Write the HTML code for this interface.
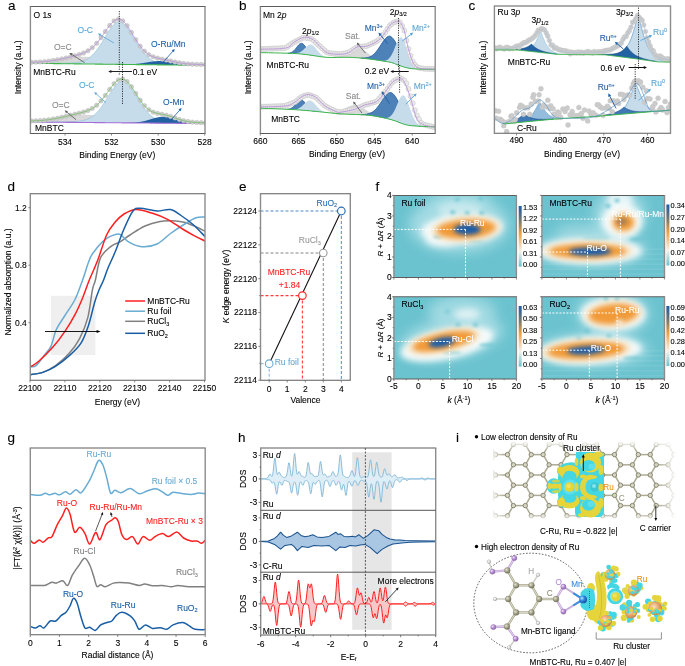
<!DOCTYPE html>
<html><head><meta charset="utf-8"><style>
html,body{margin:0;padding:0;background:#fff;width:685px;height:666px;overflow:hidden}
svg{display:block;will-change:transform}
text{font-family:"Liberation Sans", sans-serif;-webkit-font-smoothing:antialiased}
</style></head><body>
<svg width="685" height="666" viewBox="0 0 685 666" font-family='"Liberation Sans", sans-serif'>
<rect width="685" height="666" fill="#fff"/>
<clipPath id="clipA"><rect x="30.4" y="6.5" width="174.6" height="126.9"/></clipPath><g clip-path="url(#clipA)"><path d="M30.4,63.09 L30.9,63.08 L31.4,63.07 L31.9,63.06 L32.4,63.05 L32.9,63.04 L33.4,63.03 L33.9,63.02 L34.4,63 L34.9,62.99 L35.4,62.97 L35.9,62.95 L36.4,62.93 L36.9,62.91 L37.4,62.89 L37.9,62.87 L38.4,62.85 L38.9,62.82 L39.4,62.8 L39.9,62.77 L40.4,62.74 L40.9,62.71 L41.4,62.68 L41.9,62.65 L42.4,62.61 L42.9,62.58 L43.4,62.54 L43.9,62.5 L44.4,62.46 L44.9,62.42 L45.4,62.37 L45.9,62.33 L46.4,62.28 L46.9,62.23 L47.4,62.18 L47.9,62.13 L48.4,62.07 L48.9,62.01 L49.4,61.96 L49.9,61.9 L50.4,61.83 L50.9,61.77 L51.4,61.7 L51.9,61.64 L52.4,61.57 L52.9,61.5 L53.4,61.42 L53.9,61.35 L54.4,61.27 L54.9,61.19 L55.4,61.11 L55.9,61.03 L56.4,60.95 L56.9,60.87 L57.4,60.78 L57.9,60.69 L58.4,60.61 L58.9,60.52 L59.4,60.42 L59.9,60.33 L60.4,60.24 L60.9,60.15 L61.4,60.05 L61.9,59.96 L62.4,59.86 L62.9,59.76 L63.4,59.67 L63.9,59.57 L64.4,59.47 L64.9,59.37 L65.4,59.27 L65.9,59.18 L66.4,59.08 L66.9,58.98 L67.4,58.88 L67.9,58.79 L68.4,58.69 L68.9,58.6 L69.4,58.5 L69.9,58.41 L70.4,58.32 L70.9,58.23 L71.4,58.14 L71.9,58.06 L72.4,57.97 L72.9,57.89 L73.4,57.81 L73.9,57.73 L74.4,57.65 L74.9,57.58 L75.4,57.51 L75.9,57.44 L76.4,57.37 L76.9,57.31 L77.4,57.25 L77.9,57.19 L78.4,57.14 L78.9,57.09 L79.4,57.04 L79.9,57 L80.4,56.96 L80.9,56.92 L81.4,56.89 L81.9,56.86 L82.4,56.83 L82.9,56.81 L83.4,56.8 L83.9,56.78 L84.4,56.77 L84.9,56.77 L85.4,56.77 L85.9,56.77 L86.4,56.78 L86.9,56.79 L87.4,56.8 L87.9,56.82 L88.4,56.85 L88.9,56.88 L89.4,56.91 L89.9,56.94 L90.4,56.98 L90.9,57.02 L91.4,57.07 L91.9,57.12 L92.4,57.18 L92.9,57.23 L93.4,57.29 L93.9,57.36 L94.4,57.43 L94.9,57.5 L95.4,57.57 L95.9,57.65 L96.4,57.73 L96.9,57.81 L97.4,57.9 L97.9,57.98 L98.4,58.07 L98.9,58.16 L99.4,58.26 L99.9,58.36 L100.4,58.45 L100.9,58.55 L101.4,58.65 L101.9,58.76 L102.4,58.86 L102.9,58.97 L103.4,59.07 L103.9,59.18 L104.4,59.29 L104.9,59.4 L105.4,59.51 L105.9,59.62 L106.4,59.73 L106.9,59.83 L107.4,59.94 L107.9,60.05 L108.4,60.16 L108.9,60.27 L109.4,60.38 L109.9,60.49 L110.4,60.6 L110.9,60.71 L111.4,60.81 L111.9,60.92 L112.4,61.02 L112.9,61.13 L113.4,61.23 L113.9,61.33 L114.4,61.43 L114.9,61.53 L115.4,61.62 L115.9,61.72 L116.4,61.81 L116.9,61.9 L117.4,61.99 L117.9,62.08 L118.4,62.17 L118.9,62.26 L119.4,62.34 L119.9,62.42 L120.4,62.5 L120.9,62.58 L121.4,62.66 L121.9,62.73 L122.4,62.81 L122.9,62.88 L123.4,62.95 L123.9,63.01 L124.4,63.08 L124.9,63.14 L125.4,63.21 L125.9,63.27 L126.4,63.33 L126.9,63.38 L127.4,63.44 L127.9,63.49 L128.4,63.54 L128.9,63.59 L129.4,63.64 L129.9,63.69 L130.4,63.73 L130.9,63.78 L131.4,63.82 L131.9,63.86 L132.4,63.9 L132.9,63.94 L133.4,63.98 L133.9,64.01 L134.4,64.05 L134.9,64.08 L135.4,64.11 L135.9,64.14 L136.4,64.17 L136.9,64.2 L137.4,64.23 L137.9,64.26 L138.4,64.28 L138.9,64.31 L139.4,64.33 L139.9,64.35 L140.4,64.37 L140.9,64.39 L141.4,64.41 L141.9,64.43 L142.4,64.45 L142.9,64.47 L143.4,64.49 L143.9,64.51 L144.4,64.52 L144.4,64.67 L143.9,64.67 L143.4,64.66 L142.9,64.65 L142.4,64.65 L141.9,64.64 L141.4,64.64 L140.9,64.63 L140.4,64.62 L139.9,64.62 L139.4,64.61 L138.9,64.61 L138.4,64.6 L137.9,64.59 L137.4,64.59 L136.9,64.58 L136.4,64.58 L135.9,64.57 L135.4,64.56 L134.9,64.56 L134.4,64.55 L133.9,64.55 L133.4,64.54 L132.9,64.53 L132.4,64.53 L131.9,64.52 L131.4,64.52 L130.9,64.51 L130.4,64.5 L129.9,64.5 L129.4,64.49 L128.9,64.49 L128.4,64.48 L127.9,64.47 L127.4,64.47 L126.9,64.46 L126.4,64.46 L125.9,64.45 L125.4,64.44 L124.9,64.44 L124.4,64.43 L123.9,64.43 L123.4,64.42 L122.9,64.41 L122.4,64.41 L121.9,64.4 L121.4,64.4 L120.9,64.39 L120.4,64.38 L119.9,64.38 L119.4,64.37 L118.9,64.37 L118.4,64.36 L117.9,64.35 L117.4,64.35 L116.9,64.34 L116.4,64.34 L115.9,64.33 L115.4,64.32 L114.9,64.32 L114.4,64.31 L113.9,64.31 L113.4,64.3 L112.9,64.29 L112.4,64.29 L111.9,64.28 L111.4,64.28 L110.9,64.27 L110.4,64.26 L109.9,64.26 L109.4,64.25 L108.9,64.25 L108.4,64.24 L107.9,64.23 L107.4,64.23 L106.9,64.22 L106.4,64.22 L105.9,64.21 L105.4,64.2 L104.9,64.2 L104.4,64.19 L103.9,64.19 L103.4,64.18 L102.9,64.17 L102.4,64.17 L101.9,64.16 L101.4,64.16 L100.9,64.15 L100.4,64.14 L99.9,64.14 L99.4,64.13 L98.9,64.13 L98.4,64.12 L97.9,64.11 L97.4,64.11 L96.9,64.1 L96.4,64.1 L95.9,64.09 L95.4,64.08 L94.9,64.08 L94.4,64.07 L93.9,64.07 L93.4,64.06 L92.9,64.05 L92.4,64.05 L91.9,64.04 L91.4,64.04 L90.9,64.03 L90.4,64.02 L89.9,64.02 L89.4,64.01 L88.9,64.01 L88.4,64 L87.9,63.99 L87.4,63.99 L86.9,63.98 L86.4,63.98 L85.9,63.97 L85.4,63.96 L84.9,63.96 L84.4,63.95 L83.9,63.95 L83.4,63.94 L82.9,63.93 L82.4,63.93 L81.9,63.92 L81.4,63.92 L80.9,63.91 L80.4,63.9 L79.9,63.9 L79.4,63.89 L78.9,63.89 L78.4,63.88 L77.9,63.87 L77.4,63.87 L76.9,63.86 L76.4,63.86 L75.9,63.85 L75.4,63.84 L74.9,63.84 L74.4,63.83 L73.9,63.83 L73.4,63.82 L72.9,63.81 L72.4,63.81 L71.9,63.8 L71.4,63.8 L70.9,63.79 L70.4,63.78 L69.9,63.78 L69.4,63.77 L68.9,63.77 L68.4,63.76 L67.9,63.75 L67.4,63.75 L66.9,63.74 L66.4,63.74 L65.9,63.73 L65.4,63.72 L64.9,63.72 L64.4,63.71 L63.9,63.71 L63.4,63.7 L62.9,63.69 L62.4,63.69 L61.9,63.68 L61.4,63.68 L60.9,63.67 L60.4,63.66 L59.9,63.66 L59.4,63.65 L58.9,63.65 L58.4,63.64 L57.9,63.63 L57.4,63.63 L56.9,63.62 L56.4,63.62 L55.9,63.61 L55.4,63.6 L54.9,63.6 L54.4,63.59 L53.9,63.59 L53.4,63.58 L52.9,63.57 L52.4,63.57 L51.9,63.56 L51.4,63.56 L50.9,63.55 L50.4,63.54 L49.9,63.54 L49.4,63.53 L48.9,63.53 L48.4,63.52 L47.9,63.51 L47.4,63.51 L46.9,63.5 L46.4,63.5 L45.9,63.49 L45.4,63.48 L44.9,63.48 L44.4,63.47 L43.9,63.47 L43.4,63.46 L42.9,63.45 L42.4,63.45 L41.9,63.44 L41.4,63.44 L40.9,63.43 L40.4,63.42 L39.9,63.42 L39.4,63.41 L38.9,63.41 L38.4,63.4 L37.9,63.39 L37.4,63.39 L36.9,63.38 L36.4,63.38 L35.9,63.37 L35.4,63.36 L34.9,63.36 L34.4,63.35 L33.9,63.35 L33.4,63.34 L32.9,63.33 L32.4,63.33 L31.9,63.32 L31.4,63.32 L30.9,63.31 L30.4,63.3 Z" fill="#d9d9d9" stroke="none"/><path d="M30.4,63.11 L30.9,63.12 L31.4,63.12 L31.9,63.12 L32.4,63.13 L32.9,63.13 L33.4,63.13 L33.9,63.14 L34.4,63.14 L34.9,63.14 L35.4,63.15 L35.9,63.15 L36.4,63.16 L36.9,63.16 L37.4,63.16 L37.9,63.17 L38.4,63.17 L38.9,63.17 L39.4,63.18 L39.9,63.18 L40.4,63.18 L40.9,63.18 L41.4,63.19 L41.9,63.19 L42.4,63.19 L42.9,63.2 L43.4,63.2 L43.9,63.2 L44.4,63.2 L44.9,63.21 L45.4,63.21 L45.9,63.21 L46.4,63.21 L46.9,63.22 L47.4,63.22 L47.9,63.22 L48.4,63.22 L48.9,63.22 L49.4,63.23 L49.9,63.23 L50.4,63.23 L50.9,63.23 L51.4,63.23 L51.9,63.23 L52.4,63.23 L52.9,63.24 L53.4,63.24 L53.9,63.24 L54.4,63.24 L54.9,63.24 L55.4,63.24 L55.9,63.24 L56.4,63.24 L56.9,63.24 L57.4,63.24 L57.9,63.24 L58.4,63.24 L58.9,63.23 L59.4,63.23 L59.9,63.23 L60.4,63.23 L60.9,63.22 L61.4,63.22 L61.9,63.22 L62.4,63.21 L62.9,63.21 L63.4,63.2 L63.9,63.2 L64.4,63.19 L64.9,63.18 L65.4,63.17 L65.9,63.16 L66.4,63.15 L66.9,63.14 L67.4,63.13 L67.9,63.11 L68.4,63.09 L68.9,63.08 L69.4,63.06 L69.9,63.04 L70.4,63.01 L70.9,62.99 L71.4,62.96 L71.9,62.93 L72.4,62.89 L72.9,62.86 L73.4,62.82 L73.9,62.77 L74.4,62.73 L74.9,62.67 L75.4,62.62 L75.9,62.56 L76.4,62.49 L76.9,62.42 L77.4,62.34 L77.9,62.26 L78.4,62.17 L78.9,62.07 L79.4,61.97 L79.9,61.86 L80.4,61.74 L80.9,61.61 L81.4,61.47 L81.9,61.32 L82.4,61.16 L82.9,60.99 L83.4,60.81 L83.9,60.62 L84.4,60.42 L84.9,60.2 L85.4,59.97 L85.9,59.72 L86.4,59.46 L86.9,59.19 L87.4,58.89 L87.9,58.59 L88.4,58.26 L88.9,57.92 L89.4,57.56 L89.9,57.19 L90.4,56.79 L90.9,56.38 L91.4,55.95 L91.9,55.49 L92.4,55.02 L92.9,54.53 L93.4,54.02 L93.9,53.49 L94.4,52.94 L94.9,52.36 L95.4,51.77 L95.9,51.16 L96.4,50.53 L96.9,49.88 L97.4,49.22 L97.9,48.53 L98.4,47.83 L98.9,47.11 L99.4,46.37 L99.9,45.62 L100.4,44.86 L100.9,44.08 L101.4,43.29 L101.9,42.49 L102.4,41.68 L102.9,40.86 L103.4,40.04 L103.9,39.21 L104.4,38.38 L104.9,37.54 L105.4,36.71 L105.9,35.88 L106.4,35.05 L106.9,34.23 L107.4,33.42 L107.9,32.62 L108.4,31.83 L108.9,31.05 L109.4,30.29 L109.9,29.55 L110.4,28.83 L110.9,28.14 L111.4,27.47 L111.9,26.83 L112.4,26.22 L112.9,25.64 L113.4,25.1 L113.9,24.59 L114.4,24.12 L114.9,23.69 L115.4,23.3 L115.9,22.96 L116.4,22.66 L116.9,22.41 L117.4,22.21 L117.9,22.05 L118.4,21.94 L118.9,21.88 L119.4,21.87 L119.9,21.91 L120.4,22 L120.9,22.14 L121.4,22.33 L121.9,22.57 L122.4,22.85 L122.9,23.18 L123.4,23.55 L123.9,23.97 L124.4,24.43 L124.9,24.92 L125.4,25.46 L125.9,26.03 L126.4,26.63 L126.9,27.26 L127.4,27.93 L127.9,28.62 L128.4,29.34 L128.9,30.08 L129.4,30.84 L129.9,31.61 L130.4,32.41 L130.9,33.21 L131.4,34.03 L131.9,34.86 L132.4,35.7 L132.9,36.54 L133.4,37.38 L133.9,38.23 L134.4,39.07 L134.9,39.92 L135.4,40.76 L135.9,41.59 L136.4,42.42 L136.9,43.23 L137.4,44.04 L137.9,44.84 L138.4,45.62 L138.9,46.4 L139.4,47.15 L139.9,47.89 L140.4,48.62 L140.9,49.33 L141.4,50.02 L141.9,50.69 L142.4,51.34 L142.9,51.98 L143.4,52.59 L143.9,53.19 L144.4,53.76 L144.9,54.32 L145.4,54.85 L145.9,55.37 L146.4,55.86 L146.9,56.34 L147.4,56.8 L147.9,57.23 L148.4,57.65 L148.9,58.05 L149.4,58.43 L149.9,58.8 L150.4,59.14 L150.9,59.47 L151.4,59.78 L151.9,60.08 L152.4,60.36 L152.9,60.63 L153.4,60.88 L153.9,61.12 L154.4,61.34 L154.9,61.55 L155.4,61.75 L155.9,61.94 L156.4,62.12 L156.9,62.28 L157.4,62.44 L157.9,62.59 L158.4,62.73 L158.9,62.85 L159.4,62.97 L159.9,63.09 L160.4,63.19 L160.9,63.29 L161.4,63.39 L161.9,63.47 L162.4,63.55 L162.9,63.63 L163.4,63.7 L163.9,63.77 L164.4,63.83 L164.9,63.89 L165.4,63.94 L165.9,63.99 L166.4,64.04 L166.9,64.08 L167.4,64.12 L167.9,64.16 L168.4,64.2 L168.9,64.23 L169.4,64.27 L169.9,64.3 L170.4,64.33 L170.9,64.36 L171.4,64.38 L171.9,64.41 L172.4,64.43 L172.9,64.45 L173.4,64.47 L173.9,64.49 L174.4,64.51 L174.9,64.53 L175.4,64.55 L175.9,64.57 L176.4,64.58 L176.9,64.6 L177.4,64.62 L177.9,64.63 L178.4,64.65 L178.9,64.66 L179.4,64.68 L179.9,64.69 L180.4,64.7 L180.9,64.72 L181.4,64.73 L181.9,64.74 L182.4,64.75 L182.9,64.77 L183.4,64.78 L183.9,64.79 L184.4,64.8 L184.9,64.81 L185.4,64.82 L185.9,64.83 L186.4,64.84 L186.9,64.86 L187.4,64.87 L187.9,64.88 L188.4,64.89 L188.9,64.9 L189.4,64.91 L189.9,64.92 L190.4,64.93 L190.9,64.94 L191.4,64.95 L191.9,64.96 L192.4,64.97 L192.9,64.98 L193.4,64.99 L193.9,65 L194.4,65.01 L194.9,65.01 L195.4,65.02 L195.9,65.03 L196.4,65.04 L196.9,65.05 L197.4,65.06 L197.9,65.07 L198.4,65.08 L198.9,65.09 L199.4,65.1 L199.9,65.11 L200.4,65.11 L200.9,65.12 L201.4,65.13 L201.9,65.14 L202.4,65.15 L202.9,65.16 L203.4,65.17 L203.9,65.17 L204.4,65.18 L204.9,65.19 L204.9,65.4 L204.4,65.39 L203.9,65.39 L203.4,65.38 L202.9,65.37 L202.4,65.37 L201.9,65.36 L201.4,65.36 L200.9,65.35 L200.4,65.34 L199.9,65.34 L199.4,65.33 L198.9,65.33 L198.4,65.32 L197.9,65.31 L197.4,65.31 L196.9,65.3 L196.4,65.3 L195.9,65.29 L195.4,65.28 L194.9,65.28 L194.4,65.27 L193.9,65.27 L193.4,65.26 L192.9,65.25 L192.4,65.25 L191.9,65.24 L191.4,65.24 L190.9,65.23 L190.4,65.22 L189.9,65.22 L189.4,65.21 L188.9,65.21 L188.4,65.2 L187.9,65.19 L187.4,65.19 L186.9,65.18 L186.4,65.18 L185.9,65.17 L185.4,65.16 L184.9,65.16 L184.4,65.15 L183.9,65.15 L183.4,65.14 L182.9,65.13 L182.4,65.13 L181.9,65.12 L181.4,65.12 L180.9,65.11 L180.4,65.1 L179.9,65.1 L179.4,65.09 L178.9,65.09 L178.4,65.08 L177.9,65.07 L177.4,65.07 L176.9,65.06 L176.4,65.06 L175.9,65.05 L175.4,65.04 L174.9,65.04 L174.4,65.03 L173.9,65.03 L173.4,65.02 L172.9,65.01 L172.4,65.01 L171.9,65 L171.4,65 L170.9,64.99 L170.4,64.98 L169.9,64.98 L169.4,64.97 L168.9,64.97 L168.4,64.96 L167.9,64.95 L167.4,64.95 L166.9,64.94 L166.4,64.94 L165.9,64.93 L165.4,64.92 L164.9,64.92 L164.4,64.91 L163.9,64.91 L163.4,64.9 L162.9,64.89 L162.4,64.89 L161.9,64.88 L161.4,64.88 L160.9,64.87 L160.4,64.86 L159.9,64.86 L159.4,64.85 L158.9,64.85 L158.4,64.84 L157.9,64.83 L157.4,64.83 L156.9,64.82 L156.4,64.82 L155.9,64.81 L155.4,64.8 L154.9,64.8 L154.4,64.79 L153.9,64.79 L153.4,64.78 L152.9,64.77 L152.4,64.77 L151.9,64.76 L151.4,64.76 L150.9,64.75 L150.4,64.74 L149.9,64.74 L149.4,64.73 L148.9,64.73 L148.4,64.72 L147.9,64.71 L147.4,64.71 L146.9,64.7 L146.4,64.7 L145.9,64.69 L145.4,64.68 L144.9,64.68 L144.4,64.67 L143.9,64.67 L143.4,64.66 L142.9,64.65 L142.4,64.65 L141.9,64.64 L141.4,64.64 L140.9,64.63 L140.4,64.62 L139.9,64.62 L139.4,64.61 L138.9,64.61 L138.4,64.6 L137.9,64.59 L137.4,64.59 L136.9,64.58 L136.4,64.58 L135.9,64.57 L135.4,64.56 L134.9,64.56 L134.4,64.55 L133.9,64.55 L133.4,64.54 L132.9,64.53 L132.4,64.53 L131.9,64.52 L131.4,64.52 L130.9,64.51 L130.4,64.5 L129.9,64.5 L129.4,64.49 L128.9,64.49 L128.4,64.48 L127.9,64.47 L127.4,64.47 L126.9,64.46 L126.4,64.46 L125.9,64.45 L125.4,64.44 L124.9,64.44 L124.4,64.43 L123.9,64.43 L123.4,64.42 L122.9,64.41 L122.4,64.41 L121.9,64.4 L121.4,64.4 L120.9,64.39 L120.4,64.38 L119.9,64.38 L119.4,64.37 L118.9,64.37 L118.4,64.36 L117.9,64.35 L117.4,64.35 L116.9,64.34 L116.4,64.34 L115.9,64.33 L115.4,64.32 L114.9,64.32 L114.4,64.31 L113.9,64.31 L113.4,64.3 L112.9,64.29 L112.4,64.29 L111.9,64.28 L111.4,64.28 L110.9,64.27 L110.4,64.26 L109.9,64.26 L109.4,64.25 L108.9,64.25 L108.4,64.24 L107.9,64.23 L107.4,64.23 L106.9,64.22 L106.4,64.22 L105.9,64.21 L105.4,64.2 L104.9,64.2 L104.4,64.19 L103.9,64.19 L103.4,64.18 L102.9,64.17 L102.4,64.17 L101.9,64.16 L101.4,64.16 L100.9,64.15 L100.4,64.14 L99.9,64.14 L99.4,64.13 L98.9,64.13 L98.4,64.12 L97.9,64.11 L97.4,64.11 L96.9,64.1 L96.4,64.1 L95.9,64.09 L95.4,64.08 L94.9,64.08 L94.4,64.07 L93.9,64.07 L93.4,64.06 L92.9,64.05 L92.4,64.05 L91.9,64.04 L91.4,64.04 L90.9,64.03 L90.4,64.02 L89.9,64.02 L89.4,64.01 L88.9,64.01 L88.4,64 L87.9,63.99 L87.4,63.99 L86.9,63.98 L86.4,63.98 L85.9,63.97 L85.4,63.96 L84.9,63.96 L84.4,63.95 L83.9,63.95 L83.4,63.94 L82.9,63.93 L82.4,63.93 L81.9,63.92 L81.4,63.92 L80.9,63.91 L80.4,63.9 L79.9,63.9 L79.4,63.89 L78.9,63.89 L78.4,63.88 L77.9,63.87 L77.4,63.87 L76.9,63.86 L76.4,63.86 L75.9,63.85 L75.4,63.84 L74.9,63.84 L74.4,63.83 L73.9,63.83 L73.4,63.82 L72.9,63.81 L72.4,63.81 L71.9,63.8 L71.4,63.8 L70.9,63.79 L70.4,63.78 L69.9,63.78 L69.4,63.77 L68.9,63.77 L68.4,63.76 L67.9,63.75 L67.4,63.75 L66.9,63.74 L66.4,63.74 L65.9,63.73 L65.4,63.72 L64.9,63.72 L64.4,63.71 L63.9,63.71 L63.4,63.7 L62.9,63.69 L62.4,63.69 L61.9,63.68 L61.4,63.68 L60.9,63.67 L60.4,63.66 L59.9,63.66 L59.4,63.65 L58.9,63.65 L58.4,63.64 L57.9,63.63 L57.4,63.63 L56.9,63.62 L56.4,63.62 L55.9,63.61 L55.4,63.6 L54.9,63.6 L54.4,63.59 L53.9,63.59 L53.4,63.58 L52.9,63.57 L52.4,63.57 L51.9,63.56 L51.4,63.56 L50.9,63.55 L50.4,63.54 L49.9,63.54 L49.4,63.53 L48.9,63.53 L48.4,63.52 L47.9,63.51 L47.4,63.51 L46.9,63.5 L46.4,63.5 L45.9,63.49 L45.4,63.48 L44.9,63.48 L44.4,63.47 L43.9,63.47 L43.4,63.46 L42.9,63.45 L42.4,63.45 L41.9,63.44 L41.4,63.44 L40.9,63.43 L40.4,63.42 L39.9,63.42 L39.4,63.41 L38.9,63.41 L38.4,63.4 L37.9,63.39 L37.4,63.39 L36.9,63.38 L36.4,63.38 L35.9,63.37 L35.4,63.36 L34.9,63.36 L34.4,63.35 L33.9,63.35 L33.4,63.34 L32.9,63.33 L32.4,63.33 L31.9,63.32 L31.4,63.32 L30.9,63.31 L30.4,63.3 Z" fill="#c6dcea" stroke="none"/><path d="M30.4,63.11 L30.9,63.12 L31.4,63.12 L31.9,63.12 L32.4,63.13 L32.9,63.13 L33.4,63.13 L33.9,63.14 L34.4,63.14 L34.9,63.14 L35.4,63.15 L35.9,63.15 L36.4,63.16 L36.9,63.16 L37.4,63.16 L37.9,63.17 L38.4,63.17 L38.9,63.17 L39.4,63.18 L39.9,63.18 L40.4,63.18 L40.9,63.18 L41.4,63.19 L41.9,63.19 L42.4,63.19 L42.9,63.2 L43.4,63.2 L43.9,63.2 L44.4,63.2 L44.9,63.21 L45.4,63.21 L45.9,63.21 L46.4,63.21 L46.9,63.22 L47.4,63.22 L47.9,63.22 L48.4,63.22 L48.9,63.22 L49.4,63.23 L49.9,63.23 L50.4,63.23 L50.9,63.23 L51.4,63.23 L51.9,63.23 L52.4,63.23 L52.9,63.24 L53.4,63.24 L53.9,63.24 L54.4,63.24 L54.9,63.24 L55.4,63.24 L55.9,63.24 L56.4,63.24 L56.9,63.24 L57.4,63.24 L57.9,63.24 L58.4,63.24 L58.9,63.23 L59.4,63.23 L59.9,63.23 L60.4,63.23 L60.9,63.22 L61.4,63.22 L61.9,63.22 L62.4,63.21 L62.9,63.21 L63.4,63.2 L63.9,63.2 L64.4,63.19 L64.9,63.18 L65.4,63.17 L65.9,63.16 L66.4,63.15 L66.9,63.14 L67.4,63.13 L67.9,63.11 L68.4,63.09 L68.9,63.08 L69.4,63.06 L69.9,63.04 L70.4,63.01 L70.9,62.99 L71.4,62.96 L71.9,62.93 L72.4,62.89 L72.9,62.86 L73.4,62.82 L73.9,62.77 L74.4,62.73 L74.9,62.67 L75.4,62.62 L75.9,62.56 L76.4,62.49 L76.9,62.42 L77.4,62.34 L77.9,62.26 L78.4,62.17 L78.9,62.07 L79.4,61.97 L79.9,61.86 L80.4,61.74 L80.9,61.61 L81.4,61.47 L81.9,61.32 L82.4,61.16 L82.9,60.99 L83.4,60.81 L83.9,60.62 L84.4,60.42 L84.9,60.2 L85.4,59.97 L85.9,59.72 L86.4,59.46 L86.9,59.19 L87.4,58.89 L87.9,58.59 L88.4,58.26 L88.9,57.92 L89.4,57.56 L89.9,57.19 L90.4,56.79 L90.9,56.38 L91.4,55.95 L91.9,55.49 L92.4,55.02 L92.9,54.53 L93.4,54.02 L93.9,53.49 L94.4,52.94 L94.9,52.36 L95.4,51.77 L95.9,51.16 L96.4,50.53 L96.9,49.88 L97.4,49.22 L97.9,48.53 L98.4,47.83 L98.9,47.11 L99.4,46.37 L99.9,45.62 L100.4,44.86 L100.9,44.08 L101.4,43.29 L101.9,42.49 L102.4,41.68 L102.9,40.86 L103.4,40.04 L103.9,39.21 L104.4,38.38 L104.9,37.54 L105.4,36.71 L105.9,35.88 L106.4,35.05 L106.9,34.23 L107.4,33.42 L107.9,32.62 L108.4,31.83 L108.9,31.05 L109.4,30.29 L109.9,29.55 L110.4,28.83 L110.9,28.14 L111.4,27.47 L111.9,26.83 L112.4,26.22 L112.9,25.64 L113.4,25.1 L113.9,24.59 L114.4,24.12 L114.9,23.69 L115.4,23.3 L115.9,22.96 L116.4,22.66 L116.9,22.41 L117.4,22.21 L117.9,22.05 L118.4,21.94 L118.9,21.88 L119.4,21.87 L119.9,21.91 L120.4,22 L120.9,22.14 L121.4,22.33 L121.9,22.57 L122.4,22.85 L122.9,23.18 L123.4,23.55 L123.9,23.97 L124.4,24.43 L124.9,24.92 L125.4,25.46 L125.9,26.03 L126.4,26.63 L126.9,27.26 L127.4,27.93 L127.9,28.62 L128.4,29.34 L128.9,30.08 L129.4,30.84 L129.9,31.61 L130.4,32.41 L130.9,33.21 L131.4,34.03 L131.9,34.86 L132.4,35.7 L132.9,36.54 L133.4,37.38 L133.9,38.23 L134.4,39.07 L134.9,39.92 L135.4,40.76 L135.9,41.59 L136.4,42.42 L136.9,43.23 L137.4,44.04 L137.9,44.84 L138.4,45.62 L138.9,46.4 L139.4,47.15 L139.9,47.89 L140.4,48.62 L140.9,49.33 L141.4,50.02 L141.9,50.69 L142.4,51.34 L142.9,51.98 L143.4,52.59 L143.9,53.19 L144.4,53.76 L144.9,54.32 L145.4,54.85 L145.9,55.37 L146.4,55.86 L146.9,56.34 L147.4,56.8 L147.9,57.23 L148.4,57.65 L148.9,58.05 L149.4,58.43 L149.9,58.8 L150.4,59.14 L150.9,59.47 L151.4,59.78 L151.9,60.08 L152.4,60.36 L152.9,60.63 L153.4,60.88 L153.9,61.12 L154.4,61.34 L154.9,61.55 L155.4,61.75 L155.9,61.94 L156.4,62.12 L156.9,62.28 L157.4,62.44 L157.9,62.59 L158.4,62.73 L158.9,62.85 L159.4,62.97 L159.9,63.09 L160.4,63.19 L160.9,63.29 L161.4,63.39 L161.9,63.47 L162.4,63.55 L162.9,63.63 L163.4,63.7 L163.9,63.77 L164.4,63.83 L164.9,63.89 L165.4,63.94 L165.9,63.99 L166.4,64.04 L166.9,64.08 L167.4,64.12 L167.9,64.16 L168.4,64.2 L168.9,64.23 L169.4,64.27 L169.9,64.3 L170.4,64.33 L170.9,64.36 L171.4,64.38 L171.9,64.41 L172.4,64.43 L172.9,64.45 L173.4,64.47 L173.9,64.49 L174.4,64.51 L174.9,64.53 L175.4,64.55 L175.9,64.57 L176.4,64.58 L176.9,64.6 L177.4,64.62 L177.9,64.63 L178.4,64.65 L178.9,64.66 L179.4,64.68 L179.9,64.69 L180.4,64.7 L180.9,64.72 L181.4,64.73 L181.9,64.74 L182.4,64.75 L182.9,64.77 L183.4,64.78 L183.9,64.79 L184.4,64.8 L184.9,64.81 L185.4,64.82 L185.9,64.83 L186.4,64.84 L186.9,64.86 L187.4,64.87 L187.9,64.88 L188.4,64.89 L188.9,64.9 L189.4,64.91 L189.9,64.92 L190.4,64.93 L190.9,64.94 L191.4,64.95 L191.9,64.96 L192.4,64.97 L192.9,64.98 L193.4,64.99 L193.9,65 L194.4,65.01 L194.9,65.01 L195.4,65.02 L195.9,65.03 L196.4,65.04 L196.9,65.05 L197.4,65.06 L197.9,65.07 L198.4,65.08 L198.9,65.09 L199.4,65.1 L199.9,65.11 L200.4,65.11 L200.9,65.12 L201.4,65.13 L201.9,65.14 L202.4,65.15 L202.9,65.16 L203.4,65.17 L203.9,65.17 L204.4,65.18 L204.9,65.19" fill="none" stroke="#8fbfdc" stroke-width="0.6"/><path d="M127.4,64.31 L127.9,64.29 L128.4,64.28 L128.9,64.27 L129.4,64.25 L129.9,64.24 L130.4,64.22 L130.9,64.2 L131.4,64.18 L131.9,64.16 L132.4,64.13 L132.9,64.1 L133.4,64.07 L133.9,64.04 L134.4,64.01 L134.9,63.97 L135.4,63.93 L135.9,63.89 L136.4,63.85 L136.9,63.8 L137.4,63.75 L137.9,63.7 L138.4,63.65 L138.9,63.59 L139.4,63.53 L139.9,63.47 L140.4,63.41 L140.9,63.34 L141.4,63.27 L141.9,63.2 L142.4,63.13 L142.9,63.05 L143.4,62.98 L143.9,62.9 L144.4,62.82 L144.9,62.74 L145.4,62.66 L145.9,62.58 L146.4,62.5 L146.9,62.42 L147.4,62.33 L147.9,62.25 L148.4,62.17 L148.9,62.09 L149.4,62.01 L149.9,61.93 L150.4,61.85 L150.9,61.78 L151.4,61.7 L151.9,61.63 L152.4,61.57 L152.9,61.5 L153.4,61.44 L153.9,61.38 L154.4,61.33 L154.9,61.28 L155.4,61.24 L155.9,61.2 L156.4,61.16 L156.9,61.13 L157.4,61.1 L157.9,61.08 L158.4,61.07 L158.9,61.06 L159.4,61.06 L159.9,61.06 L160.4,61.07 L160.9,61.08 L161.4,61.1 L161.9,61.12 L162.4,61.15 L162.9,61.19 L163.4,61.23 L163.9,61.27 L164.4,61.32 L164.9,61.38 L165.4,61.44 L165.9,61.5 L166.4,61.57 L166.9,61.64 L167.4,61.72 L167.9,61.8 L168.4,61.88 L168.9,61.96 L169.4,62.05 L169.9,62.14 L170.4,62.23 L170.9,62.32 L171.4,62.41 L171.9,62.5 L172.4,62.6 L172.9,62.69 L173.4,62.79 L173.9,62.88 L174.4,62.98 L174.9,63.07 L175.4,63.16 L175.9,63.25 L176.4,63.34 L176.9,63.43 L177.4,63.52 L177.9,63.6 L178.4,63.69 L178.9,63.77 L179.4,63.84 L179.9,63.92 L180.4,64 L180.9,64.07 L181.4,64.14 L181.9,64.2 L182.4,64.27 L182.9,64.33 L183.4,64.39 L183.9,64.45 L184.4,64.5 L184.9,64.55 L185.4,64.6 L185.9,64.65 L186.4,64.69 L186.9,64.74 L187.4,64.78 L187.9,64.81 L188.4,64.85 L188.9,64.89 L189.4,64.92 L189.9,64.95 L190.4,64.98 L190.9,65.01 L191.4,65.03 L191.9,65.06 L192.4,65.08 L192.9,65.1 L192.9,65.25 L192.4,65.25 L191.9,65.24 L191.4,65.24 L190.9,65.23 L190.4,65.22 L189.9,65.22 L189.4,65.21 L188.9,65.21 L188.4,65.2 L187.9,65.19 L187.4,65.19 L186.9,65.18 L186.4,65.18 L185.9,65.17 L185.4,65.16 L184.9,65.16 L184.4,65.15 L183.9,65.15 L183.4,65.14 L182.9,65.13 L182.4,65.13 L181.9,65.12 L181.4,65.12 L180.9,65.11 L180.4,65.1 L179.9,65.1 L179.4,65.09 L178.9,65.09 L178.4,65.08 L177.9,65.07 L177.4,65.07 L176.9,65.06 L176.4,65.06 L175.9,65.05 L175.4,65.04 L174.9,65.04 L174.4,65.03 L173.9,65.03 L173.4,65.02 L172.9,65.01 L172.4,65.01 L171.9,65 L171.4,65 L170.9,64.99 L170.4,64.98 L169.9,64.98 L169.4,64.97 L168.9,64.97 L168.4,64.96 L167.9,64.95 L167.4,64.95 L166.9,64.94 L166.4,64.94 L165.9,64.93 L165.4,64.92 L164.9,64.92 L164.4,64.91 L163.9,64.91 L163.4,64.9 L162.9,64.89 L162.4,64.89 L161.9,64.88 L161.4,64.88 L160.9,64.87 L160.4,64.86 L159.9,64.86 L159.4,64.85 L158.9,64.85 L158.4,64.84 L157.9,64.83 L157.4,64.83 L156.9,64.82 L156.4,64.82 L155.9,64.81 L155.4,64.8 L154.9,64.8 L154.4,64.79 L153.9,64.79 L153.4,64.78 L152.9,64.77 L152.4,64.77 L151.9,64.76 L151.4,64.76 L150.9,64.75 L150.4,64.74 L149.9,64.74 L149.4,64.73 L148.9,64.73 L148.4,64.72 L147.9,64.71 L147.4,64.71 L146.9,64.7 L146.4,64.7 L145.9,64.69 L145.4,64.68 L144.9,64.68 L144.4,64.67 L143.9,64.67 L143.4,64.66 L142.9,64.65 L142.4,64.65 L141.9,64.64 L141.4,64.64 L140.9,64.63 L140.4,64.62 L139.9,64.62 L139.4,64.61 L138.9,64.61 L138.4,64.6 L137.9,64.59 L137.4,64.59 L136.9,64.58 L136.4,64.58 L135.9,64.57 L135.4,64.56 L134.9,64.56 L134.4,64.55 L133.9,64.55 L133.4,64.54 L132.9,64.53 L132.4,64.53 L131.9,64.52 L131.4,64.52 L130.9,64.51 L130.4,64.5 L129.9,64.5 L129.4,64.49 L128.9,64.49 L128.4,64.48 L127.9,64.47 L127.4,64.47 Z" fill="#2262a3" stroke="none"/><path d="M30.4,63.3 L31.4,63.32 L32.4,63.33 L33.4,63.34 L34.4,63.35 L35.4,63.36 L36.4,63.38 L37.4,63.39 L38.4,63.4 L39.4,63.41 L40.4,63.42 L41.4,63.44 L42.4,63.45 L43.4,63.46 L44.4,63.47 L45.4,63.48 L46.4,63.5 L47.4,63.51 L48.4,63.52 L49.4,63.53 L50.4,63.54 L51.4,63.56 L52.4,63.57 L53.4,63.58 L54.4,63.59 L55.4,63.6 L56.4,63.62 L57.4,63.63 L58.4,63.64 L59.4,63.65 L60.4,63.66 L61.4,63.68 L62.4,63.69 L63.4,63.7 L64.4,63.71 L65.4,63.72 L66.4,63.74 L67.4,63.75 L68.4,63.76 L69.4,63.77 L70.4,63.78 L71.4,63.8 L72.4,63.81 L73.4,63.82 L74.4,63.83 L75.4,63.84 L76.4,63.86 L77.4,63.87 L78.4,63.88 L79.4,63.89 L80.4,63.9 L81.4,63.92 L82.4,63.93 L83.4,63.94 L84.4,63.95 L85.4,63.96 L86.4,63.98 L87.4,63.99 L88.4,64 L89.4,64.01 L90.4,64.02 L91.4,64.04 L92.4,64.05 L93.4,64.06 L94.4,64.07 L95.4,64.08 L96.4,64.1 L97.4,64.11 L98.4,64.12 L99.4,64.13 L100.4,64.14 L101.4,64.16 L102.4,64.17 L103.4,64.18 L104.4,64.19 L105.4,64.2 L106.4,64.22 L107.4,64.23 L108.4,64.24 L109.4,64.25 L110.4,64.26 L111.4,64.28 L112.4,64.29 L113.4,64.3 L114.4,64.31 L115.4,64.32 L116.4,64.34 L117.4,64.35 L118.4,64.36 L119.4,64.37 L120.4,64.38 L121.4,64.4 L122.4,64.41 L123.4,64.42 L124.4,64.43 L125.4,64.44 L126.4,64.46 L127.4,64.47 L128.4,64.48 L129.4,64.49 L130.4,64.5 L131.4,64.52 L132.4,64.53 L133.4,64.54 L134.4,64.55 L135.4,64.56 L136.4,64.58 L137.4,64.59 L138.4,64.6 L139.4,64.61 L140.4,64.62 L141.4,64.64 L142.4,64.65 L143.4,64.66 L144.4,64.67 L145.4,64.68 L146.4,64.7 L147.4,64.71 L148.4,64.72 L149.4,64.73 L150.4,64.74 L151.4,64.76 L152.4,64.77 L153.4,64.78 L154.4,64.79 L155.4,64.8 L156.4,64.82 L157.4,64.83 L158.4,64.84 L159.4,64.85 L160.4,64.86 L161.4,64.88 L162.4,64.89 L163.4,64.9 L164.4,64.91 L165.4,64.92 L166.4,64.94 L167.4,64.95 L168.4,64.96 L169.4,64.97 L170.4,64.98 L171.4,65 L172.4,65.01 L173.4,65.02 L174.4,65.03 L175.4,65.04 L176.4,65.06 L177.4,65.07 L178.4,65.08 L179.4,65.09 L180.4,65.1 L181.4,65.12 L182.4,65.13 L183.4,65.14 L184.4,65.15 L185.4,65.16 L186.4,65.18 L187.4,65.19 L188.4,65.2 L189.4,65.21 L190.4,65.22 L191.4,65.24 L192.4,65.25 L193.4,65.26 L194.4,65.27 L195.4,65.28 L196.4,65.3 L197.4,65.31 L198.4,65.32 L199.4,65.33 L200.4,65.34 L201.4,65.36 L202.4,65.37 L203.4,65.38 L204.4,65.39" fill="none" stroke="#3cb54a" stroke-width="1.1" stroke-linejoin="round"/><circle cx="31.4" cy="62.27" r="2.2" fill="#cfcfcf" stroke="#b9b9b9" stroke-width="0.5"/><circle cx="35.75" cy="62.14" r="2.2" fill="#cfcfcf" stroke="#b9b9b9" stroke-width="0.5"/><circle cx="40.1" cy="61.92" r="2.2" fill="#cfcfcf" stroke="#b9b9b9" stroke-width="0.5"/><circle cx="44.45" cy="61.59" r="2.2" fill="#cfcfcf" stroke="#b9b9b9" stroke-width="0.5"/><circle cx="48.8" cy="61.12" r="2.2" fill="#cfcfcf" stroke="#b9b9b9" stroke-width="0.5"/><circle cx="53.15" cy="60.52" r="2.2" fill="#cfcfcf" stroke="#b9b9b9" stroke-width="0.5"/><circle cx="57.5" cy="59.77" r="2.2" fill="#cfcfcf" stroke="#b9b9b9" stroke-width="0.5"/><circle cx="61.85" cy="58.9" r="2.2" fill="#cfcfcf" stroke="#b9b9b9" stroke-width="0.5"/><circle cx="66.2" cy="57.94" r="2.2" fill="#cfcfcf" stroke="#b9b9b9" stroke-width="0.5"/><circle cx="70.55" cy="56.91" r="2.2" fill="#cfcfcf" stroke="#b9b9b9" stroke-width="0.5"/><circle cx="74.9" cy="55.81" r="2.2" fill="#cfcfcf" stroke="#b9b9b9" stroke-width="0.5"/><circle cx="79.25" cy="54.56" r="2.2" fill="#cfcfcf" stroke="#b9b9b9" stroke-width="0.5"/><circle cx="83.6" cy="52.99" r="2.2" fill="#cfcfcf" stroke="#b9b9b9" stroke-width="0.5"/><circle cx="87.95" cy="50.79" r="2.2" fill="#cfcfcf" stroke="#b9b9b9" stroke-width="0.5"/><circle cx="92.3" cy="47.63" r="2.2" fill="#cfcfcf" stroke="#b9b9b9" stroke-width="0.5"/><circle cx="96.65" cy="43.28" r="2.2" fill="#cfcfcf" stroke="#b9b9b9" stroke-width="0.5"/><circle cx="101" cy="37.74" r="2.2" fill="#cfcfcf" stroke="#b9b9b9" stroke-width="0.5"/><circle cx="105.35" cy="31.48" r="2.2" fill="#cfcfcf" stroke="#b9b9b9" stroke-width="0.5"/><circle cx="109.7" cy="25.44" r="2.2" fill="#cfcfcf" stroke="#b9b9b9" stroke-width="0.5"/><circle cx="114.05" cy="20.89" r="2.2" fill="#cfcfcf" stroke="#b9b9b9" stroke-width="0.5"/><circle cx="118.4" cy="19.13" r="2.2" fill="#cfcfcf" stroke="#b9b9b9" stroke-width="0.5"/><circle cx="122.75" cy="20.86" r="2.2" fill="#cfcfcf" stroke="#b9b9b9" stroke-width="0.5"/><circle cx="127.1" cy="25.71" r="2.2" fill="#cfcfcf" stroke="#b9b9b9" stroke-width="0.5"/><circle cx="131.45" cy="32.48" r="2.2" fill="#cfcfcf" stroke="#b9b9b9" stroke-width="0.5"/><circle cx="135.8" cy="39.72" r="2.2" fill="#cfcfcf" stroke="#b9b9b9" stroke-width="0.5"/><circle cx="140.15" cy="46.21" r="2.2" fill="#cfcfcf" stroke="#b9b9b9" stroke-width="0.5"/><circle cx="144.5" cy="51.26" r="2.2" fill="#cfcfcf" stroke="#b9b9b9" stroke-width="0.5"/><circle cx="148.85" cy="54.7" r="2.2" fill="#cfcfcf" stroke="#b9b9b9" stroke-width="0.5"/><circle cx="153.2" cy="56.82" r="2.2" fill="#cfcfcf" stroke="#b9b9b9" stroke-width="0.5"/><circle cx="157.55" cy="58.13" r="2.2" fill="#cfcfcf" stroke="#b9b9b9" stroke-width="0.5"/><circle cx="161.9" cy="59.1" r="2.2" fill="#cfcfcf" stroke="#b9b9b9" stroke-width="0.5"/><circle cx="166.25" cy="60.03" r="2.2" fill="#cfcfcf" stroke="#b9b9b9" stroke-width="0.5"/><circle cx="170.6" cy="61.01" r="2.2" fill="#cfcfcf" stroke="#b9b9b9" stroke-width="0.5"/><circle cx="174.95" cy="61.97" r="2.2" fill="#cfcfcf" stroke="#b9b9b9" stroke-width="0.5"/><circle cx="179.3" cy="62.81" r="2.2" fill="#cfcfcf" stroke="#b9b9b9" stroke-width="0.5"/><circle cx="183.65" cy="63.46" r="2.2" fill="#cfcfcf" stroke="#b9b9b9" stroke-width="0.5"/><circle cx="188" cy="63.91" r="2.2" fill="#cfcfcf" stroke="#b9b9b9" stroke-width="0.5"/><circle cx="192.35" cy="64.19" r="2.2" fill="#cfcfcf" stroke="#b9b9b9" stroke-width="0.5"/><circle cx="196.7" cy="64.38" r="2.2" fill="#cfcfcf" stroke="#b9b9b9" stroke-width="0.5"/><circle cx="201.05" cy="64.5" r="2.2" fill="#cfcfcf" stroke="#b9b9b9" stroke-width="0.5"/><circle cx="205.4" cy="64.59" r="2.2" fill="#cfcfcf" stroke="#b9b9b9" stroke-width="0.5"/><path d="M30.4,62.29 L31.4,62.27 L32.4,62.25 L33.4,62.22 L34.4,62.19 L35.4,62.15 L36.4,62.11 L37.4,62.07 L38.4,62.02 L39.4,61.96 L40.4,61.9 L41.4,61.83 L42.4,61.76 L43.4,61.68 L44.4,61.59 L45.4,61.5 L46.4,61.4 L47.4,61.29 L48.4,61.17 L49.4,61.05 L50.4,60.92 L51.4,60.78 L52.4,60.63 L53.4,60.48 L54.4,60.32 L55.4,60.15 L56.4,59.97 L57.4,59.79 L58.4,59.6 L59.4,59.4 L60.4,59.2 L61.4,59 L62.4,58.78 L63.4,58.57 L64.4,58.35 L65.4,58.12 L66.4,57.89 L67.4,57.66 L68.4,57.43 L69.4,57.19 L70.4,56.95 L71.4,56.7 L72.4,56.46 L73.4,56.2 L74.4,55.94 L75.4,55.68 L76.4,55.41 L77.4,55.12 L78.4,54.83 L79.4,54.52 L80.4,54.19 L81.4,53.84 L82.4,53.47 L83.4,53.07 L84.4,52.64 L85.4,52.17 L86.4,51.66 L87.4,51.11 L88.4,50.51 L89.4,49.86 L90.4,49.15 L91.4,48.38 L92.4,47.55 L93.4,46.65 L94.4,45.69 L95.4,44.66 L96.4,43.56 L97.4,42.4 L98.4,41.18 L99.4,39.9 L100.4,38.57 L101.4,37.19 L102.4,35.77 L103.4,34.33 L104.4,32.87 L105.4,31.41 L106.4,29.96 L107.4,28.53 L108.4,27.15 L109.4,25.82 L110.4,24.57 L111.4,23.4 L112.4,22.35 L113.4,21.42 L114.4,20.63 L115.4,19.99 L116.4,19.52 L117.4,19.23 L118.4,19.13 L119.4,19.21 L120.4,19.49 L121.4,19.95 L122.4,20.59 L123.4,21.41 L124.4,22.38 L125.4,23.51 L126.4,24.76 L127.4,26.13 L128.4,27.6 L129.4,29.15 L130.4,30.75 L131.4,32.4 L132.4,34.07 L133.4,35.75 L134.4,37.42 L135.4,39.07 L136.4,40.68 L137.4,42.24 L138.4,43.75 L139.4,45.18 L140.4,46.55 L141.4,47.83 L142.4,49.03 L143.4,50.14 L144.4,51.16 L145.4,52.1 L146.4,52.95 L147.4,53.72 L148.4,54.41 L149.4,55.03 L150.4,55.58 L151.4,56.07 L152.4,56.51 L153.4,56.9 L154.4,57.24 L155.4,57.55 L156.4,57.84 L157.4,58.09 L158.4,58.33 L159.4,58.56 L160.4,58.78 L161.4,59 L162.4,59.21 L163.4,59.42 L164.4,59.63 L165.4,59.85 L166.4,60.07 L167.4,60.29 L168.4,60.51 L169.4,60.74 L170.4,60.97 L171.4,61.19 L172.4,61.42 L173.4,61.64 L174.4,61.86 L175.4,62.07 L176.4,62.27 L177.4,62.46 L178.4,62.65 L179.4,62.83 L180.4,62.99 L181.4,63.15 L182.4,63.29 L183.4,63.42 L184.4,63.55 L185.4,63.66 L186.4,63.76 L187.4,63.85 L188.4,63.94 L189.4,64.01 L190.4,64.08 L191.4,64.14 L192.4,64.2 L193.4,64.25 L194.4,64.29 L195.4,64.33 L196.4,64.37 L197.4,64.4 L198.4,64.43 L199.4,64.46 L200.4,64.48 L201.4,64.51 L202.4,64.53 L203.4,64.55 L204.4,64.57" fill="none" stroke="#b58ad8" stroke-width="0.8" stroke-linejoin="round"/><path d="M30.4,121.77 L30.9,121.76 L31.4,121.75 L31.9,121.73 L32.4,121.72 L32.9,121.71 L33.4,121.69 L33.9,121.68 L34.4,121.66 L34.9,121.64 L35.4,121.62 L35.9,121.6 L36.4,121.58 L36.9,121.56 L37.4,121.53 L37.9,121.51 L38.4,121.48 L38.9,121.45 L39.4,121.42 L39.9,121.39 L40.4,121.36 L40.9,121.32 L41.4,121.28 L41.9,121.25 L42.4,121.21 L42.9,121.17 L43.4,121.12 L43.9,121.08 L44.4,121.03 L44.9,120.99 L45.4,120.94 L45.9,120.88 L46.4,120.83 L46.9,120.77 L47.4,120.72 L47.9,120.66 L48.4,120.6 L48.9,120.53 L49.4,120.47 L49.9,120.4 L50.4,120.33 L50.9,120.26 L51.4,120.19 L51.9,120.11 L52.4,120.03 L52.9,119.95 L53.4,119.87 L53.9,119.79 L54.4,119.71 L54.9,119.62 L55.4,119.53 L55.9,119.44 L56.4,119.35 L56.9,119.26 L57.4,119.16 L57.9,119.06 L58.4,118.97 L58.9,118.87 L59.4,118.77 L59.9,118.67 L60.4,118.56 L60.9,118.46 L61.4,118.36 L61.9,118.25 L62.4,118.14 L62.9,118.04 L63.4,117.93 L63.9,117.82 L64.4,117.71 L64.9,117.61 L65.4,117.5 L65.9,117.39 L66.4,117.28 L66.9,117.17 L67.4,117.07 L67.9,116.96 L68.4,116.86 L68.9,116.75 L69.4,116.65 L69.9,116.55 L70.4,116.44 L70.9,116.34 L71.4,116.25 L71.9,116.15 L72.4,116.06 L72.9,115.97 L73.4,115.88 L73.9,115.79 L74.4,115.7 L74.9,115.62 L75.4,115.54 L75.9,115.47 L76.4,115.39 L76.9,115.32 L77.4,115.25 L77.9,115.19 L78.4,115.13 L78.9,115.07 L79.4,115.02 L79.9,114.97 L80.4,114.93 L80.9,114.88 L81.4,114.85 L81.9,114.81 L82.4,114.79 L82.9,114.76 L83.4,114.74 L83.9,114.72 L84.4,114.71 L84.9,114.7 L85.4,114.7 L85.9,114.7 L86.4,114.71 L86.9,114.72 L87.4,114.73 L87.9,114.75 L88.4,114.78 L88.9,114.8 L89.4,114.84 L89.9,114.87 L90.4,114.91 L90.9,114.96 L91.4,115.01 L91.9,115.06 L92.4,115.12 L92.9,115.18 L93.4,115.24 L93.9,115.31 L94.4,115.38 L94.9,115.45 L95.4,115.53 L95.9,115.61 L96.4,115.7 L96.9,115.79 L97.4,115.88 L97.9,115.97 L98.4,116.06 L98.9,116.16 L99.4,116.26 L99.9,116.36 L100.4,116.47 L100.9,116.57 L101.4,116.68 L101.9,116.79 L102.4,116.9 L102.9,117.01 L103.4,117.13 L103.9,117.24 L104.4,117.36 L104.9,117.47 L105.4,117.59 L105.9,117.7 L106.4,117.82 L106.9,117.94 L107.4,118.06 L107.9,118.17 L108.4,118.29 L108.9,118.41 L109.4,118.52 L109.9,118.64 L110.4,118.75 L110.9,118.87 L111.4,118.98 L111.9,119.09 L112.4,119.2 L112.9,119.31 L113.4,119.42 L113.9,119.53 L114.4,119.63 L114.9,119.74 L115.4,119.84 L115.9,119.94 L116.4,120.04 L116.9,120.14 L117.4,120.24 L117.9,120.33 L118.4,120.42 L118.9,120.51 L119.4,120.6 L119.9,120.69 L120.4,120.77 L120.9,120.86 L121.4,120.94 L121.9,121.02 L122.4,121.1 L122.9,121.17 L123.4,121.24 L123.9,121.31 L124.4,121.38 L124.9,121.45 L125.4,121.52 L125.9,121.58 L126.4,121.64 L126.9,121.7 L127.4,121.76 L127.9,121.82 L128.4,121.87 L128.9,121.92 L129.4,121.97 L129.9,122.02 L130.4,122.07 L130.9,122.11 L131.4,122.16 L131.9,122.2 L132.4,122.24 L132.9,122.28 L133.4,122.32 L133.9,122.36 L134.4,122.39 L134.9,122.43 L135.4,122.46 L135.9,122.49 L136.4,122.52 L136.9,122.55 L137.4,122.58 L137.9,122.6 L138.4,122.63 L138.9,122.65 L139.4,122.68 L139.9,122.7 L140.4,122.72 L140.9,122.74 L141.4,122.76 L141.9,122.78 L142.4,122.8 L142.9,122.82 L143.4,122.83 L143.9,122.85 L144.4,122.87 L144.9,122.88 L144.9,123.03 L144.4,123.03 L143.9,123.03 L143.4,123.02 L142.9,123.02 L142.4,123.01 L141.9,123.01 L141.4,123 L140.9,123 L140.4,122.99 L139.9,122.99 L139.4,122.98 L138.9,122.98 L138.4,122.98 L137.9,122.97 L137.4,122.97 L136.9,122.96 L136.4,122.96 L135.9,122.95 L135.4,122.95 L134.9,122.94 L134.4,122.94 L133.9,122.94 L133.4,122.93 L132.9,122.93 L132.4,122.92 L131.9,122.92 L131.4,122.91 L130.9,122.91 L130.4,122.9 L129.9,122.9 L129.4,122.89 L128.9,122.89 L128.4,122.89 L127.9,122.88 L127.4,122.88 L126.9,122.87 L126.4,122.87 L125.9,122.86 L125.4,122.86 L124.9,122.85 L124.4,122.85 L123.9,122.85 L123.4,122.84 L122.9,122.84 L122.4,122.83 L121.9,122.83 L121.4,122.82 L120.9,122.82 L120.4,122.81 L119.9,122.81 L119.4,122.8 L118.9,122.8 L118.4,122.8 L117.9,122.79 L117.4,122.79 L116.9,122.78 L116.4,122.78 L115.9,122.77 L115.4,122.77 L114.9,122.76 L114.4,122.76 L113.9,122.76 L113.4,122.75 L112.9,122.75 L112.4,122.74 L111.9,122.74 L111.4,122.73 L110.9,122.73 L110.4,122.72 L109.9,122.72 L109.4,122.71 L108.9,122.71 L108.4,122.71 L107.9,122.7 L107.4,122.7 L106.9,122.69 L106.4,122.69 L105.9,122.68 L105.4,122.68 L104.9,122.67 L104.4,122.67 L103.9,122.67 L103.4,122.66 L102.9,122.66 L102.4,122.65 L101.9,122.65 L101.4,122.64 L100.9,122.64 L100.4,122.63 L99.9,122.63 L99.4,122.62 L98.9,122.62 L98.4,122.62 L97.9,122.61 L97.4,122.61 L96.9,122.6 L96.4,122.6 L95.9,122.59 L95.4,122.59 L94.9,122.58 L94.4,122.58 L93.9,122.58 L93.4,122.57 L92.9,122.57 L92.4,122.56 L91.9,122.56 L91.4,122.55 L90.9,122.55 L90.4,122.54 L89.9,122.54 L89.4,122.53 L88.9,122.53 L88.4,122.53 L87.9,122.52 L87.4,122.52 L86.9,122.51 L86.4,122.51 L85.9,122.5 L85.4,122.5 L84.9,122.49 L84.4,122.49 L83.9,122.49 L83.4,122.48 L82.9,122.48 L82.4,122.47 L81.9,122.47 L81.4,122.46 L80.9,122.46 L80.4,122.45 L79.9,122.45 L79.4,122.44 L78.9,122.44 L78.4,122.44 L77.9,122.43 L77.4,122.43 L76.9,122.42 L76.4,122.42 L75.9,122.41 L75.4,122.41 L74.9,122.4 L74.4,122.4 L73.9,122.4 L73.4,122.39 L72.9,122.39 L72.4,122.38 L71.9,122.38 L71.4,122.37 L70.9,122.37 L70.4,122.36 L69.9,122.36 L69.4,122.35 L68.9,122.35 L68.4,122.35 L67.9,122.34 L67.4,122.34 L66.9,122.33 L66.4,122.33 L65.9,122.32 L65.4,122.32 L64.9,122.31 L64.4,122.31 L63.9,122.31 L63.4,122.3 L62.9,122.3 L62.4,122.29 L61.9,122.29 L61.4,122.28 L60.9,122.28 L60.4,122.27 L59.9,122.27 L59.4,122.26 L58.9,122.26 L58.4,122.26 L57.9,122.25 L57.4,122.25 L56.9,122.24 L56.4,122.24 L55.9,122.23 L55.4,122.23 L54.9,122.22 L54.4,122.22 L53.9,122.22 L53.4,122.21 L52.9,122.21 L52.4,122.2 L51.9,122.2 L51.4,122.19 L50.9,122.19 L50.4,122.18 L49.9,122.18 L49.4,122.17 L48.9,122.17 L48.4,122.17 L47.9,122.16 L47.4,122.16 L46.9,122.15 L46.4,122.15 L45.9,122.14 L45.4,122.14 L44.9,122.13 L44.4,122.13 L43.9,122.13 L43.4,122.12 L42.9,122.12 L42.4,122.11 L41.9,122.11 L41.4,122.1 L40.9,122.1 L40.4,122.09 L39.9,122.09 L39.4,122.08 L38.9,122.08 L38.4,122.08 L37.9,122.07 L37.4,122.07 L36.9,122.06 L36.4,122.06 L35.9,122.05 L35.4,122.05 L34.9,122.04 L34.4,122.04 L33.9,122.04 L33.4,122.03 L32.9,122.03 L32.4,122.02 L31.9,122.02 L31.4,122.01 L30.9,122.01 L30.4,122 Z" fill="#d9d9d9" stroke="none"/><path d="M30.4,121.83 L30.9,121.83 L31.4,121.83 L31.9,121.83 L32.4,121.84 L32.9,121.84 L33.4,121.84 L33.9,121.84 L34.4,121.85 L34.9,121.85 L35.4,121.85 L35.9,121.85 L36.4,121.86 L36.9,121.86 L37.4,121.86 L37.9,121.86 L38.4,121.87 L38.9,121.87 L39.4,121.87 L39.9,121.87 L40.4,121.87 L40.9,121.88 L41.4,121.88 L41.9,121.88 L42.4,121.88 L42.9,121.88 L43.4,121.88 L43.9,121.89 L44.4,121.89 L44.9,121.89 L45.4,121.89 L45.9,121.89 L46.4,121.89 L46.9,121.89 L47.4,121.9 L47.9,121.9 L48.4,121.9 L48.9,121.9 L49.4,121.9 L49.9,121.9 L50.4,121.9 L50.9,121.9 L51.4,121.9 L51.9,121.9 L52.4,121.9 L52.9,121.9 L53.4,121.9 L53.9,121.9 L54.4,121.9 L54.9,121.9 L55.4,121.9 L55.9,121.9 L56.4,121.9 L56.9,121.9 L57.4,121.9 L57.9,121.9 L58.4,121.9 L58.9,121.9 L59.4,121.9 L59.9,121.9 L60.4,121.89 L60.9,121.89 L61.4,121.89 L61.9,121.89 L62.4,121.88 L62.9,121.88 L63.4,121.88 L63.9,121.87 L64.4,121.87 L64.9,121.86 L65.4,121.86 L65.9,121.85 L66.4,121.85 L66.9,121.84 L67.4,121.83 L67.9,121.82 L68.4,121.81 L68.9,121.8 L69.4,121.79 L69.9,121.78 L70.4,121.76 L70.9,121.75 L71.4,121.73 L71.9,121.71 L72.4,121.69 L72.9,121.67 L73.4,121.65 L73.9,121.62 L74.4,121.59 L74.9,121.56 L75.4,121.53 L75.9,121.49 L76.4,121.46 L76.9,121.41 L77.4,121.37 L77.9,121.32 L78.4,121.26 L78.9,121.2 L79.4,121.14 L79.9,121.07 L80.4,121 L80.9,120.92 L81.4,120.83 L81.9,120.74 L82.4,120.64 L82.9,120.53 L83.4,120.41 L83.9,120.29 L84.4,120.16 L84.9,120.02 L85.4,119.86 L85.9,119.7 L86.4,119.53 L86.9,119.34 L87.4,119.15 L87.9,118.94 L88.4,118.72 L88.9,118.48 L89.4,118.23 L89.9,117.97 L90.4,117.69 L90.9,117.39 L91.4,117.08 L91.9,116.75 L92.4,116.41 L92.9,116.05 L93.4,115.67 L93.9,115.27 L94.4,114.85 L94.9,114.42 L95.4,113.96 L95.9,113.49 L96.4,113 L96.9,112.48 L97.4,111.95 L97.9,111.4 L98.4,110.83 L98.9,110.24 L99.4,109.63 L99.9,109 L100.4,108.36 L100.9,107.69 L101.4,107.01 L101.9,106.31 L102.4,105.6 L102.9,104.87 L103.4,104.13 L103.9,103.37 L104.4,102.61 L104.9,101.83 L105.4,101.04 L105.9,100.24 L106.4,99.44 L106.9,98.63 L107.4,97.82 L107.9,97 L108.4,96.19 L108.9,95.37 L109.4,94.56 L109.9,93.76 L110.4,92.96 L110.9,92.17 L111.4,91.39 L111.9,90.63 L112.4,89.88 L112.9,89.15 L113.4,88.43 L113.9,87.74 L114.4,87.08 L114.9,86.44 L115.4,85.83 L115.9,85.25 L116.4,84.71 L116.9,84.2 L117.4,83.72 L117.9,83.28 L118.4,82.89 L118.9,82.54 L119.4,82.23 L119.9,81.96 L120.4,81.74 L120.9,81.57 L121.4,81.44 L121.9,81.36 L122.4,81.33 L122.9,81.35 L123.4,81.42 L123.9,81.53 L124.4,81.7 L124.9,81.91 L125.4,82.17 L125.9,82.47 L126.4,82.81 L126.9,83.2 L127.4,83.63 L127.9,84.1 L128.4,84.6 L128.9,85.15 L129.4,85.72 L129.9,86.33 L130.4,86.96 L130.9,87.63 L131.4,88.32 L131.9,89.03 L132.4,89.76 L132.9,90.51 L133.4,91.28 L133.9,92.06 L134.4,92.85 L134.9,93.66 L135.4,94.47 L135.9,95.29 L136.4,96.11 L136.9,96.93 L137.4,97.76 L137.9,98.58 L138.4,99.4 L138.9,100.22 L139.4,101.03 L139.9,101.83 L140.4,102.62 L140.9,103.4 L141.4,104.17 L141.9,104.93 L142.4,105.67 L142.9,106.4 L143.4,107.11 L143.9,107.81 L144.4,108.49 L144.9,109.15 L145.4,109.79 L145.9,110.42 L146.4,111.03 L146.9,111.61 L147.4,112.18 L147.9,112.73 L148.4,113.26 L148.9,113.77 L149.4,114.26 L149.9,114.73 L150.4,115.18 L150.9,115.62 L151.4,116.03 L151.9,116.43 L152.4,116.8 L152.9,117.17 L153.4,117.51 L153.9,117.84 L154.4,118.15 L154.9,118.44 L155.4,118.72 L155.9,118.98 L156.4,119.23 L156.9,119.47 L157.4,119.69 L157.9,119.9 L158.4,120.1 L158.9,120.29 L159.4,120.46 L159.9,120.63 L160.4,120.78 L160.9,120.93 L161.4,121.07 L161.9,121.19 L162.4,121.31 L162.9,121.43 L163.4,121.53 L163.9,121.63 L164.4,121.72 L164.9,121.81 L165.4,121.89 L165.9,121.96 L166.4,122.03 L166.9,122.09 L167.4,122.16 L167.9,122.21 L168.4,122.27 L168.9,122.31 L169.4,122.36 L169.9,122.4 L170.4,122.44 L170.9,122.48 L171.4,122.52 L171.9,122.55 L172.4,122.58 L172.9,122.61 L173.4,122.64 L173.9,122.67 L174.4,122.69 L174.9,122.71 L175.4,122.74 L175.9,122.76 L176.4,122.78 L176.9,122.8 L177.4,122.81 L177.9,122.83 L178.4,122.85 L178.9,122.86 L179.4,122.88 L179.9,122.89 L180.4,122.91 L180.9,122.92 L181.4,122.94 L181.9,122.95 L182.4,122.96 L182.9,122.97 L183.4,122.98 L183.9,123 L184.4,123.01 L184.9,123.02 L185.4,123.03 L185.9,123.04 L186.4,123.05 L186.9,123.06 L187.4,123.07 L187.9,123.08 L188.4,123.09 L188.9,123.1 L189.4,123.11 L189.9,123.12 L190.4,123.13 L190.9,123.14 L191.4,123.14 L191.9,123.15 L192.4,123.16 L192.9,123.17 L193.4,123.18 L193.9,123.19 L194.4,123.2 L194.9,123.2 L195.4,123.21 L195.9,123.22 L196.4,123.23 L196.9,123.24 L197.4,123.24 L197.9,123.25 L198.4,123.26 L198.9,123.27 L199.4,123.28 L199.9,123.28 L200.4,123.29 L200.9,123.3 L201.4,123.3 L201.9,123.31 L202.4,123.32 L202.9,123.33 L203.4,123.33 L203.9,123.34 L204.4,123.35 L204.9,123.36 L204.9,123.57 L204.4,123.57 L203.9,123.57 L203.4,123.56 L202.9,123.56 L202.4,123.55 L201.9,123.55 L201.4,123.54 L200.9,123.54 L200.4,123.53 L199.9,123.53 L199.4,123.52 L198.9,123.52 L198.4,123.52 L197.9,123.51 L197.4,123.51 L196.9,123.5 L196.4,123.5 L195.9,123.49 L195.4,123.49 L194.9,123.48 L194.4,123.48 L193.9,123.48 L193.4,123.47 L192.9,123.47 L192.4,123.46 L191.9,123.46 L191.4,123.45 L190.9,123.45 L190.4,123.44 L189.9,123.44 L189.4,123.43 L188.9,123.43 L188.4,123.43 L187.9,123.42 L187.4,123.42 L186.9,123.41 L186.4,123.41 L185.9,123.4 L185.4,123.4 L184.9,123.39 L184.4,123.39 L183.9,123.39 L183.4,123.38 L182.9,123.38 L182.4,123.37 L181.9,123.37 L181.4,123.36 L180.9,123.36 L180.4,123.35 L179.9,123.35 L179.4,123.34 L178.9,123.34 L178.4,123.34 L177.9,123.33 L177.4,123.33 L176.9,123.32 L176.4,123.32 L175.9,123.31 L175.4,123.31 L174.9,123.3 L174.4,123.3 L173.9,123.3 L173.4,123.29 L172.9,123.29 L172.4,123.28 L171.9,123.28 L171.4,123.27 L170.9,123.27 L170.4,123.26 L169.9,123.26 L169.4,123.25 L168.9,123.25 L168.4,123.25 L167.9,123.24 L167.4,123.24 L166.9,123.23 L166.4,123.23 L165.9,123.22 L165.4,123.22 L164.9,123.21 L164.4,123.21 L163.9,123.21 L163.4,123.2 L162.9,123.2 L162.4,123.19 L161.9,123.19 L161.4,123.18 L160.9,123.18 L160.4,123.17 L159.9,123.17 L159.4,123.16 L158.9,123.16 L158.4,123.16 L157.9,123.15 L157.4,123.15 L156.9,123.14 L156.4,123.14 L155.9,123.13 L155.4,123.13 L154.9,123.12 L154.4,123.12 L153.9,123.12 L153.4,123.11 L152.9,123.11 L152.4,123.1 L151.9,123.1 L151.4,123.09 L150.9,123.09 L150.4,123.08 L149.9,123.08 L149.4,123.07 L148.9,123.07 L148.4,123.07 L147.9,123.06 L147.4,123.06 L146.9,123.05 L146.4,123.05 L145.9,123.04 L145.4,123.04 L144.9,123.03 L144.4,123.03 L143.9,123.03 L143.4,123.02 L142.9,123.02 L142.4,123.01 L141.9,123.01 L141.4,123 L140.9,123 L140.4,122.99 L139.9,122.99 L139.4,122.98 L138.9,122.98 L138.4,122.98 L137.9,122.97 L137.4,122.97 L136.9,122.96 L136.4,122.96 L135.9,122.95 L135.4,122.95 L134.9,122.94 L134.4,122.94 L133.9,122.94 L133.4,122.93 L132.9,122.93 L132.4,122.92 L131.9,122.92 L131.4,122.91 L130.9,122.91 L130.4,122.9 L129.9,122.9 L129.4,122.89 L128.9,122.89 L128.4,122.89 L127.9,122.88 L127.4,122.88 L126.9,122.87 L126.4,122.87 L125.9,122.86 L125.4,122.86 L124.9,122.85 L124.4,122.85 L123.9,122.85 L123.4,122.84 L122.9,122.84 L122.4,122.83 L121.9,122.83 L121.4,122.82 L120.9,122.82 L120.4,122.81 L119.9,122.81 L119.4,122.8 L118.9,122.8 L118.4,122.8 L117.9,122.79 L117.4,122.79 L116.9,122.78 L116.4,122.78 L115.9,122.77 L115.4,122.77 L114.9,122.76 L114.4,122.76 L113.9,122.76 L113.4,122.75 L112.9,122.75 L112.4,122.74 L111.9,122.74 L111.4,122.73 L110.9,122.73 L110.4,122.72 L109.9,122.72 L109.4,122.71 L108.9,122.71 L108.4,122.71 L107.9,122.7 L107.4,122.7 L106.9,122.69 L106.4,122.69 L105.9,122.68 L105.4,122.68 L104.9,122.67 L104.4,122.67 L103.9,122.67 L103.4,122.66 L102.9,122.66 L102.4,122.65 L101.9,122.65 L101.4,122.64 L100.9,122.64 L100.4,122.63 L99.9,122.63 L99.4,122.62 L98.9,122.62 L98.4,122.62 L97.9,122.61 L97.4,122.61 L96.9,122.6 L96.4,122.6 L95.9,122.59 L95.4,122.59 L94.9,122.58 L94.4,122.58 L93.9,122.58 L93.4,122.57 L92.9,122.57 L92.4,122.56 L91.9,122.56 L91.4,122.55 L90.9,122.55 L90.4,122.54 L89.9,122.54 L89.4,122.53 L88.9,122.53 L88.4,122.53 L87.9,122.52 L87.4,122.52 L86.9,122.51 L86.4,122.51 L85.9,122.5 L85.4,122.5 L84.9,122.49 L84.4,122.49 L83.9,122.49 L83.4,122.48 L82.9,122.48 L82.4,122.47 L81.9,122.47 L81.4,122.46 L80.9,122.46 L80.4,122.45 L79.9,122.45 L79.4,122.44 L78.9,122.44 L78.4,122.44 L77.9,122.43 L77.4,122.43 L76.9,122.42 L76.4,122.42 L75.9,122.41 L75.4,122.41 L74.9,122.4 L74.4,122.4 L73.9,122.4 L73.4,122.39 L72.9,122.39 L72.4,122.38 L71.9,122.38 L71.4,122.37 L70.9,122.37 L70.4,122.36 L69.9,122.36 L69.4,122.35 L68.9,122.35 L68.4,122.35 L67.9,122.34 L67.4,122.34 L66.9,122.33 L66.4,122.33 L65.9,122.32 L65.4,122.32 L64.9,122.31 L64.4,122.31 L63.9,122.31 L63.4,122.3 L62.9,122.3 L62.4,122.29 L61.9,122.29 L61.4,122.28 L60.9,122.28 L60.4,122.27 L59.9,122.27 L59.4,122.26 L58.9,122.26 L58.4,122.26 L57.9,122.25 L57.4,122.25 L56.9,122.24 L56.4,122.24 L55.9,122.23 L55.4,122.23 L54.9,122.22 L54.4,122.22 L53.9,122.22 L53.4,122.21 L52.9,122.21 L52.4,122.2 L51.9,122.2 L51.4,122.19 L50.9,122.19 L50.4,122.18 L49.9,122.18 L49.4,122.17 L48.9,122.17 L48.4,122.17 L47.9,122.16 L47.4,122.16 L46.9,122.15 L46.4,122.15 L45.9,122.14 L45.4,122.14 L44.9,122.13 L44.4,122.13 L43.9,122.13 L43.4,122.12 L42.9,122.12 L42.4,122.11 L41.9,122.11 L41.4,122.1 L40.9,122.1 L40.4,122.09 L39.9,122.09 L39.4,122.08 L38.9,122.08 L38.4,122.08 L37.9,122.07 L37.4,122.07 L36.9,122.06 L36.4,122.06 L35.9,122.05 L35.4,122.05 L34.9,122.04 L34.4,122.04 L33.9,122.04 L33.4,122.03 L32.9,122.03 L32.4,122.02 L31.9,122.02 L31.4,122.01 L30.9,122.01 L30.4,122 Z" fill="#c6dcea" stroke="none"/><path d="M30.4,121.83 L30.9,121.83 L31.4,121.83 L31.9,121.83 L32.4,121.84 L32.9,121.84 L33.4,121.84 L33.9,121.84 L34.4,121.85 L34.9,121.85 L35.4,121.85 L35.9,121.85 L36.4,121.86 L36.9,121.86 L37.4,121.86 L37.9,121.86 L38.4,121.87 L38.9,121.87 L39.4,121.87 L39.9,121.87 L40.4,121.87 L40.9,121.88 L41.4,121.88 L41.9,121.88 L42.4,121.88 L42.9,121.88 L43.4,121.88 L43.9,121.89 L44.4,121.89 L44.9,121.89 L45.4,121.89 L45.9,121.89 L46.4,121.89 L46.9,121.89 L47.4,121.9 L47.9,121.9 L48.4,121.9 L48.9,121.9 L49.4,121.9 L49.9,121.9 L50.4,121.9 L50.9,121.9 L51.4,121.9 L51.9,121.9 L52.4,121.9 L52.9,121.9 L53.4,121.9 L53.9,121.9 L54.4,121.9 L54.9,121.9 L55.4,121.9 L55.9,121.9 L56.4,121.9 L56.9,121.9 L57.4,121.9 L57.9,121.9 L58.4,121.9 L58.9,121.9 L59.4,121.9 L59.9,121.9 L60.4,121.89 L60.9,121.89 L61.4,121.89 L61.9,121.89 L62.4,121.88 L62.9,121.88 L63.4,121.88 L63.9,121.87 L64.4,121.87 L64.9,121.86 L65.4,121.86 L65.9,121.85 L66.4,121.85 L66.9,121.84 L67.4,121.83 L67.9,121.82 L68.4,121.81 L68.9,121.8 L69.4,121.79 L69.9,121.78 L70.4,121.76 L70.9,121.75 L71.4,121.73 L71.9,121.71 L72.4,121.69 L72.9,121.67 L73.4,121.65 L73.9,121.62 L74.4,121.59 L74.9,121.56 L75.4,121.53 L75.9,121.49 L76.4,121.46 L76.9,121.41 L77.4,121.37 L77.9,121.32 L78.4,121.26 L78.9,121.2 L79.4,121.14 L79.9,121.07 L80.4,121 L80.9,120.92 L81.4,120.83 L81.9,120.74 L82.4,120.64 L82.9,120.53 L83.4,120.41 L83.9,120.29 L84.4,120.16 L84.9,120.02 L85.4,119.86 L85.9,119.7 L86.4,119.53 L86.9,119.34 L87.4,119.15 L87.9,118.94 L88.4,118.72 L88.9,118.48 L89.4,118.23 L89.9,117.97 L90.4,117.69 L90.9,117.39 L91.4,117.08 L91.9,116.75 L92.4,116.41 L92.9,116.05 L93.4,115.67 L93.9,115.27 L94.4,114.85 L94.9,114.42 L95.4,113.96 L95.9,113.49 L96.4,113 L96.9,112.48 L97.4,111.95 L97.9,111.4 L98.4,110.83 L98.9,110.24 L99.4,109.63 L99.9,109 L100.4,108.36 L100.9,107.69 L101.4,107.01 L101.9,106.31 L102.4,105.6 L102.9,104.87 L103.4,104.13 L103.9,103.37 L104.4,102.61 L104.9,101.83 L105.4,101.04 L105.9,100.24 L106.4,99.44 L106.9,98.63 L107.4,97.82 L107.9,97 L108.4,96.19 L108.9,95.37 L109.4,94.56 L109.9,93.76 L110.4,92.96 L110.9,92.17 L111.4,91.39 L111.9,90.63 L112.4,89.88 L112.9,89.15 L113.4,88.43 L113.9,87.74 L114.4,87.08 L114.9,86.44 L115.4,85.83 L115.9,85.25 L116.4,84.71 L116.9,84.2 L117.4,83.72 L117.9,83.28 L118.4,82.89 L118.9,82.54 L119.4,82.23 L119.9,81.96 L120.4,81.74 L120.9,81.57 L121.4,81.44 L121.9,81.36 L122.4,81.33 L122.9,81.35 L123.4,81.42 L123.9,81.53 L124.4,81.7 L124.9,81.91 L125.4,82.17 L125.9,82.47 L126.4,82.81 L126.9,83.2 L127.4,83.63 L127.9,84.1 L128.4,84.6 L128.9,85.15 L129.4,85.72 L129.9,86.33 L130.4,86.96 L130.9,87.63 L131.4,88.32 L131.9,89.03 L132.4,89.76 L132.9,90.51 L133.4,91.28 L133.9,92.06 L134.4,92.85 L134.9,93.66 L135.4,94.47 L135.9,95.29 L136.4,96.11 L136.9,96.93 L137.4,97.76 L137.9,98.58 L138.4,99.4 L138.9,100.22 L139.4,101.03 L139.9,101.83 L140.4,102.62 L140.9,103.4 L141.4,104.17 L141.9,104.93 L142.4,105.67 L142.9,106.4 L143.4,107.11 L143.9,107.81 L144.4,108.49 L144.9,109.15 L145.4,109.79 L145.9,110.42 L146.4,111.03 L146.9,111.61 L147.4,112.18 L147.9,112.73 L148.4,113.26 L148.9,113.77 L149.4,114.26 L149.9,114.73 L150.4,115.18 L150.9,115.62 L151.4,116.03 L151.9,116.43 L152.4,116.8 L152.9,117.17 L153.4,117.51 L153.9,117.84 L154.4,118.15 L154.9,118.44 L155.4,118.72 L155.9,118.98 L156.4,119.23 L156.9,119.47 L157.4,119.69 L157.9,119.9 L158.4,120.1 L158.9,120.29 L159.4,120.46 L159.9,120.63 L160.4,120.78 L160.9,120.93 L161.4,121.07 L161.9,121.19 L162.4,121.31 L162.9,121.43 L163.4,121.53 L163.9,121.63 L164.4,121.72 L164.9,121.81 L165.4,121.89 L165.9,121.96 L166.4,122.03 L166.9,122.09 L167.4,122.16 L167.9,122.21 L168.4,122.27 L168.9,122.31 L169.4,122.36 L169.9,122.4 L170.4,122.44 L170.9,122.48 L171.4,122.52 L171.9,122.55 L172.4,122.58 L172.9,122.61 L173.4,122.64 L173.9,122.67 L174.4,122.69 L174.9,122.71 L175.4,122.74 L175.9,122.76 L176.4,122.78 L176.9,122.8 L177.4,122.81 L177.9,122.83 L178.4,122.85 L178.9,122.86 L179.4,122.88 L179.9,122.89 L180.4,122.91 L180.9,122.92 L181.4,122.94 L181.9,122.95 L182.4,122.96 L182.9,122.97 L183.4,122.98 L183.9,123 L184.4,123.01 L184.9,123.02 L185.4,123.03 L185.9,123.04 L186.4,123.05 L186.9,123.06 L187.4,123.07 L187.9,123.08 L188.4,123.09 L188.9,123.1 L189.4,123.11 L189.9,123.12 L190.4,123.13 L190.9,123.14 L191.4,123.14 L191.9,123.15 L192.4,123.16 L192.9,123.17 L193.4,123.18 L193.9,123.19 L194.4,123.2 L194.9,123.2 L195.4,123.21 L195.9,123.22 L196.4,123.23 L196.9,123.24 L197.4,123.24 L197.9,123.25 L198.4,123.26 L198.9,123.27 L199.4,123.28 L199.9,123.28 L200.4,123.29 L200.9,123.3 L201.4,123.3 L201.9,123.31 L202.4,123.32 L202.9,123.33 L203.4,123.33 L203.9,123.34 L204.4,123.35 L204.9,123.36" fill="none" stroke="#8fbfdc" stroke-width="0.6"/><path d="M129.4,122.74 L129.9,122.72 L130.4,122.71 L130.9,122.69 L131.4,122.67 L131.9,122.65 L132.4,122.63 L132.9,122.6 L133.4,122.57 L133.9,122.54 L134.4,122.51 L134.9,122.47 L135.4,122.43 L135.9,122.38 L136.4,122.34 L136.9,122.29 L137.4,122.23 L137.9,122.17 L138.4,122.11 L138.9,122.04 L139.4,121.97 L139.9,121.9 L140.4,121.82 L140.9,121.73 L141.4,121.64 L141.9,121.55 L142.4,121.45 L142.9,121.35 L143.4,121.24 L143.9,121.13 L144.4,121.01 L144.9,120.89 L145.4,120.77 L145.9,120.64 L146.4,120.51 L146.9,120.37 L147.4,120.24 L147.9,120.09 L148.4,119.95 L148.9,119.8 L149.4,119.66 L149.9,119.51 L150.4,119.36 L150.9,119.21 L151.4,119.06 L151.9,118.91 L152.4,118.76 L152.9,118.61 L153.4,118.46 L153.9,118.32 L154.4,118.18 L154.9,118.05 L155.4,117.91 L155.9,117.79 L156.4,117.67 L156.9,117.55 L157.4,117.44 L157.9,117.34 L158.4,117.25 L158.9,117.16 L159.4,117.08 L159.9,117.02 L160.4,116.96 L160.9,116.9 L161.4,116.86 L161.9,116.83 L162.4,116.81 L162.9,116.8 L163.4,116.8 L163.9,116.81 L164.4,116.83 L164.9,116.86 L165.4,116.9 L165.9,116.95 L166.4,117.01 L166.9,117.08 L167.4,117.16 L167.9,117.24 L168.4,117.34 L168.9,117.44 L169.4,117.55 L169.9,117.67 L170.4,117.79 L170.9,117.92 L171.4,118.06 L171.9,118.2 L172.4,118.34 L172.9,118.49 L173.4,118.64 L173.9,118.8 L174.4,118.95 L174.9,119.11 L175.4,119.27 L175.9,119.43 L176.4,119.59 L176.9,119.75 L177.4,119.91 L177.9,120.07 L178.4,120.22 L178.9,120.37 L179.4,120.52 L179.9,120.67 L180.4,120.82 L180.9,120.96 L181.4,121.09 L181.9,121.23 L182.4,121.36 L182.9,121.48 L183.4,121.6 L183.9,121.72 L184.4,121.83 L184.9,121.94 L185.4,122.04 L185.9,122.14 L186.4,122.23 L186.9,122.32 L187.4,122.4 L187.9,122.48 L188.4,122.56 L188.9,122.63 L189.4,122.7 L189.9,122.76 L190.4,122.82 L190.9,122.88 L191.4,122.93 L191.9,122.98 L192.4,123.03 L192.9,123.07 L193.4,123.11 L193.9,123.15 L194.4,123.18 L194.9,123.22 L195.4,123.25 L195.9,123.28 L196.4,123.3 L196.9,123.33 L197.4,123.35 L197.4,123.51 L196.9,123.5 L196.4,123.5 L195.9,123.49 L195.4,123.49 L194.9,123.48 L194.4,123.48 L193.9,123.48 L193.4,123.47 L192.9,123.47 L192.4,123.46 L191.9,123.46 L191.4,123.45 L190.9,123.45 L190.4,123.44 L189.9,123.44 L189.4,123.43 L188.9,123.43 L188.4,123.43 L187.9,123.42 L187.4,123.42 L186.9,123.41 L186.4,123.41 L185.9,123.4 L185.4,123.4 L184.9,123.39 L184.4,123.39 L183.9,123.39 L183.4,123.38 L182.9,123.38 L182.4,123.37 L181.9,123.37 L181.4,123.36 L180.9,123.36 L180.4,123.35 L179.9,123.35 L179.4,123.34 L178.9,123.34 L178.4,123.34 L177.9,123.33 L177.4,123.33 L176.9,123.32 L176.4,123.32 L175.9,123.31 L175.4,123.31 L174.9,123.3 L174.4,123.3 L173.9,123.3 L173.4,123.29 L172.9,123.29 L172.4,123.28 L171.9,123.28 L171.4,123.27 L170.9,123.27 L170.4,123.26 L169.9,123.26 L169.4,123.25 L168.9,123.25 L168.4,123.25 L167.9,123.24 L167.4,123.24 L166.9,123.23 L166.4,123.23 L165.9,123.22 L165.4,123.22 L164.9,123.21 L164.4,123.21 L163.9,123.21 L163.4,123.2 L162.9,123.2 L162.4,123.19 L161.9,123.19 L161.4,123.18 L160.9,123.18 L160.4,123.17 L159.9,123.17 L159.4,123.16 L158.9,123.16 L158.4,123.16 L157.9,123.15 L157.4,123.15 L156.9,123.14 L156.4,123.14 L155.9,123.13 L155.4,123.13 L154.9,123.12 L154.4,123.12 L153.9,123.12 L153.4,123.11 L152.9,123.11 L152.4,123.1 L151.9,123.1 L151.4,123.09 L150.9,123.09 L150.4,123.08 L149.9,123.08 L149.4,123.07 L148.9,123.07 L148.4,123.07 L147.9,123.06 L147.4,123.06 L146.9,123.05 L146.4,123.05 L145.9,123.04 L145.4,123.04 L144.9,123.03 L144.4,123.03 L143.9,123.03 L143.4,123.02 L142.9,123.02 L142.4,123.01 L141.9,123.01 L141.4,123 L140.9,123 L140.4,122.99 L139.9,122.99 L139.4,122.98 L138.9,122.98 L138.4,122.98 L137.9,122.97 L137.4,122.97 L136.9,122.96 L136.4,122.96 L135.9,122.95 L135.4,122.95 L134.9,122.94 L134.4,122.94 L133.9,122.94 L133.4,122.93 L132.9,122.93 L132.4,122.92 L131.9,122.92 L131.4,122.91 L130.9,122.91 L130.4,122.9 L129.9,122.9 L129.4,122.89 Z" fill="#2262a3" stroke="none"/><path d="M30.4,122 L31.4,122.01 L32.4,122.02 L33.4,122.03 L34.4,122.04 L35.4,122.05 L36.4,122.06 L37.4,122.07 L38.4,122.08 L39.4,122.08 L40.4,122.09 L41.4,122.1 L42.4,122.11 L43.4,122.12 L44.4,122.13 L45.4,122.14 L46.4,122.15 L47.4,122.16 L48.4,122.17 L49.4,122.17 L50.4,122.18 L51.4,122.19 L52.4,122.2 L53.4,122.21 L54.4,122.22 L55.4,122.23 L56.4,122.24 L57.4,122.25 L58.4,122.26 L59.4,122.26 L60.4,122.27 L61.4,122.28 L62.4,122.29 L63.4,122.3 L64.4,122.31 L65.4,122.32 L66.4,122.33 L67.4,122.34 L68.4,122.35 L69.4,122.35 L70.4,122.36 L71.4,122.37 L72.4,122.38 L73.4,122.39 L74.4,122.4 L75.4,122.41 L76.4,122.42 L77.4,122.43 L78.4,122.44 L79.4,122.44 L80.4,122.45 L81.4,122.46 L82.4,122.47 L83.4,122.48 L84.4,122.49 L85.4,122.5 L86.4,122.51 L87.4,122.52 L88.4,122.53 L89.4,122.53 L90.4,122.54 L91.4,122.55 L92.4,122.56 L93.4,122.57 L94.4,122.58 L95.4,122.59 L96.4,122.6 L97.4,122.61 L98.4,122.62 L99.4,122.62 L100.4,122.63 L101.4,122.64 L102.4,122.65 L103.4,122.66 L104.4,122.67 L105.4,122.68 L106.4,122.69 L107.4,122.7 L108.4,122.71 L109.4,122.71 L110.4,122.72 L111.4,122.73 L112.4,122.74 L113.4,122.75 L114.4,122.76 L115.4,122.77 L116.4,122.78 L117.4,122.79 L118.4,122.8 L119.4,122.8 L120.4,122.81 L121.4,122.82 L122.4,122.83 L123.4,122.84 L124.4,122.85 L125.4,122.86 L126.4,122.87 L127.4,122.88 L128.4,122.89 L129.4,122.89 L130.4,122.9 L131.4,122.91 L132.4,122.92 L133.4,122.93 L134.4,122.94 L135.4,122.95 L136.4,122.96 L137.4,122.97 L138.4,122.98 L139.4,122.98 L140.4,122.99 L141.4,123 L142.4,123.01 L143.4,123.02 L144.4,123.03 L145.4,123.04 L146.4,123.05 L147.4,123.06 L148.4,123.07 L149.4,123.07 L150.4,123.08 L151.4,123.09 L152.4,123.1 L153.4,123.11 L154.4,123.12 L155.4,123.13 L156.4,123.14 L157.4,123.15 L158.4,123.16 L159.4,123.16 L160.4,123.17 L161.4,123.18 L162.4,123.19 L163.4,123.2 L164.4,123.21 L165.4,123.22 L166.4,123.23 L167.4,123.24 L168.4,123.25 L169.4,123.25 L170.4,123.26 L171.4,123.27 L172.4,123.28 L173.4,123.29 L174.4,123.3 L175.4,123.31 L176.4,123.32 L177.4,123.33 L178.4,123.34 L179.4,123.34 L180.4,123.35 L181.4,123.36 L182.4,123.37 L183.4,123.38 L184.4,123.39 L185.4,123.4 L186.4,123.41 L187.4,123.42 L188.4,123.43 L189.4,123.43 L190.4,123.44 L191.4,123.45 L192.4,123.46 L193.4,123.47 L194.4,123.48 L195.4,123.49 L196.4,123.5 L197.4,123.51 L198.4,123.52 L199.4,123.52 L200.4,123.53 L201.4,123.54 L202.4,123.55 L203.4,123.56 L204.4,123.57" fill="none" stroke="#a46fd6" stroke-width="1.1" stroke-linejoin="round"/><circle cx="31.4" cy="120.97" r="2.2" fill="#cfcfcf" stroke="#b9b9b9" stroke-width="0.5"/><circle cx="35.75" cy="120.81" r="2.2" fill="#cfcfcf" stroke="#b9b9b9" stroke-width="0.5"/><circle cx="40.1" cy="120.56" r="2.2" fill="#cfcfcf" stroke="#b9b9b9" stroke-width="0.5"/><circle cx="44.45" cy="120.19" r="2.2" fill="#cfcfcf" stroke="#b9b9b9" stroke-width="0.5"/><circle cx="48.8" cy="119.67" r="2.2" fill="#cfcfcf" stroke="#b9b9b9" stroke-width="0.5"/><circle cx="53.15" cy="119.01" r="2.2" fill="#cfcfcf" stroke="#b9b9b9" stroke-width="0.5"/><circle cx="57.5" cy="118.2" r="2.2" fill="#cfcfcf" stroke="#b9b9b9" stroke-width="0.5"/><circle cx="61.85" cy="117.26" r="2.2" fill="#cfcfcf" stroke="#b9b9b9" stroke-width="0.5"/><circle cx="66.2" cy="116.25" r="2.2" fill="#cfcfcf" stroke="#b9b9b9" stroke-width="0.5"/><circle cx="70.55" cy="115.21" r="2.2" fill="#cfcfcf" stroke="#b9b9b9" stroke-width="0.5"/><circle cx="74.9" cy="114.18" r="2.2" fill="#cfcfcf" stroke="#b9b9b9" stroke-width="0.5"/><circle cx="79.25" cy="113.15" r="2.2" fill="#cfcfcf" stroke="#b9b9b9" stroke-width="0.5"/><circle cx="83.6" cy="112.02" r="2.2" fill="#cfcfcf" stroke="#b9b9b9" stroke-width="0.5"/><circle cx="87.95" cy="110.55" r="2.2" fill="#cfcfcf" stroke="#b9b9b9" stroke-width="0.5"/><circle cx="92.3" cy="108.42" r="2.2" fill="#cfcfcf" stroke="#b9b9b9" stroke-width="0.5"/><circle cx="96.65" cy="105.28" r="2.2" fill="#cfcfcf" stroke="#b9b9b9" stroke-width="0.5"/><circle cx="101" cy="100.91" r="2.2" fill="#cfcfcf" stroke="#b9b9b9" stroke-width="0.5"/><circle cx="105.35" cy="95.42" r="2.2" fill="#cfcfcf" stroke="#b9b9b9" stroke-width="0.5"/><circle cx="109.7" cy="89.35" r="2.2" fill="#cfcfcf" stroke="#b9b9b9" stroke-width="0.5"/><circle cx="114.05" cy="83.74" r="2.2" fill="#cfcfcf" stroke="#b9b9b9" stroke-width="0.5"/><circle cx="118.4" cy="79.91" r="2.2" fill="#cfcfcf" stroke="#b9b9b9" stroke-width="0.5"/><circle cx="122.75" cy="79.02" r="2.2" fill="#cfcfcf" stroke="#b9b9b9" stroke-width="0.5"/><circle cx="127.1" cy="81.52" r="2.2" fill="#cfcfcf" stroke="#b9b9b9" stroke-width="0.5"/><circle cx="131.45" cy="86.79" r="2.2" fill="#cfcfcf" stroke="#b9b9b9" stroke-width="0.5"/><circle cx="135.8" cy="93.5" r="2.2" fill="#cfcfcf" stroke="#b9b9b9" stroke-width="0.5"/><circle cx="140.15" cy="100.21" r="2.2" fill="#cfcfcf" stroke="#b9b9b9" stroke-width="0.5"/><circle cx="144.5" cy="105.82" r="2.2" fill="#cfcfcf" stroke="#b9b9b9" stroke-width="0.5"/><circle cx="148.85" cy="109.78" r="2.2" fill="#cfcfcf" stroke="#b9b9b9" stroke-width="0.5"/><circle cx="153.2" cy="112.14" r="2.2" fill="#cfcfcf" stroke="#b9b9b9" stroke-width="0.5"/><circle cx="157.55" cy="113.4" r="2.2" fill="#cfcfcf" stroke="#b9b9b9" stroke-width="0.5"/><circle cx="161.9" cy="114.23" r="2.2" fill="#cfcfcf" stroke="#b9b9b9" stroke-width="0.5"/><circle cx="166.25" cy="115.17" r="2.2" fill="#cfcfcf" stroke="#b9b9b9" stroke-width="0.5"/><circle cx="170.6" cy="116.44" r="2.2" fill="#cfcfcf" stroke="#b9b9b9" stroke-width="0.5"/><circle cx="174.95" cy="117.94" r="2.2" fill="#cfcfcf" stroke="#b9b9b9" stroke-width="0.5"/><circle cx="179.3" cy="119.43" r="2.2" fill="#cfcfcf" stroke="#b9b9b9" stroke-width="0.5"/><circle cx="183.65" cy="120.67" r="2.2" fill="#cfcfcf" stroke="#b9b9b9" stroke-width="0.5"/><circle cx="188" cy="121.56" r="2.2" fill="#cfcfcf" stroke="#b9b9b9" stroke-width="0.5"/><circle cx="192.35" cy="122.12" r="2.2" fill="#cfcfcf" stroke="#b9b9b9" stroke-width="0.5"/><circle cx="196.7" cy="122.45" r="2.2" fill="#cfcfcf" stroke="#b9b9b9" stroke-width="0.5"/><circle cx="201.05" cy="122.63" r="2.2" fill="#cfcfcf" stroke="#b9b9b9" stroke-width="0.5"/><circle cx="205.4" cy="122.74" r="2.2" fill="#cfcfcf" stroke="#b9b9b9" stroke-width="0.5"/><path d="M30.4,120.99 L31.4,120.97 L32.4,120.94 L33.4,120.9 L34.4,120.87 L35.4,120.82 L36.4,120.78 L37.4,120.73 L38.4,120.67 L39.4,120.6 L40.4,120.54 L41.4,120.46 L42.4,120.38 L43.4,120.29 L44.4,120.19 L45.4,120.09 L46.4,119.97 L47.4,119.86 L48.4,119.73 L49.4,119.59 L50.4,119.45 L51.4,119.3 L52.4,119.14 L53.4,118.97 L54.4,118.79 L55.4,118.61 L56.4,118.42 L57.4,118.22 L58.4,118.01 L59.4,117.8 L60.4,117.58 L61.4,117.36 L62.4,117.14 L63.4,116.91 L64.4,116.67 L65.4,116.44 L66.4,116.2 L67.4,115.96 L68.4,115.72 L69.4,115.48 L70.4,115.24 L71.4,115.01 L72.4,114.77 L73.4,114.53 L74.4,114.3 L75.4,114.06 L76.4,113.83 L77.4,113.59 L78.4,113.36 L79.4,113.12 L80.4,112.87 L81.4,112.62 L82.4,112.35 L83.4,112.07 L84.4,111.78 L85.4,111.47 L86.4,111.13 L87.4,110.76 L88.4,110.37 L89.4,109.93 L90.4,109.46 L91.4,108.94 L92.4,108.36 L93.4,107.74 L94.4,107.05 L95.4,106.31 L96.4,105.5 L97.4,104.62 L98.4,103.68 L99.4,102.67 L100.4,101.59 L101.4,100.45 L102.4,99.25 L103.4,98 L104.4,96.69 L105.4,95.35 L106.4,93.97 L107.4,92.58 L108.4,91.17 L109.4,89.77 L110.4,88.38 L111.4,87.04 L112.4,85.74 L113.4,84.5 L114.4,83.35 L115.4,82.3 L116.4,81.37 L117.4,80.56 L118.4,79.91 L119.4,79.41 L120.4,79.08 L121.4,78.93 L122.4,78.97 L123.4,79.18 L124.4,79.58 L125.4,80.16 L126.4,80.91 L127.4,81.81 L128.4,82.86 L129.4,84.04 L130.4,85.33 L131.4,86.72 L132.4,88.19 L133.4,89.71 L134.4,91.27 L135.4,92.86 L136.4,94.45 L137.4,96.03 L138.4,97.59 L139.4,99.1 L140.4,100.57 L141.4,101.97 L142.4,103.3 L143.4,104.55 L144.4,105.71 L145.4,106.78 L146.4,107.76 L147.4,108.65 L148.4,109.45 L149.4,110.16 L150.4,110.79 L151.4,111.33 L152.4,111.81 L153.4,112.22 L154.4,112.57 L155.4,112.87 L156.4,113.13 L157.4,113.37 L158.4,113.57 L159.4,113.77 L160.4,113.95 L161.4,114.14 L162.4,114.32 L163.4,114.52 L164.4,114.73 L165.4,114.96 L166.4,115.21 L167.4,115.47 L168.4,115.75 L169.4,116.05 L170.4,116.37 L171.4,116.7 L172.4,117.04 L173.4,117.39 L174.4,117.74 L175.4,118.1 L176.4,118.45 L177.4,118.8 L178.4,119.13 L179.4,119.46 L180.4,119.77 L181.4,120.07 L182.4,120.34 L183.4,120.61 L184.4,120.85 L185.4,121.07 L186.4,121.27 L187.4,121.46 L188.4,121.62 L189.4,121.77 L190.4,121.91 L191.4,122.02 L192.4,122.13 L193.4,122.22 L194.4,122.3 L195.4,122.37 L196.4,122.43 L197.4,122.49 L198.4,122.53 L199.4,122.57 L200.4,122.61 L201.4,122.64 L202.4,122.67 L203.4,122.7 L204.4,122.72" fill="none" stroke="#6dbb5c" stroke-width="0.8" stroke-linejoin="round"/></g><line x1="119.3" y1="11" x2="119.3" y2="75" stroke="#222" stroke-width="0.9" stroke-dasharray="1.2,1.2"/><line x1="122.5" y1="62" x2="122.5" y2="104.5" stroke="#222" stroke-width="0.9" stroke-dasharray="1.2,1.2"/><line x1="132" y1="71.5" x2="110.9" y2="71.5" stroke="#222" stroke-width="1.0"/><path d="M108.2,71.5 L111.4,70 L111.4,73 Z" fill="#222"/><line x1="29.8" y1="6.5" x2="205.6" y2="6.5" stroke="#5c5c5c" stroke-width="1.05"/><line x1="29.8" y1="133.4" x2="205.6" y2="133.4" stroke="#5c5c5c" stroke-width="1.05"/><line x1="30.4" y1="6.5" x2="30.4" y2="133.4" stroke="#8c8c8c" stroke-width="1.4"/><line x1="205" y1="6.5" x2="205" y2="133.4" stroke="#8c8c8c" stroke-width="1.4"/><line x1="65" y1="133.4" x2="65" y2="135.6" stroke="#6e6e6e" stroke-width="0.8"/><text x="65" y="144.5" font-size="8.5" fill="#000" stroke="#000" stroke-width="0.1" text-anchor="middle">534</text><line x1="111.5" y1="133.4" x2="111.5" y2="135.6" stroke="#6e6e6e" stroke-width="0.8"/><text x="111.5" y="144.5" font-size="8.5" fill="#000" stroke="#000" stroke-width="0.1" text-anchor="middle">532</text><line x1="158.2" y1="133.4" x2="158.2" y2="135.6" stroke="#6e6e6e" stroke-width="0.8"/><text x="158.2" y="144.5" font-size="8.5" fill="#000" stroke="#000" stroke-width="0.1" text-anchor="middle">530</text><line x1="204.7" y1="133.4" x2="204.7" y2="135.6" stroke="#6e6e6e" stroke-width="0.8"/><text x="204.7" y="144.5" font-size="8.5" fill="#000" stroke="#000" stroke-width="0.1" text-anchor="middle">528</text><text x="117.3" y="157.5" font-size="8.5" fill="#000" stroke="#000" stroke-width="0.1" text-anchor="middle">Binding Energy (eV)</text><text x="21.3" y="67.3" font-size="8.5" fill="#000" stroke="#000" stroke-width="0.1" text-anchor="middle" transform="rotate(-90 21.3 67.3)">Intensity (a.u.)</text><text x="33.6" y="18.1" font-size="8.5" fill="#000" stroke="#000" stroke-width="0.1" text-anchor="start">O 1<tspan font-style="italic">s</tspan></text><text x="77.4" y="32.7" font-size="8.5" fill="#5aa6d6" stroke="#5aa6d6" stroke-width="0.1" text-anchor="start">O-C</text><line x1="114" y1="43" x2="100.05" y2="34.77" stroke="#5aa6d6" stroke-width="0.8"/><path d="M97.9,33.5 L101.2,33.82 L99.77,36.23 Z" fill="#5aa6d6"/><text x="54" y="49.5" font-size="8.5" fill="#8a8a8a" stroke="#8a8a8a" stroke-width="0.1" text-anchor="start">O=C</text><line x1="84.7" y1="62.7" x2="71.51" y2="54.25" stroke="#555" stroke-width="0.8"/><path d="M69.4,52.9 L72.68,53.34 L71.17,55.7 Z" fill="#555"/><text x="151" y="47.3" font-size="8.5" fill="#1f5fa6" stroke="#1f5fa6" stroke-width="0.1" text-anchor="start">O-Ru/Mn</text><line x1="163.4" y1="62" x2="173.15" y2="50.88" stroke="#1f5fa6" stroke-width="0.8"/><path d="M174.8,49 L173.87,52.18 L171.77,50.33 Z" fill="#1f5fa6"/><text x="33.2" y="75.2" font-size="8.5" fill="#000" stroke="#000" stroke-width="0.1" text-anchor="start">MnBTC-Ru</text><text x="132.7" y="75.2" font-size="8.5" fill="#000" stroke="#000" stroke-width="0.1" text-anchor="start">0.1 eV</text><text x="78.9" y="88.4" font-size="8.5" fill="#5aa6d6" stroke="#5aa6d6" stroke-width="0.1" text-anchor="start">O-C</text><line x1="105.9" y1="102.7" x2="96.04" y2="93.69" stroke="#5aa6d6" stroke-width="0.8"/><path d="M94.2,92 L97.36,92.99 L95.47,95.06 Z" fill="#5aa6d6"/><text x="51.9" y="108" font-size="8.5" fill="#8a8a8a" stroke="#8a8a8a" stroke-width="0.1" text-anchor="start">O=C</text><line x1="76" y1="119.7" x2="66.62" y2="111.9" stroke="#555" stroke-width="0.8"/><path d="M64.7,110.3 L67.9,111.14 L66.11,113.29 Z" fill="#555"/><text x="163.1" y="105.1" font-size="8.5" fill="#1f5fa6" stroke="#1f5fa6" stroke-width="0.1" text-anchor="start">O-Mn</text><line x1="169.2" y1="122" x2="179.94" y2="109.87" stroke="#1f5fa6" stroke-width="0.8"/><path d="M181.6,108 L180.66,111.17 L178.56,109.32 Z" fill="#1f5fa6"/><text x="35" y="130.7" font-size="8.5" fill="#000" stroke="#000" stroke-width="0.1" text-anchor="start">MnBTC</text><clipPath id="clipB"><rect x="260.4" y="6.5" width="174.8" height="126.9"/></clipPath><g clip-path="url(#clipB)"><path d="M287.9,53.25 L288.4,53.21 L288.9,53.15 L289.4,53.06 L289.9,52.96 L290.4,52.82 L290.9,52.65 L291.4,52.45 L291.9,52.2 L292.4,51.9 L292.9,51.56 L293.4,51.16 L293.9,50.71 L294.4,50.21 L294.9,49.66 L295.4,49.07 L295.9,48.45 L296.4,47.8 L296.9,47.13 L297.4,46.46 L297.9,45.84 L298.4,45.27 L298.9,44.75 L299.4,44.3 L299.9,43.92 L300.4,43.64 L300.9,43.46 L301.4,43.4 L301.9,43.45 L302.4,43.62 L302.9,43.9 L303.4,44.29 L303.9,44.77 L304.4,45.34 L304.9,45.97 L305.4,46.66 L305.9,47.38 L306.4,48.12 L306.9,48.86 L307.4,49.6 L307.9,50.31 L308.4,50.98 L308.9,51.62 L309.4,52.2 L309.9,52.74 L310.4,53.22 L310.9,53.65 L311.4,54.04 L311.9,54.37 L312.4,54.66 L312.9,54.92 L313.4,55.14 L313.9,55.32 L314.4,55.49 L314.9,55.63 L315.4,55.76 L315.4,55.94 L314.9,55.88 L314.4,55.81 L313.9,55.75 L313.4,55.69 L312.9,55.63 L312.4,55.56 L311.9,55.5 L311.4,55.44 L310.9,55.37 L310.4,55.31 L309.9,55.25 L309.4,55.19 L308.9,55.12 L308.4,55.06 L307.9,55 L307.4,54.93 L306.9,54.87 L306.4,54.81 L305.9,54.74 L305.4,54.68 L304.9,54.62 L304.4,54.56 L303.9,54.49 L303.4,54.43 L302.9,54.37 L302.4,54.3 L301.9,54.24 L301.4,54.18 L300.9,54.12 L300.4,54.05 L299.9,53.99 L299.4,53.93 L298.9,53.86 L298.4,53.8 L297.9,53.74 L297.4,53.69 L296.9,53.68 L296.4,53.67 L295.9,53.65 L295.4,53.64 L294.9,53.62 L294.4,53.61 L293.9,53.6 L293.4,53.58 L292.9,53.57 L292.4,53.55 L291.9,53.54 L291.4,53.53 L290.9,53.51 L290.4,53.5 L289.9,53.48 L289.4,53.47 L288.9,53.45 L288.4,53.44 L287.9,53.43 Z" fill="#4d82b9" stroke="none"/><path d="M287.9,53.25 L288.4,53.21 L288.9,53.15 L289.4,53.06 L289.9,52.96 L290.4,52.82 L290.9,52.65 L291.4,52.45 L291.9,52.2 L292.4,51.9 L292.9,51.56 L293.4,51.16 L293.9,50.71 L294.4,50.21 L294.9,49.66 L295.4,49.07 L295.9,48.45 L296.4,47.8 L296.9,47.13 L297.4,46.46 L297.9,45.84 L298.4,45.27 L298.9,44.75 L299.4,44.3 L299.9,43.92 L300.4,43.64 L300.9,43.46 L301.4,43.4 L301.9,43.45 L302.4,43.62 L302.9,43.9 L303.4,44.29 L303.9,44.77 L304.4,45.34 L304.9,45.97 L305.4,46.66 L305.9,47.38 L306.4,48.12 L306.9,48.86 L307.4,49.6 L307.9,50.31 L308.4,50.98 L308.9,51.62 L309.4,52.2 L309.9,52.74 L310.4,53.22 L310.9,53.65 L311.4,54.04 L311.9,54.37 L312.4,54.66 L312.9,54.92 L313.4,55.14 L313.9,55.32 L314.4,55.49 L314.9,55.63 L315.4,55.76" fill="none" stroke="#1f5a9c" stroke-width="0.9"/><path d="M294.4,53.42 L294.9,53.38 L295.4,53.33 L295.9,53.27 L296.4,53.19 L296.9,53.09 L297.4,52.97 L297.9,52.86 L298.4,52.74 L298.9,52.59 L299.4,52.41 L299.9,52.2 L300.4,51.95 L300.9,51.67 L301.4,51.35 L301.9,51 L302.4,50.61 L302.9,50.2 L303.4,49.75 L303.9,49.28 L304.4,48.79 L304.9,48.29 L305.4,47.79 L305.9,47.3 L306.4,46.81 L306.9,46.36 L307.4,45.93 L307.9,45.55 L308.4,45.22 L308.9,44.95 L309.4,44.74 L309.9,44.61 L310.4,44.55 L310.9,44.57 L311.4,44.68 L311.9,44.86 L312.4,45.12 L312.9,45.45 L313.4,45.85 L313.9,46.3 L314.4,46.81 L314.9,47.36 L315.4,47.95 L315.9,48.56 L316.4,49.18 L316.9,49.8 L317.4,50.43 L317.9,51.04 L318.4,51.64 L318.9,52.21 L319.4,52.75 L319.9,53.27 L320.4,53.75 L320.9,54.19 L321.4,54.6 L321.9,54.97 L322.4,55.31 L322.9,55.61 L323.4,55.89 L323.9,56.13 L324.4,56.35 L324.9,56.55 L325.4,56.72 L325.9,56.88 L326.4,57 L326.9,57.06 L327.4,57.11 L327.4,57.3 L326.9,57.3 L326.4,57.3 L325.9,57.26 L325.4,57.2 L324.9,57.14 L324.4,57.07 L323.9,57.01 L323.4,56.95 L322.9,56.88 L322.4,56.82 L321.9,56.76 L321.4,56.7 L320.9,56.63 L320.4,56.57 L319.9,56.51 L319.4,56.44 L318.9,56.38 L318.4,56.32 L317.9,56.26 L317.4,56.19 L316.9,56.13 L316.4,56.07 L315.9,56 L315.4,55.94 L314.9,55.88 L314.4,55.81 L313.9,55.75 L313.4,55.69 L312.9,55.63 L312.4,55.56 L311.9,55.5 L311.4,55.44 L310.9,55.37 L310.4,55.31 L309.9,55.25 L309.4,55.19 L308.9,55.12 L308.4,55.06 L307.9,55 L307.4,54.93 L306.9,54.87 L306.4,54.81 L305.9,54.74 L305.4,54.68 L304.9,54.62 L304.4,54.56 L303.9,54.49 L303.4,54.43 L302.9,54.37 L302.4,54.3 L301.9,54.24 L301.4,54.18 L300.9,54.12 L300.4,54.05 L299.9,53.99 L299.4,53.93 L298.9,53.86 L298.4,53.8 L297.9,53.74 L297.4,53.69 L296.9,53.68 L296.4,53.67 L295.9,53.65 L295.4,53.64 L294.9,53.62 L294.4,53.61 Z" fill="#c6dcea" stroke="none"/><path d="M327.9,57.15 L328.4,57.13 L328.9,57.1 L329.4,57.07 L329.9,57.04 L330.4,57 L330.9,56.96 L331.4,56.91 L331.9,56.85 L332.4,56.8 L332.9,56.73 L333.4,56.66 L333.9,56.58 L334.4,56.49 L334.9,56.4 L335.4,56.29 L335.9,56.18 L336.4,56.05 L336.9,55.92 L337.4,55.78 L337.9,55.62 L338.4,55.46 L338.9,55.28 L339.4,55.09 L339.9,54.89 L340.4,54.68 L340.9,54.45 L341.4,54.22 L341.9,53.97 L342.4,53.72 L342.9,53.45 L343.4,53.18 L343.9,52.89 L344.4,52.6 L344.9,52.3 L345.4,51.99 L345.9,51.68 L346.4,51.37 L346.9,51.06 L347.4,50.74 L347.9,50.43 L348.4,50.14 L348.9,49.87 L349.4,49.61 L349.9,49.35 L350.4,49.11 L350.9,48.88 L351.4,48.65 L351.9,48.45 L352.4,48.26 L352.9,48.09 L353.4,47.94 L353.9,47.81 L354.4,47.71 L354.9,47.63 L355.4,47.57 L355.9,47.53 L356.4,47.53 L356.9,47.54 L357.4,47.59 L357.9,47.66 L358.4,47.75 L358.9,47.87 L359.4,48.02 L359.9,48.19 L360.4,48.38 L360.9,48.59 L361.4,48.83 L361.9,49.08 L362.4,49.35 L362.9,49.64 L363.4,49.94 L363.9,50.25 L364.4,50.58 L364.9,50.91 L365.4,51.25 L365.9,51.59 L366.4,51.97 L366.9,52.36 L367.4,52.75 L367.9,53.14 L368.4,53.53 L368.9,53.91 L369.4,54.29 L369.9,54.66 L370.4,55.02 L370.9,55.38 L371.4,55.72 L371.9,56.06 L372.4,56.38 L372.9,56.7 L373.4,57 L373.9,57.29 L374.4,57.57 L374.9,57.84 L375.4,58.1 L375.9,58.34 L376.4,58.58 L376.9,58.8 L377.4,59.01 L377.9,59.21 L378.4,59.41 L378.9,59.59 L379.4,59.76 L379.9,59.93 L380.4,60.09 L380.9,60.24 L381.4,60.38 L381.9,60.52 L382.4,60.65 L382.9,60.77 L383.4,60.89 L383.9,61.01 L384.4,61.12 L384.9,61.22 L385.4,61.33 L385.9,61.43 L385.9,61.59 L385.4,61.51 L384.9,61.44 L384.4,61.36 L383.9,61.28 L383.4,61.21 L382.9,61.13 L382.4,61.06 L381.9,60.98 L381.4,60.91 L380.9,60.83 L380.4,60.76 L379.9,60.69 L379.4,60.61 L378.9,60.53 L378.4,60.46 L377.9,60.38 L377.4,60.31 L376.9,60.23 L376.4,60.16 L375.9,60.09 L375.4,60.01 L374.9,59.94 L374.4,59.86 L373.9,59.78 L373.4,59.71 L372.9,59.64 L372.4,59.56 L371.9,59.48 L371.4,59.41 L370.9,59.33 L370.4,59.26 L369.9,59.19 L369.4,59.11 L368.9,59.04 L368.4,58.96 L367.9,58.88 L367.4,58.81 L366.9,58.73 L366.4,58.66 L365.9,58.59 L365.4,58.56 L364.9,58.52 L364.4,58.48 L363.9,58.45 L363.4,58.41 L362.9,58.38 L362.4,58.34 L361.9,58.3 L361.4,58.27 L360.9,58.23 L360.4,58.2 L359.9,58.16 L359.4,58.12 L358.9,58.09 L358.4,58.05 L357.9,58.02 L357.4,57.98 L356.9,57.94 L356.4,57.91 L355.9,57.87 L355.4,57.83 L354.9,57.8 L354.4,57.76 L353.9,57.73 L353.4,57.69 L352.9,57.65 L352.4,57.62 L351.9,57.58 L351.4,57.55 L350.9,57.51 L350.4,57.47 L349.9,57.44 L349.4,57.4 L348.9,57.37 L348.4,57.33 L347.9,57.3 L347.4,57.3 L346.9,57.3 L346.4,57.3 L345.9,57.3 L345.4,57.3 L344.9,57.3 L344.4,57.3 L343.9,57.3 L343.4,57.3 L342.9,57.3 L342.4,57.3 L341.9,57.3 L341.4,57.3 L340.9,57.3 L340.4,57.3 L339.9,57.3 L339.4,57.3 L338.9,57.3 L338.4,57.3 L337.9,57.3 L337.4,57.3 L336.9,57.3 L336.4,57.3 L335.9,57.3 L335.4,57.3 L334.9,57.3 L334.4,57.3 L333.9,57.3 L333.4,57.3 L332.9,57.3 L332.4,57.3 L331.9,57.3 L331.4,57.3 L330.9,57.3 L330.4,57.3 L329.9,57.3 L329.4,57.3 L328.9,57.3 L328.4,57.3 L327.9,57.3 Z" fill="#d9d9d9" stroke="none"/><path d="M360.9,58.06 L361.4,58.06 L361.9,58.06 L362.4,58.05 L362.9,58.04 L363.4,58.01 L363.9,57.98 L364.4,57.94 L364.9,57.89 L365.4,57.83 L365.9,57.75 L366.4,57.69 L366.9,57.62 L367.4,57.54 L367.9,57.43 L368.4,57.31 L368.9,57.16 L369.4,56.99 L369.9,56.79 L370.4,56.57 L370.9,56.32 L371.4,56.04 L371.9,55.73 L372.4,55.39 L372.9,55.01 L373.4,54.6 L373.9,54.16 L374.4,53.69 L374.9,53.17 L375.4,52.63 L375.9,52.05 L376.4,51.44 L376.9,50.8 L377.4,50.13 L377.9,49.44 L378.4,48.72 L378.9,47.98 L379.4,47.22 L379.9,46.45 L380.4,45.68 L380.9,44.89 L381.4,44.11 L381.9,43.34 L382.4,42.58 L382.9,41.83 L383.4,41.11 L383.9,40.42 L384.4,39.76 L384.9,39.14 L385.4,38.57 L385.9,38.04 L386.4,37.58 L386.9,37.17 L387.4,36.83 L387.9,36.55 L388.4,36.35 L388.9,36.22 L389.4,36.17 L389.9,36.19 L390.4,36.36 L390.9,36.64 L391.4,36.99 L391.9,37.41 L392.4,37.91 L392.9,38.48 L393.4,39.11 L393.9,39.8 L394.4,40.55 L394.9,41.35 L395.4,42.2 L395.9,43.1 L396.4,44.03 L396.9,44.99 L397.4,45.98 L397.9,46.98 L398.4,47.97 L398.9,48.96 L399.4,49.95 L399.9,50.93 L400.4,51.92 L400.9,52.89 L401.4,53.84 L401.9,54.78 L402.4,55.69 L402.9,56.58 L403.4,57.44 L403.9,58.27 L404.4,59.07 L404.9,59.84 L405.4,60.57 L405.9,61.27 L406.4,61.93 L406.9,62.56 L407.4,63.16 L407.9,63.72 L408.4,64.25 L408.9,64.76 L409.4,65.23 L409.9,65.67 L410.4,66.08 L410.9,66.47 L411.4,66.84 L411.9,67.08 L412.4,67.29 L412.9,67.47 L413.4,67.64 L413.9,67.79 L414.4,67.92 L414.9,68.04 L415.4,68.15 L415.9,68.24 L416.4,68.33 L416.9,68.41 L417.4,68.48 L417.9,68.54 L418.4,68.6 L418.9,68.65 L419.4,68.69 L419.4,68.85 L418.9,68.83 L418.4,68.82 L417.9,68.8 L417.4,68.79 L416.9,68.77 L416.4,68.75 L415.9,68.74 L415.4,68.72 L414.9,68.71 L414.4,68.69 L413.9,68.68 L413.4,68.66 L412.9,68.64 L412.4,68.63 L411.9,68.61 L411.4,68.57 L410.9,68.44 L410.4,68.31 L409.9,68.17 L409.4,68.04 L408.9,67.91 L408.4,67.77 L407.9,67.64 L407.4,67.51 L406.9,67.37 L406.4,67.24 L405.9,67.11 L405.4,66.97 L404.9,66.84 L404.4,66.71 L403.9,66.57 L403.4,66.44 L402.9,66.31 L402.4,66.17 L401.9,66.04 L401.4,65.91 L400.9,65.77 L400.4,65.64 L399.9,65.51 L399.4,65.37 L398.9,65.24 L398.4,65.11 L397.9,64.96 L397.4,64.79 L396.9,64.61 L396.4,64.44 L395.9,64.26 L395.4,64.09 L394.9,63.91 L394.4,63.74 L393.9,63.56 L393.4,63.39 L392.9,63.21 L392.4,63.04 L391.9,62.86 L391.4,62.69 L390.9,62.51 L390.4,62.34 L389.9,62.18 L389.4,62.11 L388.9,62.04 L388.4,61.96 L387.9,61.88 L387.4,61.81 L386.9,61.73 L386.4,61.66 L385.9,61.59 L385.4,61.51 L384.9,61.44 L384.4,61.36 L383.9,61.28 L383.4,61.21 L382.9,61.13 L382.4,61.06 L381.9,60.98 L381.4,60.91 L380.9,60.83 L380.4,60.76 L379.9,60.69 L379.4,60.61 L378.9,60.53 L378.4,60.46 L377.9,60.38 L377.4,60.31 L376.9,60.23 L376.4,60.16 L375.9,60.09 L375.4,60.01 L374.9,59.94 L374.4,59.86 L373.9,59.78 L373.4,59.71 L372.9,59.64 L372.4,59.56 L371.9,59.48 L371.4,59.41 L370.9,59.33 L370.4,59.26 L369.9,59.19 L369.4,59.11 L368.9,59.04 L368.4,58.96 L367.9,58.88 L367.4,58.81 L366.9,58.73 L366.4,58.66 L365.9,58.59 L365.4,58.56 L364.9,58.52 L364.4,58.48 L363.9,58.45 L363.4,58.41 L362.9,58.38 L362.4,58.34 L361.9,58.3 L361.4,58.27 L360.9,58.23 Z" fill="#4d82b9" stroke="none"/><path d="M360.9,58.06 L361.4,58.06 L361.9,58.06 L362.4,58.05 L362.9,58.04 L363.4,58.01 L363.9,57.98 L364.4,57.94 L364.9,57.89 L365.4,57.83 L365.9,57.75 L366.4,57.69 L366.9,57.62 L367.4,57.54 L367.9,57.43 L368.4,57.31 L368.9,57.16 L369.4,56.99 L369.9,56.79 L370.4,56.57 L370.9,56.32 L371.4,56.04 L371.9,55.73 L372.4,55.39 L372.9,55.01 L373.4,54.6 L373.9,54.16 L374.4,53.69 L374.9,53.17 L375.4,52.63 L375.9,52.05 L376.4,51.44 L376.9,50.8 L377.4,50.13 L377.9,49.44 L378.4,48.72 L378.9,47.98 L379.4,47.22 L379.9,46.45 L380.4,45.68 L380.9,44.89 L381.4,44.11 L381.9,43.34 L382.4,42.58 L382.9,41.83 L383.4,41.11 L383.9,40.42 L384.4,39.76 L384.9,39.14 L385.4,38.57 L385.9,38.04 L386.4,37.58 L386.9,37.17 L387.4,36.83 L387.9,36.55 L388.4,36.35 L388.9,36.22 L389.4,36.17 L389.9,36.19 L390.4,36.36 L390.9,36.64 L391.4,36.99 L391.9,37.41 L392.4,37.91 L392.9,38.48 L393.4,39.11 L393.9,39.8 L394.4,40.55 L394.9,41.35 L395.4,42.2 L395.9,43.1 L396.4,44.03 L396.9,44.99 L397.4,45.98 L397.9,46.98 L398.4,47.97 L398.9,48.96 L399.4,49.95 L399.9,50.93 L400.4,51.92 L400.9,52.89 L401.4,53.84 L401.9,54.78 L402.4,55.69 L402.9,56.58 L403.4,57.44 L403.9,58.27 L404.4,59.07 L404.9,59.84 L405.4,60.57 L405.9,61.27 L406.4,61.93 L406.9,62.56 L407.4,63.16 L407.9,63.72 L408.4,64.25 L408.9,64.76 L409.4,65.23 L409.9,65.67 L410.4,66.08 L410.9,66.47 L411.4,66.84 L411.9,67.08 L412.4,67.29 L412.9,67.47 L413.4,67.64 L413.9,67.79 L414.4,67.92 L414.9,68.04 L415.4,68.15 L415.9,68.24 L416.4,68.33 L416.9,68.41 L417.4,68.48 L417.9,68.54 L418.4,68.6 L418.9,68.65 L419.4,68.69" fill="none" stroke="#1f5a9c" stroke-width="0.9"/><path d="M381.9,60.82 L382.4,60.85 L382.9,60.86 L383.4,60.86 L383.9,60.84 L384.4,60.79 L384.9,60.72 L385.4,60.62 L385.9,60.48 L386.4,60.3 L386.9,60.07 L387.4,59.79 L387.9,59.44 L388.4,59.03 L388.9,58.55 L389.4,57.99 L389.9,57.35 L390.4,56.7 L390.9,55.98 L391.4,55.18 L391.9,54.29 L392.4,53.32 L392.9,52.27 L393.4,51.15 L393.9,49.97 L394.4,48.75 L394.9,47.49 L395.4,46.23 L395.9,44.97 L396.4,43.74 L396.9,42.57 L397.4,41.47 L397.9,40.47 L398.4,39.55 L398.9,38.76 L399.4,38.13 L399.9,37.67 L400.4,37.39 L400.9,37.31 L401.4,37.42 L401.9,37.73 L402.4,38.24 L402.9,38.93 L403.4,39.79 L403.9,40.82 L404.4,41.98 L404.9,43.27 L405.4,44.67 L405.9,46.14 L406.4,47.66 L406.9,49.22 L407.4,50.8 L407.9,52.36 L408.4,53.9 L408.9,55.4 L409.4,56.84 L409.9,58.21 L410.4,59.51 L410.9,60.73 L411.4,61.85 L411.9,62.8 L412.4,63.64 L412.9,64.39 L413.4,65.05 L413.9,65.64 L414.4,66.16 L414.9,66.6 L415.4,66.99 L415.9,67.32 L416.4,67.6 L416.9,67.84 L417.4,68.04 L417.9,68.21 L418.4,68.35 L418.9,68.47 L419.4,68.56 L419.9,68.64 L420.4,68.71 L420.4,68.88 L419.9,68.87 L419.4,68.85 L418.9,68.83 L418.4,68.82 L417.9,68.8 L417.4,68.79 L416.9,68.77 L416.4,68.75 L415.9,68.74 L415.4,68.72 L414.9,68.71 L414.4,68.69 L413.9,68.68 L413.4,68.66 L412.9,68.64 L412.4,68.63 L411.9,68.61 L411.4,68.57 L410.9,68.44 L410.4,68.31 L409.9,68.17 L409.4,68.04 L408.9,67.91 L408.4,67.77 L407.9,67.64 L407.4,67.51 L406.9,67.37 L406.4,67.24 L405.9,67.11 L405.4,66.97 L404.9,66.84 L404.4,66.71 L403.9,66.57 L403.4,66.44 L402.9,66.31 L402.4,66.17 L401.9,66.04 L401.4,65.91 L400.9,65.77 L400.4,65.64 L399.9,65.51 L399.4,65.37 L398.9,65.24 L398.4,65.11 L397.9,64.96 L397.4,64.79 L396.9,64.61 L396.4,64.44 L395.9,64.26 L395.4,64.09 L394.9,63.91 L394.4,63.74 L393.9,63.56 L393.4,63.39 L392.9,63.21 L392.4,63.04 L391.9,62.86 L391.4,62.69 L390.9,62.51 L390.4,62.34 L389.9,62.18 L389.4,62.11 L388.9,62.04 L388.4,61.96 L387.9,61.88 L387.4,61.81 L386.9,61.73 L386.4,61.66 L385.9,61.59 L385.4,61.51 L384.9,61.44 L384.4,61.36 L383.9,61.28 L383.4,61.21 L382.9,61.13 L382.4,61.06 L381.9,60.98 Z" fill="#c6dcea" stroke="none"/><circle cx="259.4" cy="49.13" r="2.5" fill="#ebebeb" stroke="#c6c6c6" stroke-width="0.6"/><circle cx="261.5" cy="49.04" r="2.5" fill="#ebebeb" stroke="#c6c6c6" stroke-width="0.6"/><circle cx="263.6" cy="48.96" r="2.5" fill="#ebebeb" stroke="#c6c6c6" stroke-width="0.6"/><circle cx="265.7" cy="48.88" r="2.5" fill="#ebebeb" stroke="#c6c6c6" stroke-width="0.6"/><circle cx="267.8" cy="48.79" r="2.5" fill="#ebebeb" stroke="#c6c6c6" stroke-width="0.6"/><circle cx="269.9" cy="48.71" r="2.5" fill="#ebebeb" stroke="#c6c6c6" stroke-width="0.6"/><circle cx="272" cy="48.63" r="2.5" fill="#ebebeb" stroke="#c6c6c6" stroke-width="0.6"/><circle cx="274.1" cy="48.54" r="2.5" fill="#ebebeb" stroke="#c6c6c6" stroke-width="0.6"/><circle cx="276.2" cy="48.46" r="2.5" fill="#ebebeb" stroke="#c6c6c6" stroke-width="0.6"/><circle cx="278.3" cy="48.38" r="2.5" fill="#ebebeb" stroke="#c6c6c6" stroke-width="0.6"/><circle cx="280.4" cy="48.29" r="2.5" fill="#ebebeb" stroke="#c6c6c6" stroke-width="0.6"/><circle cx="282.5" cy="48.21" r="2.5" fill="#ebebeb" stroke="#c6c6c6" stroke-width="0.6"/><circle cx="284.6" cy="48.13" r="2.5" fill="#ebebeb" stroke="#c6c6c6" stroke-width="0.6"/><circle cx="286.7" cy="47.14" r="2.5" fill="#ebebeb" stroke="#c6c6c6" stroke-width="0.6"/><circle cx="288.8" cy="45.71" r="2.5" fill="#ebebeb" stroke="#c6c6c6" stroke-width="0.6"/><circle cx="290.9" cy="44.28" r="2.5" fill="#ebebeb" stroke="#c6c6c6" stroke-width="0.6"/><circle cx="293" cy="42.84" r="2.5" fill="#ebebeb" stroke="#c6c6c6" stroke-width="0.6"/><circle cx="295.1" cy="41.7" r="2.5" fill="#ebebeb" stroke="#c6c6c6" stroke-width="0.6"/><circle cx="297.2" cy="40.65" r="2.5" fill="#ebebeb" stroke="#c6c6c6" stroke-width="0.6"/><circle cx="299.3" cy="39.6" r="2.5" fill="#ebebeb" stroke="#c6c6c6" stroke-width="0.6"/><circle cx="301.4" cy="38.55" r="2.5" fill="#ebebeb" stroke="#c6c6c6" stroke-width="0.6"/><circle cx="303.5" cy="37.5" r="2.5" fill="#ebebeb" stroke="#c6c6c6" stroke-width="0.6"/><circle cx="305.6" cy="37.75" r="2.5" fill="#ebebeb" stroke="#c6c6c6" stroke-width="0.6"/><circle cx="307.7" cy="38.13" r="2.5" fill="#ebebeb" stroke="#c6c6c6" stroke-width="0.6"/><circle cx="309.8" cy="38.52" r="2.5" fill="#ebebeb" stroke="#c6c6c6" stroke-width="0.6"/><circle cx="311.9" cy="38.9" r="2.5" fill="#ebebeb" stroke="#c6c6c6" stroke-width="0.6"/><circle cx="314" cy="40.85" r="2.5" fill="#ebebeb" stroke="#c6c6c6" stroke-width="0.6"/><circle cx="316.1" cy="42.8" r="2.5" fill="#ebebeb" stroke="#c6c6c6" stroke-width="0.6"/><circle cx="318.2" cy="44.76" r="2.5" fill="#ebebeb" stroke="#c6c6c6" stroke-width="0.6"/><circle cx="320.3" cy="46.64" r="2.5" fill="#ebebeb" stroke="#c6c6c6" stroke-width="0.6"/><circle cx="322.4" cy="48.49" r="2.5" fill="#ebebeb" stroke="#c6c6c6" stroke-width="0.6"/><circle cx="324.5" cy="50.33" r="2.5" fill="#ebebeb" stroke="#c6c6c6" stroke-width="0.6"/><circle cx="326.6" cy="52.17" r="2.5" fill="#ebebeb" stroke="#c6c6c6" stroke-width="0.6"/><circle cx="328.7" cy="52.89" r="2.5" fill="#ebebeb" stroke="#c6c6c6" stroke-width="0.6"/><circle cx="330.8" cy="53.15" r="2.5" fill="#ebebeb" stroke="#c6c6c6" stroke-width="0.6"/><circle cx="332.9" cy="53.41" r="2.5" fill="#ebebeb" stroke="#c6c6c6" stroke-width="0.6"/><circle cx="335" cy="53.68" r="2.5" fill="#ebebeb" stroke="#c6c6c6" stroke-width="0.6"/><circle cx="337.1" cy="53.94" r="2.5" fill="#ebebeb" stroke="#c6c6c6" stroke-width="0.6"/><circle cx="339.2" cy="54.2" r="2.5" fill="#ebebeb" stroke="#c6c6c6" stroke-width="0.6"/><circle cx="341.3" cy="54.04" r="2.5" fill="#ebebeb" stroke="#c6c6c6" stroke-width="0.6"/><circle cx="343.4" cy="53.62" r="2.5" fill="#ebebeb" stroke="#c6c6c6" stroke-width="0.6"/><circle cx="345.5" cy="53.2" r="2.5" fill="#ebebeb" stroke="#c6c6c6" stroke-width="0.6"/><circle cx="347.6" cy="52.78" r="2.5" fill="#ebebeb" stroke="#c6c6c6" stroke-width="0.6"/><circle cx="349.7" cy="52.02" r="2.5" fill="#ebebeb" stroke="#c6c6c6" stroke-width="0.6"/><circle cx="351.8" cy="50.57" r="2.5" fill="#ebebeb" stroke="#c6c6c6" stroke-width="0.6"/><circle cx="353.9" cy="49.13" r="2.5" fill="#ebebeb" stroke="#c6c6c6" stroke-width="0.6"/><circle cx="356" cy="47.69" r="2.5" fill="#ebebeb" stroke="#c6c6c6" stroke-width="0.6"/><circle cx="358.1" cy="46.91" r="2.5" fill="#ebebeb" stroke="#c6c6c6" stroke-width="0.6"/><circle cx="360.2" cy="46.74" r="2.5" fill="#ebebeb" stroke="#c6c6c6" stroke-width="0.6"/><circle cx="362.3" cy="46.56" r="2.5" fill="#ebebeb" stroke="#c6c6c6" stroke-width="0.6"/><circle cx="364.4" cy="46.39" r="2.5" fill="#ebebeb" stroke="#c6c6c6" stroke-width="0.6"/><circle cx="366.5" cy="46.22" r="2.5" fill="#ebebeb" stroke="#c6c6c6" stroke-width="0.6"/><circle cx="368.6" cy="45.26" r="2.5" fill="#ebebeb" stroke="#c6c6c6" stroke-width="0.6"/><circle cx="370.7" cy="44.22" r="2.5" fill="#ebebeb" stroke="#c6c6c6" stroke-width="0.6"/><circle cx="372.8" cy="43.18" r="2.5" fill="#ebebeb" stroke="#c6c6c6" stroke-width="0.6"/><circle cx="374.9" cy="42.14" r="2.5" fill="#ebebeb" stroke="#c6c6c6" stroke-width="0.6"/><circle cx="377" cy="41.09" r="2.5" fill="#ebebeb" stroke="#c6c6c6" stroke-width="0.6"/><circle cx="379.1" cy="39.58" r="2.5" fill="#ebebeb" stroke="#c6c6c6" stroke-width="0.6"/><circle cx="381.2" cy="37.12" r="2.5" fill="#ebebeb" stroke="#c6c6c6" stroke-width="0.6"/><circle cx="383.3" cy="34.66" r="2.5" fill="#ebebeb" stroke="#c6c6c6" stroke-width="0.6"/><circle cx="385.4" cy="32.2" r="2.5" fill="#ebebeb" stroke="#c6c6c6" stroke-width="0.6"/><circle cx="387.5" cy="29" r="2.5" fill="#ebebeb" stroke="#c6c6c6" stroke-width="0.6"/><circle cx="389.6" cy="25.81" r="2.5" fill="#ebebeb" stroke="#c6c6c6" stroke-width="0.6"/><circle cx="391.7" cy="23.99" r="2.5" fill="#ebebeb" stroke="#c6c6c6" stroke-width="0.6"/><circle cx="393.8" cy="22.5" r="2.5" fill="#ebebeb" stroke="#c6c6c6" stroke-width="0.6"/><circle cx="395.9" cy="21.72" r="2.5" fill="#ebebeb" stroke="#c6c6c6" stroke-width="0.6"/><circle cx="398" cy="21.3" r="2.5" fill="#ebebeb" stroke="#c6c6c6" stroke-width="0.6"/><circle cx="400.1" cy="22.67" r="2.5" fill="#ebebeb" stroke="#c6c6c6" stroke-width="0.6"/><circle cx="402.2" cy="26.12" r="2.5" fill="#ebebeb" stroke="#c6c6c6" stroke-width="0.6"/><circle cx="404.3" cy="30.7" r="2.5" fill="#ebebeb" stroke="#c6c6c6" stroke-width="0.6"/><circle cx="406.4" cy="40.5" r="2.5" fill="#ebebeb" stroke="#c6c6c6" stroke-width="0.6"/><circle cx="408.5" cy="48.8" r="2.5" fill="#ebebeb" stroke="#c6c6c6" stroke-width="0.6"/><circle cx="410.6" cy="55.7" r="2.5" fill="#ebebeb" stroke="#c6c6c6" stroke-width="0.6"/><circle cx="412.7" cy="61.53" r="2.5" fill="#ebebeb" stroke="#c6c6c6" stroke-width="0.6"/><circle cx="414.8" cy="64.7" r="2.5" fill="#ebebeb" stroke="#c6c6c6" stroke-width="0.6"/><circle cx="416.9" cy="66.8" r="2.5" fill="#ebebeb" stroke="#c6c6c6" stroke-width="0.6"/><circle cx="419" cy="67.88" r="2.5" fill="#ebebeb" stroke="#c6c6c6" stroke-width="0.6"/><circle cx="421.1" cy="68.2" r="2.5" fill="#ebebeb" stroke="#c6c6c6" stroke-width="0.6"/><circle cx="423.2" cy="68.53" r="2.5" fill="#ebebeb" stroke="#c6c6c6" stroke-width="0.6"/><circle cx="425.3" cy="68.81" r="2.5" fill="#ebebeb" stroke="#c6c6c6" stroke-width="0.6"/><circle cx="427.4" cy="68.86" r="2.5" fill="#ebebeb" stroke="#c6c6c6" stroke-width="0.6"/><circle cx="429.5" cy="68.92" r="2.5" fill="#ebebeb" stroke="#c6c6c6" stroke-width="0.6"/><circle cx="431.6" cy="68.98" r="2.5" fill="#ebebeb" stroke="#c6c6c6" stroke-width="0.6"/><circle cx="433.7" cy="69.03" r="2.5" fill="#ebebeb" stroke="#c6c6c6" stroke-width="0.6"/><circle cx="435.8" cy="69.09" r="2.5" fill="#ebebeb" stroke="#c6c6c6" stroke-width="0.6"/><circle cx="437.9" cy="69.14" r="2.5" fill="#ebebeb" stroke="#c6c6c6" stroke-width="0.6"/><path d="M255,52.5 C262.1,52.7 285.73,52.9 297.6,53.7 C309.47,54.5 317.8,56.7 326.2,57.3 C334.6,57.9 341.37,57.08 348,57.3 C354.63,57.52 359,57.78 366,58.6 C373,59.42 384.67,61.13 390,62.2 C395.33,63.27 394.42,63.93 398,65 C401.58,66.07 404.5,67.85 411.5,68.6 C418.5,69.35 435.25,69.35 440,69.5" fill="none" stroke="#3cb54a" stroke-width="1"/><path d="M255,49.3 C260.05,49.1 278.88,49.23 285.3,48.1 C291.72,46.97 290.43,44.28 293.5,42.5 C296.57,40.72 300.63,38 303.7,37.4 C306.77,36.8 309.35,37.55 311.9,38.9 C314.45,40.25 316.45,43.2 319,45.5 C321.55,47.8 323.7,51.23 327.2,52.7 C330.7,54.17 336.37,54.33 340,54.3 C343.63,54.27 346.17,53.72 349,52.5 C351.83,51.28 354.05,48.05 357,47 C359.95,45.95 363.13,47.3 366.7,46.2 C370.27,45.1 375.28,42.73 378.4,40.4 C381.52,38.07 383.47,34.73 385.4,32.2 C387.33,29.67 388.48,26.9 390,25.2 C391.52,23.5 393.08,22.67 394.5,22 C395.92,21.33 397.42,20.95 398.5,21.2 C399.58,21.45 400.03,21.92 401,23.5 C401.97,25.08 403.3,27.4 404.3,30.7 C405.3,34 406.1,39.55 407,43.3 C407.9,47.05 408.65,49.88 409.7,53.2 C410.75,56.52 411.95,60.78 413.3,63.2 C414.65,65.62 415.85,66.77 417.8,67.7 C419.75,68.63 421.3,68.55 425,68.8 C428.7,69.05 437.5,69.13 440,69.2" fill="none" stroke="#b58ad8" stroke-width="0.8"/><path d="M287.4,109.25 L287.9,109.21 L288.4,109.15 L288.9,109.07 L289.4,108.96 L289.9,108.83 L290.4,108.66 L290.9,108.45 L291.4,108.2 L291.9,107.9 L292.4,107.55 L292.9,107.16 L293.4,106.71 L293.9,106.21 L294.4,105.67 L294.9,105.09 L295.4,104.48 L295.9,103.85 L296.4,103.21 L296.9,102.57 L297.4,101.96 L297.9,101.38 L298.4,100.86 L298.9,100.41 L299.4,100.04 L299.9,99.77 L300.4,99.62 L300.9,99.59 L301.4,99.67 L301.9,99.86 L302.4,100.17 L302.9,100.57 L303.4,101.06 L303.9,101.62 L304.4,102.25 L304.9,102.92 L305.4,103.61 L305.9,104.32 L306.4,105.03 L306.9,105.72 L307.4,106.39 L307.9,107.01 L308.4,107.6 L308.9,108.14 L309.4,108.62 L309.9,109.06 L310.4,109.44 L310.9,109.78 L311.4,110.08 L311.9,110.33 L312.4,110.55 L312.9,110.74 L313.4,110.9 L313.9,111.04 L314.4,111.15 L314.9,111.26 L314.9,111.42 L314.4,111.37 L313.9,111.32 L313.4,111.27 L312.9,111.23 L312.4,111.18 L311.9,111.13 L311.4,111.08 L310.9,111.04 L310.4,110.99 L309.9,110.94 L309.4,110.89 L308.9,110.85 L308.4,110.8 L307.9,110.75 L307.4,110.7 L306.9,110.66 L306.4,110.61 L305.9,110.56 L305.4,110.51 L304.9,110.47 L304.4,110.42 L303.9,110.37 L303.4,110.32 L302.9,110.28 L302.4,110.23 L301.9,110.18 L301.4,110.13 L300.9,110.09 L300.4,110.04 L299.9,110 L299.4,109.97 L298.9,109.95 L298.4,109.93 L297.9,109.91 L297.4,109.88 L296.9,109.86 L296.4,109.84 L295.9,109.82 L295.4,109.8 L294.9,109.77 L294.4,109.75 L293.9,109.73 L293.4,109.71 L292.9,109.68 L292.4,109.66 L291.9,109.64 L291.4,109.62 L290.9,109.6 L290.4,109.57 L289.9,109.55 L289.4,109.53 L288.9,109.51 L288.4,109.48 L287.9,109.46 L287.4,109.44 Z" fill="#4d82b9" stroke="none"/><path d="M287.4,109.25 L287.9,109.21 L288.4,109.15 L288.9,109.07 L289.4,108.96 L289.9,108.83 L290.4,108.66 L290.9,108.45 L291.4,108.2 L291.9,107.9 L292.4,107.55 L292.9,107.16 L293.4,106.71 L293.9,106.21 L294.4,105.67 L294.9,105.09 L295.4,104.48 L295.9,103.85 L296.4,103.21 L296.9,102.57 L297.4,101.96 L297.9,101.38 L298.4,100.86 L298.9,100.41 L299.4,100.04 L299.9,99.77 L300.4,99.62 L300.9,99.59 L301.4,99.67 L301.9,99.86 L302.4,100.17 L302.9,100.57 L303.4,101.06 L303.9,101.62 L304.4,102.25 L304.9,102.92 L305.4,103.61 L305.9,104.32 L306.4,105.03 L306.9,105.72 L307.4,106.39 L307.9,107.01 L308.4,107.6 L308.9,108.14 L309.4,108.62 L309.9,109.06 L310.4,109.44 L310.9,109.78 L311.4,110.08 L311.9,110.33 L312.4,110.55 L312.9,110.74 L313.4,110.9 L313.9,111.04 L314.4,111.15 L314.9,111.26" fill="none" stroke="#1f5a9c" stroke-width="0.9"/><path d="M293.4,109.53 L293.9,109.51 L294.4,109.47 L294.9,109.42 L295.4,109.35 L295.9,109.27 L296.4,109.17 L296.9,109.04 L297.4,108.89 L297.9,108.72 L298.4,108.51 L298.9,108.27 L299.4,108 L299.9,107.69 L300.4,107.37 L300.9,107.02 L301.4,106.64 L301.9,106.22 L302.4,105.78 L302.9,105.31 L303.4,104.83 L303.9,104.33 L304.4,103.83 L304.9,103.33 L305.4,102.85 L305.9,102.38 L306.4,101.95 L306.9,101.55 L307.4,101.21 L307.9,100.92 L308.4,100.69 L308.9,100.53 L309.4,100.45 L309.9,100.44 L310.4,100.51 L310.9,100.66 L311.4,100.88 L311.9,101.18 L312.4,101.54 L312.9,101.96 L313.4,102.43 L313.9,102.95 L314.4,103.49 L314.9,104.07 L315.4,104.66 L315.9,105.25 L316.4,105.85 L316.9,106.43 L317.4,107 L317.9,107.55 L318.4,108.07 L318.9,108.56 L319.4,109.02 L319.9,109.44 L320.4,109.83 L320.9,110.19 L321.4,110.51 L321.9,110.8 L322.4,111.06 L322.9,111.29 L323.4,111.5 L323.9,111.68 L324.4,111.84 L324.9,111.98 L325.4,112.1 L325.9,112.22 L326.4,112.32 L326.9,112.4 L326.9,112.56 L326.4,112.51 L325.9,112.46 L325.4,112.41 L324.9,112.37 L324.4,112.32 L323.9,112.27 L323.4,112.22 L322.9,112.18 L322.4,112.13 L321.9,112.08 L321.4,112.03 L320.9,111.99 L320.4,111.94 L319.9,111.89 L319.4,111.84 L318.9,111.8 L318.4,111.75 L317.9,111.7 L317.4,111.65 L316.9,111.61 L316.4,111.56 L315.9,111.51 L315.4,111.46 L314.9,111.42 L314.4,111.37 L313.9,111.32 L313.4,111.27 L312.9,111.23 L312.4,111.18 L311.9,111.13 L311.4,111.08 L310.9,111.04 L310.4,110.99 L309.9,110.94 L309.4,110.89 L308.9,110.85 L308.4,110.8 L307.9,110.75 L307.4,110.7 L306.9,110.66 L306.4,110.61 L305.9,110.56 L305.4,110.51 L304.9,110.47 L304.4,110.42 L303.9,110.37 L303.4,110.32 L302.9,110.28 L302.4,110.23 L301.9,110.18 L301.4,110.13 L300.9,110.09 L300.4,110.04 L299.9,110 L299.4,109.97 L298.9,109.95 L298.4,109.93 L297.9,109.91 L297.4,109.88 L296.9,109.86 L296.4,109.84 L295.9,109.82 L295.4,109.8 L294.9,109.77 L294.4,109.75 L293.9,109.73 L293.4,109.71 Z" fill="#c6dcea" stroke="none"/><path d="M326.4,112.35 L326.9,112.37 L327.4,112.39 L327.9,112.41 L328.4,112.42 L328.9,112.43 L329.4,112.43 L329.9,112.43 L330.4,112.43 L330.9,112.41 L331.4,112.4 L331.9,112.37 L332.4,112.34 L332.9,112.3 L333.4,112.25 L333.9,112.19 L334.4,112.13 L334.9,112.06 L335.4,111.97 L335.9,111.88 L336.4,111.77 L336.9,111.66 L337.4,111.53 L337.9,111.4 L338.4,111.25 L338.9,111.1 L339.4,110.93 L339.9,110.75 L340.4,110.55 L340.9,110.33 L341.4,110.1 L341.9,109.87 L342.4,109.63 L342.9,109.38 L343.4,109.13 L343.9,108.87 L344.4,108.61 L344.9,108.35 L345.4,108.08 L345.9,107.82 L346.4,107.57 L346.9,107.31 L347.4,107.06 L347.9,106.82 L348.4,106.59 L348.9,106.37 L349.4,106.16 L349.9,105.97 L350.4,105.79 L350.9,105.63 L351.4,105.48 L351.9,105.36 L352.4,105.25 L352.9,105.17 L353.4,105.11 L353.9,105.07 L354.4,105.06 L354.9,105.07 L355.4,105.1 L355.9,105.16 L356.4,105.24 L356.9,105.34 L357.4,105.46 L357.9,105.61 L358.4,105.78 L358.9,105.97 L359.4,106.17 L359.9,106.4 L360.4,106.64 L360.9,106.89 L361.4,107.16 L361.9,107.44 L362.4,107.73 L362.9,108.02 L363.4,108.33 L363.9,108.63 L364.4,108.95 L364.9,109.26 L365.4,109.57 L365.9,109.89 L366.4,110.2 L366.9,110.5 L367.4,110.8 L367.9,111.1 L368.4,111.39 L368.9,111.67 L369.4,111.97 L369.9,112.31 L370.4,112.63 L370.9,112.95 L371.4,113.26 L371.9,113.55 L372.4,113.84 L372.9,114.11 L373.4,114.38 L373.9,114.63 L374.4,114.87 L374.9,115.11 L375.4,115.33 L375.9,115.55 L376.4,115.75 L376.9,115.95 L377.4,116.14 L377.9,116.32 L378.4,116.49 L378.9,116.66 L379.4,116.82 L379.9,116.97 L380.4,117.12 L380.9,117.27 L381.4,117.4 L381.9,117.54 L382.4,117.67 L382.9,117.8 L383.4,117.92 L383.4,118.09 L382.9,117.99 L382.4,117.89 L381.9,117.79 L381.4,117.7 L380.9,117.6 L380.4,117.5 L379.9,117.4 L379.4,117.3 L378.9,117.2 L378.4,117.11 L377.9,117.01 L377.4,116.91 L376.9,116.81 L376.4,116.71 L375.9,116.62 L375.4,116.52 L374.9,116.42 L374.4,116.32 L373.9,116.22 L373.4,116.12 L372.9,116.03 L372.4,115.93 L371.9,115.83 L371.4,115.73 L370.9,115.63 L370.4,115.54 L369.9,115.44 L369.4,115.34 L368.9,115.28 L368.4,115.26 L367.9,115.23 L367.4,115.21 L366.9,115.18 L366.4,115.16 L365.9,115.13 L365.4,115.1 L364.9,115.08 L364.4,115.05 L363.9,115.03 L363.4,115 L362.9,114.98 L362.4,114.95 L361.9,114.92 L361.4,114.9 L360.9,114.87 L360.4,114.85 L359.9,114.82 L359.4,114.8 L358.9,114.77 L358.4,114.75 L357.9,114.72 L357.4,114.69 L356.9,114.67 L356.4,114.64 L355.9,114.62 L355.4,114.59 L354.9,114.57 L354.4,114.54 L353.9,114.51 L353.4,114.49 L352.9,114.46 L352.4,114.44 L351.9,114.41 L351.4,114.39 L350.9,114.36 L350.4,114.33 L349.9,114.31 L349.4,114.28 L348.9,114.26 L348.4,114.23 L347.9,114.21 L347.4,114.18 L346.9,114.15 L346.4,114.13 L345.9,114.1 L345.4,114.08 L344.9,114.05 L344.4,114.03 L343.9,114 L343.4,113.97 L342.9,113.95 L342.4,113.92 L341.9,113.9 L341.4,113.87 L340.9,113.85 L340.4,113.82 L339.9,113.79 L339.4,113.74 L338.9,113.7 L338.4,113.65 L337.9,113.6 L337.4,113.55 L336.9,113.51 L336.4,113.46 L335.9,113.41 L335.4,113.36 L334.9,113.32 L334.4,113.27 L333.9,113.22 L333.4,113.17 L332.9,113.13 L332.4,113.08 L331.9,113.03 L331.4,112.98 L330.9,112.94 L330.4,112.89 L329.9,112.84 L329.4,112.79 L328.9,112.75 L328.4,112.7 L327.9,112.65 L327.4,112.6 L326.9,112.56 L326.4,112.51 Z" fill="#d9d9d9" stroke="none"/><path d="M360.9,114.7 L361.4,114.7 L361.9,114.69 L362.4,114.67 L362.9,114.65 L363.4,114.62 L363.9,114.58 L364.4,114.53 L364.9,114.48 L365.4,114.41 L365.9,114.33 L366.4,114.24 L366.9,114.13 L367.4,114.01 L367.9,113.86 L368.4,113.7 L368.9,113.52 L369.4,113.35 L369.9,113.2 L370.4,113.02 L370.9,112.82 L371.4,112.59 L371.9,112.33 L372.4,112.04 L372.9,111.72 L373.4,111.37 L373.9,110.98 L374.4,110.56 L374.9,110.11 L375.4,109.63 L375.9,109.11 L376.4,108.56 L376.9,107.98 L377.4,107.37 L377.9,106.72 L378.4,106.06 L378.9,105.37 L379.4,104.66 L379.9,103.93 L380.4,103.18 L380.9,102.43 L381.4,101.66 L381.9,100.9 L382.4,100.14 L382.9,99.39 L383.4,98.65 L383.9,97.93 L384.4,97.23 L384.9,96.56 L385.4,95.93 L385.9,95.34 L386.4,94.79 L386.9,94.29 L387.4,93.85 L387.9,93.46 L388.4,93.14 L388.9,92.88 L389.4,92.7 L389.9,92.58 L390.4,92.54 L390.9,92.57 L391.4,92.72 L391.9,92.98 L392.4,93.31 L392.9,93.71 L393.4,94.18 L393.9,94.73 L394.4,95.33 L394.9,96 L395.4,96.73 L395.9,97.51 L396.4,98.34 L396.9,99.22 L397.4,100.13 L397.9,101.08 L398.4,102.05 L398.9,103.05 L399.4,104.07 L399.9,105.09 L400.4,106.13 L400.9,107.16 L401.4,108.2 L401.9,109.22 L402.4,110.24 L402.9,111.24 L403.4,112.22 L403.9,113.18 L404.4,114.11 L404.9,115.02 L405.4,115.9 L405.9,116.7 L406.4,117.4 L406.9,118.07 L407.4,118.7 L407.9,119.3 L408.4,119.87 L408.9,120.4 L409.4,120.9 L409.9,121.37 L410.4,121.81 L410.9,122.22 L411.4,122.6 L411.9,122.95 L412.4,123.28 L412.9,123.58 L413.4,123.86 L413.9,124.12 L414.4,124.36 L414.9,124.58 L415.4,124.79 L415.9,124.97 L416.4,125.15 L416.9,125.31 L417.4,125.45 L417.9,125.59 L418.4,125.72 L418.9,125.83 L419.4,125.9 L419.9,125.97 L420.4,126.03 L420.9,126.08 L421.4,126.13 L421.4,126.3 L420.9,126.28 L420.4,126.26 L419.9,126.24 L419.4,126.22 L418.9,126.2 L418.4,126.15 L417.9,126.1 L417.4,126.04 L416.9,125.98 L416.4,125.93 L415.9,125.87 L415.4,125.81 L414.9,125.75 L414.4,125.7 L413.9,125.64 L413.4,125.58 L412.9,125.52 L412.4,125.47 L411.9,125.41 L411.4,125.35 L410.9,125.3 L410.4,125.24 L409.9,125.18 L409.4,125.12 L408.9,125.07 L408.4,125.01 L407.9,124.95 L407.4,124.89 L406.9,124.84 L406.4,124.78 L405.9,124.72 L405.4,124.6 L404.9,124.42 L404.4,124.25 L403.9,124.07 L403.4,123.9 L402.9,123.72 L402.4,123.55 L401.9,123.37 L401.4,123.2 L400.9,123.02 L400.4,122.85 L399.9,122.67 L399.4,122.5 L398.9,122.32 L398.4,122.15 L397.9,121.98 L397.4,121.8 L396.9,121.63 L396.4,121.45 L395.9,121.28 L395.4,121.1 L394.9,120.93 L394.4,120.75 L393.9,120.58 L393.4,120.4 L392.9,120.23 L392.4,120.05 L391.9,119.88 L391.4,119.7 L390.9,119.56 L390.4,119.46 L389.9,119.36 L389.4,119.27 L388.9,119.17 L388.4,119.07 L387.9,118.97 L387.4,118.87 L386.9,118.78 L386.4,118.68 L385.9,118.58 L385.4,118.48 L384.9,118.38 L384.4,118.28 L383.9,118.19 L383.4,118.09 L382.9,117.99 L382.4,117.89 L381.9,117.79 L381.4,117.7 L380.9,117.6 L380.4,117.5 L379.9,117.4 L379.4,117.3 L378.9,117.2 L378.4,117.11 L377.9,117.01 L377.4,116.91 L376.9,116.81 L376.4,116.71 L375.9,116.62 L375.4,116.52 L374.9,116.42 L374.4,116.32 L373.9,116.22 L373.4,116.12 L372.9,116.03 L372.4,115.93 L371.9,115.83 L371.4,115.73 L370.9,115.63 L370.4,115.54 L369.9,115.44 L369.4,115.34 L368.9,115.28 L368.4,115.26 L367.9,115.23 L367.4,115.21 L366.9,115.18 L366.4,115.16 L365.9,115.13 L365.4,115.1 L364.9,115.08 L364.4,115.05 L363.9,115.03 L363.4,115 L362.9,114.98 L362.4,114.95 L361.9,114.92 L361.4,114.9 L360.9,114.87 Z" fill="#4d82b9" stroke="none"/><path d="M360.9,114.7 L361.4,114.7 L361.9,114.69 L362.4,114.67 L362.9,114.65 L363.4,114.62 L363.9,114.58 L364.4,114.53 L364.9,114.48 L365.4,114.41 L365.9,114.33 L366.4,114.24 L366.9,114.13 L367.4,114.01 L367.9,113.86 L368.4,113.7 L368.9,113.52 L369.4,113.35 L369.9,113.2 L370.4,113.02 L370.9,112.82 L371.4,112.59 L371.9,112.33 L372.4,112.04 L372.9,111.72 L373.4,111.37 L373.9,110.98 L374.4,110.56 L374.9,110.11 L375.4,109.63 L375.9,109.11 L376.4,108.56 L376.9,107.98 L377.4,107.37 L377.9,106.72 L378.4,106.06 L378.9,105.37 L379.4,104.66 L379.9,103.93 L380.4,103.18 L380.9,102.43 L381.4,101.66 L381.9,100.9 L382.4,100.14 L382.9,99.39 L383.4,98.65 L383.9,97.93 L384.4,97.23 L384.9,96.56 L385.4,95.93 L385.9,95.34 L386.4,94.79 L386.9,94.29 L387.4,93.85 L387.9,93.46 L388.4,93.14 L388.9,92.88 L389.4,92.7 L389.9,92.58 L390.4,92.54 L390.9,92.57 L391.4,92.72 L391.9,92.98 L392.4,93.31 L392.9,93.71 L393.4,94.18 L393.9,94.73 L394.4,95.33 L394.9,96 L395.4,96.73 L395.9,97.51 L396.4,98.34 L396.9,99.22 L397.4,100.13 L397.9,101.08 L398.4,102.05 L398.9,103.05 L399.4,104.07 L399.9,105.09 L400.4,106.13 L400.9,107.16 L401.4,108.2 L401.9,109.22 L402.4,110.24 L402.9,111.24 L403.4,112.22 L403.9,113.18 L404.4,114.11 L404.9,115.02 L405.4,115.9 L405.9,116.7 L406.4,117.4 L406.9,118.07 L407.4,118.7 L407.9,119.3 L408.4,119.87 L408.9,120.4 L409.4,120.9 L409.9,121.37 L410.4,121.81 L410.9,122.22 L411.4,122.6 L411.9,122.95 L412.4,123.28 L412.9,123.58 L413.4,123.86 L413.9,124.12 L414.4,124.36 L414.9,124.58 L415.4,124.79 L415.9,124.97 L416.4,125.15 L416.9,125.31 L417.4,125.45 L417.9,125.59 L418.4,125.72 L418.9,125.83 L419.4,125.9 L419.9,125.97 L420.4,126.03 L420.9,126.08 L421.4,126.13" fill="none" stroke="#1f5a9c" stroke-width="0.9"/><path d="M383.4,117.91 L383.9,117.96 L384.4,118 L384.9,118.02 L385.4,118.02 L385.9,118 L386.4,117.96 L386.9,117.89 L387.4,117.79 L387.9,117.64 L388.4,117.46 L388.9,117.22 L389.4,116.94 L389.9,116.59 L390.4,116.18 L390.9,115.7 L391.4,115.2 L391.9,114.65 L392.4,114.02 L392.9,113.31 L393.4,112.52 L393.9,111.65 L394.4,110.71 L394.9,109.7 L395.4,108.63 L395.9,107.51 L396.4,106.35 L396.9,105.16 L397.4,103.97 L397.9,102.78 L398.4,101.61 L398.9,100.49 L399.4,99.44 L399.9,98.47 L400.4,97.6 L400.9,96.85 L401.4,96.24 L401.9,95.78 L402.4,95.48 L402.9,95.35 L403.4,95.4 L403.9,95.63 L404.4,96.04 L404.9,96.62 L405.4,97.36 L405.9,98.22 L406.4,99.15 L406.9,100.2 L407.4,101.36 L407.9,102.62 L408.4,103.95 L408.9,105.33 L409.4,106.74 L409.9,108.17 L410.4,109.59 L410.9,111 L411.4,112.37 L411.9,113.69 L412.4,114.96 L412.9,116.16 L413.4,117.29 L413.9,118.34 L414.4,119.32 L414.9,120.21 L415.4,121.02 L415.9,121.76 L416.4,122.42 L416.9,123.01 L417.4,123.54 L417.9,124.01 L418.4,124.42 L418.9,124.77 L419.4,125.04 L419.9,125.28 L420.4,125.48 L420.9,125.65 L421.4,125.79 L421.9,125.92 L422.4,126.02 L422.9,126.11 L423.4,126.18 L423.9,126.24 L423.9,126.39 L423.4,126.37 L422.9,126.35 L422.4,126.34 L421.9,126.32 L421.4,126.3 L420.9,126.28 L420.4,126.26 L419.9,126.24 L419.4,126.22 L418.9,126.2 L418.4,126.15 L417.9,126.1 L417.4,126.04 L416.9,125.98 L416.4,125.93 L415.9,125.87 L415.4,125.81 L414.9,125.75 L414.4,125.7 L413.9,125.64 L413.4,125.58 L412.9,125.52 L412.4,125.47 L411.9,125.41 L411.4,125.35 L410.9,125.3 L410.4,125.24 L409.9,125.18 L409.4,125.12 L408.9,125.07 L408.4,125.01 L407.9,124.95 L407.4,124.89 L406.9,124.84 L406.4,124.78 L405.9,124.72 L405.4,124.6 L404.9,124.42 L404.4,124.25 L403.9,124.07 L403.4,123.9 L402.9,123.72 L402.4,123.55 L401.9,123.37 L401.4,123.2 L400.9,123.02 L400.4,122.85 L399.9,122.67 L399.4,122.5 L398.9,122.32 L398.4,122.15 L397.9,121.98 L397.4,121.8 L396.9,121.63 L396.4,121.45 L395.9,121.28 L395.4,121.1 L394.9,120.93 L394.4,120.75 L393.9,120.58 L393.4,120.4 L392.9,120.23 L392.4,120.05 L391.9,119.88 L391.4,119.7 L390.9,119.56 L390.4,119.46 L389.9,119.36 L389.4,119.27 L388.9,119.17 L388.4,119.07 L387.9,118.97 L387.4,118.87 L386.9,118.78 L386.4,118.68 L385.9,118.58 L385.4,118.48 L384.9,118.38 L384.4,118.28 L383.9,118.19 L383.4,118.09 Z" fill="#c6dcea" stroke="none"/><circle cx="259.4" cy="106.85" r="2.5" fill="#ebebeb" stroke="#c6c6c6" stroke-width="0.6"/><circle cx="261.5" cy="106.78" r="2.5" fill="#ebebeb" stroke="#c6c6c6" stroke-width="0.6"/><circle cx="263.6" cy="106.71" r="2.5" fill="#ebebeb" stroke="#c6c6c6" stroke-width="0.6"/><circle cx="265.7" cy="106.64" r="2.5" fill="#ebebeb" stroke="#c6c6c6" stroke-width="0.6"/><circle cx="267.8" cy="106.57" r="2.5" fill="#ebebeb" stroke="#c6c6c6" stroke-width="0.6"/><circle cx="269.9" cy="106.5" r="2.5" fill="#ebebeb" stroke="#c6c6c6" stroke-width="0.6"/><circle cx="272" cy="106.43" r="2.5" fill="#ebebeb" stroke="#c6c6c6" stroke-width="0.6"/><circle cx="274.1" cy="106.36" r="2.5" fill="#ebebeb" stroke="#c6c6c6" stroke-width="0.6"/><circle cx="276.2" cy="106.29" r="2.5" fill="#ebebeb" stroke="#c6c6c6" stroke-width="0.6"/><circle cx="278.3" cy="106.22" r="2.5" fill="#ebebeb" stroke="#c6c6c6" stroke-width="0.6"/><circle cx="280.4" cy="106.15" r="2.5" fill="#ebebeb" stroke="#c6c6c6" stroke-width="0.6"/><circle cx="282.5" cy="106.08" r="2.5" fill="#ebebeb" stroke="#c6c6c6" stroke-width="0.6"/><circle cx="284.6" cy="106.01" r="2.5" fill="#ebebeb" stroke="#c6c6c6" stroke-width="0.6"/><circle cx="286.7" cy="105.32" r="2.5" fill="#ebebeb" stroke="#c6c6c6" stroke-width="0.6"/><circle cx="288.8" cy="104.48" r="2.5" fill="#ebebeb" stroke="#c6c6c6" stroke-width="0.6"/><circle cx="290.9" cy="103.64" r="2.5" fill="#ebebeb" stroke="#c6c6c6" stroke-width="0.6"/><circle cx="293" cy="102.8" r="2.5" fill="#ebebeb" stroke="#c6c6c6" stroke-width="0.6"/><circle cx="295.1" cy="101.92" r="2.5" fill="#ebebeb" stroke="#c6c6c6" stroke-width="0.6"/><circle cx="297.2" cy="100.27" r="2.5" fill="#ebebeb" stroke="#c6c6c6" stroke-width="0.6"/><circle cx="299.3" cy="98.62" r="2.5" fill="#ebebeb" stroke="#c6c6c6" stroke-width="0.6"/><circle cx="301.4" cy="96.97" r="2.5" fill="#ebebeb" stroke="#c6c6c6" stroke-width="0.6"/><circle cx="303.5" cy="96.07" r="2.5" fill="#ebebeb" stroke="#c6c6c6" stroke-width="0.6"/><circle cx="305.6" cy="95.46" r="2.5" fill="#ebebeb" stroke="#c6c6c6" stroke-width="0.6"/><circle cx="307.7" cy="94.86" r="2.5" fill="#ebebeb" stroke="#c6c6c6" stroke-width="0.6"/><circle cx="309.8" cy="95.07" r="2.5" fill="#ebebeb" stroke="#c6c6c6" stroke-width="0.6"/><circle cx="311.9" cy="95.89" r="2.5" fill="#ebebeb" stroke="#c6c6c6" stroke-width="0.6"/><circle cx="314" cy="96.72" r="2.5" fill="#ebebeb" stroke="#c6c6c6" stroke-width="0.6"/><circle cx="316.1" cy="97.59" r="2.5" fill="#ebebeb" stroke="#c6c6c6" stroke-width="0.6"/><circle cx="318.2" cy="99.58" r="2.5" fill="#ebebeb" stroke="#c6c6c6" stroke-width="0.6"/><circle cx="320.3" cy="101.56" r="2.5" fill="#ebebeb" stroke="#c6c6c6" stroke-width="0.6"/><circle cx="322.4" cy="103.54" r="2.5" fill="#ebebeb" stroke="#c6c6c6" stroke-width="0.6"/><circle cx="324.5" cy="105.53" r="2.5" fill="#ebebeb" stroke="#c6c6c6" stroke-width="0.6"/><circle cx="326.6" cy="106.8" r="2.5" fill="#ebebeb" stroke="#c6c6c6" stroke-width="0.6"/><circle cx="328.7" cy="107.85" r="2.5" fill="#ebebeb" stroke="#c6c6c6" stroke-width="0.6"/><circle cx="330.8" cy="108.9" r="2.5" fill="#ebebeb" stroke="#c6c6c6" stroke-width="0.6"/><circle cx="332.9" cy="109.95" r="2.5" fill="#ebebeb" stroke="#c6c6c6" stroke-width="0.6"/><circle cx="335" cy="111" r="2.5" fill="#ebebeb" stroke="#c6c6c6" stroke-width="0.6"/><circle cx="337.1" cy="111.72" r="2.5" fill="#ebebeb" stroke="#c6c6c6" stroke-width="0.6"/><circle cx="339.2" cy="112.14" r="2.5" fill="#ebebeb" stroke="#c6c6c6" stroke-width="0.6"/><circle cx="341.3" cy="112.04" r="2.5" fill="#ebebeb" stroke="#c6c6c6" stroke-width="0.6"/><circle cx="343.4" cy="111.62" r="2.5" fill="#ebebeb" stroke="#c6c6c6" stroke-width="0.6"/><circle cx="345.5" cy="111.21" r="2.5" fill="#ebebeb" stroke="#c6c6c6" stroke-width="0.6"/><circle cx="347.6" cy="110.79" r="2.5" fill="#ebebeb" stroke="#c6c6c6" stroke-width="0.6"/><circle cx="349.7" cy="110.37" r="2.5" fill="#ebebeb" stroke="#c6c6c6" stroke-width="0.6"/><circle cx="351.8" cy="109.96" r="2.5" fill="#ebebeb" stroke="#c6c6c6" stroke-width="0.6"/><circle cx="353.9" cy="109.54" r="2.5" fill="#ebebeb" stroke="#c6c6c6" stroke-width="0.6"/><circle cx="356" cy="108.8" r="2.5" fill="#ebebeb" stroke="#c6c6c6" stroke-width="0.6"/><circle cx="358.1" cy="107.89" r="2.5" fill="#ebebeb" stroke="#c6c6c6" stroke-width="0.6"/><circle cx="360.2" cy="106.98" r="2.5" fill="#ebebeb" stroke="#c6c6c6" stroke-width="0.6"/><circle cx="362.3" cy="106.08" r="2.5" fill="#ebebeb" stroke="#c6c6c6" stroke-width="0.6"/><circle cx="364.4" cy="105.17" r="2.5" fill="#ebebeb" stroke="#c6c6c6" stroke-width="0.6"/><circle cx="366.5" cy="104.51" r="2.5" fill="#ebebeb" stroke="#c6c6c6" stroke-width="0.6"/><circle cx="368.6" cy="103.9" r="2.5" fill="#ebebeb" stroke="#c6c6c6" stroke-width="0.6"/><circle cx="370.7" cy="103.29" r="2.5" fill="#ebebeb" stroke="#c6c6c6" stroke-width="0.6"/><circle cx="372.8" cy="102.68" r="2.5" fill="#ebebeb" stroke="#c6c6c6" stroke-width="0.6"/><circle cx="374.9" cy="102.06" r="2.5" fill="#ebebeb" stroke="#c6c6c6" stroke-width="0.6"/><circle cx="377" cy="101.05" r="2.5" fill="#ebebeb" stroke="#c6c6c6" stroke-width="0.6"/><circle cx="379.1" cy="98.73" r="2.5" fill="#ebebeb" stroke="#c6c6c6" stroke-width="0.6"/><circle cx="381.2" cy="96.42" r="2.5" fill="#ebebeb" stroke="#c6c6c6" stroke-width="0.6"/><circle cx="383.3" cy="94.1" r="2.5" fill="#ebebeb" stroke="#c6c6c6" stroke-width="0.6"/><circle cx="385.4" cy="91.76" r="2.5" fill="#ebebeb" stroke="#c6c6c6" stroke-width="0.6"/><circle cx="387.5" cy="88.83" r="2.5" fill="#ebebeb" stroke="#c6c6c6" stroke-width="0.6"/><circle cx="389.6" cy="85.89" r="2.5" fill="#ebebeb" stroke="#c6c6c6" stroke-width="0.6"/><circle cx="391.7" cy="82.96" r="2.5" fill="#ebebeb" stroke="#c6c6c6" stroke-width="0.6"/><circle cx="393.8" cy="81.09" r="2.5" fill="#ebebeb" stroke="#c6c6c6" stroke-width="0.6"/><circle cx="395.9" cy="80.03" r="2.5" fill="#ebebeb" stroke="#c6c6c6" stroke-width="0.6"/><circle cx="398" cy="78.96" r="2.5" fill="#ebebeb" stroke="#c6c6c6" stroke-width="0.6"/><circle cx="400.1" cy="78.1" r="2.5" fill="#ebebeb" stroke="#c6c6c6" stroke-width="0.6"/><circle cx="402.2" cy="79.12" r="2.5" fill="#ebebeb" stroke="#c6c6c6" stroke-width="0.6"/><circle cx="404.3" cy="80.43" r="2.5" fill="#ebebeb" stroke="#c6c6c6" stroke-width="0.6"/><circle cx="406.4" cy="83.45" r="2.5" fill="#ebebeb" stroke="#c6c6c6" stroke-width="0.6"/><circle cx="408.5" cy="89.01" r="2.5" fill="#ebebeb" stroke="#c6c6c6" stroke-width="0.6"/><circle cx="410.6" cy="96.14" r="2.5" fill="#ebebeb" stroke="#c6c6c6" stroke-width="0.6"/><circle cx="412.7" cy="103.18" r="2.5" fill="#ebebeb" stroke="#c6c6c6" stroke-width="0.6"/><circle cx="414.8" cy="110.15" r="2.5" fill="#ebebeb" stroke="#c6c6c6" stroke-width="0.6"/><circle cx="416.9" cy="115.53" r="2.5" fill="#ebebeb" stroke="#c6c6c6" stroke-width="0.6"/><circle cx="419" cy="119.16" r="2.5" fill="#ebebeb" stroke="#c6c6c6" stroke-width="0.6"/><circle cx="421.1" cy="122.79" r="2.5" fill="#ebebeb" stroke="#c6c6c6" stroke-width="0.6"/><circle cx="423.2" cy="124.36" r="2.5" fill="#ebebeb" stroke="#c6c6c6" stroke-width="0.6"/><circle cx="425.3" cy="124.91" r="2.5" fill="#ebebeb" stroke="#c6c6c6" stroke-width="0.6"/><circle cx="427.4" cy="125.45" r="2.5" fill="#ebebeb" stroke="#c6c6c6" stroke-width="0.6"/><circle cx="429.5" cy="125.99" r="2.5" fill="#ebebeb" stroke="#c6c6c6" stroke-width="0.6"/><circle cx="431.6" cy="126.53" r="2.5" fill="#ebebeb" stroke="#c6c6c6" stroke-width="0.6"/><circle cx="433.7" cy="127.01" r="2.5" fill="#ebebeb" stroke="#c6c6c6" stroke-width="0.6"/><circle cx="435.8" cy="127.07" r="2.5" fill="#ebebeb" stroke="#c6c6c6" stroke-width="0.6"/><circle cx="437.9" cy="127.14" r="2.5" fill="#ebebeb" stroke="#c6c6c6" stroke-width="0.6"/><path d="M255,108 C262.5,108.33 285.83,109.03 300,110 C314.17,110.97 328.47,112.92 340,113.8 C351.53,114.68 360.68,114.33 369.2,115.3 C377.72,116.27 385.02,118.03 391.1,119.6 C397.18,121.17 401.08,123.6 405.7,124.7 C410.32,125.8 413.08,125.82 418.8,126.2 C424.52,126.58 436.47,126.87 440,127" fill="none" stroke="#3cb54a" stroke-width="1"/><path d="M255,107 C260,106.83 278.33,106.83 285,106 C291.67,105.17 292.17,103.58 295,102 C297.83,100.42 299.73,97.73 302,96.5 C304.27,95.27 306.27,94.43 308.6,94.6 C310.93,94.77 313.27,95.6 316,97.5 C318.73,99.4 321.67,103.67 325,106 C328.33,108.33 333.5,110.45 336,111.5 C338.5,112.55 336.9,112.65 340,112.3 C343.1,111.95 350.47,110.62 354.6,109.4 C358.73,108.18 361.15,106.3 364.8,105 C368.45,103.7 373.08,103.78 376.5,101.6 C379.92,99.42 382.62,95.17 385.3,91.9 C387.98,88.63 390.17,84.18 392.6,82 C395.03,79.82 398,78.88 399.9,78.8 C401.8,78.72 402.32,78.58 404,81.5 C405.68,84.42 408,90.43 410,96.3 C412,102.17 414.03,112.08 416,116.7 C417.97,121.32 418.9,122.28 421.8,124 C424.7,125.72 430.37,126.47 433.4,127 C436.43,127.53 438.9,127.17 440,127.2" fill="none" stroke="#b58ad8" stroke-width="0.8"/></g><line x1="398.5" y1="18" x2="398.5" y2="75" stroke="#222" stroke-width="0.9" stroke-dasharray="1.2,1.2"/><line x1="399.6" y1="65" x2="399.6" y2="92.6" stroke="#222" stroke-width="0.9" stroke-dasharray="1.2,1.2"/><line x1="408.7" y1="71.5" x2="393" y2="71.5" stroke="#111" stroke-width="1.0"/><path d="M390.3,71.5 L393.5,70 L393.5,73 Z" fill="#111"/><line x1="259.8" y1="6.5" x2="435.8" y2="6.5" stroke="#5c5c5c" stroke-width="1.05"/><line x1="259.8" y1="133.4" x2="435.8" y2="133.4" stroke="#5c5c5c" stroke-width="1.05"/><line x1="260.4" y1="6.5" x2="260.4" y2="133.4" stroke="#8c8c8c" stroke-width="1.4"/><line x1="435.2" y1="6.5" x2="435.2" y2="133.4" stroke="#8c8c8c" stroke-width="1.4"/><line x1="260.3" y1="133.4" x2="260.3" y2="135.6" stroke="#6e6e6e" stroke-width="0.8"/><text x="260.3" y="143.8" font-size="8.5" fill="#000" stroke="#000" stroke-width="0.1" text-anchor="middle">660</text><line x1="298.5" y1="133.4" x2="298.5" y2="135.6" stroke="#6e6e6e" stroke-width="0.8"/><text x="298.5" y="143.8" font-size="8.5" fill="#000" stroke="#000" stroke-width="0.1" text-anchor="middle">665</text><line x1="336.8" y1="133.4" x2="336.8" y2="135.6" stroke="#6e6e6e" stroke-width="0.8"/><text x="336.8" y="143.8" font-size="8.5" fill="#000" stroke="#000" stroke-width="0.1" text-anchor="middle">650</text><line x1="374.4" y1="133.4" x2="374.4" y2="135.6" stroke="#6e6e6e" stroke-width="0.8"/><text x="374.4" y="143.8" font-size="8.5" fill="#000" stroke="#000" stroke-width="0.1" text-anchor="middle">645</text><line x1="412.2" y1="133.4" x2="412.2" y2="135.6" stroke="#6e6e6e" stroke-width="0.8"/><text x="412.2" y="143.8" font-size="8.5" fill="#000" stroke="#000" stroke-width="0.1" text-anchor="middle">640</text><text x="347" y="157" font-size="8.5" fill="#000" stroke="#000" stroke-width="0.1" text-anchor="middle">Binding Energy (eV)</text><text x="251.5" y="67.3" font-size="8.5" fill="#000" stroke="#000" stroke-width="0.1" text-anchor="middle" transform="rotate(-90 251.5 67.3)">Intensity (a.u.)</text><text x="262.9" y="18.1" font-size="8.5" fill="#000" stroke="#000" stroke-width="0.1" text-anchor="start">Mn 2<tspan font-style="italic">p</tspan></text><text x="302" y="33.5" font-size="8.5" fill="#000" stroke="#000" stroke-width="0.1" text-anchor="start">2<tspan font-style="italic">p</tspan><tspan font-size="5.5" dy="1.5">1/2</tspan></text><text x="389.7" y="14.8" font-size="8.5" fill="#000" stroke="#000" stroke-width="0.1" text-anchor="start">2<tspan font-style="italic">p</tspan><tspan font-size="5.5" dy="1.5">3/2</tspan></text><text x="345" y="39.2" font-size="8.5" fill="#8a8a8a" stroke="#8a8a8a" stroke-width="0.1" text-anchor="start">Sat.</text><line x1="365.4" y1="53" x2="358.38" y2="44.43" stroke="#555" stroke-width="0.8"/><path d="M356.8,42.5 L359.78,43.93 L357.62,45.71 Z" fill="#555"/><text x="364.7" y="30.6" font-size="8.5" fill="#1f5fa6" stroke="#1f5fa6" stroke-width="0.1" text-anchor="start">Mn<tspan font-size="5.5" dy="-3">3+</tspan></text><line x1="387.7" y1="43.8" x2="380.21" y2="34.69" stroke="#1f5fa6" stroke-width="0.9"/><path d="M378.5,32.6 L381.77,34.06 L379.29,36.09 Z" fill="#1f5fa6"/><text x="412" y="30.6" font-size="8.5" fill="#5aa6d6" stroke="#5aa6d6" stroke-width="0.1" text-anchor="start">Mn<tspan font-size="5.5" dy="-3">2+</tspan></text><line x1="402.2" y1="41.1" x2="411.16" y2="34.24" stroke="#5aa6d6" stroke-width="0.9"/><path d="M413.3,32.6 L411.73,35.82 L409.79,33.28 Z" fill="#5aa6d6"/><text x="266.6" y="68" font-size="8.5" fill="#000" stroke="#000" stroke-width="0.1" text-anchor="start">MnBTC-Ru</text><text x="364.7" y="74.2" font-size="8.5" fill="#000" stroke="#000" stroke-width="0.1" text-anchor="start">0.2 eV</text><text x="345.8" y="99.2" font-size="8.5" fill="#8a8a8a" stroke="#8a8a8a" stroke-width="0.1" text-anchor="start">Sat.</text><line x1="361.9" y1="113" x2="354.61" y2="103.39" stroke="#555" stroke-width="0.8"/><path d="M353.1,101.4 L356.03,102.94 L353.8,104.64 Z" fill="#555"/><text x="367" y="89.4" font-size="8.5" fill="#1f5fa6" stroke="#1f5fa6" stroke-width="0.1" text-anchor="start">Mn<tspan font-size="5.5" dy="-3">3+</tspan></text><line x1="389.6" y1="103.6" x2="383.06" y2="93.47" stroke="#1f5fa6" stroke-width="0.9"/><path d="M381.6,91.2 L384.68,93.02 L381.99,94.76 Z" fill="#1f5fa6"/><text x="413.7" y="89.4" font-size="8.5" fill="#5aa6d6" stroke="#5aa6d6" stroke-width="0.1" text-anchor="start">Mn<tspan font-size="5.5" dy="-3">2+</tspan></text><line x1="405.7" y1="104.3" x2="414.69" y2="95.31" stroke="#5aa6d6" stroke-width="0.9"/><path d="M416.6,93.4 L415.47,96.79 L413.21,94.53 Z" fill="#5aa6d6"/><text x="271.2" y="121.5" font-size="8.5" fill="#000" stroke="#000" stroke-width="0.1" text-anchor="start">MnBTC</text><clipPath id="clipC"><rect x="494.4" y="6.0" width="176.10000000000002" height="127.30000000000001"/></clipPath><g clip-path="url(#clipC)"><path d="M517.2,49.78 L517.6,49.76 L518,49.75 L518.4,49.77 L518.8,49.79 L519.2,49.81 L519.6,49.82 L520,49.83 L520.4,49.83 L520.8,49.84 L521.2,49.84 L521.6,49.83 L522,49.82 L522.4,49.81 L522.8,49.79 L523.2,49.77 L523.6,49.74 L524,49.7 L524.4,49.66 L524.8,49.61 L525.2,49.55 L525.6,49.48 L526,49.41 L526.4,49.32 L526.8,49.22 L527.2,49.12 L527.6,48.99 L528,48.86 L528.4,48.71 L528.8,48.55 L529.2,48.37 L529.6,48.17 L530,47.95 L530.4,47.71 L530.8,47.45 L531.2,47.17 L531.6,46.86 L532,46.53 L532.4,46.17 L532.8,45.78 L533.2,45.36 L533.6,44.9 L534,44.42 L534.4,43.89 L534.8,43.33 L535.2,42.73 L535.6,42.09 L536,41.4 L536.4,40.67 L536.8,39.9 L537.2,39.08 L537.6,38.22 L538,37.32 L538.4,36.37 L538.8,35.39 L539.2,34.38 L539.6,33.35 L540,32.33 L540.4,31.37 L540.8,31.41 L541.2,32.46 L541.6,33.57 L542,34.68 L542.4,35.78 L542.8,36.85 L543.2,37.88 L543.6,38.88 L544,39.82 L544.4,40.73 L544.8,41.59 L545.2,42.4 L545.6,43.18 L546,43.91 L546.4,44.6 L546.8,45.25 L547.2,45.86 L547.6,46.43 L548,46.97 L548.4,47.48 L548.8,47.96 L549.2,48.41 L549.6,48.83 L550,49.22 L550.4,49.59 L550.8,49.94 L551.2,50.26 L551.6,50.57 L552,50.86 L552.4,51.12 L552.8,51.38 L553.2,51.61 L553.6,51.83 L554,52.04 L554.4,52.24 L554.8,52.42 L555.2,52.59 L555.6,52.76 L556,52.91 L556.4,53.06 L556.8,53.2 L557.2,53.33 L557.6,53.45 L558,53.57 L558.4,53.66 L558.8,53.72 L559.2,53.78 L559.6,53.84 L560,53.89 L560.4,53.94 L560.8,53.98 L561.2,54.02 L561.6,54.06 L562,54.1 L562.4,54.13 L562.8,54.16 L563.2,54.19 L563.6,54.21 L564,54.23 L564,54.45 L563.6,54.45 L563.2,54.44 L562.8,54.44 L562.4,54.44 L562,54.43 L561.6,54.43 L561.2,54.43 L560.8,54.42 L560.4,54.42 L560,54.42 L559.6,54.41 L559.2,54.41 L558.8,54.41 L558.4,54.4 L558,54.38 L557.6,54.33 L557.2,54.29 L556.8,54.25 L556.4,54.2 L556,54.16 L555.6,54.12 L555.2,54.07 L554.8,54.03 L554.4,53.99 L554,53.94 L553.6,53.9 L553.2,53.85 L552.8,53.81 L552.4,53.77 L552,53.72 L551.6,53.68 L551.2,53.64 L550.8,53.59 L550.4,53.55 L550,53.5 L549.6,53.46 L549.2,53.42 L548.8,53.37 L548.4,53.33 L548,53.29 L547.6,53.24 L547.2,53.2 L546.8,53.16 L546.4,53.11 L546,53.07 L545.6,53.02 L545.2,52.98 L544.8,52.94 L544.4,52.89 L544,52.85 L543.6,52.81 L543.2,52.76 L542.8,52.72 L542.4,52.67 L542,52.63 L541.6,52.59 L541.2,52.54 L540.8,52.5 L540.4,52.46 L540,52.41 L539.6,52.37 L539.2,52.33 L538.8,52.28 L538.4,52.24 L538,52.19 L537.6,52.15 L537.2,52.11 L536.8,52.06 L536.4,52.02 L536,51.98 L535.6,51.93 L535.2,51.89 L534.8,51.85 L534.4,51.8 L534,51.76 L533.6,51.71 L533.2,51.67 L532.8,51.63 L532.4,51.58 L532,51.54 L531.6,51.5 L531.2,51.45 L530.8,51.41 L530.4,51.36 L530,51.32 L529.6,51.28 L529.2,51.23 L528.8,51.19 L528.4,51.15 L528,51.1 L527.6,51.06 L527.2,51.02 L526.8,50.97 L526.4,50.93 L526,50.88 L525.6,50.84 L525.2,50.8 L524.8,50.75 L524.4,50.71 L524,50.67 L523.6,50.62 L523.2,50.58 L522.8,50.53 L522.4,50.49 L522,50.45 L521.6,50.4 L521.2,50.36 L520.8,50.32 L520.4,50.27 L520,50.23 L519.6,50.19 L519.2,50.14 L518.8,50.1 L518.4,50.05 L518,50.01 L517.6,50 L517.2,49.99 Z" fill="#c6dcea" stroke="none"/><path d="M517.2,49.78 L517.6,49.76 L518,49.75 L518.4,49.77 L518.8,49.79 L519.2,49.81 L519.6,49.82 L520,49.83 L520.4,49.83 L520.8,49.84 L521.2,49.84 L521.6,49.83 L522,49.82 L522.4,49.81 L522.8,49.79 L523.2,49.77 L523.6,49.74 L524,49.7 L524.4,49.66 L524.8,49.61 L525.2,49.55 L525.6,49.48 L526,49.41 L526.4,49.32 L526.8,49.22 L527.2,49.12 L527.6,48.99 L528,48.86 L528.4,48.71 L528.8,48.55 L529.2,48.37 L529.6,48.17 L530,47.95 L530.4,47.71 L530.8,47.45 L531.2,47.17 L531.6,46.86 L532,46.53 L532.4,46.17 L532.8,45.78 L533.2,45.36 L533.6,44.9 L534,44.42 L534.4,43.89 L534.8,43.33 L535.2,42.73 L535.6,42.09 L536,41.4 L536.4,40.67 L536.8,39.9 L537.2,39.08 L537.6,38.22 L538,37.32 L538.4,36.37 L538.8,35.39 L539.2,34.38 L539.6,33.35 L540,32.33 L540.4,31.37 L540.8,31.41 L541.2,32.46 L541.6,33.57 L542,34.68 L542.4,35.78 L542.8,36.85 L543.2,37.88 L543.6,38.88 L544,39.82 L544.4,40.73 L544.8,41.59 L545.2,42.4 L545.6,43.18 L546,43.91 L546.4,44.6 L546.8,45.25 L547.2,45.86 L547.6,46.43 L548,46.97 L548.4,47.48 L548.8,47.96 L549.2,48.41 L549.6,48.83 L550,49.22 L550.4,49.59 L550.8,49.94 L551.2,50.26 L551.6,50.57 L552,50.86 L552.4,51.12 L552.8,51.38 L553.2,51.61 L553.6,51.83 L554,52.04 L554.4,52.24 L554.8,52.42 L555.2,52.59 L555.6,52.76 L556,52.91 L556.4,53.06 L556.8,53.2 L557.2,53.33 L557.6,53.45 L558,53.57 L558.4,53.66 L558.8,53.72 L559.2,53.78 L559.6,53.84 L560,53.89 L560.4,53.94 L560.8,53.98 L561.2,54.02 L561.6,54.06 L562,54.1 L562.4,54.13 L562.8,54.16 L563.2,54.19 L563.6,54.21 L564,54.23" fill="none" stroke="#8fbfdc" stroke-width="0.6"/><path d="M601.6,54.56 L602,54.55 L602.4,54.54 L602.8,54.53 L603.2,54.51 L603.6,54.5 L604,54.48 L604.4,54.46 L604.8,54.44 L605.2,54.44 L605.6,54.47 L606,54.49 L606.4,54.52 L606.8,54.54 L607.2,54.55 L607.6,54.57 L608,54.58 L608.4,54.59 L608.8,54.6 L609.2,54.61 L609.6,54.61 L610,54.61 L610.4,54.6 L610.8,54.6 L611.2,54.59 L611.6,54.57 L612,54.55 L612.4,54.52 L612.8,54.5 L613.2,54.46 L613.6,54.42 L614,54.37 L614.4,54.32 L614.8,54.26 L615.2,54.2 L615.6,54.13 L616,54.04 L616.4,53.96 L616.8,53.86 L617.2,53.75 L617.6,53.64 L618,53.51 L618.4,53.37 L618.8,53.23 L619.2,53.07 L619.6,52.89 L620,52.71 L620.4,52.51 L620.8,52.29 L621.2,52.06 L621.6,51.81 L622,51.55 L622.4,51.27 L622.8,50.97 L623.2,50.64 L623.6,50.3 L624,49.94 L624.4,49.55 L624.8,49.14 L625.2,48.7 L625.6,48.23 L626,47.74 L626.4,47.22 L626.8,46.67 L627.2,46.08 L627.6,45.47 L628,44.81 L628.4,44.13 L628.8,43.4 L629.2,42.64 L629.6,41.84 L630,40.99 L630.4,40.1 L630.8,39.17 L631.2,38.2 L631.6,37.17 L632,36.1 L632.4,34.99 L632.8,33.82 L633.2,32.6 L633.6,31.34 L634,30.03 L634.4,28.67 L634.8,27.26 L635.2,25.81 L635.6,24.32 L636,22.79 L636.4,21.24 L636.8,19.67 L637.2,18.11 L637.6,16.58 L638,15.17 L638.4,15.22 L638.8,16.75 L639.2,18.38 L639.6,20.05 L640,21.73 L640.4,23.39 L640.8,25.02 L641.2,26.62 L641.6,28.18 L642,29.69 L642.4,31.16 L642.8,32.58 L643.2,33.95 L643.6,35.28 L644,36.55 L644.4,37.78 L644.8,38.96 L645.2,40.09 L645.6,41.17 L646,42.21 L646.4,43.21 L646.8,44.16 L647.2,45.07 L647.6,45.94 L648,46.78 L648.4,47.57 L648.8,48.33 L649.2,49.06 L649.6,49.75 L650,50.41 L650.4,51.04 L650.8,51.64 L651.2,52.21 L651.6,52.76 L652,53.28 L652.4,53.77 L652.8,54.25 L653.2,54.7 L653.6,55.13 L654,55.54 L654.4,55.93 L654.8,56.3 L655.2,56.65 L655.6,56.99 L656,57.32 L656.4,57.62 L656.8,57.92 L657.2,58.2 L657.6,58.47 L658,58.72 L658.4,58.93 L658.8,59.12 L659.2,59.29 L659.6,59.46 L660,59.61 L660.4,59.76 L660.8,59.9 L661.2,60.03 L661.6,60.16 L662,60.27 L662.4,60.38 L662.8,60.49 L663.2,60.59 L663.6,60.68 L664,60.77 L664.4,60.85 L664.8,60.93 L665.2,61.01 L665.6,61.08 L666,61.15 L666.4,61.21 L666.8,61.27 L667.2,61.33 L667.6,61.38 L668,61.43 L668.4,61.48 L668.8,61.52 L669.2,61.57 L669.6,61.61 L670,61.65 L670.4,61.68 L670.4,62.12 L670,62.11 L669.6,62.1 L669.2,62.1 L668.8,62.09 L668.4,62.08 L668,62.08 L667.6,62.07 L667.2,62.06 L666.8,62.05 L666.4,62.05 L666,62.04 L665.6,62.03 L665.2,62.03 L664.8,62.02 L664.4,62.01 L664,62 L663.6,62 L663.2,61.99 L662.8,61.98 L662.4,61.98 L662,61.97 L661.6,61.96 L661.2,61.96 L660.8,61.95 L660.4,61.94 L660,61.93 L659.6,61.93 L659.2,61.92 L658.8,61.91 L658.4,61.91 L658,61.89 L657.6,61.83 L657.2,61.77 L656.8,61.72 L656.4,61.66 L656,61.6 L655.6,61.55 L655.2,61.49 L654.8,61.44 L654.4,61.38 L654,61.32 L653.6,61.27 L653.2,61.21 L652.8,61.15 L652.4,61.1 L652,61.04 L651.6,60.99 L651.2,60.93 L650.8,60.87 L650.4,60.82 L650,60.76 L649.6,60.7 L649.2,60.65 L648.8,60.59 L648.4,60.54 L648,60.48 L647.6,60.42 L647.2,60.37 L646.8,60.31 L646.4,60.25 L646,60.2 L645.6,60.14 L645.2,60.08 L644.8,60.03 L644.4,59.97 L644,59.92 L643.6,59.86 L643.2,59.8 L642.8,59.75 L642.4,59.69 L642,59.63 L641.6,59.58 L641.2,59.52 L640.8,59.47 L640.4,59.41 L640,59.35 L639.6,59.3 L639.2,59.24 L638.8,59.18 L638.4,59.13 L638,59.07 L637.6,59.02 L637.2,58.97 L636.8,58.92 L636.4,58.87 L636,58.82 L635.6,58.76 L635.2,58.71 L634.8,58.66 L634.4,58.61 L634,58.56 L633.6,58.5 L633.2,58.45 L632.8,58.4 L632.4,58.35 L632,58.3 L631.6,58.25 L631.2,58.19 L630.8,58.14 L630.4,58.09 L630,58.04 L629.6,57.99 L629.2,57.93 L628.8,57.88 L628.4,57.83 L628,57.78 L627.6,57.73 L627.2,57.68 L626.8,57.62 L626.4,57.57 L626,57.52 L625.6,57.47 L625.2,57.42 L624.8,57.36 L624.4,57.31 L624,57.26 L623.6,57.21 L623.2,57.16 L622.8,57.11 L622.4,57.05 L622,57 L621.6,56.95 L621.2,56.9 L620.8,56.85 L620.4,56.79 L620,56.74 L619.6,56.69 L619.2,56.64 L618.8,56.59 L618.4,56.54 L618,56.48 L617.6,56.43 L617.2,56.38 L616.8,56.33 L616.4,56.28 L616,56.22 L615.6,56.17 L615.2,56.12 L614.8,56.07 L614.4,56.02 L614,55.97 L613.6,55.91 L613.2,55.86 L612.8,55.81 L612.4,55.76 L612,55.71 L611.6,55.65 L611.2,55.6 L610.8,55.55 L610.4,55.5 L610,55.45 L609.6,55.4 L609.2,55.34 L608.8,55.29 L608.4,55.24 L608,55.19 L607.6,55.14 L607.2,55.08 L606.8,55.03 L606.4,54.98 L606,54.93 L605.6,54.88 L605.2,54.83 L604.8,54.8 L604.4,54.79 L604,54.79 L603.6,54.79 L603.2,54.78 L602.8,54.78 L602.4,54.78 L602,54.77 L601.6,54.77 Z" fill="#c6dcea" stroke="none"/><path d="M601.6,54.56 L602,54.55 L602.4,54.54 L602.8,54.53 L603.2,54.51 L603.6,54.5 L604,54.48 L604.4,54.46 L604.8,54.44 L605.2,54.44 L605.6,54.47 L606,54.49 L606.4,54.52 L606.8,54.54 L607.2,54.55 L607.6,54.57 L608,54.58 L608.4,54.59 L608.8,54.6 L609.2,54.61 L609.6,54.61 L610,54.61 L610.4,54.6 L610.8,54.6 L611.2,54.59 L611.6,54.57 L612,54.55 L612.4,54.52 L612.8,54.5 L613.2,54.46 L613.6,54.42 L614,54.37 L614.4,54.32 L614.8,54.26 L615.2,54.2 L615.6,54.13 L616,54.04 L616.4,53.96 L616.8,53.86 L617.2,53.75 L617.6,53.64 L618,53.51 L618.4,53.37 L618.8,53.23 L619.2,53.07 L619.6,52.89 L620,52.71 L620.4,52.51 L620.8,52.29 L621.2,52.06 L621.6,51.81 L622,51.55 L622.4,51.27 L622.8,50.97 L623.2,50.64 L623.6,50.3 L624,49.94 L624.4,49.55 L624.8,49.14 L625.2,48.7 L625.6,48.23 L626,47.74 L626.4,47.22 L626.8,46.67 L627.2,46.08 L627.6,45.47 L628,44.81 L628.4,44.13 L628.8,43.4 L629.2,42.64 L629.6,41.84 L630,40.99 L630.4,40.1 L630.8,39.17 L631.2,38.2 L631.6,37.17 L632,36.1 L632.4,34.99 L632.8,33.82 L633.2,32.6 L633.6,31.34 L634,30.03 L634.4,28.67 L634.8,27.26 L635.2,25.81 L635.6,24.32 L636,22.79 L636.4,21.24 L636.8,19.67 L637.2,18.11 L637.6,16.58 L638,15.17 L638.4,15.22 L638.8,16.75 L639.2,18.38 L639.6,20.05 L640,21.73 L640.4,23.39 L640.8,25.02 L641.2,26.62 L641.6,28.18 L642,29.69 L642.4,31.16 L642.8,32.58 L643.2,33.95 L643.6,35.28 L644,36.55 L644.4,37.78 L644.8,38.96 L645.2,40.09 L645.6,41.17 L646,42.21 L646.4,43.21 L646.8,44.16 L647.2,45.07 L647.6,45.94 L648,46.78 L648.4,47.57 L648.8,48.33 L649.2,49.06 L649.6,49.75 L650,50.41 L650.4,51.04 L650.8,51.64 L651.2,52.21 L651.6,52.76 L652,53.28 L652.4,53.77 L652.8,54.25 L653.2,54.7 L653.6,55.13 L654,55.54 L654.4,55.93 L654.8,56.3 L655.2,56.65 L655.6,56.99 L656,57.32 L656.4,57.62 L656.8,57.92 L657.2,58.2 L657.6,58.47 L658,58.72 L658.4,58.93 L658.8,59.12 L659.2,59.29 L659.6,59.46 L660,59.61 L660.4,59.76 L660.8,59.9 L661.2,60.03 L661.6,60.16 L662,60.27 L662.4,60.38 L662.8,60.49 L663.2,60.59 L663.6,60.68 L664,60.77 L664.4,60.85 L664.8,60.93 L665.2,61.01 L665.6,61.08 L666,61.15 L666.4,61.21 L666.8,61.27 L667.2,61.33 L667.6,61.38 L668,61.43 L668.4,61.48 L668.8,61.52 L669.2,61.57 L669.6,61.61 L670,61.65 L670.4,61.68" fill="none" stroke="#4f8fc7" stroke-width="0.6"/><path d="M506.4,49.71 L506.8,49.7 L507.2,49.69 L507.6,49.68 L508,49.67 L508.4,49.66 L508.8,49.64 L509.2,49.63 L509.6,49.61 L510,49.6 L510.4,49.58 L510.8,49.56 L511.2,49.54 L511.6,49.52 L512,49.5 L512.4,49.47 L512.8,49.44 L513.2,49.42 L513.6,49.39 L514,49.36 L514.4,49.32 L514.8,49.29 L515.2,49.25 L515.6,49.21 L516,49.17 L516.4,49.12 L516.8,49.07 L517.2,49.02 L517.6,48.97 L518,48.92 L518.4,48.9 L518.8,48.88 L519.2,48.85 L519.6,48.82 L520,48.78 L520.4,48.74 L520.8,48.69 L521.2,48.64 L521.6,48.58 L522,48.52 L522.4,48.45 L522.8,48.37 L523.2,48.29 L523.6,48.2 L524,48.1 L524.4,47.99 L524.8,47.87 L525.2,47.75 L525.6,47.61 L526,47.47 L526.4,47.31 L526.8,47.14 L527.2,46.96 L527.6,46.76 L528,46.55 L528.4,46.33 L528.8,46.09 L529.2,45.83 L529.6,45.56 L530,45.27 L530.4,44.96 L530.8,44.62 L531.2,44.27 L531.6,44.1 L532,44.56 L532.4,44.99 L532.8,45.4 L533.2,45.79 L533.6,46.16 L534,46.51 L534.4,46.85 L534.8,47.16 L535.2,47.47 L535.6,47.76 L536,48.03 L536.4,48.3 L536.8,48.55 L537.2,48.79 L537.6,49.01 L538,49.23 L538.4,49.44 L538.8,49.64 L539.2,49.83 L539.6,50.01 L540,50.19 L540.4,50.35 L540.8,50.51 L541.2,50.67 L541.6,50.82 L542,50.96 L542.4,51.09 L542.8,51.23 L543.2,51.35 L543.6,51.47 L544,51.59 L544.4,51.71 L544.8,51.82 L545.2,51.92 L545.6,52.02 L546,52.12 L546.4,52.22 L546.8,52.31 L547.2,52.4 L547.6,52.49 L548,52.58 L548.4,52.66 L548.8,52.74 L549.2,52.82 L549.6,52.9 L550,52.97 L550.4,53.04 L550.8,53.12 L551.2,53.19 L551.6,53.25 L552,53.32 L552.4,53.39 L552.8,53.45 L553.2,53.52 L553.6,53.58 L554,53.64 L554.4,53.7 L554.8,53.76 L555.2,53.82 L555.6,53.88 L556,53.93 L556.4,53.99 L556.8,54.05 L556.8,54.25 L556.4,54.2 L556,54.16 L555.6,54.12 L555.2,54.07 L554.8,54.03 L554.4,53.99 L554,53.94 L553.6,53.9 L553.2,53.85 L552.8,53.81 L552.4,53.77 L552,53.72 L551.6,53.68 L551.2,53.64 L550.8,53.59 L550.4,53.55 L550,53.5 L549.6,53.46 L549.2,53.42 L548.8,53.37 L548.4,53.33 L548,53.29 L547.6,53.24 L547.2,53.2 L546.8,53.16 L546.4,53.11 L546,53.07 L545.6,53.02 L545.2,52.98 L544.8,52.94 L544.4,52.89 L544,52.85 L543.6,52.81 L543.2,52.76 L542.8,52.72 L542.4,52.67 L542,52.63 L541.6,52.59 L541.2,52.54 L540.8,52.5 L540.4,52.46 L540,52.41 L539.6,52.37 L539.2,52.33 L538.8,52.28 L538.4,52.24 L538,52.19 L537.6,52.15 L537.2,52.11 L536.8,52.06 L536.4,52.02 L536,51.98 L535.6,51.93 L535.2,51.89 L534.8,51.85 L534.4,51.8 L534,51.76 L533.6,51.71 L533.2,51.67 L532.8,51.63 L532.4,51.58 L532,51.54 L531.6,51.5 L531.2,51.45 L530.8,51.41 L530.4,51.36 L530,51.32 L529.6,51.28 L529.2,51.23 L528.8,51.19 L528.4,51.15 L528,51.1 L527.6,51.06 L527.2,51.02 L526.8,50.97 L526.4,50.93 L526,50.88 L525.6,50.84 L525.2,50.8 L524.8,50.75 L524.4,50.71 L524,50.67 L523.6,50.62 L523.2,50.58 L522.8,50.53 L522.4,50.49 L522,50.45 L521.6,50.4 L521.2,50.36 L520.8,50.32 L520.4,50.27 L520,50.23 L519.6,50.19 L519.2,50.14 L518.8,50.1 L518.4,50.05 L518,50.01 L517.6,50 L517.2,49.99 L516.8,49.99 L516.4,49.99 L516,49.99 L515.6,49.98 L515.2,49.98 L514.8,49.98 L514.4,49.97 L514,49.97 L513.6,49.97 L513.2,49.97 L512.8,49.96 L512.4,49.96 L512,49.96 L511.6,49.95 L511.2,49.95 L510.8,49.95 L510.4,49.95 L510,49.94 L509.6,49.94 L509.2,49.94 L508.8,49.93 L508.4,49.93 L508,49.93 L507.6,49.93 L507.2,49.92 L506.8,49.92 L506.4,49.92 Z" fill="#2262a3" stroke="none"/><path d="M506.4,49.71 L506.8,49.7 L507.2,49.69 L507.6,49.68 L508,49.67 L508.4,49.66 L508.8,49.64 L509.2,49.63 L509.6,49.61 L510,49.6 L510.4,49.58 L510.8,49.56 L511.2,49.54 L511.6,49.52 L512,49.5 L512.4,49.47 L512.8,49.44 L513.2,49.42 L513.6,49.39 L514,49.36 L514.4,49.32 L514.8,49.29 L515.2,49.25 L515.6,49.21 L516,49.17 L516.4,49.12 L516.8,49.07 L517.2,49.02 L517.6,48.97 L518,48.92 L518.4,48.9 L518.8,48.88 L519.2,48.85 L519.6,48.82 L520,48.78 L520.4,48.74 L520.8,48.69 L521.2,48.64 L521.6,48.58 L522,48.52 L522.4,48.45 L522.8,48.37 L523.2,48.29 L523.6,48.2 L524,48.1 L524.4,47.99 L524.8,47.87 L525.2,47.75 L525.6,47.61 L526,47.47 L526.4,47.31 L526.8,47.14 L527.2,46.96 L527.6,46.76 L528,46.55 L528.4,46.33 L528.8,46.09 L529.2,45.83 L529.6,45.56 L530,45.27 L530.4,44.96 L530.8,44.62 L531.2,44.27 L531.6,44.1 L532,44.56 L532.4,44.99 L532.8,45.4 L533.2,45.79 L533.6,46.16 L534,46.51 L534.4,46.85 L534.8,47.16 L535.2,47.47 L535.6,47.76 L536,48.03 L536.4,48.3 L536.8,48.55 L537.2,48.79 L537.6,49.01 L538,49.23 L538.4,49.44 L538.8,49.64 L539.2,49.83 L539.6,50.01 L540,50.19 L540.4,50.35 L540.8,50.51 L541.2,50.67 L541.6,50.82 L542,50.96 L542.4,51.09 L542.8,51.23 L543.2,51.35 L543.6,51.47 L544,51.59 L544.4,51.71 L544.8,51.82 L545.2,51.92 L545.6,52.02 L546,52.12 L546.4,52.22 L546.8,52.31 L547.2,52.4 L547.6,52.49 L548,52.58 L548.4,52.66 L548.8,52.74 L549.2,52.82 L549.6,52.9 L550,52.97 L550.4,53.04 L550.8,53.12 L551.2,53.19 L551.6,53.25 L552,53.32 L552.4,53.39 L552.8,53.45 L553.2,53.52 L553.6,53.58 L554,53.64 L554.4,53.7 L554.8,53.76 L555.2,53.82 L555.6,53.88 L556,53.93 L556.4,53.99 L556.8,54.05" fill="none" stroke="#1a4f8c" stroke-width="0.6"/><path d="M596.8,54.52 L597.2,54.51 L597.6,54.5 L598,54.49 L598.4,54.48 L598.8,54.47 L599.2,54.46 L599.6,54.45 L600,54.43 L600.4,54.42 L600.8,54.41 L601.2,54.39 L601.6,54.37 L602,54.35 L602.4,54.33 L602.8,54.31 L603.2,54.29 L603.6,54.27 L604,54.24 L604.4,54.21 L604.8,54.19 L605.2,54.18 L605.6,54.2 L606,54.21 L606.4,54.22 L606.8,54.23 L607.2,54.24 L607.6,54.25 L608,54.25 L608.4,54.25 L608.8,54.25 L609.2,54.24 L609.6,54.24 L610,54.22 L610.4,54.21 L610.8,54.19 L611.2,54.17 L611.6,54.14 L612,54.11 L612.4,54.07 L612.8,54.03 L613.2,53.99 L613.6,53.94 L614,53.88 L614.4,53.82 L614.8,53.75 L615.2,53.67 L615.6,53.59 L616,53.5 L616.4,53.4 L616.8,53.3 L617.2,53.18 L617.6,53.06 L618,52.93 L618.4,52.78 L618.8,52.63 L619.2,52.46 L619.6,52.29 L620,52.1 L620.4,51.9 L620.8,51.68 L621.2,51.45 L621.6,51.2 L622,50.94 L622.4,50.66 L622.8,50.36 L623.2,50.04 L623.6,49.7 L624,49.34 L624.4,48.96 L624.8,48.56 L625.2,48.13 L625.6,47.67 L626,47.18 L626.4,46.67 L626.8,46.12 L627.2,46.77 L627.6,47.39 L628,47.98 L628.4,48.54 L628.8,49.07 L629.2,49.58 L629.6,50.07 L630,50.53 L630.4,50.97 L630.8,51.4 L631.2,51.8 L631.6,52.18 L632,52.55 L632.4,52.9 L632.8,53.23 L633.2,53.55 L633.6,53.86 L634,54.15 L634.4,54.43 L634.8,54.7 L635.2,54.96 L635.6,55.21 L636,55.44 L636.4,55.67 L636.8,55.89 L637.2,56.1 L637.6,56.3 L638,56.49 L638.4,56.68 L638.8,56.86 L639.2,57.04 L639.6,57.21 L640,57.37 L640.4,57.53 L640.8,57.69 L641.2,57.84 L641.6,57.98 L642,58.12 L642.4,58.25 L642.8,58.39 L643.2,58.51 L643.6,58.64 L644,58.76 L644.4,58.87 L644.8,58.99 L645.2,59.1 L645.6,59.2 L646,59.31 L646.4,59.41 L646.8,59.51 L647.2,59.61 L647.6,59.7 L648,59.8 L648.4,59.89 L648.8,59.98 L649.2,60.07 L649.6,60.15 L650,60.24 L650.4,60.32 L650.8,60.4 L651.2,60.48 L651.6,60.56 L652,60.64 L652.4,60.72 L652.8,60.8 L653.2,60.87 L653.6,60.94 L654,61.02 L654.4,61.09 L654.8,61.16 L655.2,61.23 L655.6,61.3 L656,61.37 L656.4,61.44 L656.8,61.51 L656.8,61.72 L656.4,61.66 L656,61.6 L655.6,61.55 L655.2,61.49 L654.8,61.44 L654.4,61.38 L654,61.32 L653.6,61.27 L653.2,61.21 L652.8,61.15 L652.4,61.1 L652,61.04 L651.6,60.99 L651.2,60.93 L650.8,60.87 L650.4,60.82 L650,60.76 L649.6,60.7 L649.2,60.65 L648.8,60.59 L648.4,60.54 L648,60.48 L647.6,60.42 L647.2,60.37 L646.8,60.31 L646.4,60.25 L646,60.2 L645.6,60.14 L645.2,60.08 L644.8,60.03 L644.4,59.97 L644,59.92 L643.6,59.86 L643.2,59.8 L642.8,59.75 L642.4,59.69 L642,59.63 L641.6,59.58 L641.2,59.52 L640.8,59.47 L640.4,59.41 L640,59.35 L639.6,59.3 L639.2,59.24 L638.8,59.18 L638.4,59.13 L638,59.07 L637.6,59.02 L637.2,58.97 L636.8,58.92 L636.4,58.87 L636,58.82 L635.6,58.76 L635.2,58.71 L634.8,58.66 L634.4,58.61 L634,58.56 L633.6,58.5 L633.2,58.45 L632.8,58.4 L632.4,58.35 L632,58.3 L631.6,58.25 L631.2,58.19 L630.8,58.14 L630.4,58.09 L630,58.04 L629.6,57.99 L629.2,57.93 L628.8,57.88 L628.4,57.83 L628,57.78 L627.6,57.73 L627.2,57.68 L626.8,57.62 L626.4,57.57 L626,57.52 L625.6,57.47 L625.2,57.42 L624.8,57.36 L624.4,57.31 L624,57.26 L623.6,57.21 L623.2,57.16 L622.8,57.11 L622.4,57.05 L622,57 L621.6,56.95 L621.2,56.9 L620.8,56.85 L620.4,56.79 L620,56.74 L619.6,56.69 L619.2,56.64 L618.8,56.59 L618.4,56.54 L618,56.48 L617.6,56.43 L617.2,56.38 L616.8,56.33 L616.4,56.28 L616,56.22 L615.6,56.17 L615.2,56.12 L614.8,56.07 L614.4,56.02 L614,55.97 L613.6,55.91 L613.2,55.86 L612.8,55.81 L612.4,55.76 L612,55.71 L611.6,55.65 L611.2,55.6 L610.8,55.55 L610.4,55.5 L610,55.45 L609.6,55.4 L609.2,55.34 L608.8,55.29 L608.4,55.24 L608,55.19 L607.6,55.14 L607.2,55.08 L606.8,55.03 L606.4,54.98 L606,54.93 L605.6,54.88 L605.2,54.83 L604.8,54.8 L604.4,54.79 L604,54.79 L603.6,54.79 L603.2,54.78 L602.8,54.78 L602.4,54.78 L602,54.77 L601.6,54.77 L601.2,54.77 L600.8,54.76 L600.4,54.76 L600,54.76 L599.6,54.75 L599.2,54.75 L598.8,54.75 L598.4,54.74 L598,54.74 L597.6,54.74 L597.2,54.73 L596.8,54.73 Z" fill="#2262a3" stroke="none"/><path d="M596.8,54.52 L597.2,54.51 L597.6,54.5 L598,54.49 L598.4,54.48 L598.8,54.47 L599.2,54.46 L599.6,54.45 L600,54.43 L600.4,54.42 L600.8,54.41 L601.2,54.39 L601.6,54.37 L602,54.35 L602.4,54.33 L602.8,54.31 L603.2,54.29 L603.6,54.27 L604,54.24 L604.4,54.21 L604.8,54.19 L605.2,54.18 L605.6,54.2 L606,54.21 L606.4,54.22 L606.8,54.23 L607.2,54.24 L607.6,54.25 L608,54.25 L608.4,54.25 L608.8,54.25 L609.2,54.24 L609.6,54.24 L610,54.22 L610.4,54.21 L610.8,54.19 L611.2,54.17 L611.6,54.14 L612,54.11 L612.4,54.07 L612.8,54.03 L613.2,53.99 L613.6,53.94 L614,53.88 L614.4,53.82 L614.8,53.75 L615.2,53.67 L615.6,53.59 L616,53.5 L616.4,53.4 L616.8,53.3 L617.2,53.18 L617.6,53.06 L618,52.93 L618.4,52.78 L618.8,52.63 L619.2,52.46 L619.6,52.29 L620,52.1 L620.4,51.9 L620.8,51.68 L621.2,51.45 L621.6,51.2 L622,50.94 L622.4,50.66 L622.8,50.36 L623.2,50.04 L623.6,49.7 L624,49.34 L624.4,48.96 L624.8,48.56 L625.2,48.13 L625.6,47.67 L626,47.18 L626.4,46.67 L626.8,46.12 L627.2,46.77 L627.6,47.39 L628,47.98 L628.4,48.54 L628.8,49.07 L629.2,49.58 L629.6,50.07 L630,50.53 L630.4,50.97 L630.8,51.4 L631.2,51.8 L631.6,52.18 L632,52.55 L632.4,52.9 L632.8,53.23 L633.2,53.55 L633.6,53.86 L634,54.15 L634.4,54.43 L634.8,54.7 L635.2,54.96 L635.6,55.21 L636,55.44 L636.4,55.67 L636.8,55.89 L637.2,56.1 L637.6,56.3 L638,56.49 L638.4,56.68 L638.8,56.86 L639.2,57.04 L639.6,57.21 L640,57.37 L640.4,57.53 L640.8,57.69 L641.2,57.84 L641.6,57.98 L642,58.12 L642.4,58.25 L642.8,58.39 L643.2,58.51 L643.6,58.64 L644,58.76 L644.4,58.87 L644.8,58.99 L645.2,59.1 L645.6,59.2 L646,59.31 L646.4,59.41 L646.8,59.51 L647.2,59.61 L647.6,59.7 L648,59.8 L648.4,59.89 L648.8,59.98 L649.2,60.07 L649.6,60.15 L650,60.24 L650.4,60.32 L650.8,60.4 L651.2,60.48 L651.6,60.56 L652,60.64 L652.4,60.72 L652.8,60.8 L653.2,60.87 L653.6,60.94 L654,61.02 L654.4,61.09 L654.8,61.16 L655.2,61.23 L655.6,61.3 L656,61.37 L656.4,61.44 L656.8,61.51" fill="none" stroke="#1a4f8c" stroke-width="0.6"/><circle cx="493.4" cy="47.19" r="2.4" fill="#cdcdcd" stroke="#c2c2c2" stroke-width="0.4"/><circle cx="495" cy="48.34" r="2.4" fill="#cdcdcd" stroke="#c2c2c2" stroke-width="0.4"/><circle cx="496.6" cy="48.8" r="2.4" fill="#cdcdcd" stroke="#c2c2c2" stroke-width="0.4"/><circle cx="498.2" cy="47.76" r="2.4" fill="#cdcdcd" stroke="#c2c2c2" stroke-width="0.4"/><circle cx="499.8" cy="47.22" r="2.4" fill="#cdcdcd" stroke="#c2c2c2" stroke-width="0.4"/><circle cx="501.4" cy="48.13" r="2.4" fill="#cdcdcd" stroke="#c2c2c2" stroke-width="0.4"/><circle cx="503" cy="48.53" r="2.4" fill="#cdcdcd" stroke="#c2c2c2" stroke-width="0.4"/><circle cx="504.6" cy="48.99" r="2.4" fill="#cdcdcd" stroke="#c2c2c2" stroke-width="0.4"/><circle cx="506.2" cy="47.39" r="2.4" fill="#cdcdcd" stroke="#c2c2c2" stroke-width="0.4"/><circle cx="507.8" cy="47.36" r="2.4" fill="#cdcdcd" stroke="#c2c2c2" stroke-width="0.4"/><circle cx="509.4" cy="48.79" r="2.4" fill="#cdcdcd" stroke="#c2c2c2" stroke-width="0.4"/><circle cx="511" cy="48.34" r="2.4" fill="#cdcdcd" stroke="#c2c2c2" stroke-width="0.4"/><circle cx="512.6" cy="48.62" r="2.4" fill="#cdcdcd" stroke="#c2c2c2" stroke-width="0.4"/><circle cx="514.2" cy="47.77" r="2.4" fill="#cdcdcd" stroke="#c2c2c2" stroke-width="0.4"/><circle cx="515.8" cy="46.55" r="2.4" fill="#cdcdcd" stroke="#c2c2c2" stroke-width="0.4"/><circle cx="517.4" cy="45.97" r="2.4" fill="#cdcdcd" stroke="#c2c2c2" stroke-width="0.4"/><circle cx="519" cy="47.49" r="2.4" fill="#cdcdcd" stroke="#c2c2c2" stroke-width="0.4"/><circle cx="520.6" cy="45.03" r="2.4" fill="#cdcdcd" stroke="#c2c2c2" stroke-width="0.4"/><circle cx="522.2" cy="43.97" r="2.4" fill="#cdcdcd" stroke="#c2c2c2" stroke-width="0.4"/><circle cx="523.8" cy="42.75" r="2.4" fill="#cdcdcd" stroke="#c2c2c2" stroke-width="0.4"/><circle cx="525.4" cy="42.64" r="2.4" fill="#cdcdcd" stroke="#c2c2c2" stroke-width="0.4"/><circle cx="527" cy="41.71" r="2.4" fill="#cdcdcd" stroke="#c2c2c2" stroke-width="0.4"/><circle cx="528.6" cy="40.38" r="2.4" fill="#cdcdcd" stroke="#c2c2c2" stroke-width="0.4"/><circle cx="530.2" cy="39.58" r="2.4" fill="#cdcdcd" stroke="#c2c2c2" stroke-width="0.4"/><circle cx="531.8" cy="38.82" r="2.4" fill="#cdcdcd" stroke="#c2c2c2" stroke-width="0.4"/><circle cx="533.4" cy="37.41" r="2.4" fill="#cdcdcd" stroke="#c2c2c2" stroke-width="0.4"/><circle cx="535" cy="35.89" r="2.4" fill="#cdcdcd" stroke="#c2c2c2" stroke-width="0.4"/><circle cx="536.6" cy="33.48" r="2.4" fill="#cdcdcd" stroke="#c2c2c2" stroke-width="0.4"/><circle cx="538.2" cy="30.32" r="2.4" fill="#cdcdcd" stroke="#c2c2c2" stroke-width="0.4"/><circle cx="539.8" cy="30.29" r="2.4" fill="#cdcdcd" stroke="#c2c2c2" stroke-width="0.4"/><circle cx="541.4" cy="28.56" r="2.4" fill="#cdcdcd" stroke="#c2c2c2" stroke-width="0.4"/><circle cx="543" cy="29.18" r="2.4" fill="#cdcdcd" stroke="#c2c2c2" stroke-width="0.4"/><circle cx="544.6" cy="29.98" r="2.4" fill="#cdcdcd" stroke="#c2c2c2" stroke-width="0.4"/><circle cx="546.2" cy="32.97" r="2.4" fill="#cdcdcd" stroke="#c2c2c2" stroke-width="0.4"/><circle cx="547.8" cy="36.14" r="2.4" fill="#cdcdcd" stroke="#c2c2c2" stroke-width="0.4"/><circle cx="549.4" cy="40.55" r="2.4" fill="#cdcdcd" stroke="#c2c2c2" stroke-width="0.4"/><circle cx="551" cy="45.1" r="2.4" fill="#cdcdcd" stroke="#c2c2c2" stroke-width="0.4"/><circle cx="552.6" cy="45.14" r="2.4" fill="#cdcdcd" stroke="#c2c2c2" stroke-width="0.4"/><circle cx="554.2" cy="48.14" r="2.4" fill="#cdcdcd" stroke="#c2c2c2" stroke-width="0.4"/><circle cx="555.8" cy="47.68" r="2.4" fill="#cdcdcd" stroke="#c2c2c2" stroke-width="0.4"/><circle cx="557.4" cy="48.86" r="2.4" fill="#cdcdcd" stroke="#c2c2c2" stroke-width="0.4"/><circle cx="559" cy="49.97" r="2.4" fill="#cdcdcd" stroke="#c2c2c2" stroke-width="0.4"/><circle cx="560.6" cy="49.89" r="2.4" fill="#cdcdcd" stroke="#c2c2c2" stroke-width="0.4"/><circle cx="562.2" cy="50.67" r="2.4" fill="#cdcdcd" stroke="#c2c2c2" stroke-width="0.4"/><circle cx="563.8" cy="50.93" r="2.4" fill="#cdcdcd" stroke="#c2c2c2" stroke-width="0.4"/><circle cx="565.4" cy="50.6" r="2.4" fill="#cdcdcd" stroke="#c2c2c2" stroke-width="0.4"/><circle cx="567" cy="52.15" r="2.4" fill="#cdcdcd" stroke="#c2c2c2" stroke-width="0.4"/><circle cx="568.6" cy="51.64" r="2.4" fill="#cdcdcd" stroke="#c2c2c2" stroke-width="0.4"/><circle cx="570.2" cy="53.9" r="2.4" fill="#cdcdcd" stroke="#c2c2c2" stroke-width="0.4"/><circle cx="571.8" cy="52.19" r="2.4" fill="#cdcdcd" stroke="#c2c2c2" stroke-width="0.4"/><circle cx="573.4" cy="52.98" r="2.4" fill="#cdcdcd" stroke="#c2c2c2" stroke-width="0.4"/><circle cx="575" cy="52.45" r="2.4" fill="#cdcdcd" stroke="#c2c2c2" stroke-width="0.4"/><circle cx="576.6" cy="53.07" r="2.4" fill="#cdcdcd" stroke="#c2c2c2" stroke-width="0.4"/><circle cx="578.2" cy="51.93" r="2.4" fill="#cdcdcd" stroke="#c2c2c2" stroke-width="0.4"/><circle cx="579.8" cy="53.01" r="2.4" fill="#cdcdcd" stroke="#c2c2c2" stroke-width="0.4"/><circle cx="581.4" cy="52.17" r="2.4" fill="#cdcdcd" stroke="#c2c2c2" stroke-width="0.4"/><circle cx="583" cy="53.09" r="2.4" fill="#cdcdcd" stroke="#c2c2c2" stroke-width="0.4"/><circle cx="584.6" cy="52.6" r="2.4" fill="#cdcdcd" stroke="#c2c2c2" stroke-width="0.4"/><circle cx="586.2" cy="52.21" r="2.4" fill="#cdcdcd" stroke="#c2c2c2" stroke-width="0.4"/><circle cx="587.8" cy="51.52" r="2.4" fill="#cdcdcd" stroke="#c2c2c2" stroke-width="0.4"/><circle cx="589.4" cy="52.56" r="2.4" fill="#cdcdcd" stroke="#c2c2c2" stroke-width="0.4"/><circle cx="591" cy="52.29" r="2.4" fill="#cdcdcd" stroke="#c2c2c2" stroke-width="0.4"/><circle cx="592.6" cy="53.06" r="2.4" fill="#cdcdcd" stroke="#c2c2c2" stroke-width="0.4"/><circle cx="594.2" cy="51.6" r="2.4" fill="#cdcdcd" stroke="#c2c2c2" stroke-width="0.4"/><circle cx="595.8" cy="52.19" r="2.4" fill="#cdcdcd" stroke="#c2c2c2" stroke-width="0.4"/><circle cx="597.4" cy="52.11" r="2.4" fill="#cdcdcd" stroke="#c2c2c2" stroke-width="0.4"/><circle cx="599" cy="51.9" r="2.4" fill="#cdcdcd" stroke="#c2c2c2" stroke-width="0.4"/><circle cx="600.6" cy="51.79" r="2.4" fill="#cdcdcd" stroke="#c2c2c2" stroke-width="0.4"/><circle cx="602.2" cy="51.72" r="2.4" fill="#cdcdcd" stroke="#c2c2c2" stroke-width="0.4"/><circle cx="603.8" cy="51.12" r="2.4" fill="#cdcdcd" stroke="#c2c2c2" stroke-width="0.4"/><circle cx="605.4" cy="50.6" r="2.4" fill="#cdcdcd" stroke="#c2c2c2" stroke-width="0.4"/><circle cx="607" cy="50.28" r="2.4" fill="#cdcdcd" stroke="#c2c2c2" stroke-width="0.4"/><circle cx="608.6" cy="50.21" r="2.4" fill="#cdcdcd" stroke="#c2c2c2" stroke-width="0.4"/><circle cx="610.2" cy="50.1" r="2.4" fill="#cdcdcd" stroke="#c2c2c2" stroke-width="0.4"/><circle cx="611.8" cy="48.98" r="2.4" fill="#cdcdcd" stroke="#c2c2c2" stroke-width="0.4"/><circle cx="613.4" cy="48.27" r="2.4" fill="#cdcdcd" stroke="#c2c2c2" stroke-width="0.4"/><circle cx="615" cy="47.33" r="2.4" fill="#cdcdcd" stroke="#c2c2c2" stroke-width="0.4"/><circle cx="616.6" cy="46.52" r="2.4" fill="#cdcdcd" stroke="#c2c2c2" stroke-width="0.4"/><circle cx="618.2" cy="45.4" r="2.4" fill="#cdcdcd" stroke="#c2c2c2" stroke-width="0.4"/><circle cx="619.8" cy="44.51" r="2.4" fill="#cdcdcd" stroke="#c2c2c2" stroke-width="0.4"/><circle cx="621.4" cy="42.98" r="2.4" fill="#cdcdcd" stroke="#c2c2c2" stroke-width="0.4"/><circle cx="623" cy="39.29" r="2.4" fill="#cdcdcd" stroke="#c2c2c2" stroke-width="0.4"/><circle cx="624.6" cy="36.81" r="2.4" fill="#cdcdcd" stroke="#c2c2c2" stroke-width="0.4"/><circle cx="626.2" cy="36.45" r="2.4" fill="#cdcdcd" stroke="#c2c2c2" stroke-width="0.4"/><circle cx="627.8" cy="33.02" r="2.4" fill="#cdcdcd" stroke="#c2c2c2" stroke-width="0.4"/><circle cx="629.4" cy="30.75" r="2.4" fill="#cdcdcd" stroke="#c2c2c2" stroke-width="0.4"/><circle cx="631" cy="27.18" r="2.4" fill="#cdcdcd" stroke="#c2c2c2" stroke-width="0.4"/><circle cx="632.6" cy="22.27" r="2.4" fill="#cdcdcd" stroke="#c2c2c2" stroke-width="0.4"/><circle cx="634.2" cy="21.79" r="2.4" fill="#cdcdcd" stroke="#c2c2c2" stroke-width="0.4"/><circle cx="635.8" cy="19" r="2.4" fill="#cdcdcd" stroke="#c2c2c2" stroke-width="0.4"/><circle cx="637.4" cy="15.56" r="2.4" fill="#cdcdcd" stroke="#c2c2c2" stroke-width="0.4"/><circle cx="639" cy="17.27" r="2.4" fill="#cdcdcd" stroke="#c2c2c2" stroke-width="0.4"/><circle cx="640.6" cy="18.97" r="2.4" fill="#cdcdcd" stroke="#c2c2c2" stroke-width="0.4"/><circle cx="642.2" cy="20.41" r="2.4" fill="#cdcdcd" stroke="#c2c2c2" stroke-width="0.4"/><circle cx="643.8" cy="25.09" r="2.4" fill="#cdcdcd" stroke="#c2c2c2" stroke-width="0.4"/><circle cx="645.4" cy="31.57" r="2.4" fill="#cdcdcd" stroke="#c2c2c2" stroke-width="0.4"/><circle cx="647" cy="37.9" r="2.4" fill="#cdcdcd" stroke="#c2c2c2" stroke-width="0.4"/><circle cx="648.6" cy="42" r="2.4" fill="#cdcdcd" stroke="#c2c2c2" stroke-width="0.4"/><circle cx="650.2" cy="45.92" r="2.4" fill="#cdcdcd" stroke="#c2c2c2" stroke-width="0.4"/><circle cx="651.8" cy="49.82" r="2.4" fill="#cdcdcd" stroke="#c2c2c2" stroke-width="0.4"/><circle cx="653.4" cy="51" r="2.4" fill="#cdcdcd" stroke="#c2c2c2" stroke-width="0.4"/><circle cx="655" cy="54.76" r="2.4" fill="#cdcdcd" stroke="#c2c2c2" stroke-width="0.4"/><circle cx="656.6" cy="57.09" r="2.4" fill="#cdcdcd" stroke="#c2c2c2" stroke-width="0.4"/><circle cx="658.2" cy="56.55" r="2.4" fill="#cdcdcd" stroke="#c2c2c2" stroke-width="0.4"/><circle cx="659.8" cy="55.94" r="2.4" fill="#cdcdcd" stroke="#c2c2c2" stroke-width="0.4"/><circle cx="661.4" cy="57" r="2.4" fill="#cdcdcd" stroke="#c2c2c2" stroke-width="0.4"/><circle cx="663" cy="58.24" r="2.4" fill="#cdcdcd" stroke="#c2c2c2" stroke-width="0.4"/><circle cx="664.6" cy="58.88" r="2.4" fill="#cdcdcd" stroke="#c2c2c2" stroke-width="0.4"/><circle cx="666.2" cy="60.04" r="2.4" fill="#cdcdcd" stroke="#c2c2c2" stroke-width="0.4"/><circle cx="667.8" cy="58.69" r="2.4" fill="#cdcdcd" stroke="#c2c2c2" stroke-width="0.4"/><circle cx="669.4" cy="59.84" r="2.4" fill="#cdcdcd" stroke="#c2c2c2" stroke-width="0.4"/><circle cx="671" cy="60.55" r="2.4" fill="#cdcdcd" stroke="#c2c2c2" stroke-width="0.4"/><circle cx="672.6" cy="60.15" r="2.4" fill="#cdcdcd" stroke="#c2c2c2" stroke-width="0.4"/><path d="M490,48 C493.33,48.05 504.77,48.8 510,48.3 C515.23,47.8 518.4,46.22 521.4,45 C524.4,43.78 526.23,42.08 528,41 C529.77,39.92 530.67,39.67 532,38.5 C533.33,37.33 534.7,35.45 536,34 C537.3,32.55 538.63,30.58 539.8,29.8 C540.97,29.02 541.97,28.85 543,29.3 C544.03,29.75 544.93,30.65 546,32.5 C547.07,34.35 547.95,37.77 549.4,40.4 C550.85,43.03 551.27,46.27 554.7,48.3 C558.13,50.33 564.12,51.98 570,52.6 C575.88,53.22 584.17,52.18 590,52 C595.83,51.82 600.13,52.7 605,51.5 C609.87,50.3 615.25,48.12 619.2,44.8 C623.15,41.48 626.32,35.55 628.7,31.6 C631.08,27.65 632,23.87 633.5,21.1 C635,18.33 636.12,14.83 637.7,15 C639.28,15.17 641.5,18.55 643,22.1 C644.5,25.65 645.45,32.2 646.7,36.3 C647.95,40.4 648.92,43.38 650.5,46.7 C652.08,50.02 652.95,53.98 656.2,56.2 C659.45,58.42 666.87,59.28 670,60 C673.13,60.72 674.17,60.42 675,60.5" fill="none" stroke="#9dbcd9" stroke-width="0.45"/><path d="M494.4,49.83 L495.4,49.84 L496.4,49.85 L497.4,49.85 L498.4,49.86 L499.4,49.87 L500.4,49.87 L501.4,49.88 L502.4,49.89 L503.4,49.9 L504.4,49.9 L505.4,49.91 L506.4,49.92 L507.4,49.92 L508.4,49.93 L509.4,49.94 L510.4,49.95 L511.4,49.95 L512.4,49.96 L513.4,49.97 L514.4,49.97 L515.4,49.98 L516.4,49.99 L517.4,50 L518.4,50.05 L519.4,50.16 L520.4,50.27 L521.4,50.38 L522.4,50.49 L523.4,50.6 L524.4,50.71 L525.4,50.82 L526.4,50.93 L527.4,51.04 L528.4,51.15 L529.4,51.26 L530.4,51.36 L531.4,51.47 L532.4,51.58 L533.4,51.69 L534.4,51.8 L535.4,51.91 L536.4,52.02 L537.4,52.13 L538.4,52.24 L539.4,52.35 L540.4,52.46 L541.4,52.57 L542.4,52.67 L543.4,52.78 L544.4,52.89 L545.4,53 L546.4,53.11 L547.4,53.22 L548.4,53.33 L549.4,53.44 L550.4,53.55 L551.4,53.66 L552.4,53.77 L553.4,53.88 L554.4,53.99 L555.4,54.09 L556.4,54.2 L557.4,54.31 L558.4,54.4 L559.4,54.41 L560.4,54.42 L561.4,54.43 L562.4,54.44 L563.4,54.44 L564.4,54.45 L565.4,54.46 L566.4,54.47 L567.4,54.48 L568.4,54.49 L569.4,54.5 L570.4,54.5 L571.4,54.51 L572.4,54.52 L573.4,54.53 L574.4,54.54 L575.4,54.55 L576.4,54.56 L577.4,54.56 L578.4,54.57 L579.4,54.58 L580.4,54.59 L581.4,54.6 L582.4,54.61 L583.4,54.62 L584.4,54.62 L585.4,54.63 L586.4,54.64 L587.4,54.65 L588.4,54.66 L589.4,54.67 L590.4,54.68 L591.4,54.68 L592.4,54.69 L593.4,54.7 L594.4,54.71 L595.4,54.72 L596.4,54.73 L597.4,54.74 L598.4,54.74 L599.4,54.75 L600.4,54.76 L601.4,54.77 L602.4,54.78 L603.4,54.79 L604.4,54.79 L605.4,54.85 L606.4,54.98 L607.4,55.11 L608.4,55.24 L609.4,55.37 L610.4,55.5 L611.4,55.63 L612.4,55.76 L613.4,55.89 L614.4,56.02 L615.4,56.15 L616.4,56.28 L617.4,56.41 L618.4,56.54 L619.4,56.67 L620.4,56.79 L621.4,56.92 L622.4,57.05 L623.4,57.18 L624.4,57.31 L625.4,57.44 L626.4,57.57 L627.4,57.7 L628.4,57.83 L629.4,57.96 L630.4,58.09 L631.4,58.22 L632.4,58.35 L633.4,58.48 L634.4,58.61 L635.4,58.74 L636.4,58.87 L637.4,59 L638.4,59.13 L639.4,59.27 L640.4,59.41 L641.4,59.55 L642.4,59.69 L643.4,59.83 L644.4,59.97 L645.4,60.11 L646.4,60.25 L647.4,60.39 L648.4,60.54 L649.4,60.68 L650.4,60.82 L651.4,60.96 L652.4,61.1 L653.4,61.24 L654.4,61.38 L655.4,61.52 L656.4,61.66 L657.4,61.8 L658.4,61.91 L659.4,61.92 L660.4,61.94 L661.4,61.96 L662.4,61.98 L663.4,61.99 L664.4,62.01 L665.4,62.03 L666.4,62.05 L667.4,62.07 L668.4,62.08 L669.4,62.1 L670.4,62.12" fill="none" stroke="#3cb54a" stroke-width="1" stroke-linejoin="round"/><path d="M515.8,122.57 L516.2,122.51 L516.6,122.45 L517,122.38 L517.4,122.32 L517.8,122.25 L518.2,122.18 L518.6,122.1 L519,122.02 L519.4,121.94 L519.8,121.85 L520.2,121.76 L520.6,121.67 L521,121.57 L521.4,121.46 L521.8,121.35 L522.2,121.23 L522.6,121.11 L523,120.98 L523.4,120.84 L523.8,120.69 L524.2,120.53 L524.6,120.36 L525,120.19 L525.4,120 L525.8,119.8 L526.2,119.59 L526.6,119.36 L527,119.12 L527.4,118.87 L527.8,118.6 L528.2,118.31 L528.6,118.01 L529,117.69 L529.4,117.34 L529.8,116.98 L530.2,116.6 L530.6,116.2 L531,115.77 L531.4,115.32 L531.8,114.85 L532.2,114.35 L532.6,113.83 L533,113.28 L533.4,112.71 L533.8,112.11 L534.2,111.49 L534.6,110.85 L535,110.18 L535.4,109.49 L535.8,108.78 L536.2,108.06 L536.6,107.32 L537,106.58 L537.4,105.84 L537.8,105.1 L538.2,104.38 L538.6,103.7 L539,103.08 L539.4,102.58 L539.8,102.75 L540.2,103.24 L540.6,103.82 L541,104.45 L541.4,105.1 L541.8,105.77 L542.2,106.44 L542.6,107.1 L543,107.75 L543.4,108.39 L543.8,109.01 L544.2,109.61 L544.6,110.19 L545,110.75 L545.4,111.28 L545.8,111.79 L546.2,112.27 L546.6,112.73 L547,113.16 L547.4,113.57 L547.8,113.96 L548.2,114.32 L548.6,114.66 L549,114.97 L549.4,115.27 L549.8,115.54 L550.2,115.8 L550.6,116.04 L551,116.25 L551.4,116.46 L551.8,116.64 L552.2,116.81 L552.6,116.97 L553,117.11 L553.4,117.24 L553.8,117.36 L554.2,117.46 L554.6,117.56 L555,117.64 L555.4,117.72 L555.8,117.79 L556.2,117.84 L556.6,117.9 L557,117.94 L557.4,117.98 L557.8,118.03 L558.2,118.07 L558.6,118.1 L559,118.13 L559.4,118.16 L559.8,118.18 L560.2,118.2 L560.6,118.21 L561,118.22 L561.4,118.23 L561.8,118.23 L562.2,118.24 L562.6,118.24 L563,118.23 L563,118.45 L562.6,118.48 L562.2,118.5 L561.8,118.53 L561.4,118.55 L561,118.57 L560.6,118.6 L560.2,118.62 L559.8,118.65 L559.4,118.67 L559,118.7 L558.6,118.72 L558.2,118.75 L557.8,118.77 L557.4,118.79 L557,118.83 L556.6,118.87 L556.2,118.91 L555.8,118.94 L555.4,118.98 L555,119.02 L554.6,119.06 L554.2,119.1 L553.8,119.14 L553.4,119.17 L553,119.21 L552.6,119.25 L552.2,119.29 L551.8,119.33 L551.4,119.37 L551,119.4 L550.6,119.44 L550.2,119.48 L549.8,119.52 L549.4,119.56 L549,119.6 L548.6,119.63 L548.2,119.67 L547.8,119.71 L547.4,119.75 L547,119.79 L546.6,119.82 L546.2,119.86 L545.8,119.9 L545.4,119.94 L545,119.98 L544.6,120.02 L544.2,120.05 L543.8,120.09 L543.4,120.13 L543,120.17 L542.6,120.21 L542.2,120.25 L541.8,120.28 L541.4,120.32 L541,120.36 L540.6,120.4 L540.2,120.44 L539.8,120.48 L539.4,120.51 L539,120.55 L538.6,120.59 L538.2,120.63 L537.8,120.67 L537.4,120.71 L537,120.74 L536.6,120.78 L536.2,120.82 L535.8,120.86 L535.4,120.9 L535,120.94 L534.6,120.97 L534.2,121.01 L533.8,121.05 L533.4,121.09 L533,121.13 L532.6,121.17 L532.2,121.2 L531.8,121.24 L531.4,121.28 L531,121.32 L530.6,121.36 L530.2,121.4 L529.8,121.43 L529.4,121.47 L529,121.51 L528.6,121.55 L528.2,121.59 L527.8,121.63 L527.4,121.66 L527,121.7 L526.6,121.74 L526.2,121.78 L525.8,121.82 L525.4,121.86 L525,121.89 L524.6,121.93 L524.2,121.97 L523.8,122.01 L523.4,122.05 L523,122.09 L522.6,122.12 L522.2,122.16 L521.8,122.2 L521.4,122.24 L521,122.28 L520.6,122.32 L520.2,122.35 L519.8,122.39 L519.4,122.43 L519,122.47 L518.6,122.51 L518.2,122.55 L517.8,122.58 L517.4,122.62 L517,122.66 L516.6,122.7 L516.2,122.74 L515.8,122.78 Z" fill="#94bddd" stroke="none"/><path d="M515.8,122.57 L516.2,122.51 L516.6,122.45 L517,122.38 L517.4,122.32 L517.8,122.25 L518.2,122.18 L518.6,122.1 L519,122.02 L519.4,121.94 L519.8,121.85 L520.2,121.76 L520.6,121.67 L521,121.57 L521.4,121.46 L521.8,121.35 L522.2,121.23 L522.6,121.11 L523,120.98 L523.4,120.84 L523.8,120.69 L524.2,120.53 L524.6,120.36 L525,120.19 L525.4,120 L525.8,119.8 L526.2,119.59 L526.6,119.36 L527,119.12 L527.4,118.87 L527.8,118.6 L528.2,118.31 L528.6,118.01 L529,117.69 L529.4,117.34 L529.8,116.98 L530.2,116.6 L530.6,116.2 L531,115.77 L531.4,115.32 L531.8,114.85 L532.2,114.35 L532.6,113.83 L533,113.28 L533.4,112.71 L533.8,112.11 L534.2,111.49 L534.6,110.85 L535,110.18 L535.4,109.49 L535.8,108.78 L536.2,108.06 L536.6,107.32 L537,106.58 L537.4,105.84 L537.8,105.1 L538.2,104.38 L538.6,103.7 L539,103.08 L539.4,102.58 L539.8,102.75 L540.2,103.24 L540.6,103.82 L541,104.45 L541.4,105.1 L541.8,105.77 L542.2,106.44 L542.6,107.1 L543,107.75 L543.4,108.39 L543.8,109.01 L544.2,109.61 L544.6,110.19 L545,110.75 L545.4,111.28 L545.8,111.79 L546.2,112.27 L546.6,112.73 L547,113.16 L547.4,113.57 L547.8,113.96 L548.2,114.32 L548.6,114.66 L549,114.97 L549.4,115.27 L549.8,115.54 L550.2,115.8 L550.6,116.04 L551,116.25 L551.4,116.46 L551.8,116.64 L552.2,116.81 L552.6,116.97 L553,117.11 L553.4,117.24 L553.8,117.36 L554.2,117.46 L554.6,117.56 L555,117.64 L555.4,117.72 L555.8,117.79 L556.2,117.84 L556.6,117.9 L557,117.94 L557.4,117.98 L557.8,118.03 L558.2,118.07 L558.6,118.1 L559,118.13 L559.4,118.16 L559.8,118.18 L560.2,118.2 L560.6,118.21 L561,118.22 L561.4,118.23 L561.8,118.23 L562.2,118.24 L562.6,118.24 L563,118.23" fill="none" stroke="#5f98cc" stroke-width="0.6"/><path d="M609.8,115.02 L610.2,114.96 L610.6,114.9 L611,114.84 L611.4,114.78 L611.8,114.71 L612.2,114.63 L612.6,114.56 L613,114.48 L613.4,114.39 L613.8,114.3 L614.2,114.2 L614.6,114.1 L615,113.99 L615.4,113.88 L615.8,113.75 L616.2,113.62 L616.6,113.48 L617,113.33 L617.4,113.17 L617.8,113 L618.2,112.82 L618.6,112.62 L619,112.41 L619.4,112.19 L619.8,111.95 L620.2,111.69 L620.6,111.41 L621,111.12 L621.4,110.8 L621.8,110.47 L622.2,110.11 L622.6,109.73 L623,109.32 L623.4,108.89 L623.8,108.43 L624.2,107.94 L624.6,107.42 L625,106.87 L625.4,106.28 L625.8,105.67 L626.2,105.02 L626.6,104.34 L627,103.62 L627.4,102.86 L627.8,102.07 L628.2,101.25 L628.6,100.39 L629,99.49 L629.4,98.57 L629.8,97.61 L630.2,96.62 L630.6,95.61 L631,94.57 L631.4,93.52 L631.8,92.45 L632.2,91.38 L632.6,90.3 L633,89.24 L633.4,88.2 L633.8,87.2 L634.2,86.25 L634.6,85.38 L635,84.63 L635.4,84.09 L635.8,84.27 L636.2,84.87 L636.6,85.61 L637,86.46 L637.4,87.37 L637.8,88.32 L638.2,89.31 L638.6,90.31 L639,91.31 L639.4,92.31 L639.8,93.31 L640.2,94.28 L640.6,95.24 L641,96.17 L641.4,97.08 L641.8,97.95 L642.2,98.79 L642.6,99.6 L643,100.38 L643.4,101.11 L643.8,101.82 L644.2,102.49 L644.6,103.12 L645,103.71 L645.4,104.28 L645.8,104.81 L646.2,105.31 L646.6,105.77 L647,106.21 L647.4,106.61 L647.8,106.99 L648.2,107.34 L648.6,107.67 L649,107.97 L649.4,108.25 L649.8,108.51 L650.2,108.74 L650.6,108.96 L651,109.15 L651.4,109.33 L651.8,109.5 L652.2,109.65 L652.6,109.79 L653,109.91 L653.4,110.02 L653.8,110.12 L654.2,110.21 L654.6,110.29 L655,110.36 L655.4,110.42 L655.8,110.48 L656.2,110.52 L656.6,110.56 L657,110.59 L657.4,110.62 L657.8,110.64 L658.2,110.66 L658.6,110.68 L659,110.68 L659.4,110.69 L659.8,110.69 L660.2,110.69 L660.6,110.69 L661,110.68 L661,110.9 L660.6,110.93 L660.2,110.96 L659.8,110.99 L659.4,111.02 L659,111.05 L658.6,111.08 L658.2,111.11 L657.8,111.15 L657.4,111.18 L657,111.21 L656.6,111.24 L656.2,111.27 L655.8,111.3 L655.4,111.33 L655,111.37 L654.6,111.4 L654.2,111.43 L653.8,111.46 L653.4,111.49 L653,111.52 L652.6,111.55 L652.2,111.58 L651.8,111.62 L651.4,111.65 L651,111.69 L650.6,111.72 L650.2,111.75 L649.8,111.79 L649.4,111.82 L649,111.86 L648.6,111.89 L648.2,111.93 L647.8,111.96 L647.4,112 L647,112.03 L646.6,112.06 L646.2,112.1 L645.8,112.13 L645.4,112.17 L645,112.2 L644.6,112.24 L644.2,112.27 L643.8,112.3 L643.4,112.34 L643,112.37 L642.6,112.41 L642.2,112.44 L641.8,112.48 L641.4,112.51 L641,112.55 L640.6,112.58 L640.2,112.61 L639.8,112.65 L639.4,112.68 L639,112.72 L638.6,112.75 L638.2,112.79 L637.8,112.82 L637.4,112.86 L637,112.89 L636.6,112.92 L636.2,112.96 L635.8,112.99 L635.4,113.03 L635,113.06 L634.6,113.1 L634.2,113.13 L633.8,113.16 L633.4,113.2 L633,113.23 L632.6,113.27 L632.2,113.3 L631.8,113.34 L631.4,113.37 L631,113.41 L630.6,113.44 L630.2,113.47 L629.8,113.51 L629.4,113.54 L629,113.58 L628.6,113.61 L628.2,113.65 L627.8,113.68 L627.4,113.71 L627,113.75 L626.6,113.78 L626.2,113.82 L625.8,113.85 L625.4,113.89 L625,113.92 L624.6,113.96 L624.2,113.99 L623.8,114.02 L623.4,114.06 L623,114.09 L622.6,114.13 L622.2,114.16 L621.8,114.2 L621.4,114.23 L621,114.26 L620.6,114.3 L620.2,114.33 L619.8,114.37 L619.4,114.4 L619,114.44 L618.6,114.47 L618.2,114.51 L617.8,114.54 L617.4,114.57 L617,114.61 L616.6,114.64 L616.2,114.68 L615.8,114.71 L615.4,114.75 L615,114.78 L614.6,114.82 L614.2,114.85 L613.8,114.88 L613.4,114.92 L613,114.95 L612.6,114.99 L612.2,115.02 L611.8,115.06 L611.4,115.09 L611,115.12 L610.6,115.16 L610.2,115.19 L609.8,115.23 Z" fill="#c6dcea" stroke="none"/><path d="M609.8,115.02 L610.2,114.96 L610.6,114.9 L611,114.84 L611.4,114.78 L611.8,114.71 L612.2,114.63 L612.6,114.56 L613,114.48 L613.4,114.39 L613.8,114.3 L614.2,114.2 L614.6,114.1 L615,113.99 L615.4,113.88 L615.8,113.75 L616.2,113.62 L616.6,113.48 L617,113.33 L617.4,113.17 L617.8,113 L618.2,112.82 L618.6,112.62 L619,112.41 L619.4,112.19 L619.8,111.95 L620.2,111.69 L620.6,111.41 L621,111.12 L621.4,110.8 L621.8,110.47 L622.2,110.11 L622.6,109.73 L623,109.32 L623.4,108.89 L623.8,108.43 L624.2,107.94 L624.6,107.42 L625,106.87 L625.4,106.28 L625.8,105.67 L626.2,105.02 L626.6,104.34 L627,103.62 L627.4,102.86 L627.8,102.07 L628.2,101.25 L628.6,100.39 L629,99.49 L629.4,98.57 L629.8,97.61 L630.2,96.62 L630.6,95.61 L631,94.57 L631.4,93.52 L631.8,92.45 L632.2,91.38 L632.6,90.3 L633,89.24 L633.4,88.2 L633.8,87.2 L634.2,86.25 L634.6,85.38 L635,84.63 L635.4,84.09 L635.8,84.27 L636.2,84.87 L636.6,85.61 L637,86.46 L637.4,87.37 L637.8,88.32 L638.2,89.31 L638.6,90.31 L639,91.31 L639.4,92.31 L639.8,93.31 L640.2,94.28 L640.6,95.24 L641,96.17 L641.4,97.08 L641.8,97.95 L642.2,98.79 L642.6,99.6 L643,100.38 L643.4,101.11 L643.8,101.82 L644.2,102.49 L644.6,103.12 L645,103.71 L645.4,104.28 L645.8,104.81 L646.2,105.31 L646.6,105.77 L647,106.21 L647.4,106.61 L647.8,106.99 L648.2,107.34 L648.6,107.67 L649,107.97 L649.4,108.25 L649.8,108.51 L650.2,108.74 L650.6,108.96 L651,109.15 L651.4,109.33 L651.8,109.5 L652.2,109.65 L652.6,109.79 L653,109.91 L653.4,110.02 L653.8,110.12 L654.2,110.21 L654.6,110.29 L655,110.36 L655.4,110.42 L655.8,110.48 L656.2,110.52 L656.6,110.56 L657,110.59 L657.4,110.62 L657.8,110.64 L658.2,110.66 L658.6,110.68 L659,110.68 L659.4,110.69 L659.8,110.69 L660.2,110.69 L660.6,110.69 L661,110.68" fill="none" stroke="#4f8fc7" stroke-width="0.6"/><path d="M503,122.87 L503.4,122.9 L503.8,122.92 L504.2,122.95 L504.6,122.97 L505,122.99 L505.4,122.94 L505.8,122.86 L506.2,122.78 L506.6,122.69 L507,122.6 L507.4,122.51 L507.8,122.42 L508.2,122.32 L508.6,122.22 L509,122.12 L509.4,122.02 L509.8,121.91 L510.2,121.8 L510.6,121.68 L511,121.56 L511.4,121.44 L511.8,121.31 L512.2,121.18 L512.6,121.04 L513,120.89 L513.4,120.75 L513.8,120.59 L514.2,120.43 L514.6,120.27 L515,120.09 L515.4,119.91 L515.8,119.73 L516.2,119.53 L516.6,119.33 L517,119.12 L517.4,118.9 L517.8,118.67 L518.2,118.43 L518.6,118.18 L519,117.92 L519.4,117.65 L519.8,117.36 L520.2,117.07 L520.6,116.76 L521,116.44 L521.4,116.1 L521.8,115.74 L522.2,115.37 L522.6,114.99 L523,114.58 L523.4,114.16 L523.8,113.72 L524.2,113.68 L524.6,114.05 L525,114.39 L525.4,114.72 L525.8,115.03 L526.2,115.32 L526.6,115.6 L527,115.86 L527.4,116.11 L527.8,116.34 L528.2,116.56 L528.6,116.77 L529,116.96 L529.4,117.14 L529.8,117.32 L530.2,117.48 L530.6,117.63 L531,117.78 L531.4,117.91 L531.8,118.04 L532.2,118.15 L532.6,118.26 L533,118.37 L533.4,118.46 L533.8,118.55 L534.2,118.64 L534.6,118.72 L535,118.79 L535.4,118.85 L535.8,118.91 L536.2,118.97 L536.6,119.02 L537,119.07 L537.4,119.11 L537.8,119.15 L538.2,119.19 L538.6,119.22 L539,119.25 L539.4,119.27 L539.8,119.3 L540.2,119.32 L540.6,119.33 L541,119.35 L541.4,119.36 L541.8,119.37 L542.2,119.37 L542.6,119.38 L543,119.38 L543.4,119.38 L543.8,119.38 L544.2,119.37 L544.6,119.37 L545,119.36 L545.4,119.35 L545.8,119.34 L546.2,119.33 L546.6,119.32 L547,119.31 L547.4,119.29 L547.8,119.28 L548.2,119.26 L548.6,119.24 L549,119.22 L549.4,119.2 L549.8,119.18 L550.2,119.16 L550.6,119.14 L551,119.11 L551.4,119.09 L551.8,119.06 L552.2,119.04 L552.6,119.01 L553,118.99 L553.4,118.96 L553.8,118.93 L553.8,119.14 L553.4,119.17 L553,119.21 L552.6,119.25 L552.2,119.29 L551.8,119.33 L551.4,119.37 L551,119.4 L550.6,119.44 L550.2,119.48 L549.8,119.52 L549.4,119.56 L549,119.6 L548.6,119.63 L548.2,119.67 L547.8,119.71 L547.4,119.75 L547,119.79 L546.6,119.82 L546.2,119.86 L545.8,119.9 L545.4,119.94 L545,119.98 L544.6,120.02 L544.2,120.05 L543.8,120.09 L543.4,120.13 L543,120.17 L542.6,120.21 L542.2,120.25 L541.8,120.28 L541.4,120.32 L541,120.36 L540.6,120.4 L540.2,120.44 L539.8,120.48 L539.4,120.51 L539,120.55 L538.6,120.59 L538.2,120.63 L537.8,120.67 L537.4,120.71 L537,120.74 L536.6,120.78 L536.2,120.82 L535.8,120.86 L535.4,120.9 L535,120.94 L534.6,120.97 L534.2,121.01 L533.8,121.05 L533.4,121.09 L533,121.13 L532.6,121.17 L532.2,121.2 L531.8,121.24 L531.4,121.28 L531,121.32 L530.6,121.36 L530.2,121.4 L529.8,121.43 L529.4,121.47 L529,121.51 L528.6,121.55 L528.2,121.59 L527.8,121.63 L527.4,121.66 L527,121.7 L526.6,121.74 L526.2,121.78 L525.8,121.82 L525.4,121.86 L525,121.89 L524.6,121.93 L524.2,121.97 L523.8,122.01 L523.4,122.05 L523,122.09 L522.6,122.12 L522.2,122.16 L521.8,122.2 L521.4,122.24 L521,122.28 L520.6,122.32 L520.2,122.35 L519.8,122.39 L519.4,122.43 L519,122.47 L518.6,122.51 L518.2,122.55 L517.8,122.58 L517.4,122.62 L517,122.66 L516.6,122.7 L516.2,122.74 L515.8,122.78 L515.4,122.81 L515,122.85 L514.6,122.89 L514.2,122.93 L513.8,122.97 L513.4,123 L513,123.04 L512.6,123.08 L512.2,123.12 L511.8,123.16 L511.4,123.2 L511,123.23 L510.6,123.27 L510.2,123.31 L509.8,123.35 L509.4,123.39 L509,123.43 L508.6,123.46 L508.2,123.5 L507.8,123.54 L507.4,123.58 L507,123.62 L506.6,123.66 L506.2,123.69 L505.8,123.73 L505.4,123.77 L505,123.78 L504.6,123.72 L504.2,123.66 L503.8,123.6 L503.4,123.54 L503,123.48 Z" fill="#3f78b5" stroke="none"/><path d="M503,122.87 L503.4,122.9 L503.8,122.92 L504.2,122.95 L504.6,122.97 L505,122.99 L505.4,122.94 L505.8,122.86 L506.2,122.78 L506.6,122.69 L507,122.6 L507.4,122.51 L507.8,122.42 L508.2,122.32 L508.6,122.22 L509,122.12 L509.4,122.02 L509.8,121.91 L510.2,121.8 L510.6,121.68 L511,121.56 L511.4,121.44 L511.8,121.31 L512.2,121.18 L512.6,121.04 L513,120.89 L513.4,120.75 L513.8,120.59 L514.2,120.43 L514.6,120.27 L515,120.09 L515.4,119.91 L515.8,119.73 L516.2,119.53 L516.6,119.33 L517,119.12 L517.4,118.9 L517.8,118.67 L518.2,118.43 L518.6,118.18 L519,117.92 L519.4,117.65 L519.8,117.36 L520.2,117.07 L520.6,116.76 L521,116.44 L521.4,116.1 L521.8,115.74 L522.2,115.37 L522.6,114.99 L523,114.58 L523.4,114.16 L523.8,113.72 L524.2,113.68 L524.6,114.05 L525,114.39 L525.4,114.72 L525.8,115.03 L526.2,115.32 L526.6,115.6 L527,115.86 L527.4,116.11 L527.8,116.34 L528.2,116.56 L528.6,116.77 L529,116.96 L529.4,117.14 L529.8,117.32 L530.2,117.48 L530.6,117.63 L531,117.78 L531.4,117.91 L531.8,118.04 L532.2,118.15 L532.6,118.26 L533,118.37 L533.4,118.46 L533.8,118.55 L534.2,118.64 L534.6,118.72 L535,118.79 L535.4,118.85 L535.8,118.91 L536.2,118.97 L536.6,119.02 L537,119.07 L537.4,119.11 L537.8,119.15 L538.2,119.19 L538.6,119.22 L539,119.25 L539.4,119.27 L539.8,119.3 L540.2,119.32 L540.6,119.33 L541,119.35 L541.4,119.36 L541.8,119.37 L542.2,119.37 L542.6,119.38 L543,119.38 L543.4,119.38 L543.8,119.38 L544.2,119.37 L544.6,119.37 L545,119.36 L545.4,119.35 L545.8,119.34 L546.2,119.33 L546.6,119.32 L547,119.31 L547.4,119.29 L547.8,119.28 L548.2,119.26 L548.6,119.24 L549,119.22 L549.4,119.2 L549.8,119.18 L550.2,119.16 L550.6,119.14 L551,119.11 L551.4,119.09 L551.8,119.06 L552.2,119.04 L552.6,119.01 L553,118.99 L553.4,118.96 L553.8,118.93" fill="none" stroke="#1a4f8c" stroke-width="0.6"/><path d="M595.8,116.23 L596.2,116.18 L596.6,116.13 L597,116.09 L597.4,116.04 L597.8,115.99 L598.2,115.95 L598.6,115.9 L599,115.85 L599.4,115.8 L599.8,115.75 L600.2,115.7 L600.6,115.64 L601,115.59 L601.4,115.53 L601.8,115.48 L602.2,115.42 L602.6,115.36 L603,115.31 L603.4,115.24 L603.8,115.18 L604.2,115.12 L604.6,115.06 L605,114.99 L605.4,114.92 L605.8,114.85 L606.2,114.78 L606.6,114.71 L607,114.63 L607.4,114.56 L607.8,114.48 L608.2,114.39 L608.6,114.31 L609,114.22 L609.4,114.13 L609.8,114.04 L610.2,113.95 L610.6,113.85 L611,113.75 L611.4,113.64 L611.8,113.53 L612.2,113.42 L612.6,113.3 L613,113.18 L613.4,113.06 L613.8,112.93 L614.2,112.79 L614.6,112.65 L615,112.51 L615.4,112.36 L615.8,112.2 L616.2,112.04 L616.6,111.87 L617,111.69 L617.4,111.51 L617.8,111.32 L618.2,111.12 L618.6,110.91 L619,110.69 L619.4,110.46 L619.8,110.23 L620.2,109.98 L620.6,109.72 L621,109.45 L621.4,109.17 L621.8,108.88 L622.2,108.57 L622.6,108.25 L623,107.92 L623.4,107.56 L623.8,107.2 L624.2,107.16 L624.6,107.46 L625,107.74 L625.4,108.01 L625.8,108.26 L626.2,108.5 L626.6,108.73 L627,108.94 L627.4,109.14 L627.8,109.33 L628.2,109.51 L628.6,109.67 L629,109.83 L629.4,109.98 L629.8,110.12 L630.2,110.25 L630.6,110.37 L631,110.49 L631.4,110.6 L631.8,110.7 L632.2,110.79 L632.6,110.88 L633,110.96 L633.4,111.04 L633.8,111.11 L634.2,111.17 L634.6,111.24 L635,111.29 L635.4,111.34 L635.8,111.39 L636.2,111.43 L636.6,111.47 L637,111.51 L637.4,111.54 L637.8,111.57 L638.2,111.6 L638.6,111.62 L639,111.64 L639.4,111.66 L639.8,111.68 L640.2,111.69 L640.6,111.7 L641,111.71 L641.4,111.72 L641.8,111.72 L642.2,111.72 L642.6,111.72 L643,111.72 L643.4,111.72 L643.8,111.72 L644.2,111.71 L644.6,111.7 L645,111.69 L645.4,111.69 L645.8,111.67 L646.2,111.66 L646.6,111.65 L647,111.63 L647.4,111.62 L647.8,111.6 L648.2,111.59 L648.6,111.57 L649,111.55 L649.4,111.53 L649.8,111.51 L650.2,111.49 L650.6,111.47 L651,111.45 L651.4,111.42 L651.8,111.4 L652.2,111.38 L652.2,111.58 L651.8,111.62 L651.4,111.65 L651,111.69 L650.6,111.72 L650.2,111.75 L649.8,111.79 L649.4,111.82 L649,111.86 L648.6,111.89 L648.2,111.93 L647.8,111.96 L647.4,112 L647,112.03 L646.6,112.06 L646.2,112.1 L645.8,112.13 L645.4,112.17 L645,112.2 L644.6,112.24 L644.2,112.27 L643.8,112.3 L643.4,112.34 L643,112.37 L642.6,112.41 L642.2,112.44 L641.8,112.48 L641.4,112.51 L641,112.55 L640.6,112.58 L640.2,112.61 L639.8,112.65 L639.4,112.68 L639,112.72 L638.6,112.75 L638.2,112.79 L637.8,112.82 L637.4,112.86 L637,112.89 L636.6,112.92 L636.2,112.96 L635.8,112.99 L635.4,113.03 L635,113.06 L634.6,113.1 L634.2,113.13 L633.8,113.16 L633.4,113.2 L633,113.23 L632.6,113.27 L632.2,113.3 L631.8,113.34 L631.4,113.37 L631,113.41 L630.6,113.44 L630.2,113.47 L629.8,113.51 L629.4,113.54 L629,113.58 L628.6,113.61 L628.2,113.65 L627.8,113.68 L627.4,113.71 L627,113.75 L626.6,113.78 L626.2,113.82 L625.8,113.85 L625.4,113.89 L625,113.92 L624.6,113.96 L624.2,113.99 L623.8,114.02 L623.4,114.06 L623,114.09 L622.6,114.13 L622.2,114.16 L621.8,114.2 L621.4,114.23 L621,114.26 L620.6,114.3 L620.2,114.33 L619.8,114.37 L619.4,114.4 L619,114.44 L618.6,114.47 L618.2,114.51 L617.8,114.54 L617.4,114.57 L617,114.61 L616.6,114.64 L616.2,114.68 L615.8,114.71 L615.4,114.75 L615,114.78 L614.6,114.82 L614.2,114.85 L613.8,114.88 L613.4,114.92 L613,114.95 L612.6,114.99 L612.2,115.02 L611.8,115.06 L611.4,115.09 L611,115.12 L610.6,115.16 L610.2,115.19 L609.8,115.23 L609.4,115.26 L609,115.3 L608.6,115.33 L608.2,115.37 L607.8,115.4 L607.4,115.43 L607,115.47 L606.6,115.5 L606.2,115.54 L605.8,115.57 L605.4,115.61 L605,115.64 L604.6,115.67 L604.2,115.71 L603.8,115.74 L603.4,115.78 L603,115.81 L602.6,115.85 L602.2,115.88 L601.8,115.92 L601.4,115.95 L601,115.98 L600.6,116.02 L600.2,116.05 L599.8,116.09 L599.4,116.12 L599,116.16 L598.6,116.19 L598.2,116.22 L597.8,116.26 L597.4,116.29 L597,116.33 L596.6,116.36 L596.2,116.4 L595.8,116.43 Z" fill="#3f78b5" stroke="none"/><path d="M595.8,116.23 L596.2,116.18 L596.6,116.13 L597,116.09 L597.4,116.04 L597.8,115.99 L598.2,115.95 L598.6,115.9 L599,115.85 L599.4,115.8 L599.8,115.75 L600.2,115.7 L600.6,115.64 L601,115.59 L601.4,115.53 L601.8,115.48 L602.2,115.42 L602.6,115.36 L603,115.31 L603.4,115.24 L603.8,115.18 L604.2,115.12 L604.6,115.06 L605,114.99 L605.4,114.92 L605.8,114.85 L606.2,114.78 L606.6,114.71 L607,114.63 L607.4,114.56 L607.8,114.48 L608.2,114.39 L608.6,114.31 L609,114.22 L609.4,114.13 L609.8,114.04 L610.2,113.95 L610.6,113.85 L611,113.75 L611.4,113.64 L611.8,113.53 L612.2,113.42 L612.6,113.3 L613,113.18 L613.4,113.06 L613.8,112.93 L614.2,112.79 L614.6,112.65 L615,112.51 L615.4,112.36 L615.8,112.2 L616.2,112.04 L616.6,111.87 L617,111.69 L617.4,111.51 L617.8,111.32 L618.2,111.12 L618.6,110.91 L619,110.69 L619.4,110.46 L619.8,110.23 L620.2,109.98 L620.6,109.72 L621,109.45 L621.4,109.17 L621.8,108.88 L622.2,108.57 L622.6,108.25 L623,107.92 L623.4,107.56 L623.8,107.2 L624.2,107.16 L624.6,107.46 L625,107.74 L625.4,108.01 L625.8,108.26 L626.2,108.5 L626.6,108.73 L627,108.94 L627.4,109.14 L627.8,109.33 L628.2,109.51 L628.6,109.67 L629,109.83 L629.4,109.98 L629.8,110.12 L630.2,110.25 L630.6,110.37 L631,110.49 L631.4,110.6 L631.8,110.7 L632.2,110.79 L632.6,110.88 L633,110.96 L633.4,111.04 L633.8,111.11 L634.2,111.17 L634.6,111.24 L635,111.29 L635.4,111.34 L635.8,111.39 L636.2,111.43 L636.6,111.47 L637,111.51 L637.4,111.54 L637.8,111.57 L638.2,111.6 L638.6,111.62 L639,111.64 L639.4,111.66 L639.8,111.68 L640.2,111.69 L640.6,111.7 L641,111.71 L641.4,111.72 L641.8,111.72 L642.2,111.72 L642.6,111.72 L643,111.72 L643.4,111.72 L643.8,111.72 L644.2,111.71 L644.6,111.7 L645,111.69 L645.4,111.69 L645.8,111.67 L646.2,111.66 L646.6,111.65 L647,111.63 L647.4,111.62 L647.8,111.6 L648.2,111.59 L648.6,111.57 L649,111.55 L649.4,111.53 L649.8,111.51 L650.2,111.49 L650.6,111.47 L651,111.45 L651.4,111.42 L651.8,111.4 L652.2,111.38" fill="none" stroke="#1a4f8c" stroke-width="0.6"/><circle cx="492.86" cy="112.08" r="2.5" fill="#cbcbcb" stroke="#bfbfbf" stroke-width="0.3"/><circle cx="495.07" cy="110.45" r="2.5" fill="#cbcbcb" stroke="#bfbfbf" stroke-width="0.3"/><circle cx="496.35" cy="118.21" r="2.5" fill="#cbcbcb" stroke="#bfbfbf" stroke-width="0.3"/><circle cx="498.52" cy="111.29" r="2.5" fill="#cbcbcb" stroke="#bfbfbf" stroke-width="0.3"/><circle cx="500.21" cy="119.18" r="2.5" fill="#cbcbcb" stroke="#bfbfbf" stroke-width="0.3"/><circle cx="501.69" cy="120.53" r="2.5" fill="#cbcbcb" stroke="#bfbfbf" stroke-width="0.3"/><circle cx="503.74" cy="125.81" r="2.5" fill="#cbcbcb" stroke="#bfbfbf" stroke-width="0.3"/><circle cx="504.87" cy="122.17" r="2.5" fill="#cbcbcb" stroke="#bfbfbf" stroke-width="0.3"/><circle cx="506.57" cy="131.5" r="2.5" fill="#cbcbcb" stroke="#bfbfbf" stroke-width="0.3"/><circle cx="509.08" cy="121.45" r="2.5" fill="#cbcbcb" stroke="#bfbfbf" stroke-width="0.3"/><circle cx="511" cy="116.39" r="2.5" fill="#cbcbcb" stroke="#bfbfbf" stroke-width="0.3"/><circle cx="511.83" cy="115.73" r="2.5" fill="#cbcbcb" stroke="#bfbfbf" stroke-width="0.3"/><circle cx="513.8" cy="121.61" r="2.5" fill="#cbcbcb" stroke="#bfbfbf" stroke-width="0.3"/><circle cx="515.29" cy="119.5" r="2.5" fill="#cbcbcb" stroke="#bfbfbf" stroke-width="0.3"/><circle cx="516.65" cy="112.86" r="2.5" fill="#cbcbcb" stroke="#bfbfbf" stroke-width="0.3"/><circle cx="519.58" cy="107.62" r="2.5" fill="#cbcbcb" stroke="#bfbfbf" stroke-width="0.3"/><circle cx="520.53" cy="105.26" r="2.5" fill="#cbcbcb" stroke="#bfbfbf" stroke-width="0.3"/><circle cx="522.28" cy="106.17" r="2.5" fill="#cbcbcb" stroke="#bfbfbf" stroke-width="0.3"/><circle cx="523.5" cy="114.24" r="2.5" fill="#cbcbcb" stroke="#bfbfbf" stroke-width="0.3"/><circle cx="525.28" cy="107.94" r="2.5" fill="#cbcbcb" stroke="#bfbfbf" stroke-width="0.3"/><circle cx="527.85" cy="107.8" r="2.5" fill="#cbcbcb" stroke="#bfbfbf" stroke-width="0.3"/><circle cx="529.73" cy="114.19" r="2.5" fill="#cbcbcb" stroke="#bfbfbf" stroke-width="0.3"/><circle cx="531.21" cy="104.11" r="2.5" fill="#cbcbcb" stroke="#bfbfbf" stroke-width="0.3"/><circle cx="532.87" cy="97.37" r="2.5" fill="#cbcbcb" stroke="#bfbfbf" stroke-width="0.3"/><circle cx="533.6" cy="94.74" r="2.5" fill="#cbcbcb" stroke="#bfbfbf" stroke-width="0.3"/><circle cx="535.42" cy="101.35" r="2.5" fill="#cbcbcb" stroke="#bfbfbf" stroke-width="0.3"/><circle cx="538.28" cy="100.96" r="2.5" fill="#cbcbcb" stroke="#bfbfbf" stroke-width="0.3"/><circle cx="539.08" cy="94.8" r="2.5" fill="#cbcbcb" stroke="#bfbfbf" stroke-width="0.3"/><circle cx="540.92" cy="88.72" r="2.5" fill="#cbcbcb" stroke="#bfbfbf" stroke-width="0.3"/><circle cx="542.52" cy="107.25" r="2.5" fill="#cbcbcb" stroke="#bfbfbf" stroke-width="0.3"/><circle cx="543.64" cy="104.98" r="2.5" fill="#cbcbcb" stroke="#bfbfbf" stroke-width="0.3"/><circle cx="546.89" cy="107.03" r="2.5" fill="#cbcbcb" stroke="#bfbfbf" stroke-width="0.3"/><circle cx="547.79" cy="100.23" r="2.5" fill="#cbcbcb" stroke="#bfbfbf" stroke-width="0.3"/><circle cx="549.9" cy="108.39" r="2.5" fill="#cbcbcb" stroke="#bfbfbf" stroke-width="0.3"/><circle cx="550.76" cy="105.65" r="2.5" fill="#cbcbcb" stroke="#bfbfbf" stroke-width="0.3"/><circle cx="553.1" cy="108.71" r="2.5" fill="#cbcbcb" stroke="#bfbfbf" stroke-width="0.3"/><circle cx="554.09" cy="114.16" r="2.5" fill="#cbcbcb" stroke="#bfbfbf" stroke-width="0.3"/><circle cx="556.98" cy="117.56" r="2.5" fill="#cbcbcb" stroke="#bfbfbf" stroke-width="0.3"/><circle cx="557.75" cy="112.06" r="2.5" fill="#cbcbcb" stroke="#bfbfbf" stroke-width="0.3"/><circle cx="559.07" cy="112.92" r="2.5" fill="#cbcbcb" stroke="#bfbfbf" stroke-width="0.3"/><circle cx="560.71" cy="117.43" r="2.5" fill="#cbcbcb" stroke="#bfbfbf" stroke-width="0.3"/><circle cx="562.9" cy="108.9" r="2.5" fill="#cbcbcb" stroke="#bfbfbf" stroke-width="0.3"/><circle cx="565.09" cy="111.42" r="2.5" fill="#cbcbcb" stroke="#bfbfbf" stroke-width="0.3"/><circle cx="567.23" cy="107.9" r="2.5" fill="#cbcbcb" stroke="#bfbfbf" stroke-width="0.3"/><circle cx="568.05" cy="124.88" r="2.5" fill="#cbcbcb" stroke="#bfbfbf" stroke-width="0.3"/><circle cx="570.04" cy="114.63" r="2.5" fill="#cbcbcb" stroke="#bfbfbf" stroke-width="0.3"/><circle cx="572.21" cy="111.46" r="2.5" fill="#cbcbcb" stroke="#bfbfbf" stroke-width="0.3"/><circle cx="572.9" cy="115.3" r="2.5" fill="#cbcbcb" stroke="#bfbfbf" stroke-width="0.3"/><circle cx="575.6" cy="115.65" r="2.5" fill="#cbcbcb" stroke="#bfbfbf" stroke-width="0.3"/><circle cx="577.19" cy="116.01" r="2.5" fill="#cbcbcb" stroke="#bfbfbf" stroke-width="0.3"/><circle cx="578.84" cy="107.47" r="2.5" fill="#cbcbcb" stroke="#bfbfbf" stroke-width="0.3"/><circle cx="579.38" cy="115.39" r="2.5" fill="#cbcbcb" stroke="#bfbfbf" stroke-width="0.3"/><circle cx="581.41" cy="113.5" r="2.5" fill="#cbcbcb" stroke="#bfbfbf" stroke-width="0.3"/><circle cx="582.97" cy="118.21" r="2.5" fill="#cbcbcb" stroke="#bfbfbf" stroke-width="0.3"/><circle cx="584.51" cy="109.98" r="2.5" fill="#cbcbcb" stroke="#bfbfbf" stroke-width="0.3"/><circle cx="587.67" cy="120.95" r="2.5" fill="#cbcbcb" stroke="#bfbfbf" stroke-width="0.3"/><circle cx="588.99" cy="111.06" r="2.5" fill="#cbcbcb" stroke="#bfbfbf" stroke-width="0.3"/><circle cx="591.03" cy="114.17" r="2.5" fill="#cbcbcb" stroke="#bfbfbf" stroke-width="0.3"/><circle cx="592.04" cy="113.59" r="2.5" fill="#cbcbcb" stroke="#bfbfbf" stroke-width="0.3"/><circle cx="593.24" cy="112.72" r="2.5" fill="#cbcbcb" stroke="#bfbfbf" stroke-width="0.3"/><circle cx="595.94" cy="115.16" r="2.5" fill="#cbcbcb" stroke="#bfbfbf" stroke-width="0.3"/><circle cx="597.26" cy="104.68" r="2.5" fill="#cbcbcb" stroke="#bfbfbf" stroke-width="0.3"/><circle cx="598.68" cy="104.95" r="2.5" fill="#cbcbcb" stroke="#bfbfbf" stroke-width="0.3"/><circle cx="600.19" cy="106.93" r="2.5" fill="#cbcbcb" stroke="#bfbfbf" stroke-width="0.3"/><circle cx="602.25" cy="108.3" r="2.5" fill="#cbcbcb" stroke="#bfbfbf" stroke-width="0.3"/><circle cx="603.12" cy="115.28" r="2.5" fill="#cbcbcb" stroke="#bfbfbf" stroke-width="0.3"/><circle cx="605.9" cy="108.07" r="2.5" fill="#cbcbcb" stroke="#bfbfbf" stroke-width="0.3"/><circle cx="607.45" cy="106.16" r="2.5" fill="#cbcbcb" stroke="#bfbfbf" stroke-width="0.3"/><circle cx="609.23" cy="108.38" r="2.5" fill="#cbcbcb" stroke="#bfbfbf" stroke-width="0.3"/><circle cx="610.31" cy="100.72" r="2.5" fill="#cbcbcb" stroke="#bfbfbf" stroke-width="0.3"/><circle cx="612.25" cy="111.63" r="2.5" fill="#cbcbcb" stroke="#bfbfbf" stroke-width="0.3"/><circle cx="613.51" cy="100.82" r="2.5" fill="#cbcbcb" stroke="#bfbfbf" stroke-width="0.3"/><circle cx="615.15" cy="102.71" r="2.5" fill="#cbcbcb" stroke="#bfbfbf" stroke-width="0.3"/><circle cx="617.41" cy="101.08" r="2.5" fill="#cbcbcb" stroke="#bfbfbf" stroke-width="0.3"/><circle cx="618.63" cy="103.39" r="2.5" fill="#cbcbcb" stroke="#bfbfbf" stroke-width="0.3"/><circle cx="620.3" cy="94.25" r="2.5" fill="#cbcbcb" stroke="#bfbfbf" stroke-width="0.3"/><circle cx="622.66" cy="94.52" r="2.5" fill="#cbcbcb" stroke="#bfbfbf" stroke-width="0.3"/><circle cx="623.85" cy="99.55" r="2.5" fill="#cbcbcb" stroke="#bfbfbf" stroke-width="0.3"/><circle cx="625.47" cy="95.83" r="2.5" fill="#cbcbcb" stroke="#bfbfbf" stroke-width="0.3"/><circle cx="628.04" cy="94.9" r="2.5" fill="#cbcbcb" stroke="#bfbfbf" stroke-width="0.3"/><circle cx="629.48" cy="95.15" r="2.5" fill="#cbcbcb" stroke="#bfbfbf" stroke-width="0.3"/><circle cx="631.7" cy="87.92" r="2.5" fill="#cbcbcb" stroke="#bfbfbf" stroke-width="0.3"/><circle cx="633.24" cy="84.1" r="2.5" fill="#cbcbcb" stroke="#bfbfbf" stroke-width="0.3"/><circle cx="634.44" cy="81.77" r="2.5" fill="#cbcbcb" stroke="#bfbfbf" stroke-width="0.3"/><circle cx="635.5" cy="80.91" r="2.5" fill="#cbcbcb" stroke="#bfbfbf" stroke-width="0.3"/><circle cx="638.24" cy="80.79" r="2.5" fill="#cbcbcb" stroke="#bfbfbf" stroke-width="0.3"/><circle cx="639.2" cy="82.92" r="2.5" fill="#cbcbcb" stroke="#bfbfbf" stroke-width="0.3"/><circle cx="640.57" cy="82.1" r="2.5" fill="#cbcbcb" stroke="#bfbfbf" stroke-width="0.3"/><circle cx="642.82" cy="87.36" r="2.5" fill="#cbcbcb" stroke="#bfbfbf" stroke-width="0.3"/><circle cx="644.37" cy="101.97" r="2.5" fill="#cbcbcb" stroke="#bfbfbf" stroke-width="0.3"/><circle cx="646.4" cy="90.85" r="2.5" fill="#cbcbcb" stroke="#bfbfbf" stroke-width="0.3"/><circle cx="647.46" cy="98.51" r="2.5" fill="#cbcbcb" stroke="#bfbfbf" stroke-width="0.3"/><circle cx="649.96" cy="98.88" r="2.5" fill="#cbcbcb" stroke="#bfbfbf" stroke-width="0.3"/><circle cx="652.25" cy="107.77" r="2.5" fill="#cbcbcb" stroke="#bfbfbf" stroke-width="0.3"/><circle cx="652.9" cy="106.6" r="2.5" fill="#cbcbcb" stroke="#bfbfbf" stroke-width="0.3"/><circle cx="655" cy="103.51" r="2.5" fill="#cbcbcb" stroke="#bfbfbf" stroke-width="0.3"/><circle cx="655.9" cy="111.98" r="2.5" fill="#cbcbcb" stroke="#bfbfbf" stroke-width="0.3"/><circle cx="658.07" cy="98.15" r="2.5" fill="#cbcbcb" stroke="#bfbfbf" stroke-width="0.3"/><circle cx="659.71" cy="109.44" r="2.5" fill="#cbcbcb" stroke="#bfbfbf" stroke-width="0.3"/><circle cx="661.02" cy="107.47" r="2.5" fill="#cbcbcb" stroke="#bfbfbf" stroke-width="0.3"/><circle cx="662.72" cy="109.97" r="2.5" fill="#cbcbcb" stroke="#bfbfbf" stroke-width="0.3"/><circle cx="665.02" cy="101.4" r="2.5" fill="#cbcbcb" stroke="#bfbfbf" stroke-width="0.3"/><circle cx="666.99" cy="112.61" r="2.5" fill="#cbcbcb" stroke="#bfbfbf" stroke-width="0.3"/><circle cx="668.41" cy="107.77" r="2.5" fill="#cbcbcb" stroke="#bfbfbf" stroke-width="0.3"/><circle cx="670.23" cy="104.02" r="2.5" fill="#cbcbcb" stroke="#bfbfbf" stroke-width="0.3"/><circle cx="671.46" cy="109.32" r="2.5" fill="#cbcbcb" stroke="#bfbfbf" stroke-width="0.3"/><path d="M503,123.48 L504,123.63 L505,123.78 L506,123.71 L507,123.62 L508,123.52 L509,123.43 L510,123.33 L511,123.23 L512,123.14 L513,123.04 L514,122.95 L515,122.85 L516,122.76 L517,122.66 L518,122.56 L519,122.47 L520,122.37 L521,122.28 L522,122.18 L523,122.09 L524,121.99 L525,121.89 L526,121.8 L527,121.7 L528,121.61 L529,121.51 L530,121.41 L531,121.32 L532,121.22 L533,121.13 L534,121.03 L535,120.94 L536,120.84 L537,120.74 L538,120.65 L539,120.55 L540,120.46 L541,120.36 L542,120.27 L543,120.17 L544,120.07 L545,119.98 L546,119.88 L547,119.79 L548,119.69 L549,119.6 L550,119.5 L551,119.4 L552,119.31 L553,119.21 L554,119.12 L555,119.02 L556,118.92 L557,118.83 L558,118.76 L559,118.7 L560,118.64 L561,118.57 L562,118.51 L563,118.45 L564,118.39 L565,118.33 L566,118.27 L567,118.21 L568,118.15 L569,118.09 L570,118.03 L571,117.96 L572,117.9 L573,117.84 L574,117.78 L575,117.72 L576,117.66 L577,117.6 L578,117.54 L579,117.48 L580,117.42 L581,117.35 L582,117.29 L583,117.23 L584,117.17 L585,117.11 L586,117.05 L587,116.99 L588,116.93 L589,116.87 L590,116.81 L591,116.74 L592,116.68 L593,116.62 L594,116.56 L595,116.5 L596,116.41 L597,116.33 L598,116.24 L599,116.16 L600,116.07 L601,115.98 L602,115.9 L603,115.81 L604,115.73 L605,115.64 L606,115.55 L607,115.47 L608,115.38 L609,115.3 L610,115.21 L611,115.12 L612,115.04 L613,114.95 L614,114.87 L615,114.78 L616,114.69 L617,114.61 L618,114.52 L619,114.44 L620,114.35 L621,114.26 L622,114.18 L623,114.09 L624,114.01 L625,113.92 L626,113.84 L627,113.75 L628,113.66 L629,113.58 L630,113.49 L631,113.41 L632,113.32 L633,113.23 L634,113.15 L635,113.06 L636,112.98 L637,112.89 L638,112.8 L639,112.72 L640,112.63 L641,112.55 L642,112.46 L643,112.37 L644,112.29 L645,112.2 L646,112.12 L647,112.03 L648,111.94 L649,111.86 L650,111.77 L651,111.69 L652,111.6 L653,111.52 L654,111.44 L655,111.37 L656,111.29 L657,111.21 L658,111.13 L659,111.05 L660,110.97 L661,110.9 L662,110.82 L663,110.74 L664,110.66 L665,110.58 L666,110.5 L667,110.43 L668,110.35 L669,110.27 L670,110.19" fill="none" stroke="#3cb54a" stroke-width="1" stroke-linejoin="round"/><path d="M490,115.5 C490.67,115.87 492.03,116.4 494,117.7 C495.97,119 499.03,122.83 501.8,123.3 C504.57,123.77 507.28,122.63 510.6,120.5 C513.92,118.37 518.37,112.72 521.7,110.5 C525.03,108.28 527.63,108.95 530.6,107.2 C533.57,105.45 537.1,100.55 539.5,100 C541.9,99.45 542.97,101.6 545,103.9 C547.03,106.2 549.65,111.5 551.7,113.8 C553.75,116.1 554.25,116.95 557.3,117.7 C560.35,118.45 563.72,118.5 570,118.3 C576.28,118.1 587.18,118.88 595,116.5 C602.82,114.12 611.6,107.37 616.9,104 C622.2,100.63 623.7,99.68 626.8,96.3 C629.9,92.92 633.13,84.98 635.5,83.7 C637.87,82.42 639.17,85.4 641,88.6 C642.83,91.8 644.67,99.15 646.5,102.9 C648.33,106.65 648.08,109.92 652,111.1 C655.92,112.28 666.17,110.27 670,110 C673.83,109.73 674.17,109.58 675,109.5" fill="none" stroke="#5f98cc" stroke-width="0.7"/></g><line x1="638.5" y1="7.6" x2="638.5" y2="70" stroke="#222" stroke-width="0.9" stroke-dasharray="1.2,1.2"/><line x1="635.2" y1="64" x2="635.2" y2="100" stroke="#222" stroke-width="0.9" stroke-dasharray="1.2,1.2"/><line x1="628.6" y1="67.5" x2="644.3" y2="67.5" stroke="#111" stroke-width="1.0"/><path d="M647,67.5 L643.8,69 L643.8,66 Z" fill="#111"/><line x1="493.8" y1="6" x2="671.1" y2="6" stroke="#5c5c5c" stroke-width="1.05"/><line x1="493.8" y1="133.3" x2="671.1" y2="133.3" stroke="#5c5c5c" stroke-width="1.05"/><line x1="494.4" y1="6" x2="494.4" y2="133.3" stroke="#8c8c8c" stroke-width="1.4"/><line x1="670.5" y1="6" x2="670.5" y2="133.3" stroke="#8c8c8c" stroke-width="1.4"/><line x1="516.5" y1="133.3" x2="516.5" y2="135.5" stroke="#6e6e6e" stroke-width="0.8"/><text x="516.5" y="143.3" font-size="8.5" fill="#000" stroke="#000" stroke-width="0.1" text-anchor="middle">490</text><line x1="560" y1="133.3" x2="560" y2="135.5" stroke="#6e6e6e" stroke-width="0.8"/><text x="560" y="143.3" font-size="8.5" fill="#000" stroke="#000" stroke-width="0.1" text-anchor="middle">480</text><line x1="603.8" y1="133.3" x2="603.8" y2="135.5" stroke="#6e6e6e" stroke-width="0.8"/><text x="603.8" y="143.3" font-size="8.5" fill="#000" stroke="#000" stroke-width="0.1" text-anchor="middle">470</text><line x1="647.5" y1="133.3" x2="647.5" y2="135.5" stroke="#6e6e6e" stroke-width="0.8"/><text x="647.5" y="143.3" font-size="8.5" fill="#000" stroke="#000" stroke-width="0.1" text-anchor="middle">460</text><text x="582" y="156.6" font-size="8.5" fill="#000" stroke="#000" stroke-width="0.1" text-anchor="middle">Binding Energy (eV)</text><text x="486.3" y="67.6" font-size="8.5" fill="#000" stroke="#000" stroke-width="0.1" text-anchor="middle" transform="rotate(-90 486.3 67.6)">Intensity (a.u.)</text><text x="497.6" y="15.4" font-size="8.5" fill="#000" stroke="#000" stroke-width="0.1" text-anchor="start">Ru 3<tspan font-style="italic">p</tspan></text><text x="531.5" y="23" font-size="8.5" fill="#000" stroke="#000" stroke-width="0.1" text-anchor="start">3<tspan font-style="italic">p</tspan><tspan font-size="5.5" dy="1.5">1/2</tspan></text><text x="616.1" y="14.5" font-size="8.5" fill="#000" stroke="#000" stroke-width="0.1" text-anchor="start">3<tspan font-style="italic">p</tspan><tspan font-size="5.5" dy="1.5">3/2</tspan></text><text x="599.7" y="41" font-size="8.5" fill="#1f5fa6" stroke="#1f5fa6" stroke-width="0.1" text-anchor="start">Ru<tspan font-size="5.5" dy="-3">n+</tspan></text><line x1="623.4" y1="49" x2="616.87" y2="43.53" stroke="#1f5fa6" stroke-width="0.9"/><path d="M614.8,41.8 L618.28,42.63 L616.23,45.08 Z" fill="#1f5fa6"/><text x="653" y="35" font-size="8.5" fill="#5aa6d6" stroke="#5aa6d6" stroke-width="0.1" text-anchor="start">Ru<tspan font-size="5.5" dy="-3">0</tspan></text><line x1="640.4" y1="40.5" x2="649.83" y2="36.3" stroke="#5aa6d6" stroke-width="0.9"/><path d="M652.3,35.2 L650.03,37.96 L648.73,35.04 Z" fill="#5aa6d6"/><text x="507.8" y="64.8" font-size="8.5" fill="#000" stroke="#000" stroke-width="0.1" text-anchor="start">MnBTC-Ru</text><text x="600.4" y="71.2" font-size="8.5" fill="#000" stroke="#000" stroke-width="0.1" text-anchor="start">0.6 eV</text><text x="597.7" y="90" font-size="8.5" fill="#1f5fa6" stroke="#1f5fa6" stroke-width="0.1" text-anchor="start">Ru<tspan font-size="5.5" dy="-3">n+</tspan></text><line x1="616.1" y1="108.4" x2="609.54" y2="95.7" stroke="#1f5fa6" stroke-width="0.9"/><path d="M608.3,93.3 L611.19,95.41 L608.35,96.88 Z" fill="#1f5fa6"/><text x="651" y="86" font-size="8.5" fill="#5aa6d6" stroke="#5aa6d6" stroke-width="0.1" text-anchor="start">Ru<tspan font-size="5.5" dy="-3">0</tspan></text><line x1="638.5" y1="100.5" x2="649.04" y2="90.55" stroke="#5aa6d6" stroke-width="0.9"/><path d="M651,88.7 L649.77,92.06 L647.57,89.73 Z" fill="#5aa6d6"/><text x="517" y="130.7" font-size="8.5" fill="#000" stroke="#000" stroke-width="0.1" text-anchor="start">C-Ru</text><rect x="51" y="295.8" width="44.4" height="59.3" fill="#efefef" stroke="none" stroke-width="1"/><clipPath id="clipD"><rect x="30.3" y="193.8" width="174.7" height="186.39999999999998"/></clipPath><g clip-path="url(#clipD)"><path d="M30.3,374.7 C32.38,374.32 38.6,373.92 42.8,372.4 C47,370.88 51.13,368.73 55.5,365.6 C59.87,362.47 64.98,358.1 69,353.6 C73.02,349.1 76.47,344.6 79.6,338.6 C82.73,332.6 85.67,325.7 87.8,317.6 C89.93,309.5 91.13,296.27 92.4,290 C93.67,283.73 94.03,285.4 95.4,280 C96.77,274.6 98,263.22 100.6,257.6 C103.2,251.98 107.77,248.93 111,246.3 C114.23,243.67 116.83,243.68 120,241.8 C123.17,239.92 125.83,237.63 130,235 C134.17,232.37 140,228.25 145,226 C150,223.75 155.5,222.37 160,221.5 C164.5,220.63 168,220.67 172,220.8 C176,220.93 180,221.3 184,222.3 C188,223.3 192.5,225.3 196,226.8 C199.5,228.3 203.5,230.55 205,231.3" fill="none" stroke="#808080" stroke-width="1.5" stroke-linejoin="round" stroke-linecap="round"/><path d="M30.3,366.4 C31.25,366.27 33.55,367.6 36,365.6 C38.45,363.6 42.5,357.65 45,354.4 C47.5,351.15 49.12,350.23 51,346.1 C52.88,341.97 54.03,334.62 56.3,329.6 C58.57,324.58 61.48,321.02 64.6,316 C67.72,310.98 72,305.5 75,299.5 C78,293.5 80.33,286.25 82.6,280 C84.87,273.75 86.87,266.5 88.6,262 C90.33,257.5 90.27,256.73 93,253 C95.73,249.27 101.1,242.72 105,239.6 C108.9,236.48 113.73,235.07 116.4,234.3 C119.07,233.53 118.98,233.75 121,235 C123.02,236.25 125,239.85 128.5,241.8 C132,243.75 137.25,246.33 142,246.7 C146.75,247.07 152.25,246.2 157,244 C161.75,241.8 166,236.75 170.5,233.5 C175,230.25 179.75,227.12 184,224.5 C188.25,221.88 192.5,219.05 196,217.8 C199.5,216.55 203.5,217.13 205,217" fill="none" stroke="#68abd3" stroke-width="1.5" stroke-linejoin="round" stroke-linecap="round"/><path d="M30.3,367.1 C31.75,366.08 35.3,364.25 39,361 C42.7,357.75 48.23,352.47 52.5,347.6 C56.77,342.73 60.85,337.3 64.6,331.8 C68.35,326.3 72,320.23 75,314.6 C78,308.97 80.22,303.77 82.6,298 C84.98,292.23 86.8,286.23 89.3,280 C91.8,273.77 94.72,268.1 97.6,260.6 C100.48,253.1 103.7,241.38 106.6,235 C109.5,228.62 112.1,225.8 115,222.3 C117.9,218.8 120.5,216.13 124,214 C127.5,211.87 131.25,209.62 136,209.5 C140.75,209.38 147.25,211.67 152.5,213.3 C157.75,214.93 162.5,216.68 167.5,219.3 C172.5,221.92 178,226.25 182.5,229 C187,231.75 190.75,233.8 194.5,235.8 C198.25,237.8 203.25,240.13 205,241" fill="none" stroke="#ff1f1f" stroke-width="1.5" stroke-linejoin="round" stroke-linecap="round"/><path d="M30.3,374.7 C32.38,374.32 38.6,373.78 42.8,372.4 C47,371.02 51.13,369.15 55.5,366.4 C59.87,363.65 64.75,359.78 69,355.9 C73.25,352.02 77.73,348.25 81,343.1 C84.27,337.95 86.33,331.77 88.6,325 C90.87,318.23 92.87,308.33 94.6,302.5 C96.33,296.67 97.5,293.75 99,290 C100.5,286.25 102.1,283.67 103.6,280 C105.1,276.33 106.1,272.62 108,268 C109.9,263.38 112.33,258.8 115,252.3 C117.67,245.8 121,235.88 124,229 C127,222.12 130.25,214.45 133,211 C135.75,207.55 136.5,208.3 140.5,208.3 C144.5,208.3 152,210.8 157,211 C162,211.2 166.5,208.75 170.5,209.5 C174.5,210.25 177.25,213 181,215.5 C184.75,218 189,221 193,224.5 C197,228 203,234.5 205,236.5" fill="none" stroke="#1a5ea6" stroke-width="1.5" stroke-linejoin="round" stroke-linecap="round"/></g><line x1="45" y1="331.5" x2="97.1" y2="331.5" stroke="#000" stroke-width="0.9"/><path d="M100.6,331.5 L96.6,333.1 L96.6,329.9 Z" fill="#000"/><line x1="29.7" y1="193.8" x2="205.6" y2="193.8" stroke="#5c5c5c" stroke-width="1.05"/><line x1="29.7" y1="380.2" x2="205.6" y2="380.2" stroke="#5c5c5c" stroke-width="1.05"/><line x1="30.3" y1="193.8" x2="30.3" y2="380.2" stroke="#8c8c8c" stroke-width="1.4"/><line x1="205" y1="193.8" x2="205" y2="380.2" stroke="#8c8c8c" stroke-width="1.4"/><line x1="28.3" y1="207.7" x2="30.3" y2="207.7" stroke="#6e6e6e" stroke-width="0.8"/><text x="26.8" y="210.6" font-size="8.5" fill="#000" stroke="#000" stroke-width="0.1" text-anchor="end">1.2</text><line x1="28.3" y1="265.2" x2="30.3" y2="265.2" stroke="#6e6e6e" stroke-width="0.8"/><text x="26.8" y="268.1" font-size="8.5" fill="#000" stroke="#000" stroke-width="0.1" text-anchor="end">0.8</text><line x1="28.3" y1="322.7" x2="30.3" y2="322.7" stroke="#6e6e6e" stroke-width="0.8"/><text x="26.8" y="325.6" font-size="8.5" fill="#000" stroke="#000" stroke-width="0.1" text-anchor="end">0.4</text><line x1="30" y1="380.2" x2="30" y2="382.4" stroke="#6e6e6e" stroke-width="0.8"/><text x="30" y="391.3" font-size="8.5" fill="#000" stroke="#000" stroke-width="0.1" text-anchor="middle">22100</text><line x1="64.9" y1="380.2" x2="64.9" y2="382.4" stroke="#6e6e6e" stroke-width="0.8"/><text x="64.9" y="391.3" font-size="8.5" fill="#000" stroke="#000" stroke-width="0.1" text-anchor="middle">22110</text><line x1="99.8" y1="380.2" x2="99.8" y2="382.4" stroke="#6e6e6e" stroke-width="0.8"/><text x="99.8" y="391.3" font-size="8.5" fill="#000" stroke="#000" stroke-width="0.1" text-anchor="middle">22120</text><line x1="134.7" y1="380.2" x2="134.7" y2="382.4" stroke="#6e6e6e" stroke-width="0.8"/><text x="134.7" y="391.3" font-size="8.5" fill="#000" stroke="#000" stroke-width="0.1" text-anchor="middle">22130</text><line x1="169.6" y1="380.2" x2="169.6" y2="382.4" stroke="#6e6e6e" stroke-width="0.8"/><text x="169.6" y="391.3" font-size="8.5" fill="#000" stroke="#000" stroke-width="0.1" text-anchor="middle">22140</text><line x1="204.5" y1="380.2" x2="204.5" y2="382.4" stroke="#6e6e6e" stroke-width="0.8"/><text x="204.5" y="391.3" font-size="8.5" fill="#000" stroke="#000" stroke-width="0.1" text-anchor="middle">22150</text><text x="117.5" y="405" font-size="8.5" fill="#000" stroke="#000" stroke-width="0.1" text-anchor="middle">Energy (eV)</text><text x="11.3" y="282" font-size="8.5" fill="#000" stroke="#000" stroke-width="0.1" text-anchor="middle" transform="rotate(-90 11.3 282)">Normalized absorption (a.u.)</text><line x1="125.2" y1="301" x2="145" y2="301" stroke="#ff1f1f" stroke-width="1.5"/><text x="147.3" y="303.9" font-size="8.5" fill="#000" stroke="#000" stroke-width="0.1" text-anchor="start">MnBTC-Ru</text><line x1="125.2" y1="311.2" x2="145" y2="311.2" stroke="#68abd3" stroke-width="1.5"/><text x="147.3" y="314.1" font-size="8.5" fill="#000" stroke="#000" stroke-width="0.1" text-anchor="start">Ru foil</text><line x1="125.2" y1="321.3" x2="145" y2="321.3" stroke="#808080" stroke-width="1.5"/><text x="147.3" y="324.2" font-size="8.5" fill="#000" stroke="#000" stroke-width="0.1" text-anchor="start">RuCl<tspan font-size="5.5" dy="1.5">3</tspan></text><line x1="125.2" y1="333.3" x2="145" y2="333.3" stroke="#1a5ea6" stroke-width="1.5"/><text x="147.3" y="336.2" font-size="8.5" fill="#000" stroke="#000" stroke-width="0.1" text-anchor="start">RuO<tspan font-size="5.5" dy="1.5">2</tspan></text><line x1="260.5" y1="211" x2="341.32" y2="211" stroke="#3a7dc0" stroke-width="0.9" stroke-dasharray="3,2"/><line x1="341.32" y1="211" x2="341.32" y2="380.3" stroke="#3a7dc0" stroke-width="0.9" stroke-dasharray="3,2"/><line x1="260.5" y1="253" x2="323.29" y2="253" stroke="#777" stroke-width="0.9" stroke-dasharray="3,2"/><line x1="323.29" y1="253" x2="323.29" y2="380.3" stroke="#777" stroke-width="0.9" stroke-dasharray="3,2"/><line x1="260.5" y1="295.6" x2="302.38" y2="295.6" stroke="#ff3b3b" stroke-width="1.1" stroke-dasharray="3,2"/><line x1="302.38" y1="295.6" x2="302.38" y2="380.3" stroke="#ff3b3b" stroke-width="1.1" stroke-dasharray="3,2"/><line x1="260.5" y1="363.7" x2="269.2" y2="363.7" stroke="#6aaad2" stroke-width="0.9" stroke-dasharray="3,2"/><line x1="269.2" y1="363.7" x2="269.2" y2="380.3" stroke="#6aaad2" stroke-width="0.9" stroke-dasharray="3,2"/><line x1="269.2" y1="363.7" x2="341.32" y2="211" stroke="#111" stroke-width="1.1"/><circle cx="269.2" cy="363.7" r="3.8" fill="#fff" stroke="#6aaad2" stroke-width="1.1"/><circle cx="302.38" cy="295.6" r="3.8" fill="#fff" stroke="#ff2a2a" stroke-width="1.2"/><circle cx="323.29" cy="253" r="3.8" fill="#fff" stroke="#9a9a9a" stroke-width="1.1"/><circle cx="341.32" cy="211" r="3.8" fill="#fff" stroke="#2a6fb5" stroke-width="1.2"/><line x1="259.9" y1="193.7" x2="350.9" y2="193.7" stroke="#5c5c5c" stroke-width="1.05"/><line x1="259.9" y1="380.3" x2="350.9" y2="380.3" stroke="#5c5c5c" stroke-width="1.05"/><line x1="260.5" y1="193.7" x2="260.5" y2="380.3" stroke="#8c8c8c" stroke-width="1.4"/><line x1="350.3" y1="193.7" x2="350.3" y2="380.3" stroke="#8c8c8c" stroke-width="1.4"/><line x1="258.3" y1="380.2" x2="260.5" y2="380.2" stroke="#6e6e6e" stroke-width="0.8"/><text x="257" y="383.1" font-size="8.5" fill="#000" stroke="#000" stroke-width="0.1" text-anchor="end">22114</text><line x1="259.2" y1="363.28" x2="260.5" y2="363.28" stroke="#6e6e6e" stroke-width="0.8"/><line x1="258.3" y1="346.36" x2="260.5" y2="346.36" stroke="#6e6e6e" stroke-width="0.8"/><text x="257" y="349.26" font-size="8.5" fill="#000" stroke="#000" stroke-width="0.1" text-anchor="end">22116</text><line x1="259.2" y1="329.44" x2="260.5" y2="329.44" stroke="#6e6e6e" stroke-width="0.8"/><line x1="258.3" y1="312.52" x2="260.5" y2="312.52" stroke="#6e6e6e" stroke-width="0.8"/><text x="257" y="315.42" font-size="8.5" fill="#000" stroke="#000" stroke-width="0.1" text-anchor="end">22118</text><line x1="259.2" y1="295.6" x2="260.5" y2="295.6" stroke="#6e6e6e" stroke-width="0.8"/><line x1="258.3" y1="278.68" x2="260.5" y2="278.68" stroke="#6e6e6e" stroke-width="0.8"/><text x="257" y="281.58" font-size="8.5" fill="#000" stroke="#000" stroke-width="0.1" text-anchor="end">22120</text><line x1="259.2" y1="261.76" x2="260.5" y2="261.76" stroke="#6e6e6e" stroke-width="0.8"/><line x1="258.3" y1="244.84" x2="260.5" y2="244.84" stroke="#6e6e6e" stroke-width="0.8"/><text x="257" y="247.74" font-size="8.5" fill="#000" stroke="#000" stroke-width="0.1" text-anchor="end">22122</text><line x1="259.2" y1="227.92" x2="260.5" y2="227.92" stroke="#6e6e6e" stroke-width="0.8"/><line x1="258.3" y1="211" x2="260.5" y2="211" stroke="#6e6e6e" stroke-width="0.8"/><text x="257" y="213.9" font-size="8.5" fill="#000" stroke="#000" stroke-width="0.1" text-anchor="end">22124</text><line x1="269.2" y1="380.3" x2="269.2" y2="382.5" stroke="#6e6e6e" stroke-width="0.8"/><text x="269.2" y="392.3" font-size="8.5" fill="#000" stroke="#000" stroke-width="0.1" text-anchor="middle">0</text><line x1="287.23" y1="380.3" x2="287.23" y2="382.5" stroke="#6e6e6e" stroke-width="0.8"/><text x="287.23" y="392.3" font-size="8.5" fill="#000" stroke="#000" stroke-width="0.1" text-anchor="middle">1</text><line x1="305.26" y1="380.3" x2="305.26" y2="382.5" stroke="#6e6e6e" stroke-width="0.8"/><text x="305.26" y="392.3" font-size="8.5" fill="#000" stroke="#000" stroke-width="0.1" text-anchor="middle">2</text><line x1="323.29" y1="380.3" x2="323.29" y2="382.5" stroke="#6e6e6e" stroke-width="0.8"/><text x="323.29" y="392.3" font-size="8.5" fill="#000" stroke="#000" stroke-width="0.1" text-anchor="middle">3</text><line x1="341.32" y1="380.3" x2="341.32" y2="382.5" stroke="#6e6e6e" stroke-width="0.8"/><text x="341.32" y="392.3" font-size="8.5" fill="#000" stroke="#000" stroke-width="0.1" text-anchor="middle">4</text><text x="305.5" y="402.5" font-size="8.5" fill="#000" stroke="#000" stroke-width="0.1" text-anchor="middle">Valence</text><text x="229" y="286.5" font-size="8.5" fill="#000" stroke="#000" stroke-width="0.1" text-anchor="middle" transform="rotate(-90 229 286.5)"><tspan font-style="italic">K</tspan> edge energy (eV)</text><text x="316.6" y="205.5" font-size="8.5" fill="#2a6fb5" stroke="#2a6fb5" stroke-width="0.1" text-anchor="start">RuO<tspan font-size="5.5" dy="1.5">2</tspan></text><text x="298.8" y="243.4" font-size="8.5" fill="#9a9a9a" stroke="#9a9a9a" stroke-width="0.1" text-anchor="start">RuCl<tspan font-size="5.5" dy="1.5">3</tspan></text><text x="267.7" y="275" font-size="8.5" fill="#ff1f1f" stroke="#ff1f1f" stroke-width="0.1" text-anchor="start">MnBTC-Ru</text><text x="278.8" y="288.3" font-size="8.5" fill="#ff1f1f" stroke="#ff1f1f" stroke-width="0.1" text-anchor="start">+1.84</text><text x="274.7" y="364.7" font-size="8.5" fill="#6aaad2" stroke="#6aaad2" stroke-width="0.1" text-anchor="start">Ru foil</text><defs><filter id="blur1" x="-50%" y="-50%" width="200%" height="200%"><feGaussianBlur stdDeviation="1"/></filter><filter id="blur1_5" x="-50%" y="-50%" width="200%" height="200%"><feGaussianBlur stdDeviation="1.5"/></filter><filter id="blur2" x="-50%" y="-50%" width="200%" height="200%"><feGaussianBlur stdDeviation="2"/></filter><filter id="blur2_5" x="-50%" y="-50%" width="200%" height="200%"><feGaussianBlur stdDeviation="2.5"/></filter><filter id="blur3" x="-50%" y="-50%" width="200%" height="200%"><feGaussianBlur stdDeviation="3"/></filter><filter id="blur4" x="-50%" y="-50%" width="200%" height="200%"><feGaussianBlur stdDeviation="4"/></filter><filter id="blur5" x="-50%" y="-50%" width="200%" height="200%"><feGaussianBlur stdDeviation="5"/></filter><filter id="blur6" x="-50%" y="-50%" width="200%" height="200%"><feGaussianBlur stdDeviation="6"/></filter><linearGradient id="cbgrad" x1="0" y1="0" x2="0" y2="1"><stop offset="0" stop-color="#1a5aa8"/><stop offset="0.25" stop-color="#7a7a6a"/><stop offset="0.45" stop-color="#f0a040"/><stop offset="0.75" stop-color="#f6f2ea"/><stop offset="1" stop-color="#69c2cf"/></linearGradient></defs><clipPath id="clipF1"><rect x="393.9" y="195.4" width="122.5" height="82.1"/></clipPath><g clip-path="url(#clipF1)"><rect x="393.9" y="195.4" width="122.5" height="82.1" fill="#6bc3cf" stroke="none" stroke-width="1"/><g filter="url(#blur6)"><ellipse cx="459" cy="225" rx="50" ry="28" fill="#a9dde5" opacity="0.9"/><ellipse cx="460" cy="205" rx="34" ry="14" fill="#a9dde5" opacity="0.8"/></g><g filter="url(#blur3)"><ellipse cx="462" cy="229" rx="41" ry="14.9" fill="#f6fbfb" opacity="1" transform="rotate(-4 462 229)"/><ellipse cx="443" cy="240" rx="17.3" ry="6.9" fill="#f6fbfb" opacity="0.9"/><ellipse cx="460" cy="210" rx="22" ry="8" fill="#d4eef1" opacity="0.7"/></g><g filter="url(#blur1_5)"><ellipse cx="452.7" cy="212.2" rx="2.6" ry="2" fill="#6bc3cf" opacity="0.9"/><ellipse cx="467.2" cy="213.1" rx="2.6" ry="2" fill="#6bc3cf" opacity="0.9"/><ellipse cx="481.7" cy="213.1" rx="2.6" ry="2" fill="#6bc3cf" opacity="0.9"/><ellipse cx="457.3" cy="199.5" rx="2.6" ry="2" fill="#6bc3cf" opacity="0.8"/><ellipse cx="480.8" cy="198.6" rx="2.6" ry="2" fill="#6bc3cf" opacity="0.8"/><ellipse cx="438.3" cy="236.6" rx="5" ry="1.8" fill="#6bc3cf" opacity="0.8"/><ellipse cx="476" cy="241.5" rx="8" ry="1.5" fill="#8fd3dc" opacity="0.8"/></g><g filter="url(#blur3)"><ellipse cx="466" cy="229" rx="34.2" ry="12.2" fill="#f6dcb6" opacity="1" transform="rotate(-4 466 229)"/></g><g filter="url(#blur2_5)"><ellipse cx="466" cy="229" rx="29" ry="9" fill="#f19a38" opacity="1" transform="rotate(-4 466 229)"/></g><g filter="url(#blur2)"><ellipse cx="467.2" cy="229.4" rx="13.4" ry="5.3" fill="#1d5da8" opacity="1"/></g></g><line x1="393.9" y1="229.4" x2="465.5" y2="229.4" stroke="#fff" stroke-width="1.0" stroke-dasharray="2,1.5"/><line x1="465.5" y1="229.4" x2="465.5" y2="277.5" stroke="#fff" stroke-width="1.0" stroke-dasharray="2,1.5"/><text x="460" y="226.2" font-size="8.5" fill="#fff" stroke="#fff" stroke-width="0.1" text-anchor="start">Ru-Ru</text><text x="401.4" y="205.9" font-size="8.5" fill="#000" stroke="#000" stroke-width="0.1" text-anchor="start">Ru foil</text><line x1="393.3" y1="195.4" x2="517" y2="195.4" stroke="#5c5c5c" stroke-width="1.05"/><line x1="393.3" y1="277.5" x2="517" y2="277.5" stroke="#5c5c5c" stroke-width="1.05"/><line x1="393.9" y1="195.4" x2="393.9" y2="277.5" stroke="#8c8c8c" stroke-width="1.4"/><line x1="516.4" y1="195.4" x2="516.4" y2="277.5" stroke="#8c8c8c" stroke-width="1.4"/><rect x="518.7" y="206" width="3" height="60.6" fill="url(#cbgrad)"/><text x="522.9" y="209.8" font-size="7.4" fill="#000" stroke="#000" stroke-width="0.1" text-anchor="start">1.53</text><text x="522.9" y="221.32" font-size="7.4" fill="#000" stroke="#000" stroke-width="0.1" text-anchor="start">1.22</text><text x="522.9" y="232.84" font-size="7.4" fill="#000" stroke="#000" stroke-width="0.1" text-anchor="start">0.92</text><text x="522.9" y="244.36" font-size="7.4" fill="#000" stroke="#000" stroke-width="0.1" text-anchor="start">0.61</text><text x="522.9" y="255.88" font-size="7.4" fill="#000" stroke="#000" stroke-width="0.1" text-anchor="start">0.31</text><text x="522.9" y="267.4" font-size="7.4" fill="#000" stroke="#000" stroke-width="0.1" text-anchor="start">0.00</text><clipPath id="clipF2"><rect x="541.9" y="195.4" width="122.6" height="82.1"/></clipPath><g clip-path="url(#clipF2)"><rect x="541.9" y="195.4" width="122.6" height="82.1" fill="#6bc3cf" stroke="none" stroke-width="1"/><rect x="541.9" y="273.5" width="122.6" height="1.6" fill="#8fd3dc" stroke="none" stroke-width="1" opacity="0.3"/><rect x="541.9" y="268.5" width="122.6" height="1.6" fill="#8fd3dc" stroke="none" stroke-width="1" opacity="0.3"/><rect x="541.9" y="263.5" width="122.6" height="1.6" fill="#8fd3dc" stroke="none" stroke-width="1" opacity="0.3"/><rect x="541.9" y="258.5" width="122.6" height="1.6" fill="#8fd3dc" stroke="none" stroke-width="1" opacity="0.3"/><rect x="541.9" y="253.5" width="122.6" height="1.6" fill="#8fd3dc" stroke="none" stroke-width="1" opacity="0.3"/><rect x="541.9" y="248.5" width="122.6" height="1.6" fill="#8fd3dc" stroke="none" stroke-width="1" opacity="0.3"/><g filter="url(#blur6)"><ellipse cx="592" cy="250" rx="55" ry="16" fill="#a9dde5" opacity="0.9"/><ellipse cx="620" cy="215" rx="26" ry="24" fill="#a9dde5" opacity="0.9"/><ellipse cx="585" cy="232" rx="30" ry="8" fill="#a9dde5" opacity="0.7"/></g><g filter="url(#blur3)"><ellipse cx="590" cy="251" rx="51.8" ry="12.6" fill="#f6fbfb" opacity="1"/><ellipse cx="622" cy="221" rx="20.5" ry="17.2" fill="#f6fbfb" opacity="1"/><ellipse cx="620" cy="200" rx="13" ry="9.2" fill="#f6fbfb" opacity="0.8"/></g><g filter="url(#blur1_5)"><ellipse cx="608" cy="205.9" rx="2.6" ry="2" fill="#6bc3cf" opacity="0.9"/><ellipse cx="617" cy="200.4" rx="2.6" ry="2" fill="#6bc3cf" opacity="0.9"/><ellipse cx="636" cy="239.4" rx="7" ry="1.6" fill="#6bc3cf" opacity="0.8"/><ellipse cx="596" cy="238" rx="14" ry="2" fill="#8fd3dc" opacity="0.6"/></g><g filter="url(#blur3)"><ellipse cx="588" cy="251.1" rx="44.8" ry="9.4" fill="#f6dcb6" opacity="1"/><ellipse cx="623.5" cy="222.5" rx="12.5" ry="10.5" fill="#f6dcb6" opacity="1"/></g><g filter="url(#blur2_5)"><ellipse cx="588" cy="251.1" rx="38" ry="7" fill="#f19a38" opacity="1"/><ellipse cx="623.5" cy="222.5" rx="10" ry="7.8" fill="#f19a38" opacity="1"/></g><g filter="url(#blur2)"><ellipse cx="589.9" cy="251.5" rx="21.3" ry="4.1" fill="#1d5da8" opacity="1"/><ellipse cx="622" cy="221.5" rx="5.5" ry="4" fill="#9a7c56" opacity="0.85"/></g></g><line x1="541.9" y1="219.1" x2="620.4" y2="219.1" stroke="#fff" stroke-width="1.0" stroke-dasharray="2,1.5"/><line x1="620.4" y1="219.1" x2="620.4" y2="277.5" stroke="#fff" stroke-width="1.0" stroke-dasharray="2,1.5"/><line x1="541.9" y1="252" x2="587.5" y2="252" stroke="#fff" stroke-width="1.0" stroke-dasharray="2,1.5"/><line x1="587.5" y1="252" x2="587.5" y2="277.5" stroke="#fff" stroke-width="1.0" stroke-dasharray="2,1.5"/><text x="586.5" y="251.3" font-size="8.5" fill="#fff" stroke="#fff" stroke-width="0.1" text-anchor="start">Ru-O</text><text x="611.6" y="217.4" font-size="8.5" fill="#fff" stroke="#fff" stroke-width="0.1" text-anchor="start">Ru-Ru/Ru-Mn</text><text x="549.4" y="205.9" font-size="8.5" fill="#000" stroke="#000" stroke-width="0.1" text-anchor="start">MnBTC-Ru</text><line x1="541.3" y1="195.4" x2="665.1" y2="195.4" stroke="#5c5c5c" stroke-width="1.05"/><line x1="541.3" y1="277.5" x2="665.1" y2="277.5" stroke="#5c5c5c" stroke-width="1.05"/><line x1="541.9" y1="195.4" x2="541.9" y2="277.5" stroke="#8c8c8c" stroke-width="1.4"/><line x1="664.5" y1="195.4" x2="664.5" y2="277.5" stroke="#8c8c8c" stroke-width="1.4"/><rect x="666.4" y="204.5" width="3" height="61" fill="url(#cbgrad)"/><text x="670.6" y="208.3" font-size="7.4" fill="#000" stroke="#000" stroke-width="0.1" text-anchor="start">0.34</text><text x="670.6" y="219.9" font-size="7.4" fill="#000" stroke="#000" stroke-width="0.1" text-anchor="start">0.27</text><text x="670.6" y="231.5" font-size="7.4" fill="#000" stroke="#000" stroke-width="0.1" text-anchor="start">0.20</text><text x="670.6" y="243.1" font-size="7.4" fill="#000" stroke="#000" stroke-width="0.1" text-anchor="start">0.14</text><text x="670.6" y="254.7" font-size="7.4" fill="#000" stroke="#000" stroke-width="0.1" text-anchor="start">0.07</text><text x="670.6" y="266.3" font-size="7.4" fill="#000" stroke="#000" stroke-width="0.1" text-anchor="start">0.00</text><clipPath id="clipF3"><rect x="393.9" y="296.8" width="122.5" height="82.2"/></clipPath><g clip-path="url(#clipF3)"><rect x="393.9" y="296.8" width="122.5" height="82.2" fill="#6bc3cf" stroke="none" stroke-width="1"/><g filter="url(#blur6)"><ellipse cx="452" cy="338" rx="52" ry="20" fill="#a9dde5" opacity="0.9" transform="rotate(-10 452 338)"/><ellipse cx="462" cy="312" rx="34" ry="16" fill="#a9dde5" opacity="0.85"/></g><g filter="url(#blur3)"><ellipse cx="447" cy="344" rx="47.5" ry="14.9" fill="#f6fbfb" opacity="1" transform="rotate(-12 447 344)"/><ellipse cx="467" cy="314" rx="13" ry="5.8" fill="#f6fbfb" opacity="0.7"/></g><g filter="url(#blur1_5)"><ellipse cx="458" cy="325" rx="2.8" ry="2" fill="#6bc3cf" opacity="0.8"/><ellipse cx="475.4" cy="325" rx="2.8" ry="2" fill="#6bc3cf" opacity="0.8"/><ellipse cx="447.3" cy="311.4" rx="2.6" ry="2" fill="#6bc3cf" opacity="0.6"/><ellipse cx="487" cy="345" rx="8" ry="1.6" fill="#6bc3cf" opacity="0.8"/><ellipse cx="452" cy="352.5" rx="10" ry="1.4" fill="#6bc3cf" opacity="0.7"/></g><g filter="url(#blur3)"><ellipse cx="443.7" cy="341.3" rx="36.6" ry="10.8" fill="#f6dcb6" opacity="1" transform="rotate(-12 443.7 341.3)"/></g><g filter="url(#blur2_5)"><ellipse cx="443.7" cy="341.3" rx="31" ry="8" fill="#f19a38" opacity="1" transform="rotate(-12 443.7 341.3)"/></g><g filter="url(#blur2)"><ellipse cx="441.9" cy="342.2" rx="13.4" ry="4.6" fill="#1d5da8" opacity="1" transform="rotate(-12 441.9 342.2)"/></g></g><line x1="393.9" y1="341.5" x2="449.6" y2="341.5" stroke="#fff" stroke-width="1.0" stroke-dasharray="2,1.5"/><line x1="449.6" y1="341.5" x2="449.6" y2="379" stroke="#fff" stroke-width="1.0" stroke-dasharray="2,1.5"/><text x="451.7" y="342.1" font-size="8.5" fill="#fff" stroke="#fff" stroke-width="0.1" text-anchor="start">Ru-Cl</text><text x="401.4" y="307.3" font-size="8.5" fill="#000" stroke="#000" stroke-width="0.1" text-anchor="start">RuCl<tspan font-size="5.5" dy="1.5">3</tspan></text><line x1="393.3" y1="296.8" x2="517" y2="296.8" stroke="#5c5c5c" stroke-width="1.05"/><line x1="393.3" y1="379" x2="517" y2="379" stroke="#5c5c5c" stroke-width="1.05"/><line x1="393.9" y1="296.8" x2="393.9" y2="379" stroke="#8c8c8c" stroke-width="1.4"/><line x1="516.4" y1="296.8" x2="516.4" y2="379" stroke="#8c8c8c" stroke-width="1.4"/><rect x="518.7" y="306" width="3" height="60.6" fill="url(#cbgrad)"/><text x="522.9" y="309.8" font-size="7.4" fill="#000" stroke="#000" stroke-width="0.1" text-anchor="start">0.63</text><text x="522.9" y="321.32" font-size="7.4" fill="#000" stroke="#000" stroke-width="0.1" text-anchor="start">0.50</text><text x="522.9" y="332.84" font-size="7.4" fill="#000" stroke="#000" stroke-width="0.1" text-anchor="start">0.38</text><text x="522.9" y="344.36" font-size="7.4" fill="#000" stroke="#000" stroke-width="0.1" text-anchor="start">0.25</text><text x="522.9" y="355.88" font-size="7.4" fill="#000" stroke="#000" stroke-width="0.1" text-anchor="start">0.13</text><text x="522.9" y="367.4" font-size="7.4" fill="#000" stroke="#000" stroke-width="0.1" text-anchor="start">0.00</text><clipPath id="clipF4"><rect x="541.9" y="296.8" width="122.6" height="82.2"/></clipPath><g clip-path="url(#clipF4)"><rect x="541.9" y="296.8" width="122.6" height="82.2" fill="#6bc3cf" stroke="none" stroke-width="1"/><rect x="541.9" y="375" width="122.6" height="1.6" fill="#8fd3dc" stroke="none" stroke-width="1" opacity="0.3"/><rect x="541.9" y="370" width="122.6" height="1.6" fill="#8fd3dc" stroke="none" stroke-width="1" opacity="0.3"/><rect x="541.9" y="365" width="122.6" height="1.6" fill="#8fd3dc" stroke="none" stroke-width="1" opacity="0.3"/><rect x="541.9" y="360" width="122.6" height="1.6" fill="#8fd3dc" stroke="none" stroke-width="1" opacity="0.3"/><rect x="541.9" y="355" width="122.6" height="1.6" fill="#8fd3dc" stroke="none" stroke-width="1" opacity="0.3"/><rect x="541.9" y="350" width="122.6" height="1.6" fill="#8fd3dc" stroke="none" stroke-width="1" opacity="0.3"/><g filter="url(#blur6)"><ellipse cx="593" cy="350" rx="56" ry="16" fill="#a9dde5" opacity="0.9"/><ellipse cx="613" cy="314" rx="36" ry="22" fill="#a9dde5" opacity="0.9"/></g><g filter="url(#blur3)"><ellipse cx="590" cy="350.5" rx="51.8" ry="13.8" fill="#f6fbfb" opacity="1" transform="rotate(-3 590 350.5)"/><ellipse cx="613" cy="314" rx="32.4" ry="16.1" fill="#f6fbfb" opacity="1"/></g><g filter="url(#blur1_5)"><ellipse cx="606" cy="298.7" rx="2.6" ry="2" fill="#6bc3cf" opacity="0.9"/><ellipse cx="617" cy="298.7" rx="2.6" ry="2" fill="#6bc3cf" opacity="0.9"/><ellipse cx="587" cy="331" rx="3" ry="2" fill="#6bc3cf" opacity="0.7"/><ellipse cx="609" cy="336" rx="3" ry="2" fill="#6bc3cf" opacity="0.7"/><ellipse cx="579" cy="338.5" rx="3" ry="2" fill="#6bc3cf" opacity="0.6"/><ellipse cx="632" cy="358" rx="9" ry="1.6" fill="#6bc3cf" opacity="0.7"/></g><g filter="url(#blur3)"><ellipse cx="586.3" cy="350.3" rx="44.8" ry="10.8" fill="#f6dcb6" opacity="1" transform="rotate(-3 586.3 350.3)"/><ellipse cx="613.4" cy="314.1" rx="28.3" ry="12.8" fill="#f6dcb6" opacity="1" transform="rotate(-5 613.4 314.1)"/></g><g filter="url(#blur2_5)"><ellipse cx="586.3" cy="350.3" rx="38" ry="8" fill="#f19a38" opacity="1" transform="rotate(-3 586.3 350.3)"/><ellipse cx="613.4" cy="314.1" rx="24" ry="9.5" fill="#f19a38" opacity="1" transform="rotate(-5 613.4 314.1)"/></g><g filter="url(#blur2)"><ellipse cx="586" cy="350.3" rx="19" ry="4.1" fill="#1d5da8" opacity="1" transform="rotate(-3 586 350.3)"/><ellipse cx="619.7" cy="322.2" rx="3" ry="2.8" fill="#f6fbfb" opacity="0.9"/></g></g><line x1="541.9" y1="313" x2="617.1" y2="313" stroke="#fff" stroke-width="1.0" stroke-dasharray="2,1.5"/><line x1="617.1" y1="313" x2="617.1" y2="379" stroke="#fff" stroke-width="1.0" stroke-dasharray="2,1.5"/><line x1="541.9" y1="350.2" x2="589.3" y2="350.2" stroke="#fff" stroke-width="1.0" stroke-dasharray="2,1.5"/><line x1="589.3" y1="350.2" x2="589.3" y2="379" stroke="#fff" stroke-width="1.0" stroke-dasharray="2,1.5"/><text x="590.8" y="351.3" font-size="8.5" fill="#fff" stroke="#fff" stroke-width="0.1" text-anchor="start">Ru-O</text><text x="615" y="313" font-size="8.5" fill="#fff" stroke="#fff" stroke-width="0.1" text-anchor="start">Ru-Ru</text><text x="549.4" y="307.3" font-size="8.5" fill="#000" stroke="#000" stroke-width="0.1" text-anchor="start">RuO<tspan font-size="5.5" dy="1.5">2</tspan></text><line x1="541.3" y1="296.8" x2="665.1" y2="296.8" stroke="#5c5c5c" stroke-width="1.05"/><line x1="541.3" y1="379" x2="665.1" y2="379" stroke="#5c5c5c" stroke-width="1.05"/><line x1="541.9" y1="296.8" x2="541.9" y2="379" stroke="#8c8c8c" stroke-width="1.4"/><line x1="664.5" y1="296.8" x2="664.5" y2="379" stroke="#8c8c8c" stroke-width="1.4"/><rect x="666.4" y="306" width="3" height="60" fill="url(#cbgrad)"/><text x="670.6" y="309.8" font-size="7.4" fill="#000" stroke="#000" stroke-width="0.1" text-anchor="start">0.69</text><text x="670.6" y="321.2" font-size="7.4" fill="#000" stroke="#000" stroke-width="0.1" text-anchor="start">0.56</text><text x="670.6" y="332.6" font-size="7.4" fill="#000" stroke="#000" stroke-width="0.1" text-anchor="start">0.42</text><text x="670.6" y="344" font-size="7.4" fill="#000" stroke="#000" stroke-width="0.1" text-anchor="start">0.28</text><text x="670.6" y="355.4" font-size="7.4" fill="#000" stroke="#000" stroke-width="0.1" text-anchor="start">0.14</text><text x="670.6" y="366.8" font-size="7.4" fill="#000" stroke="#000" stroke-width="0.1" text-anchor="start">0.00</text><line x1="391.9" y1="277.5" x2="393.9" y2="277.5" stroke="#555" stroke-width="0.7"/><text x="391.7" y="280.4" font-size="8.5" fill="#000" stroke="#000" stroke-width="0.1" text-anchor="end">0</text><line x1="392.7" y1="267.24" x2="393.9" y2="267.24" stroke="#555" stroke-width="0.7"/><line x1="391.9" y1="256.98" x2="393.9" y2="256.98" stroke="#555" stroke-width="0.7"/><text x="391.7" y="259.88" font-size="8.5" fill="#000" stroke="#000" stroke-width="0.1" text-anchor="end">1</text><line x1="392.7" y1="246.71" x2="393.9" y2="246.71" stroke="#555" stroke-width="0.7"/><line x1="391.9" y1="236.45" x2="393.9" y2="236.45" stroke="#555" stroke-width="0.7"/><text x="391.7" y="239.35" font-size="8.5" fill="#000" stroke="#000" stroke-width="0.1" text-anchor="end">2</text><line x1="392.7" y1="226.19" x2="393.9" y2="226.19" stroke="#555" stroke-width="0.7"/><line x1="391.9" y1="215.93" x2="393.9" y2="215.93" stroke="#555" stroke-width="0.7"/><text x="391.7" y="218.83" font-size="8.5" fill="#000" stroke="#000" stroke-width="0.1" text-anchor="end">3</text><line x1="392.7" y1="205.66" x2="393.9" y2="205.66" stroke="#555" stroke-width="0.7"/><line x1="391.9" y1="195.4" x2="393.9" y2="195.4" stroke="#555" stroke-width="0.7"/><text x="391.7" y="198.3" font-size="8.5" fill="#000" stroke="#000" stroke-width="0.1" text-anchor="end">4</text><line x1="539.9" y1="277.5" x2="541.9" y2="277.5" stroke="#555" stroke-width="0.7"/><line x1="540.7" y1="267.24" x2="541.9" y2="267.24" stroke="#555" stroke-width="0.7"/><line x1="539.9" y1="256.98" x2="541.9" y2="256.98" stroke="#555" stroke-width="0.7"/><line x1="540.7" y1="246.71" x2="541.9" y2="246.71" stroke="#555" stroke-width="0.7"/><line x1="539.9" y1="236.45" x2="541.9" y2="236.45" stroke="#555" stroke-width="0.7"/><line x1="540.7" y1="226.19" x2="541.9" y2="226.19" stroke="#555" stroke-width="0.7"/><line x1="539.9" y1="215.93" x2="541.9" y2="215.93" stroke="#555" stroke-width="0.7"/><line x1="540.7" y1="205.66" x2="541.9" y2="205.66" stroke="#555" stroke-width="0.7"/><line x1="539.9" y1="195.4" x2="541.9" y2="195.4" stroke="#555" stroke-width="0.7"/><line x1="391.9" y1="379" x2="393.9" y2="379" stroke="#555" stroke-width="0.7"/><text x="391.7" y="381.9" font-size="8.5" fill="#000" stroke="#000" stroke-width="0.1" text-anchor="end">0</text><line x1="392.7" y1="368.73" x2="393.9" y2="368.73" stroke="#555" stroke-width="0.7"/><line x1="391.9" y1="358.45" x2="393.9" y2="358.45" stroke="#555" stroke-width="0.7"/><text x="391.7" y="361.35" font-size="8.5" fill="#000" stroke="#000" stroke-width="0.1" text-anchor="end">1</text><line x1="392.7" y1="348.18" x2="393.9" y2="348.18" stroke="#555" stroke-width="0.7"/><line x1="391.9" y1="337.9" x2="393.9" y2="337.9" stroke="#555" stroke-width="0.7"/><text x="391.7" y="340.8" font-size="8.5" fill="#000" stroke="#000" stroke-width="0.1" text-anchor="end">2</text><line x1="392.7" y1="327.62" x2="393.9" y2="327.62" stroke="#555" stroke-width="0.7"/><line x1="391.9" y1="317.35" x2="393.9" y2="317.35" stroke="#555" stroke-width="0.7"/><text x="391.7" y="320.25" font-size="8.5" fill="#000" stroke="#000" stroke-width="0.1" text-anchor="end">3</text><line x1="392.7" y1="307.08" x2="393.9" y2="307.08" stroke="#555" stroke-width="0.7"/><line x1="391.9" y1="296.8" x2="393.9" y2="296.8" stroke="#555" stroke-width="0.7"/><text x="391.7" y="299.7" font-size="8.5" fill="#000" stroke="#000" stroke-width="0.1" text-anchor="end">4</text><line x1="539.9" y1="379" x2="541.9" y2="379" stroke="#555" stroke-width="0.7"/><line x1="540.7" y1="368.73" x2="541.9" y2="368.73" stroke="#555" stroke-width="0.7"/><line x1="539.9" y1="358.45" x2="541.9" y2="358.45" stroke="#555" stroke-width="0.7"/><line x1="540.7" y1="348.18" x2="541.9" y2="348.18" stroke="#555" stroke-width="0.7"/><line x1="539.9" y1="337.9" x2="541.9" y2="337.9" stroke="#555" stroke-width="0.7"/><line x1="540.7" y1="327.62" x2="541.9" y2="327.62" stroke="#555" stroke-width="0.7"/><line x1="539.9" y1="317.35" x2="541.9" y2="317.35" stroke="#555" stroke-width="0.7"/><line x1="540.7" y1="307.08" x2="541.9" y2="307.08" stroke="#555" stroke-width="0.7"/><line x1="539.9" y1="296.8" x2="541.9" y2="296.8" stroke="#555" stroke-width="0.7"/><line x1="393.9" y1="277.5" x2="393.9" y2="279.5" stroke="#555" stroke-width="0.7"/><line x1="406.15" y1="277.5" x2="406.15" y2="278.7" stroke="#555" stroke-width="0.7"/><line x1="418.4" y1="277.5" x2="418.4" y2="279.5" stroke="#555" stroke-width="0.7"/><line x1="430.65" y1="277.5" x2="430.65" y2="278.7" stroke="#555" stroke-width="0.7"/><line x1="442.9" y1="277.5" x2="442.9" y2="279.5" stroke="#555" stroke-width="0.7"/><line x1="455.15" y1="277.5" x2="455.15" y2="278.7" stroke="#555" stroke-width="0.7"/><line x1="467.4" y1="277.5" x2="467.4" y2="279.5" stroke="#555" stroke-width="0.7"/><line x1="479.65" y1="277.5" x2="479.65" y2="278.7" stroke="#555" stroke-width="0.7"/><line x1="491.9" y1="277.5" x2="491.9" y2="279.5" stroke="#555" stroke-width="0.7"/><line x1="504.15" y1="277.5" x2="504.15" y2="278.7" stroke="#555" stroke-width="0.7"/><line x1="516.4" y1="277.5" x2="516.4" y2="279.5" stroke="#555" stroke-width="0.7"/><line x1="541.9" y1="277.5" x2="541.9" y2="279.5" stroke="#555" stroke-width="0.7"/><line x1="554.15" y1="277.5" x2="554.15" y2="278.7" stroke="#555" stroke-width="0.7"/><line x1="566.4" y1="277.5" x2="566.4" y2="279.5" stroke="#555" stroke-width="0.7"/><line x1="578.65" y1="277.5" x2="578.65" y2="278.7" stroke="#555" stroke-width="0.7"/><line x1="590.9" y1="277.5" x2="590.9" y2="279.5" stroke="#555" stroke-width="0.7"/><line x1="603.15" y1="277.5" x2="603.15" y2="278.7" stroke="#555" stroke-width="0.7"/><line x1="615.4" y1="277.5" x2="615.4" y2="279.5" stroke="#555" stroke-width="0.7"/><line x1="627.65" y1="277.5" x2="627.65" y2="278.7" stroke="#555" stroke-width="0.7"/><line x1="639.9" y1="277.5" x2="639.9" y2="279.5" stroke="#555" stroke-width="0.7"/><line x1="652.15" y1="277.5" x2="652.15" y2="278.7" stroke="#555" stroke-width="0.7"/><line x1="664.4" y1="277.5" x2="664.4" y2="279.5" stroke="#555" stroke-width="0.7"/><line x1="393.9" y1="379" x2="393.9" y2="381" stroke="#555" stroke-width="0.7"/><text x="393.9" y="388.7" font-size="8.5" fill="#000" stroke="#000" stroke-width="0.1" text-anchor="middle">-5</text><line x1="406.15" y1="379" x2="406.15" y2="380.2" stroke="#555" stroke-width="0.7"/><line x1="418.4" y1="379" x2="418.4" y2="381" stroke="#555" stroke-width="0.7"/><text x="418.4" y="388.7" font-size="8.5" fill="#000" stroke="#000" stroke-width="0.1" text-anchor="middle">0</text><line x1="430.65" y1="379" x2="430.65" y2="380.2" stroke="#555" stroke-width="0.7"/><line x1="442.9" y1="379" x2="442.9" y2="381" stroke="#555" stroke-width="0.7"/><text x="442.9" y="388.7" font-size="8.5" fill="#000" stroke="#000" stroke-width="0.1" text-anchor="middle">5</text><line x1="455.15" y1="379" x2="455.15" y2="380.2" stroke="#555" stroke-width="0.7"/><line x1="467.4" y1="379" x2="467.4" y2="381" stroke="#555" stroke-width="0.7"/><text x="467.4" y="388.7" font-size="8.5" fill="#000" stroke="#000" stroke-width="0.1" text-anchor="middle">10</text><line x1="479.65" y1="379" x2="479.65" y2="380.2" stroke="#555" stroke-width="0.7"/><line x1="491.9" y1="379" x2="491.9" y2="381" stroke="#555" stroke-width="0.7"/><text x="491.9" y="388.7" font-size="8.5" fill="#000" stroke="#000" stroke-width="0.1" text-anchor="middle">15</text><line x1="504.15" y1="379" x2="504.15" y2="380.2" stroke="#555" stroke-width="0.7"/><line x1="516.4" y1="379" x2="516.4" y2="381" stroke="#555" stroke-width="0.7"/><text x="516.4" y="388.7" font-size="8.5" fill="#000" stroke="#000" stroke-width="0.1" text-anchor="middle">20</text><line x1="541.9" y1="379" x2="541.9" y2="381" stroke="#555" stroke-width="0.7"/><text x="541.9" y="388.7" font-size="8.5" fill="#000" stroke="#000" stroke-width="0.1" text-anchor="middle">-5</text><line x1="554.15" y1="379" x2="554.15" y2="380.2" stroke="#555" stroke-width="0.7"/><line x1="566.4" y1="379" x2="566.4" y2="381" stroke="#555" stroke-width="0.7"/><text x="566.4" y="388.7" font-size="8.5" fill="#000" stroke="#000" stroke-width="0.1" text-anchor="middle">0</text><line x1="578.65" y1="379" x2="578.65" y2="380.2" stroke="#555" stroke-width="0.7"/><line x1="590.9" y1="379" x2="590.9" y2="381" stroke="#555" stroke-width="0.7"/><text x="590.9" y="388.7" font-size="8.5" fill="#000" stroke="#000" stroke-width="0.1" text-anchor="middle">5</text><line x1="603.15" y1="379" x2="603.15" y2="380.2" stroke="#555" stroke-width="0.7"/><line x1="615.4" y1="379" x2="615.4" y2="381" stroke="#555" stroke-width="0.7"/><text x="615.4" y="388.7" font-size="8.5" fill="#000" stroke="#000" stroke-width="0.1" text-anchor="middle">10</text><line x1="627.65" y1="379" x2="627.65" y2="380.2" stroke="#555" stroke-width="0.7"/><line x1="639.9" y1="379" x2="639.9" y2="381" stroke="#555" stroke-width="0.7"/><text x="639.9" y="388.7" font-size="8.5" fill="#000" stroke="#000" stroke-width="0.1" text-anchor="middle">15</text><line x1="652.15" y1="379" x2="652.15" y2="380.2" stroke="#555" stroke-width="0.7"/><line x1="664.4" y1="379" x2="664.4" y2="381" stroke="#555" stroke-width="0.7"/><text x="664.4" y="388.7" font-size="8.5" fill="#000" stroke="#000" stroke-width="0.1" text-anchor="middle">20</text><text x="458.9" y="403" font-size="8.5" fill="#000" stroke="#000" stroke-width="0.1" text-anchor="middle"><tspan font-style="italic">k</tspan> (Å<tspan font-size="5.5" dy="-3">-1</tspan><tspan dy="3">)</tspan></text><text x="606.9" y="403" font-size="8.5" fill="#000" stroke="#000" stroke-width="0.1" text-anchor="middle"><tspan font-style="italic">k</tspan> (Å<tspan font-size="5.5" dy="-3">-1</tspan><tspan dy="3">)</tspan></text><text x="383" y="237" font-size="8" fill="#000" stroke="#000" stroke-width="0.1" text-anchor="middle" transform="rotate(-90 383 237)"><tspan font-style="italic">R</tspan> + Δ<tspan font-style="italic">R</tspan> (Å)</text><text x="383" y="338" font-size="8" fill="#000" stroke="#000" stroke-width="0.1" text-anchor="middle" transform="rotate(-90 383 338)"><tspan font-style="italic">R</tspan> + Δ<tspan font-style="italic">R</tspan> (Å)</text><clipPath id="clipG"><rect x="30.3" y="448" width="174.89999999999998" height="186.79999999999995"/></clipPath><g clip-path="url(#clipG)"><path d="M30.3,494.5 C31.92,494.63 37.5,495.5 40,495.3 C42.5,495.1 43.67,493.38 45.3,493.3 C46.93,493.22 48.18,494.8 49.8,494.8 C51.42,494.8 53.38,493.3 55,493.3 C56.62,493.3 57.75,495.05 59.5,494.8 C61.25,494.55 63.75,491.9 65.5,491.8 C67.25,491.7 68.25,494.55 70,494.2 C71.75,493.85 74.12,489.95 76,489.7 C77.88,489.45 79.03,494.27 81.3,492.7 C83.57,491.13 87.48,484 89.6,480.3 C91.72,476.6 92.5,473.8 94,470.5 C95.5,467.2 97.1,461.37 98.6,460.5 C100.1,459.63 101.63,462.38 103,465.3 C104.37,468.22 105.53,473.38 106.8,478 C108.07,482.62 109.23,490.95 110.6,493 C111.97,495.05 113.27,490.35 115,490.3 C116.73,490.25 118.45,493 121,492.7 C123.55,492.4 127.25,488.32 130.3,488.5 C133.35,488.68 136.43,493.42 139.3,493.8 C142.17,494.18 144.75,491.63 147.5,490.8 C150.25,489.97 153.42,488.68 155.8,488.8 C158.18,488.92 159.8,490.42 161.8,491.5 C163.8,492.58 165.93,495.17 167.8,495.3 C169.67,495.43 170.87,492.63 173,492.3 C175.13,491.97 177.6,492.93 180.6,493.3 C183.6,493.67 188,494.55 191,494.5 C194,494.45 196.23,493.12 198.6,493 C200.97,492.88 204.1,493.67 205.2,493.8" fill="none" stroke="#68abd3" stroke-width="1.5" stroke-linejoin="round" stroke-linecap="round"/><path d="M30.3,540.3 C30.92,540.8 32.5,543.37 34,543.3 C35.5,543.23 37.8,540.07 39.3,539.9 C40.8,539.73 41.5,542.65 43,542.3 C44.5,541.95 46.8,538.75 48.3,537.8 C49.8,536.85 50.5,538.8 52,536.6 C53.5,534.4 55.55,528.1 57.3,524.6 C59.05,521.1 61,518.37 62.5,515.6 C64,512.83 65.05,508.27 66.3,508 C67.55,507.73 68.63,510 70,514 C71.37,518 72.87,529.78 74.5,532 C76.13,534.22 78.05,527.03 79.8,527.3 C81.55,527.57 83.37,530.8 85,533.6 C86.63,536.4 87.83,544.28 89.6,544.1 C91.37,543.92 93.87,533.25 95.6,532.5 C97.33,531.75 98.27,540.92 100,539.6 C101.73,538.28 104,527.87 106,524.6 C108,521.33 110.45,521.13 112,520 C113.55,518.87 114.25,517.53 115.3,517.8 C116.35,518.07 117.18,518.73 118.3,521.6 C119.42,524.47 120.63,532 122,535 C123.37,538 124.75,539.33 126.5,539.6 C128.25,539.87 130.62,535.87 132.5,536.6 C134.38,537.33 136.05,544 137.8,544 C139.55,544 141,537.22 143,536.6 C145,535.98 147.8,540.3 149.8,540.3 C151.8,540.3 152.88,537.72 155,536.6 C157.12,535.48 160.23,533.6 162.5,533.6 C164.77,533.6 166.22,536.87 168.6,536.6 C170.98,536.33 174.3,531.77 176.8,532 C179.3,532.23 181.23,536.5 183.6,538 C185.97,539.5 188.77,540.5 191,541 C193.23,541.5 195.23,540.62 197,541 C198.77,541.38 200.23,543.42 201.6,543.3 C202.97,543.18 204.6,540.8 205.2,540.3" fill="none" stroke="#ff1f1f" stroke-width="1.5" stroke-linejoin="round" stroke-linecap="round"/><path d="M30.5,585.5 C32.22,585.5 38.3,585.55 40.8,585.5 C43.3,585.45 43.67,585.73 45.5,585.2 C47.33,584.67 49.97,582.65 51.8,582.3 C53.63,581.95 54.65,583.37 56.5,583.1 C58.35,582.83 61.05,580.3 62.9,580.7 C64.75,581.1 66.03,586.42 67.6,585.5 C69.17,584.58 70.47,578.48 72.3,575.2 C74.13,571.92 76.55,568.62 78.6,565.8 C80.65,562.98 82.75,558.43 84.6,558.3 C86.45,558.17 88.2,562.05 89.7,565 C91.2,567.95 92.42,572.45 93.6,576 C94.78,579.55 95.62,584.85 96.8,586.3 C97.98,587.75 99.27,584.63 100.7,584.7 C102.13,584.77 103.3,586.97 105.4,586.7 C107.5,586.43 110.87,583.8 113.3,583.1 C115.73,582.4 117.38,582.5 120,582.5 C122.62,582.5 125.8,582.6 129,583.1 C132.2,583.6 136.58,585.37 139.2,585.5 C141.82,585.63 142.47,583.85 144.7,583.9 C146.93,583.95 149.72,585.53 152.6,585.8 C155.48,586.07 158.85,585.35 162,585.5 C165.15,585.65 168.87,586.7 171.5,586.7 C174.13,586.7 174.9,585.5 177.8,585.5 C180.7,585.5 184.33,586.5 188.9,586.7 C193.47,586.9 202.48,586.7 205.2,586.7" fill="none" stroke="#808080" stroke-width="1.5" stroke-linejoin="round" stroke-linecap="round"/><path d="M30.5,626.5 C31.3,626.75 33.72,628.13 35.3,628 C36.88,627.87 38.57,625.7 40,625.7 C41.43,625.7 42.2,628.78 43.9,628 C45.6,627.22 48.22,622.17 50.2,621 C52.18,619.83 53.95,621.93 55.8,621 C57.65,620.07 59.6,616.85 61.3,615.4 C63,613.95 64.55,613.87 66,612.3 C67.45,610.73 68.77,608.32 70,606 C71.23,603.68 72.23,598.93 73.4,598.4 C74.57,597.87 75.73,599.7 77,602.8 C78.27,605.9 79.67,612.8 81,617 C82.33,621.2 83.55,626.28 85,628 C86.45,629.72 88,626.9 89.7,627.3 C91.4,627.7 93.37,630.8 95.2,630.4 C97.03,630 98.73,626.22 100.7,624.9 C102.67,623.58 105.15,623.15 107,622.5 C108.85,621.85 110.25,622.18 111.8,621 C113.35,619.82 114.63,616.85 116.3,615.4 C117.97,613.95 119.43,612.17 121.8,612.3 C124.17,612.43 128.27,614.62 130.5,616.2 C132.73,617.78 133.75,619.62 135.2,621.8 C136.65,623.98 137.48,628.78 139.2,629.3 C140.92,629.82 143.27,625.05 145.5,624.9 C147.73,624.75 150.1,627.93 152.6,628.4 C155.1,628.87 158.13,627.55 160.5,627.7 C162.87,627.85 164.7,629.77 166.8,629.3 C168.9,628.83 170.47,626.03 173.1,624.9 C175.73,623.77 179.97,622.37 182.6,622.5 C185.23,622.63 186.8,624.57 188.9,625.7 C191,626.83 192.48,628.65 195.2,629.3 C197.92,629.95 203.53,629.55 205.2,629.6" fill="none" stroke="#1a5ea6" stroke-width="1.5" stroke-linejoin="round" stroke-linecap="round"/></g><line x1="29.7" y1="448" x2="205.8" y2="448" stroke="#5c5c5c" stroke-width="1.05"/><line x1="29.7" y1="634.8" x2="205.8" y2="634.8" stroke="#5c5c5c" stroke-width="1.05"/><line x1="30.3" y1="448" x2="30.3" y2="634.8" stroke="#8c8c8c" stroke-width="1.4"/><line x1="205.2" y1="448" x2="205.2" y2="634.8" stroke="#8c8c8c" stroke-width="1.4"/><line x1="30.3" y1="634.8" x2="30.3" y2="637" stroke="#6e6e6e" stroke-width="0.8"/><text x="30.3" y="645.8" font-size="8.5" fill="#000" stroke="#000" stroke-width="0.1" text-anchor="middle">0</text><line x1="59.45" y1="634.8" x2="59.45" y2="637" stroke="#6e6e6e" stroke-width="0.8"/><text x="59.45" y="645.8" font-size="8.5" fill="#000" stroke="#000" stroke-width="0.1" text-anchor="middle">1</text><line x1="88.6" y1="634.8" x2="88.6" y2="637" stroke="#6e6e6e" stroke-width="0.8"/><text x="88.6" y="645.8" font-size="8.5" fill="#000" stroke="#000" stroke-width="0.1" text-anchor="middle">2</text><line x1="117.75" y1="634.8" x2="117.75" y2="637" stroke="#6e6e6e" stroke-width="0.8"/><text x="117.75" y="645.8" font-size="8.5" fill="#000" stroke="#000" stroke-width="0.1" text-anchor="middle">3</text><line x1="146.9" y1="634.8" x2="146.9" y2="637" stroke="#6e6e6e" stroke-width="0.8"/><text x="146.9" y="645.8" font-size="8.5" fill="#000" stroke="#000" stroke-width="0.1" text-anchor="middle">4</text><line x1="176.05" y1="634.8" x2="176.05" y2="637" stroke="#6e6e6e" stroke-width="0.8"/><text x="176.05" y="645.8" font-size="8.5" fill="#000" stroke="#000" stroke-width="0.1" text-anchor="middle">5</text><line x1="205.2" y1="634.8" x2="205.2" y2="637" stroke="#6e6e6e" stroke-width="0.8"/><text x="205.2" y="645.8" font-size="8.5" fill="#000" stroke="#000" stroke-width="0.1" text-anchor="middle">6</text><text x="117.5" y="657.5" font-size="8.5" fill="#000" stroke="#000" stroke-width="0.1" text-anchor="middle">Radial distance (Å)</text><text x="20.2" y="538" font-size="8.5" fill="#000" stroke="#000" stroke-width="0.1" text-anchor="middle" transform="rotate(-90 20.2 538)">|FT(<tspan font-style="italic">k</tspan><tspan font-size="5.5" dy="-3">2</tspan><tspan dy="3"> χ(</tspan><tspan font-style="italic">k</tspan>))| (Å<tspan font-size="5.5" dy="-3">-3</tspan><tspan dy="3">)</tspan></text><text x="86.6" y="456.7" font-size="8.5" fill="#68abd3" stroke="#68abd3" stroke-width="0.1" text-anchor="start">Ru-Ru</text><text x="151.7" y="484.3" font-size="8.5" fill="#68abd3" stroke="#68abd3" stroke-width="0.1" text-anchor="start">Ru foil × 0.5</text><text x="56.8" y="505.8" font-size="8.5" fill="#ff1f1f" stroke="#ff1f1f" stroke-width="0.1" text-anchor="start">Ru-O</text><text x="89.6" y="510.3" font-size="8.5" fill="#ff1f1f" stroke="#ff1f1f" stroke-width="0.1" text-anchor="start">Ru-Ru/Ru-Mn</text><text x="146" y="524.3" font-size="8.5" fill="#ff1f1f" stroke="#ff1f1f" stroke-width="0.1" text-anchor="start">MnBTC-Ru × 3</text><line x1="95.6" y1="531" x2="102.09" y2="514.33" stroke="#111" stroke-width="0.7"/><path d="M103,512 L103.12,515.27 L100.7,514.32 Z" fill="#111"/><line x1="112" y1="517" x2="111.27" y2="514.41" stroke="#111" stroke-width="0.7"/><path d="M110.6,512 L112.66,514.54 L110.16,515.24 Z" fill="#111"/><text x="73.6" y="553.6" font-size="8.5" fill="#808080" stroke="#808080" stroke-width="0.1" text-anchor="start">Ru-Cl</text><text x="175.9" y="575.2" font-size="8.5" fill="#808080" stroke="#808080" stroke-width="0.1" text-anchor="start">RuCl<tspan font-size="5.5" dy="1.5">3</tspan></text><text x="62.9" y="596.5" font-size="8.5" fill="#1a5ea6" stroke="#1a5ea6" stroke-width="0.1" text-anchor="start">Ru-O</text><text x="110.8" y="607.6" font-size="8.5" fill="#1a5ea6" stroke="#1a5ea6" stroke-width="0.1" text-anchor="start">Ru-Ru</text><text x="177" y="610.5" font-size="8.5" fill="#1a5ea6" stroke="#1a5ea6" stroke-width="0.1" text-anchor="start">RuO<tspan font-size="5.5" dy="1.5">2</tspan></text><rect x="352.2" y="452.3" width="39.4" height="177.5" fill="#e6e6e6" stroke="none" stroke-width="1"/><clipPath id="clipH"><rect x="260.7" y="448" width="175.0" height="187"/></clipPath><g clip-path="url(#clipH)"><path d="M260.7,478.79 L261.2,478.78 L261.7,478.78 L262.2,478.78 L262.7,478.78 L263.2,478.77 L263.7,478.76 L264.2,478.72 L264.7,478.66 L265.2,478.58 L265.7,478.48 L266.2,478.36 L266.7,478.21 L267.2,478.01 L267.7,477.66 L268.2,477.05 L268.7,476.12 L269.2,475.09 L269.7,474.35 L270.2,474.28 L270.7,474.89 L271.2,475.78 L271.7,476.37 L272.2,476.14 L272.7,474.57 L273.2,471.28 L273.7,466.41 L274.2,461.3 L274.7,458.16 L275.2,458.66 L275.7,462.53 L276.2,467.74 L276.7,472.03 L277.2,474.24 L277.7,474.45 L278.2,473.52 L278.7,472.48 L279.2,472.14 L279.7,472.69 L280.2,473.78 L280.7,474.88 L281.2,475.69 L281.7,476.23 L282.2,476.61 L282.7,476.94 L283.2,477.23 L283.7,477.46 L284.2,477.59 L284.7,477.59 L285.2,477.44 L285.7,477.1 L286.2,476.43 L286.7,475.12 L287.2,472.79 L287.7,469.36 L288.2,465.57 L288.7,462.95 L289.2,462.89 L289.7,465.5 L290.2,469.49 L290.7,473.17 L291.2,475.49 L291.7,476.19 L292.2,475.13 L292.7,472.02 L293.2,466.72 L293.7,460.22 L294.2,454.92 L294.7,453.41 L295.2,456.48 L295.7,462.42 L296.2,468.44 L296.7,472.55 L297.2,474.25 L297.7,474.04 L298.2,472.87 L298.7,471.78 L299.2,471.55 L299.7,472.33 L300.2,473.64 L300.7,474.85 L301.2,475.63 L301.7,476.02 L302.2,476.23 L302.7,476.42 L303.2,476.67 L303.7,476.95 L304.2,477.22 L304.7,477.38 L305.2,477.25 L305.7,476.52 L306.2,474.77 L306.7,471.7 L307.2,467.68 L307.7,464.03 L308.2,462.42 L308.7,463.64 L309.2,466.9 L309.7,470.48 L310.2,472.95 L310.7,473.92 L311.2,473.84 L311.7,473.53 L312.2,473.63 L312.7,474.31 L313.2,475.24 L313.7,476 L314.2,476.38 L314.7,476.45 L315.2,476.37 L315.7,476.3 L316.2,476.31 L316.7,476.42 L317.2,476.52 L317.7,476.35 L318.2,475.46 L318.7,473.28 L319.2,469.63 L319.7,465.29 L320.2,462.02 L320.7,461.46 L321.2,463.84 L321.7,467.78 L322.2,471.46 L322.7,473.81 L323.2,474.75 L323.7,474.74 L324.2,474.35 L324.7,474.09 L325.2,474.32 L325.7,475.03 L326.2,475.94 L326.7,476.66 L327.2,477.02 L327.7,477.04 L328.2,476.86 L328.7,476.61 L329.2,476.4 L329.7,476.24 L330.2,476.09 L330.7,475.8 L331.2,475.14 L331.7,474.02 L332.2,472.67 L332.7,471.71 L333.2,471.69 L333.7,472.67 L334.2,474.11 L334.7,475.36 L335.2,476.08 L335.7,476.31 L336.2,476.28 L336.7,476.11 L337.2,475.72 L337.7,474.69 L338.2,472.4 L338.7,468.35 L339.2,462.89 L339.7,457.64 L340.2,454.86 L340.7,455.95 L341.2,460.38 L341.7,466.06 L342.2,470.9 L342.7,473.95 L343.2,475.43 L343.7,476.01 L344.2,476.26 L344.7,476.48 L345.2,476.73 L345.7,477.02 L346.2,477.3 L346.7,477.5 L347.2,477.6 L347.7,477.56 L348.2,477.39 L348.7,477.09 L349.2,476.64 L349.7,475.92 L350.2,474.82 L350.7,473.32 L351.2,471.73 L351.7,470.72 L352.2,470.84 L352.7,472.13 L353.2,473.98 L353.7,475.62 L354.2,476.51 L354.7,476.33 L355.2,474.74 L355.7,471.37 L356.2,466.38 L356.7,461.07 L357.2,457.7 L357.7,458 L358.2,461.76 L358.7,467.05 L359.2,471.77 L359.7,474.91 L360.2,476.57 L360.7,477.3 L361.2,477.55 L361.7,477.55 L362.2,477.39 L362.7,477.14 L363.2,476.85 L363.7,476.58 L364.2,476.38 L364.7,476.3 L365.2,476.35 L365.7,476.51 L366.2,476.76 L366.7,477.01 L367.2,477.14 L367.7,476.85 L368.2,475.69 L368.7,473.09 L369.2,468.93 L369.7,464.08 L370.2,460.46 L370.7,459.85 L371.2,462.5 L371.7,466.92 L372.2,471.2 L372.7,474.2 L373.2,475.85 L373.7,476.46 L374.2,476.14 L374.7,474.64 L375.2,471.68 L375.7,467.62 L376.2,463.85 L376.7,462.12 L377.2,463.3 L377.7,466.64 L378.2,470.46 L378.7,473.43 L379.2,475.23 L379.7,476.17 L380.2,476.69 L380.7,477.05 L381.2,477.28 L381.7,477.29 L382.2,476.87 L382.7,475.75 L383.2,473.82 L383.7,471.4 L384.2,469.35 L384.7,468.61 L385.2,469.5 L385.7,471.45 L386.2,473.47 L386.7,474.85 L387.2,475.32 L387.7,475 L388.2,474.3 L388.7,473.73 L389.2,473.73 L389.7,474.35 L390.2,475.26 L390.7,476.03 L391.2,476.45 L391.7,476.57 L392.2,476.51 L392.7,476.33 L393.2,476 L393.7,475.51 L394.2,474.97 L394.7,474.66 L395.2,474.84 L395.7,475.52 L396.2,476.41 L396.7,477.16 L397.2,477.62 L397.7,477.8 L398.2,477.84 L398.7,477.83 L399.2,477.82 L399.7,477.79 L400.2,477.69 L400.7,477.48 L401.2,477.22 L401.7,477.05 L402.2,477.12 L402.7,477.44 L403.2,477.88 L403.7,478.27 L404.2,478.52 L404.7,478.65 L405.2,478.7 L405.7,478.73 L406.2,478.74 L406.7,478.76 L407.2,478.79 L407.7,478.81 L408.2,478.83 L408.7,478.85 L409.2,478.86 L409.7,478.87 L410.2,478.88 L410.7,478.88 L411.2,478.88 L411.7,478.88 L412.2,478.88 L412.7,478.88 L413.2,478.88 L413.7,478.89 L414.2,478.89 L414.7,478.89 L415.2,478.89 L415.7,478.9 L416.2,478.9 L416.7,478.9 L417.2,478.9 L417.7,478.9 L418.2,478.9 L418.7,478.89 L419.2,478.86 L419.7,478.79 L420.2,478.64 L420.7,478.4 L421.2,478.13 L421.7,477.94 L422.2,477.92 L422.7,478.08 L423.2,478.35 L423.7,478.6 L424.2,478.76 L424.7,478.84 L425.2,478.85 L425.7,478.78 L426.2,478.64 L426.7,478.4 L427.2,478.13 L427.7,477.94 L428.2,477.92 L428.7,478.08 L429.2,478.35 L429.7,478.6 L430.2,478.76 L430.7,478.85 L431.2,478.89 L431.7,478.9 L432.2,478.9 L432.7,478.9 L433.2,478.9 L433.7,478.9 L434.2,478.9 L434.7,478.9 L435.2,478.9 L435.7,478.9 L435.7,478.9 L435.2,478.9 L434.7,478.9 L434.2,478.9 L433.7,478.9 L433.2,478.9 L432.7,478.9 L432.2,478.9 L431.7,478.9 L431.2,478.9 L430.7,478.9 L430.2,478.9 L429.7,478.9 L429.2,478.9 L428.7,478.9 L428.2,478.91 L427.7,478.95 L427.2,479.04 L426.7,479.2 L426.2,479.45 L425.7,479.72 L425.2,479.88 L424.7,479.86 L424.2,479.67 L423.7,479.4 L423.2,479.16 L422.7,479.01 L422.2,478.94 L421.7,478.91 L421.2,478.9 L420.7,478.9 L420.2,478.9 L419.7,478.9 L419.2,478.9 L418.7,478.9 L418.2,478.9 L417.7,478.9 L417.2,478.9 L416.7,478.9 L416.2,478.9 L415.7,478.9 L415.2,478.91 L414.7,478.91 L414.2,478.91 L413.7,478.91 L413.2,478.92 L412.7,478.92 L412.2,478.92 L411.7,478.92 L411.2,478.92 L410.7,478.92 L410.2,478.94 L409.7,479 L409.2,479.14 L408.7,479.4 L408.2,479.79 L407.7,480.21 L407.2,480.49 L406.7,480.48 L406.2,480.21 L405.7,479.82 L405.2,479.47 L404.7,479.25 L404.2,479.14 L403.7,479.1 L403.2,479.14 L402.7,479.26 L402.2,479.54 L401.7,480.06 L401.2,480.81 L400.7,481.62 L400.2,482.18 L399.7,482.25 L399.2,481.84 L398.7,481.19 L398.2,480.57 L397.7,480.13 L397.2,479.88 L396.7,479.76 L396.2,479.77 L395.7,479.93 L395.2,480.33 L394.7,481.13 L394.2,482.5 L393.7,484.39 L393.2,486.32 L392.7,487.51 L392.2,487.38 L391.7,485.99 L391.2,484.03 L390.7,482.29 L390.2,481.18 L389.7,480.83 L389.2,481.29 L388.7,482.65 L388.2,484.81 L387.7,487.19 L387.2,488.82 L386.7,488.92 L386.2,487.53 L385.7,485.44 L385.2,483.51 L384.7,482.19 L384.2,481.59 L383.7,481.85 L383.2,483.42 L382.7,486.92 L382.2,492.33 L381.7,498.23 L381.2,502.09 L380.7,501.91 L380.2,497.9 L379.7,492.21 L379.2,487.21 L378.7,483.97 L378.2,482.3 L377.7,481.55 L377.2,481.3 L376.7,481.63 L376.2,483 L375.7,486.01 L375.2,490.68 L374.7,495.79 L374.2,499.16 L373.7,499.04 L373.2,495.61 L372.7,490.76 L372.2,486.57 L371.7,484.16 L371.2,483.74 L370.7,485.26 L370.2,488.57 L369.7,492.84 L369.2,496.33 L368.7,497.18 L368.2,494.85 L367.7,490.59 L367.2,486.38 L366.7,483.49 L366.2,482.07 L365.7,481.61 L365.2,481.53 L364.7,481.51 L364.2,481.42 L363.7,481.22 L363.2,480.95 L362.7,480.66 L362.2,480.41 L361.7,480.26 L361.2,480.26 L360.7,480.48 L360.2,481.03 L359.7,481.97 L359.2,483.25 L358.7,484.56 L358.2,485.39 L357.7,485.35 L357.2,484.48 L356.7,483.2 L356.2,481.99 L355.7,481.12 L355.2,480.63 L354.7,480.53 L354.2,480.89 L353.7,481.81 L353.2,483.25 L352.7,484.85 L352.2,485.97 L351.7,486.12 L351.2,485.3 L350.7,483.99 L350.2,482.73 L349.7,481.82 L349.2,481.34 L348.7,481.43 L348.2,482.44 L347.7,484.78 L347.2,488.48 L346.7,492.55 L346.2,495.26 L345.7,495.24 L345.2,492.61 L344.7,488.91 L344.2,485.86 L343.7,484.47 L343.2,484.86 L342.7,486.6 L342.2,488.71 L341.7,489.98 L341.2,489.54 L340.7,487.53 L340.2,484.93 L339.7,482.81 L339.2,481.64 L338.7,481.36 L338.2,481.72 L337.7,482.55 L337.2,483.68 L336.7,484.76 L336.2,485.33 L335.7,485.04 L335.2,483.98 L334.7,482.61 L334.2,481.43 L333.7,480.7 L333.2,480.44 L332.7,480.6 L332.2,481.21 L331.7,482.32 L331.2,483.84 L330.7,485.41 L330.2,486.39 L329.7,486.31 L329.2,485.22 L328.7,483.66 L328.2,482.21 L327.7,481.17 L327.2,480.57 L326.7,480.29 L326.2,480.24 L325.7,480.42 L325.2,480.91 L324.7,481.98 L324.2,484.06 L323.7,487.45 L323.2,491.73 L322.7,495.47 L322.2,496.88 L321.7,495.14 L321.2,491.14 L320.7,486.72 L320.2,483.33 L319.7,481.4 L319.2,480.59 L318.7,480.43 L318.2,480.61 L317.7,480.97 L317.2,481.51 L316.7,482.25 L316.2,483.13 L315.7,483.94 L315.2,484.33 L314.7,484.07 L314.2,483.29 L313.7,482.48 L313.2,482.35 L312.7,483.48 L312.2,486.11 L311.7,489.67 L311.2,492.73 L310.7,493.78 L310.2,492.32 L309.7,489.23 L309.2,485.99 L308.7,483.59 L308.2,482.16 L307.7,481.39 L307.2,480.93 L306.7,480.61 L306.2,480.41 L305.7,480.42 L305.2,480.76 L304.7,481.55 L304.2,482.77 L303.7,484.11 L303.2,485.06 L302.7,485.21 L302.2,484.56 L301.7,483.49 L301.2,482.5 L300.7,481.95 L300.2,482.14 L299.7,483.49 L299.2,486.27 L298.7,490.14 L298.2,493.74 L297.7,495.34 L297.2,494.1 L296.7,490.78 L296.2,487.06 L295.7,484.25 L295.2,482.68 L294.7,482.09 L294.2,482.24 L293.7,483.25 L293.2,485.36 L292.7,488.44 L292.2,491.54 L291.7,493.16 L291.2,492.39 L290.7,489.65 L290.2,486.36 L289.7,483.79 L289.2,482.34 L288.7,481.77 L288.2,481.59 L287.7,481.5 L287.2,481.34 L286.7,481.11 L286.2,480.82 L285.7,480.55 L285.2,480.38 L284.7,480.4 L284.2,480.75 L283.7,481.55 L283.2,482.78 L282.7,484.11 L282.2,485.05 L281.7,485.18 L281.2,484.5 L280.7,483.41 L280.2,482.4 L279.7,481.81 L279.2,481.95 L278.7,483.18 L278.2,485.77 L277.7,489.38 L277.2,492.74 L276.7,494.22 L276.2,493.04 L275.7,489.9 L275.2,486.39 L274.7,483.78 L274.2,482.44 L273.7,482.14 L273.2,482.45 L272.7,482.93 L272.2,483.14 L271.7,482.83 L271.2,482.05 L270.7,481.12 L270.2,480.37 L269.7,479.94 L269.2,479.76 L268.7,479.72 L268.2,479.71 L267.7,479.69 L267.2,479.63 L266.7,479.54 L266.2,479.43 L265.7,479.32 L265.2,479.22 L264.7,479.14 L264.2,479.08 L263.7,479.04 L263.2,479.03 L262.7,479.02 L262.2,479.02 L261.7,479.02 L261.2,479.02 L260.7,479.01 Z" fill="#ddeef7" stroke="none"/><path d="M260.7,478.79 L261.2,478.78 L261.7,478.78 L262.2,478.78 L262.7,478.78 L263.2,478.77 L263.7,478.76 L264.2,478.72 L264.7,478.66 L265.2,478.58 L265.7,478.48 L266.2,478.36 L266.7,478.21 L267.2,478.01 L267.7,477.66 L268.2,477.05 L268.7,476.12 L269.2,475.09 L269.7,474.35 L270.2,474.28 L270.7,474.89 L271.2,475.78 L271.7,476.37 L272.2,476.14 L272.7,474.57 L273.2,471.28 L273.7,466.41 L274.2,461.3 L274.7,458.16 L275.2,458.66 L275.7,462.53 L276.2,467.74 L276.7,472.03 L277.2,474.24 L277.7,474.45 L278.2,473.52 L278.7,472.48 L279.2,472.14 L279.7,472.69 L280.2,473.78 L280.7,474.88 L281.2,475.69 L281.7,476.23 L282.2,476.61 L282.7,476.94 L283.2,477.23 L283.7,477.46 L284.2,477.59 L284.7,477.59 L285.2,477.44 L285.7,477.1 L286.2,476.43 L286.7,475.12 L287.2,472.79 L287.7,469.36 L288.2,465.57 L288.7,462.95 L289.2,462.89 L289.7,465.5 L290.2,469.49 L290.7,473.17 L291.2,475.49 L291.7,476.19 L292.2,475.13 L292.7,472.02 L293.2,466.72 L293.7,460.22 L294.2,454.92 L294.7,453.41 L295.2,456.48 L295.7,462.42 L296.2,468.44 L296.7,472.55 L297.2,474.25 L297.7,474.04 L298.2,472.87 L298.7,471.78 L299.2,471.55 L299.7,472.33 L300.2,473.64 L300.7,474.85 L301.2,475.63 L301.7,476.02 L302.2,476.23 L302.7,476.42 L303.2,476.67 L303.7,476.95 L304.2,477.22 L304.7,477.38 L305.2,477.25 L305.7,476.52 L306.2,474.77 L306.7,471.7 L307.2,467.68 L307.7,464.03 L308.2,462.42 L308.7,463.64 L309.2,466.9 L309.7,470.48 L310.2,472.95 L310.7,473.92 L311.2,473.84 L311.7,473.53 L312.2,473.63 L312.7,474.31 L313.2,475.24 L313.7,476 L314.2,476.38 L314.7,476.45 L315.2,476.37 L315.7,476.3 L316.2,476.31 L316.7,476.42 L317.2,476.52 L317.7,476.35 L318.2,475.46 L318.7,473.28 L319.2,469.63 L319.7,465.29 L320.2,462.02 L320.7,461.46 L321.2,463.84 L321.7,467.78 L322.2,471.46 L322.7,473.81 L323.2,474.75 L323.7,474.74 L324.2,474.35 L324.7,474.09 L325.2,474.32 L325.7,475.03 L326.2,475.94 L326.7,476.66 L327.2,477.02 L327.7,477.04 L328.2,476.86 L328.7,476.61 L329.2,476.4 L329.7,476.24 L330.2,476.09 L330.7,475.8 L331.2,475.14 L331.7,474.02 L332.2,472.67 L332.7,471.71 L333.2,471.69 L333.7,472.67 L334.2,474.11 L334.7,475.36 L335.2,476.08 L335.7,476.31 L336.2,476.28 L336.7,476.11 L337.2,475.72 L337.7,474.69 L338.2,472.4 L338.7,468.35 L339.2,462.89 L339.7,457.64 L340.2,454.86 L340.7,455.95 L341.2,460.38 L341.7,466.06 L342.2,470.9 L342.7,473.95 L343.2,475.43 L343.7,476.01 L344.2,476.26 L344.7,476.48 L345.2,476.73 L345.7,477.02 L346.2,477.3 L346.7,477.5 L347.2,477.6 L347.7,477.56 L348.2,477.39 L348.7,477.09 L349.2,476.64 L349.7,475.92 L350.2,474.82 L350.7,473.32 L351.2,471.73 L351.7,470.72 L352.2,470.84 L352.7,472.13 L353.2,473.98 L353.7,475.62 L354.2,476.51 L354.7,476.33 L355.2,474.74 L355.7,471.37 L356.2,466.38 L356.7,461.07 L357.2,457.7 L357.7,458 L358.2,461.76 L358.7,467.05 L359.2,471.77 L359.7,474.91 L360.2,476.57 L360.7,477.3 L361.2,477.55 L361.7,477.55 L362.2,477.39 L362.7,477.14 L363.2,476.85 L363.7,476.58 L364.2,476.38 L364.7,476.3 L365.2,476.35 L365.7,476.51 L366.2,476.76 L366.7,477.01 L367.2,477.14 L367.7,476.85 L368.2,475.69 L368.7,473.09 L369.2,468.93 L369.7,464.08 L370.2,460.46 L370.7,459.85 L371.2,462.5 L371.7,466.92 L372.2,471.2 L372.7,474.2 L373.2,475.85 L373.7,476.46 L374.2,476.14 L374.7,474.64 L375.2,471.68 L375.7,467.62 L376.2,463.85 L376.7,462.12 L377.2,463.3 L377.7,466.64 L378.2,470.46 L378.7,473.43 L379.2,475.23 L379.7,476.17 L380.2,476.69 L380.7,477.05 L381.2,477.28 L381.7,477.29 L382.2,476.87 L382.7,475.75 L383.2,473.82 L383.7,471.4 L384.2,469.35 L384.7,468.61 L385.2,469.5 L385.7,471.45 L386.2,473.47 L386.7,474.85 L387.2,475.32 L387.7,475 L388.2,474.3 L388.7,473.73 L389.2,473.73 L389.7,474.35 L390.2,475.26 L390.7,476.03 L391.2,476.45 L391.7,476.57 L392.2,476.51 L392.7,476.33 L393.2,476 L393.7,475.51 L394.2,474.97 L394.7,474.66 L395.2,474.84 L395.7,475.52 L396.2,476.41 L396.7,477.16 L397.2,477.62 L397.7,477.8 L398.2,477.84 L398.7,477.83 L399.2,477.82 L399.7,477.79 L400.2,477.69 L400.7,477.48 L401.2,477.22 L401.7,477.05 L402.2,477.12 L402.7,477.44 L403.2,477.88 L403.7,478.27 L404.2,478.52 L404.7,478.65 L405.2,478.7 L405.7,478.73 L406.2,478.74 L406.7,478.76 L407.2,478.79 L407.7,478.81 L408.2,478.83 L408.7,478.85 L409.2,478.86 L409.7,478.87 L410.2,478.88 L410.7,478.88 L411.2,478.88 L411.7,478.88 L412.2,478.88 L412.7,478.88 L413.2,478.88 L413.7,478.89 L414.2,478.89 L414.7,478.89 L415.2,478.89 L415.7,478.9 L416.2,478.9 L416.7,478.9 L417.2,478.9 L417.7,478.9 L418.2,478.9 L418.7,478.89 L419.2,478.86 L419.7,478.79 L420.2,478.64 L420.7,478.4 L421.2,478.13 L421.7,477.94 L422.2,477.92 L422.7,478.08 L423.2,478.35 L423.7,478.6 L424.2,478.76 L424.7,478.84 L425.2,478.85 L425.7,478.78 L426.2,478.64 L426.7,478.4 L427.2,478.13 L427.7,477.94 L428.2,477.92 L428.7,478.08 L429.2,478.35 L429.7,478.6 L430.2,478.76 L430.7,478.85 L431.2,478.89 L431.7,478.9 L432.2,478.9 L432.7,478.9 L433.2,478.9 L433.7,478.9 L434.2,478.9 L434.7,478.9 L435.2,478.9 L435.7,478.9" fill="none" stroke="#7fb8d8" stroke-width="0.9" stroke-linejoin="round"/><path d="M260.7,479.01 L261.2,479.02 L261.7,479.02 L262.2,479.02 L262.7,479.02 L263.2,479.03 L263.7,479.04 L264.2,479.08 L264.7,479.14 L265.2,479.22 L265.7,479.32 L266.2,479.43 L266.7,479.54 L267.2,479.63 L267.7,479.69 L268.2,479.71 L268.7,479.72 L269.2,479.76 L269.7,479.94 L270.2,480.37 L270.7,481.12 L271.2,482.05 L271.7,482.83 L272.2,483.14 L272.7,482.93 L273.2,482.45 L273.7,482.14 L274.2,482.44 L274.7,483.78 L275.2,486.39 L275.7,489.9 L276.2,493.04 L276.7,494.22 L277.2,492.74 L277.7,489.38 L278.2,485.77 L278.7,483.18 L279.2,481.95 L279.7,481.81 L280.2,482.4 L280.7,483.41 L281.2,484.5 L281.7,485.18 L282.2,485.05 L282.7,484.11 L283.2,482.78 L283.7,481.55 L284.2,480.75 L284.7,480.4 L285.2,480.38 L285.7,480.55 L286.2,480.82 L286.7,481.11 L287.2,481.34 L287.7,481.5 L288.2,481.59 L288.7,481.77 L289.2,482.34 L289.7,483.79 L290.2,486.36 L290.7,489.65 L291.2,492.39 L291.7,493.16 L292.2,491.54 L292.7,488.44 L293.2,485.36 L293.7,483.25 L294.2,482.24 L294.7,482.09 L295.2,482.68 L295.7,484.25 L296.2,487.06 L296.7,490.78 L297.2,494.1 L297.7,495.34 L298.2,493.74 L298.7,490.14 L299.2,486.27 L299.7,483.49 L300.2,482.14 L300.7,481.95 L301.2,482.5 L301.7,483.49 L302.2,484.56 L302.7,485.21 L303.2,485.06 L303.7,484.11 L304.2,482.77 L304.7,481.55 L305.2,480.76 L305.7,480.42 L306.2,480.41 L306.7,480.61 L307.2,480.93 L307.7,481.39 L308.2,482.16 L308.7,483.59 L309.2,485.99 L309.7,489.23 L310.2,492.32 L310.7,493.78 L311.2,492.73 L311.7,489.67 L312.2,486.11 L312.7,483.48 L313.2,482.35 L313.7,482.48 L314.2,483.29 L314.7,484.07 L315.2,484.33 L315.7,483.94 L316.2,483.13 L316.7,482.25 L317.2,481.51 L317.7,480.97 L318.2,480.61 L318.7,480.43 L319.2,480.59 L319.7,481.4 L320.2,483.33 L320.7,486.72 L321.2,491.14 L321.7,495.14 L322.2,496.88 L322.7,495.47 L323.2,491.73 L323.7,487.45 L324.2,484.06 L324.7,481.98 L325.2,480.91 L325.7,480.42 L326.2,480.24 L326.7,480.29 L327.2,480.57 L327.7,481.17 L328.2,482.21 L328.7,483.66 L329.2,485.22 L329.7,486.31 L330.2,486.39 L330.7,485.41 L331.2,483.84 L331.7,482.32 L332.2,481.21 L332.7,480.6 L333.2,480.44 L333.7,480.7 L334.2,481.43 L334.7,482.61 L335.2,483.98 L335.7,485.04 L336.2,485.33 L336.7,484.76 L337.2,483.68 L337.7,482.55 L338.2,481.72 L338.7,481.36 L339.2,481.64 L339.7,482.81 L340.2,484.93 L340.7,487.53 L341.2,489.54 L341.7,489.98 L342.2,488.71 L342.7,486.6 L343.2,484.86 L343.7,484.47 L344.2,485.86 L344.7,488.91 L345.2,492.61 L345.7,495.24 L346.2,495.26 L346.7,492.55 L347.2,488.48 L347.7,484.78 L348.2,482.44 L348.7,481.43 L349.2,481.34 L349.7,481.82 L350.2,482.73 L350.7,483.99 L351.2,485.3 L351.7,486.12 L352.2,485.97 L352.7,484.85 L353.2,483.25 L353.7,481.81 L354.2,480.89 L354.7,480.53 L355.2,480.63 L355.7,481.12 L356.2,481.99 L356.7,483.2 L357.2,484.48 L357.7,485.35 L358.2,485.39 L358.7,484.56 L359.2,483.25 L359.7,481.97 L360.2,481.03 L360.7,480.48 L361.2,480.26 L361.7,480.26 L362.2,480.41 L362.7,480.66 L363.2,480.95 L363.7,481.22 L364.2,481.42 L364.7,481.51 L365.2,481.53 L365.7,481.61 L366.2,482.07 L366.7,483.49 L367.2,486.38 L367.7,490.59 L368.2,494.85 L368.7,497.18 L369.2,496.33 L369.7,492.84 L370.2,488.57 L370.7,485.26 L371.2,483.74 L371.7,484.16 L372.2,486.57 L372.7,490.76 L373.2,495.61 L373.7,499.04 L374.2,499.16 L374.7,495.79 L375.2,490.68 L375.7,486.01 L376.2,483 L376.7,481.63 L377.2,481.3 L377.7,481.55 L378.2,482.3 L378.7,483.97 L379.2,487.21 L379.7,492.21 L380.2,497.9 L380.7,501.91 L381.2,502.09 L381.7,498.23 L382.2,492.33 L382.7,486.92 L383.2,483.42 L383.7,481.85 L384.2,481.59 L384.7,482.19 L385.2,483.51 L385.7,485.44 L386.2,487.53 L386.7,488.92 L387.2,488.82 L387.7,487.19 L388.2,484.81 L388.7,482.65 L389.2,481.29 L389.7,480.83 L390.2,481.18 L390.7,482.29 L391.2,484.03 L391.7,485.99 L392.2,487.38 L392.7,487.51 L393.2,486.32 L393.7,484.39 L394.2,482.5 L394.7,481.13 L395.2,480.33 L395.7,479.93 L396.2,479.77 L396.7,479.76 L397.2,479.88 L397.7,480.13 L398.2,480.57 L398.7,481.19 L399.2,481.84 L399.7,482.25 L400.2,482.18 L400.7,481.62 L401.2,480.81 L401.7,480.06 L402.2,479.54 L402.7,479.26 L403.2,479.14 L403.7,479.1 L404.2,479.14 L404.7,479.25 L405.2,479.47 L405.7,479.82 L406.2,480.21 L406.7,480.48 L407.2,480.49 L407.7,480.21 L408.2,479.79 L408.7,479.4 L409.2,479.14 L409.7,479 L410.2,478.94 L410.7,478.92 L411.2,478.92 L411.7,478.92 L412.2,478.92 L412.7,478.92 L413.2,478.92 L413.7,478.91 L414.2,478.91 L414.7,478.91 L415.2,478.91 L415.7,478.9 L416.2,478.9 L416.7,478.9 L417.2,478.9 L417.7,478.9 L418.2,478.9 L418.7,478.9 L419.2,478.9 L419.7,478.9 L420.2,478.9 L420.7,478.9 L421.2,478.9 L421.7,478.91 L422.2,478.94 L422.7,479.01 L423.2,479.16 L423.7,479.4 L424.2,479.67 L424.7,479.86 L425.2,479.88 L425.7,479.72 L426.2,479.45 L426.7,479.2 L427.2,479.04 L427.7,478.95 L428.2,478.91 L428.7,478.9 L429.2,478.9 L429.7,478.9 L430.2,478.9 L430.7,478.9 L431.2,478.9 L431.7,478.9 L432.2,478.9 L432.7,478.9 L433.2,478.9 L433.7,478.9 L434.2,478.9 L434.7,478.9 L435.2,478.9 L435.7,478.9" fill="none" stroke="#7fb8d8" stroke-width="0.9" stroke-linejoin="round"/><path d="M260.7,541.2 L268.3,540.9 L274.5,538.4 L277.5,535.9 L280.6,532.2 L283.5,535.4 L286.7,537.4 L291.5,535.9 L297.4,532.2 L301,535.4 L305,536.8 L309,535.9 L312.8,534.7 L317,536.9 L322,537.4 L329,536.4 L335.8,532.2 L338,534.4 L340.4,533.7 L344,536.4 L348,536.8 L352.6,536.2 L355.5,536.9 L358.8,534.7 L363.4,538.4 L368,535.4 L374,529.8 L378.7,530.7 L382,534.4 L386.3,537.4 L390,538.9 L395.5,539.9 L400,540.1 L405,540.5 L414,540.8 L435.7,541.1 L435.7,541.7 L420,541.9 L410,542.3 L401.7,542.9 L393,543.9 L387.9,546 L382,549.4 L377.1,553.7 L370,547.4 L364.9,544.4 L360,544.9 L355.7,546 L350,545.4 L345,547.4 L340,546.9 L335.8,550.6 L329,545.4 L322,546 L314,545.4 L308.2,547.4 L302,546.4 L297.4,550.6 L294,546.4 L291.3,544.4 L285,545.4 L280.6,549.1 L274.5,544.4 L268.3,541.9 L260.7,541.6 Z" fill="#a9c6e2" stroke="none"/><path d="M260.7,541.2 L268.3,540.9 L274.5,538.4 L277.5,535.9 L280.6,532.2 L283.5,535.4 L286.7,537.4 L291.5,535.9 L297.4,532.2 L301,535.4 L305,536.8 L309,535.9 L312.8,534.7 L317,536.9 L322,537.4 L329,536.4 L335.8,532.2 L338,534.4 L340.4,533.7 L344,536.4 L348,536.8 L352.6,536.2 L355.5,536.9 L358.8,534.7 L363.4,538.4 L368,535.4 L374,529.8 L378.7,530.7 L382,534.4 L386.3,537.4 L390,538.9 L395.5,539.9 L400,540.1 L405,540.5 L414,540.8 L435.7,541.1" fill="none" stroke="#1a528f" stroke-width="1.05" stroke-linejoin="round"/><path d="M260.7,541.6 L268.3,541.9 L274.5,544.4 L280.6,549.1 L285,545.4 L291.3,544.4 L294,546.4 L297.4,550.6 L302,546.4 L308.2,547.4 L314,545.4 L322,546 L329,545.4 L335.8,550.6 L340,546.9 L345,547.4 L350,545.4 L355.7,546 L360,544.9 L364.9,544.4 L370,547.4 L377.1,553.7 L382,549.4 L387.9,546 L393,543.9 L401.7,542.9 L410,542.3 L420,541.9 L435.7,541.7" fill="none" stroke="#1a528f" stroke-width="1.05" stroke-linejoin="round"/><path d="M260.7,603.69 L261.2,603.3 L261.7,602.5 L262.2,601.15 L262.7,599.35 L263.2,597.57 L263.7,596.5 L264.2,596.63 L264.7,597.89 L265.2,599.73 L265.7,601.47 L266.2,602.71 L266.7,603.41 L267.2,603.73 L267.7,603.85 L268.2,603.89 L268.7,603.9 L269.2,603.9 L269.7,603.9 L270.2,603.9 L270.7,603.89 L271.2,603.84 L271.7,603.66 L272.2,603.12 L272.7,601.8 L273.2,599.14 L273.7,594.86 L274.2,589.45 L274.7,584.49 L275.2,581.98 L275.7,583.09 L276.2,587.29 L276.7,592.76 L277.2,597.62 L277.7,600.92 L278.2,602.71 L278.7,603.5 L279.2,603.79 L279.7,603.87 L280.2,603.89 L280.7,603.9 L281.2,603.9 L281.7,603.9 L282.2,603.9 L282.7,603.9 L283.2,603.9 L283.7,603.9 L284.2,603.9 L284.7,603.88 L285.2,603.82 L285.7,603.62 L286.2,603.08 L286.7,601.91 L287.2,599.84 L287.7,596.95 L288.2,593.89 L288.7,591.78 L289.2,591.57 L289.7,593.36 L290.2,596.32 L290.7,599.32 L291.2,601.57 L291.7,602.91 L292.2,603.54 L292.7,603.79 L293.2,603.87 L293.7,603.89 L294.2,603.87 L294.7,603.78 L295.2,603.47 L295.7,602.61 L296.2,600.65 L296.7,597.05 L297.2,591.75 L297.7,585.78 L298.2,581.2 L298.7,579.98 L299.2,582.72 L299.7,588.13 L300.2,594.03 L300.7,598.71 L301.2,601.6 L301.7,603.05 L302.2,603.63 L302.7,603.83 L303.2,603.88 L303.7,603.88 L304.2,603.82 L304.7,603.62 L305.2,603.04 L305.7,601.67 L306.2,599.04 L306.7,594.96 L307.2,590.08 L307.7,585.85 L308.2,583.84 L308.7,584.47 L309.2,586.49 L309.7,587.82 L310.2,587.21 L310.7,585.22 L311.2,583.81 L311.7,584.72 L312.2,588.21 L312.7,593.04 L313.2,597.57 L313.7,600.79 L314.2,602.62 L314.7,603.46 L315.2,603.77 L315.7,603.87 L316.2,603.89 L316.7,603.9 L317.2,603.9 L317.7,603.9 L318.2,603.9 L318.7,603.9 L319.2,603.9 L319.7,603.9 L320.2,603.89 L320.7,603.84 L321.2,603.71 L321.7,603.34 L322.2,602.55 L322.7,601.14 L323.2,599.17 L323.7,597.09 L324.2,595.66 L324.7,595.52 L325.2,596.73 L325.7,598.74 L326.2,600.78 L326.7,602.32 L327.2,603.22 L327.7,603.66 L328.2,603.83 L328.7,603.88 L329.2,603.9 L329.7,603.9 L330.2,603.9 L330.7,603.9 L331.2,603.9 L331.7,603.9 L332.2,603.9 L332.7,603.89 L333.2,603.86 L333.7,603.75 L334.2,603.36 L334.7,602.28 L335.2,599.84 L335.7,595.33 L336.2,588.71 L336.7,581.25 L337.2,575.52 L337.7,574 L338.2,577.43 L338.7,584.19 L339.2,591.57 L339.7,597.41 L340.2,601.03 L340.7,602.83 L341.2,603.57 L341.7,603.81 L342.2,603.88 L342.7,603.9 L343.2,603.9 L343.7,603.9 L344.2,603.9 L344.7,603.89 L345.2,603.86 L345.7,603.77 L346.2,603.56 L346.7,603.15 L347.2,602.53 L347.7,601.78 L348.2,601.15 L348.7,600.9 L349.2,601.15 L349.7,601.78 L350.2,602.53 L350.7,603.15 L351.2,603.56 L351.7,603.77 L352.2,603.86 L352.7,603.88 L353.2,603.86 L353.7,603.76 L354.2,603.44 L354.7,602.63 L355.2,600.92 L355.7,598.03 L356.2,594.19 L356.7,590.39 L357.2,588.05 L357.7,588.14 L358.2,590.37 L358.7,593.25 L359.2,595.13 L359.7,595.23 L360.2,594.04 L360.7,592.87 L361.2,592.95 L361.7,594.59 L362.2,597.22 L362.7,599.87 L363.2,601.85 L363.7,603.02 L364.2,603.58 L364.7,603.79 L365.2,603.8 L365.7,603.66 L366.2,603.28 L366.7,602.49 L367.2,601.23 L367.7,599.63 L368.2,598.16 L368.7,597.42 L369.2,597.75 L369.7,598.97 L370.2,600.53 L370.7,601.76 L371.2,602.2 L371.7,601.56 L372.2,599.72 L372.7,596.92 L373.2,593.88 L373.7,591.78 L374.2,591.57 L374.7,593.36 L375.2,596.32 L375.7,599.3 L376.2,601.51 L376.7,602.68 L377.2,602.84 L377.7,601.97 L378.2,599.88 L378.7,596.57 L379.2,592.59 L379.7,589.23 L380.2,587.9 L380.7,589.22 L381.2,592.56 L381.7,596.43 L382.2,599.42 L382.7,600.72 L383.2,600.03 L383.7,597.44 L384.2,593.53 L384.7,589.55 L385.2,587.13 L385.7,587.42 L386.2,590.29 L386.7,594.45 L387.2,598.38 L387.7,601.19 L388.2,602.78 L388.7,603.51 L389.2,603.79 L389.7,603.87 L390.2,603.89 L390.7,603.9 L391.2,603.9 L391.7,603.9 L392.2,603.9 L392.7,603.9 L393.2,603.9 L393.7,603.9 L394.2,603.9 L394.7,603.9 L395.2,603.9 L395.7,603.9 L396.2,603.9 L396.7,603.9 L397.2,603.9 L397.7,603.9 L398.2,603.9 L398.7,603.9 L399.2,603.9 L399.7,603.9 L400.2,603.9 L400.7,603.9 L401.2,603.9 L401.7,603.89 L402.2,603.86 L402.7,603.79 L403.2,603.63 L403.7,603.33 L404.2,602.89 L404.7,602.39 L405.2,602.01 L405.7,601.91 L406.2,602.14 L406.7,602.59 L407.2,603.08 L407.7,603.47 L408.2,603.71 L408.7,603.83 L409.2,603.88 L409.7,603.89 L410.2,603.89 L410.7,603.88 L411.2,603.85 L411.7,603.76 L412.2,603.58 L412.7,603.28 L413.2,602.91 L413.7,602.58 L414.2,602.41 L414.7,602.48 L415.2,602.77 L415.7,603.14 L416.2,603.47 L416.7,603.7 L417.2,603.82 L417.7,603.87 L418.2,603.89 L418.7,603.9 L419.2,603.9 L419.7,603.9 L420.2,603.9 L420.7,603.9 L421.2,603.9 L421.7,603.9 L422.2,603.9 L422.7,603.9 L423.2,603.9 L423.7,603.9 L424.2,603.9 L424.7,603.9 L425.2,603.9 L425.7,603.9 L426.2,603.9 L426.7,603.9 L427.2,603.9 L427.7,603.9 L428.2,603.9 L428.7,603.89 L429.2,603.88 L429.7,603.83 L430.2,603.73 L430.7,603.53 L431.2,603.21 L431.7,602.84 L432.2,602.52 L432.7,602.4 L433.2,602.52 L433.7,602.84 L434.2,603.21 L434.7,603.53 L435.2,603.73 L435.7,603.83 L435.7,604.14 L435.2,604.35 L434.7,604.62 L434.2,604.87 L433.7,605 L433.2,604.94 L432.7,604.73 L432.2,604.46 L431.7,604.21 L431.2,604.05 L430.7,603.96 L430.2,603.92 L429.7,603.91 L429.2,603.9 L428.7,603.9 L428.2,603.9 L427.7,603.9 L427.2,603.9 L426.7,603.9 L426.2,603.9 L425.7,603.9 L425.2,603.9 L424.7,603.9 L424.2,603.9 L423.7,603.9 L423.2,603.9 L422.7,603.9 L422.2,603.9 L421.7,603.9 L421.2,603.9 L420.7,603.9 L420.2,603.9 L419.7,603.9 L419.2,603.91 L418.7,603.93 L418.2,604 L417.7,604.16 L417.2,604.47 L416.7,604.95 L416.2,605.53 L415.7,606.01 L415.2,606.2 L414.7,606.01 L414.2,605.53 L413.7,604.95 L413.2,604.47 L412.7,604.16 L412.2,604 L411.7,603.93 L411.2,603.91 L410.7,603.9 L410.2,603.9 L409.7,603.91 L409.2,603.93 L408.7,603.98 L408.2,604.12 L407.7,604.4 L407.2,604.85 L406.7,605.41 L406.2,605.93 L405.7,606.19 L405.2,606.08 L404.7,605.64 L404.2,605.06 L403.7,604.56 L403.2,604.21 L402.7,604.02 L402.2,603.94 L401.7,603.91 L401.2,603.9 L400.7,603.9 L400.2,603.9 L399.7,603.9 L399.2,603.9 L398.7,603.9 L398.2,603.9 L397.7,603.9 L397.2,603.9 L396.7,603.9 L396.2,603.9 L395.7,603.9 L395.2,603.9 L394.7,603.9 L394.2,603.9 L393.7,603.9 L393.2,603.9 L392.7,603.9 L392.2,603.9 L391.7,603.91 L391.2,603.95 L390.7,604.09 L390.2,604.5 L389.7,605.46 L389.2,607.32 L388.7,610.18 L388.2,613.6 L387.7,616.53 L387.2,617.87 L386.7,617.3 L386.2,615.75 L385.7,614.91 L385.2,616.01 L384.7,618.89 L384.2,621.92 L383.7,623.09 L383.2,621.37 L382.7,617.34 L382.2,612.6 L381.7,608.64 L381.2,606.08 L380.7,604.79 L380.2,604.38 L379.7,604.61 L379.2,605.57 L378.7,607.52 L378.2,610.54 L377.7,614.16 L377.2,617.25 L376.7,618.59 L376.2,617.8 L375.7,615.71 L375.2,613.95 L374.7,613.79 L374.2,615.24 L373.7,617.1 L373.2,617.81 L372.7,616.52 L372.2,613.59 L371.7,610.17 L371.2,607.32 L370.7,605.46 L370.2,604.5 L369.7,604.09 L369.2,603.95 L368.7,603.91 L368.2,603.9 L367.7,603.9 L367.2,603.9 L366.7,603.9 L366.2,603.9 L365.7,603.9 L365.2,603.9 L364.7,603.9 L364.2,603.9 L363.7,603.9 L363.2,603.9 L362.7,603.9 L362.2,603.9 L361.7,603.9 L361.2,603.91 L360.7,603.92 L360.2,603.99 L359.7,604.21 L359.2,604.78 L358.7,605.95 L358.2,607.93 L357.7,610.57 L357.2,613.18 L356.7,614.75 L356.2,614.56 L355.7,612.71 L355.2,610.02 L354.7,607.47 L354.2,605.65 L353.7,604.62 L353.2,604.15 L352.7,603.97 L352.2,603.92 L351.7,603.9 L351.2,603.9 L350.7,603.9 L350.2,603.9 L349.7,603.9 L349.2,603.9 L348.7,603.9 L348.2,603.9 L347.7,603.9 L347.2,603.9 L346.7,603.9 L346.2,603.9 L345.7,603.9 L345.2,603.91 L344.7,603.95 L344.2,604.07 L343.7,604.45 L343.2,605.38 L342.7,607.25 L342.2,610.27 L341.7,614.08 L341.2,617.58 L340.7,619.35 L340.2,618.56 L339.7,615.6 L339.2,611.75 L338.7,608.33 L338.2,606 L337.7,604.74 L337.2,604.18 L336.7,603.98 L336.2,603.92 L335.7,603.9 L335.2,603.9 L334.7,603.9 L334.2,603.9 L333.7,603.9 L333.2,603.9 L332.7,603.9 L332.2,603.9 L331.7,603.9 L331.2,603.9 L330.7,603.9 L330.2,603.91 L329.7,603.93 L329.2,604.02 L328.7,604.27 L328.2,604.87 L327.7,606.02 L327.2,607.79 L326.7,609.91 L326.2,611.69 L325.7,612.4 L325.2,611.69 L324.7,609.91 L324.2,607.79 L323.7,606.02 L323.2,604.87 L322.7,604.27 L322.2,604.02 L321.7,603.93 L321.2,603.91 L320.7,603.9 L320.2,603.9 L319.7,603.9 L319.2,603.9 L318.7,603.92 L318.2,603.99 L317.7,604.21 L317.2,604.82 L316.7,606.2 L316.2,608.76 L315.7,612.53 L315.2,616.82 L314.7,620.29 L314.2,621.79 L313.7,621.36 L313.2,620.43 L312.7,620.73 L312.2,622.77 L311.7,625.24 L311.2,626 L310.7,623.8 L310.2,619.14 L309.7,613.75 L309.2,609.26 L308.7,606.35 L308.2,604.84 L307.7,604.21 L307.2,603.98 L306.7,603.92 L306.2,603.9 L305.7,603.9 L305.2,603.92 L304.7,603.99 L304.2,604.23 L303.7,604.92 L303.2,606.56 L302.7,609.71 L302.2,614.57 L301.7,620.36 L301.2,625.26 L300.7,627.2 L300.2,625.26 L299.7,620.36 L299.2,614.57 L298.7,609.71 L298.2,606.56 L297.7,604.92 L297.2,604.23 L296.7,603.99 L296.2,603.92 L295.7,603.91 L295.2,603.95 L294.7,604.07 L294.2,604.43 L293.7,605.27 L293.2,606.89 L292.7,609.39 L292.2,612.38 L291.7,614.9 L291.2,615.9 L290.7,614.9 L290.2,612.38 L289.7,609.39 L289.2,606.89 L288.7,605.27 L288.2,604.43 L287.7,604.07 L287.2,603.95 L286.7,603.91 L286.2,603.9 L285.7,603.9 L285.2,603.9 L284.7,603.9 L284.2,603.9 L283.7,603.9 L283.2,603.9 L282.7,603.9 L282.2,603.9 L281.7,603.9 L281.2,603.92 L280.7,603.98 L280.2,604.21 L279.7,604.84 L279.2,606.35 L278.7,609.26 L278.2,613.74 L277.7,619.09 L277.2,623.61 L276.7,625.4 L276.2,623.61 L275.7,619.09 L275.2,613.74 L274.7,609.27 L274.2,606.38 L273.7,604.95 L273.2,604.54 L272.7,604.84 L272.2,605.79 L271.7,607.34 L271.2,609.2 L270.7,610.78 L270.2,611.4 L269.7,610.78 L269.2,609.2 L268.7,607.33 L268.2,605.77 L267.7,604.76 L267.2,604.23 L266.7,604.01 L266.2,603.93 L265.7,603.91 L265.2,603.9 L264.7,603.9 L264.2,603.9 L263.7,603.9 L263.2,603.9 L262.7,603.9 L262.2,603.9 L261.7,603.9 L261.2,603.9 L260.7,603.9 Z" fill="#f8c8c8" stroke="none"/><path d="M260.7,603.69 L261.2,603.3 L261.7,602.5 L262.2,601.15 L262.7,599.35 L263.2,597.57 L263.7,596.5 L264.2,596.63 L264.7,597.89 L265.2,599.73 L265.7,601.47 L266.2,602.71 L266.7,603.41 L267.2,603.73 L267.7,603.85 L268.2,603.89 L268.7,603.9 L269.2,603.9 L269.7,603.9 L270.2,603.9 L270.7,603.89 L271.2,603.84 L271.7,603.66 L272.2,603.12 L272.7,601.8 L273.2,599.14 L273.7,594.86 L274.2,589.45 L274.7,584.49 L275.2,581.98 L275.7,583.09 L276.2,587.29 L276.7,592.76 L277.2,597.62 L277.7,600.92 L278.2,602.71 L278.7,603.5 L279.2,603.79 L279.7,603.87 L280.2,603.89 L280.7,603.9 L281.2,603.9 L281.7,603.9 L282.2,603.9 L282.7,603.9 L283.2,603.9 L283.7,603.9 L284.2,603.9 L284.7,603.88 L285.2,603.82 L285.7,603.62 L286.2,603.08 L286.7,601.91 L287.2,599.84 L287.7,596.95 L288.2,593.89 L288.7,591.78 L289.2,591.57 L289.7,593.36 L290.2,596.32 L290.7,599.32 L291.2,601.57 L291.7,602.91 L292.2,603.54 L292.7,603.79 L293.2,603.87 L293.7,603.89 L294.2,603.87 L294.7,603.78 L295.2,603.47 L295.7,602.61 L296.2,600.65 L296.7,597.05 L297.2,591.75 L297.7,585.78 L298.2,581.2 L298.7,579.98 L299.2,582.72 L299.7,588.13 L300.2,594.03 L300.7,598.71 L301.2,601.6 L301.7,603.05 L302.2,603.63 L302.7,603.83 L303.2,603.88 L303.7,603.88 L304.2,603.82 L304.7,603.62 L305.2,603.04 L305.7,601.67 L306.2,599.04 L306.7,594.96 L307.2,590.08 L307.7,585.85 L308.2,583.84 L308.7,584.47 L309.2,586.49 L309.7,587.82 L310.2,587.21 L310.7,585.22 L311.2,583.81 L311.7,584.72 L312.2,588.21 L312.7,593.04 L313.2,597.57 L313.7,600.79 L314.2,602.62 L314.7,603.46 L315.2,603.77 L315.7,603.87 L316.2,603.89 L316.7,603.9 L317.2,603.9 L317.7,603.9 L318.2,603.9 L318.7,603.9 L319.2,603.9 L319.7,603.9 L320.2,603.89 L320.7,603.84 L321.2,603.71 L321.7,603.34 L322.2,602.55 L322.7,601.14 L323.2,599.17 L323.7,597.09 L324.2,595.66 L324.7,595.52 L325.2,596.73 L325.7,598.74 L326.2,600.78 L326.7,602.32 L327.2,603.22 L327.7,603.66 L328.2,603.83 L328.7,603.88 L329.2,603.9 L329.7,603.9 L330.2,603.9 L330.7,603.9 L331.2,603.9 L331.7,603.9 L332.2,603.9 L332.7,603.89 L333.2,603.86 L333.7,603.75 L334.2,603.36 L334.7,602.28 L335.2,599.84 L335.7,595.33 L336.2,588.71 L336.7,581.25 L337.2,575.52 L337.7,574 L338.2,577.43 L338.7,584.19 L339.2,591.57 L339.7,597.41 L340.2,601.03 L340.7,602.83 L341.2,603.57 L341.7,603.81 L342.2,603.88 L342.7,603.9 L343.2,603.9 L343.7,603.9 L344.2,603.9 L344.7,603.89 L345.2,603.86 L345.7,603.77 L346.2,603.56 L346.7,603.15 L347.2,602.53 L347.7,601.78 L348.2,601.15 L348.7,600.9 L349.2,601.15 L349.7,601.78 L350.2,602.53 L350.7,603.15 L351.2,603.56 L351.7,603.77 L352.2,603.86 L352.7,603.88 L353.2,603.86 L353.7,603.76 L354.2,603.44 L354.7,602.63 L355.2,600.92 L355.7,598.03 L356.2,594.19 L356.7,590.39 L357.2,588.05 L357.7,588.14 L358.2,590.37 L358.7,593.25 L359.2,595.13 L359.7,595.23 L360.2,594.04 L360.7,592.87 L361.2,592.95 L361.7,594.59 L362.2,597.22 L362.7,599.87 L363.2,601.85 L363.7,603.02 L364.2,603.58 L364.7,603.79 L365.2,603.8 L365.7,603.66 L366.2,603.28 L366.7,602.49 L367.2,601.23 L367.7,599.63 L368.2,598.16 L368.7,597.42 L369.2,597.75 L369.7,598.97 L370.2,600.53 L370.7,601.76 L371.2,602.2 L371.7,601.56 L372.2,599.72 L372.7,596.92 L373.2,593.88 L373.7,591.78 L374.2,591.57 L374.7,593.36 L375.2,596.32 L375.7,599.3 L376.2,601.51 L376.7,602.68 L377.2,602.84 L377.7,601.97 L378.2,599.88 L378.7,596.57 L379.2,592.59 L379.7,589.23 L380.2,587.9 L380.7,589.22 L381.2,592.56 L381.7,596.43 L382.2,599.42 L382.7,600.72 L383.2,600.03 L383.7,597.44 L384.2,593.53 L384.7,589.55 L385.2,587.13 L385.7,587.42 L386.2,590.29 L386.7,594.45 L387.2,598.38 L387.7,601.19 L388.2,602.78 L388.7,603.51 L389.2,603.79 L389.7,603.87 L390.2,603.89 L390.7,603.9 L391.2,603.9 L391.7,603.9 L392.2,603.9 L392.7,603.9 L393.2,603.9 L393.7,603.9 L394.2,603.9 L394.7,603.9 L395.2,603.9 L395.7,603.9 L396.2,603.9 L396.7,603.9 L397.2,603.9 L397.7,603.9 L398.2,603.9 L398.7,603.9 L399.2,603.9 L399.7,603.9 L400.2,603.9 L400.7,603.9 L401.2,603.9 L401.7,603.89 L402.2,603.86 L402.7,603.79 L403.2,603.63 L403.7,603.33 L404.2,602.89 L404.7,602.39 L405.2,602.01 L405.7,601.91 L406.2,602.14 L406.7,602.59 L407.2,603.08 L407.7,603.47 L408.2,603.71 L408.7,603.83 L409.2,603.88 L409.7,603.89 L410.2,603.89 L410.7,603.88 L411.2,603.85 L411.7,603.76 L412.2,603.58 L412.7,603.28 L413.2,602.91 L413.7,602.58 L414.2,602.41 L414.7,602.48 L415.2,602.77 L415.7,603.14 L416.2,603.47 L416.7,603.7 L417.2,603.82 L417.7,603.87 L418.2,603.89 L418.7,603.9 L419.2,603.9 L419.7,603.9 L420.2,603.9 L420.7,603.9 L421.2,603.9 L421.7,603.9 L422.2,603.9 L422.7,603.9 L423.2,603.9 L423.7,603.9 L424.2,603.9 L424.7,603.9 L425.2,603.9 L425.7,603.9 L426.2,603.9 L426.7,603.9 L427.2,603.9 L427.7,603.9 L428.2,603.9 L428.7,603.89 L429.2,603.88 L429.7,603.83 L430.2,603.73 L430.7,603.53 L431.2,603.21 L431.7,602.84 L432.2,602.52 L432.7,602.4 L433.2,602.52 L433.7,602.84 L434.2,603.21 L434.7,603.53 L435.2,603.73 L435.7,603.83" fill="none" stroke="#ff2020" stroke-width="1.0" stroke-linejoin="round"/><path d="M260.7,603.9 L261.2,603.9 L261.7,603.9 L262.2,603.9 L262.7,603.9 L263.2,603.9 L263.7,603.9 L264.2,603.9 L264.7,603.9 L265.2,603.9 L265.7,603.91 L266.2,603.93 L266.7,604.01 L267.2,604.23 L267.7,604.76 L268.2,605.77 L268.7,607.33 L269.2,609.2 L269.7,610.78 L270.2,611.4 L270.7,610.78 L271.2,609.2 L271.7,607.34 L272.2,605.79 L272.7,604.84 L273.2,604.54 L273.7,604.95 L274.2,606.38 L274.7,609.27 L275.2,613.74 L275.7,619.09 L276.2,623.61 L276.7,625.4 L277.2,623.61 L277.7,619.09 L278.2,613.74 L278.7,609.26 L279.2,606.35 L279.7,604.84 L280.2,604.21 L280.7,603.98 L281.2,603.92 L281.7,603.9 L282.2,603.9 L282.7,603.9 L283.2,603.9 L283.7,603.9 L284.2,603.9 L284.7,603.9 L285.2,603.9 L285.7,603.9 L286.2,603.9 L286.7,603.91 L287.2,603.95 L287.7,604.07 L288.2,604.43 L288.7,605.27 L289.2,606.89 L289.7,609.39 L290.2,612.38 L290.7,614.9 L291.2,615.9 L291.7,614.9 L292.2,612.38 L292.7,609.39 L293.2,606.89 L293.7,605.27 L294.2,604.43 L294.7,604.07 L295.2,603.95 L295.7,603.91 L296.2,603.92 L296.7,603.99 L297.2,604.23 L297.7,604.92 L298.2,606.56 L298.7,609.71 L299.2,614.57 L299.7,620.36 L300.2,625.26 L300.7,627.2 L301.2,625.26 L301.7,620.36 L302.2,614.57 L302.7,609.71 L303.2,606.56 L303.7,604.92 L304.2,604.23 L304.7,603.99 L305.2,603.92 L305.7,603.9 L306.2,603.9 L306.7,603.92 L307.2,603.98 L307.7,604.21 L308.2,604.84 L308.7,606.35 L309.2,609.26 L309.7,613.75 L310.2,619.14 L310.7,623.8 L311.2,626 L311.7,625.24 L312.2,622.77 L312.7,620.73 L313.2,620.43 L313.7,621.36 L314.2,621.79 L314.7,620.29 L315.2,616.82 L315.7,612.53 L316.2,608.76 L316.7,606.2 L317.2,604.82 L317.7,604.21 L318.2,603.99 L318.7,603.92 L319.2,603.9 L319.7,603.9 L320.2,603.9 L320.7,603.9 L321.2,603.91 L321.7,603.93 L322.2,604.02 L322.7,604.27 L323.2,604.87 L323.7,606.02 L324.2,607.79 L324.7,609.91 L325.2,611.69 L325.7,612.4 L326.2,611.69 L326.7,609.91 L327.2,607.79 L327.7,606.02 L328.2,604.87 L328.7,604.27 L329.2,604.02 L329.7,603.93 L330.2,603.91 L330.7,603.9 L331.2,603.9 L331.7,603.9 L332.2,603.9 L332.7,603.9 L333.2,603.9 L333.7,603.9 L334.2,603.9 L334.7,603.9 L335.2,603.9 L335.7,603.9 L336.2,603.92 L336.7,603.98 L337.2,604.18 L337.7,604.74 L338.2,606 L338.7,608.33 L339.2,611.75 L339.7,615.6 L340.2,618.56 L340.7,619.35 L341.2,617.58 L341.7,614.08 L342.2,610.27 L342.7,607.25 L343.2,605.38 L343.7,604.45 L344.2,604.07 L344.7,603.95 L345.2,603.91 L345.7,603.9 L346.2,603.9 L346.7,603.9 L347.2,603.9 L347.7,603.9 L348.2,603.9 L348.7,603.9 L349.2,603.9 L349.7,603.9 L350.2,603.9 L350.7,603.9 L351.2,603.9 L351.7,603.9 L352.2,603.92 L352.7,603.97 L353.2,604.15 L353.7,604.62 L354.2,605.65 L354.7,607.47 L355.2,610.02 L355.7,612.71 L356.2,614.56 L356.7,614.75 L357.2,613.18 L357.7,610.57 L358.2,607.93 L358.7,605.95 L359.2,604.78 L359.7,604.21 L360.2,603.99 L360.7,603.92 L361.2,603.91 L361.7,603.9 L362.2,603.9 L362.7,603.9 L363.2,603.9 L363.7,603.9 L364.2,603.9 L364.7,603.9 L365.2,603.9 L365.7,603.9 L366.2,603.9 L366.7,603.9 L367.2,603.9 L367.7,603.9 L368.2,603.9 L368.7,603.91 L369.2,603.95 L369.7,604.09 L370.2,604.5 L370.7,605.46 L371.2,607.32 L371.7,610.17 L372.2,613.59 L372.7,616.52 L373.2,617.81 L373.7,617.1 L374.2,615.24 L374.7,613.79 L375.2,613.95 L375.7,615.71 L376.2,617.8 L376.7,618.59 L377.2,617.25 L377.7,614.16 L378.2,610.54 L378.7,607.52 L379.2,605.57 L379.7,604.61 L380.2,604.38 L380.7,604.79 L381.2,606.08 L381.7,608.64 L382.2,612.6 L382.7,617.34 L383.2,621.37 L383.7,623.09 L384.2,621.92 L384.7,618.89 L385.2,616.01 L385.7,614.91 L386.2,615.75 L386.7,617.3 L387.2,617.87 L387.7,616.53 L388.2,613.6 L388.7,610.18 L389.2,607.32 L389.7,605.46 L390.2,604.5 L390.7,604.09 L391.2,603.95 L391.7,603.91 L392.2,603.9 L392.7,603.9 L393.2,603.9 L393.7,603.9 L394.2,603.9 L394.7,603.9 L395.2,603.9 L395.7,603.9 L396.2,603.9 L396.7,603.9 L397.2,603.9 L397.7,603.9 L398.2,603.9 L398.7,603.9 L399.2,603.9 L399.7,603.9 L400.2,603.9 L400.7,603.9 L401.2,603.9 L401.7,603.91 L402.2,603.94 L402.7,604.02 L403.2,604.21 L403.7,604.56 L404.2,605.06 L404.7,605.64 L405.2,606.08 L405.7,606.19 L406.2,605.93 L406.7,605.41 L407.2,604.85 L407.7,604.4 L408.2,604.12 L408.7,603.98 L409.2,603.93 L409.7,603.91 L410.2,603.9 L410.7,603.9 L411.2,603.91 L411.7,603.93 L412.2,604 L412.7,604.16 L413.2,604.47 L413.7,604.95 L414.2,605.53 L414.7,606.01 L415.2,606.2 L415.7,606.01 L416.2,605.53 L416.7,604.95 L417.2,604.47 L417.7,604.16 L418.2,604 L418.7,603.93 L419.2,603.91 L419.7,603.9 L420.2,603.9 L420.7,603.9 L421.2,603.9 L421.7,603.9 L422.2,603.9 L422.7,603.9 L423.2,603.9 L423.7,603.9 L424.2,603.9 L424.7,603.9 L425.2,603.9 L425.7,603.9 L426.2,603.9 L426.7,603.9 L427.2,603.9 L427.7,603.9 L428.2,603.9 L428.7,603.9 L429.2,603.9 L429.7,603.91 L430.2,603.92 L430.7,603.96 L431.2,604.05 L431.7,604.21 L432.2,604.46 L432.7,604.73 L433.2,604.94 L433.7,605 L434.2,604.87 L434.7,604.62 L435.2,604.35 L435.7,604.14" fill="none" stroke="#ff2020" stroke-width="1.0" stroke-linejoin="round"/></g><line x1="365.4" y1="448" x2="365.4" y2="635" stroke="#333" stroke-width="0.8" stroke-dasharray="2,1.5"/><line x1="260.1" y1="448" x2="436.3" y2="448" stroke="#5c5c5c" stroke-width="1.05"/><line x1="260.1" y1="635" x2="436.3" y2="635" stroke="#5c5c5c" stroke-width="1.05"/><line x1="260.7" y1="448" x2="260.7" y2="635" stroke="#8c8c8c" stroke-width="1.4"/><line x1="435.7" y1="448" x2="435.7" y2="635" stroke="#8c8c8c" stroke-width="1.4"/><line x1="260.7" y1="510.3" x2="435.7" y2="510.3" stroke="#444" stroke-width="0.9"/><line x1="260.7" y1="572.2" x2="435.7" y2="572.2" stroke="#444" stroke-width="0.9"/><line x1="258.7" y1="455.41" x2="260.7" y2="455.41" stroke="#555" stroke-width="0.8"/><text x="257.2" y="458.31" font-size="8.5" fill="#000" stroke="#000" stroke-width="0.1" text-anchor="end">3</text><line x1="258.7" y1="478.9" x2="260.7" y2="478.9" stroke="#555" stroke-width="0.8"/><text x="257.2" y="481.8" font-size="8.5" fill="#000" stroke="#000" stroke-width="0.1" text-anchor="end">0</text><line x1="258.7" y1="502.39" x2="260.7" y2="502.39" stroke="#555" stroke-width="0.8"/><text x="257.2" y="505.29" font-size="8.5" fill="#000" stroke="#000" stroke-width="0.1" text-anchor="end">-3</text><line x1="259.5" y1="467.15" x2="260.7" y2="467.15" stroke="#555" stroke-width="0.7"/><line x1="259.5" y1="490.64" x2="260.7" y2="490.64" stroke="#555" stroke-width="0.7"/><text x="246" y="478.9" font-size="8.5" fill="#000" stroke="#000" stroke-width="0.1" text-anchor="middle" transform="rotate(-90 246 478.9)">DOS</text><line x1="258.7" y1="517.91" x2="260.7" y2="517.91" stroke="#555" stroke-width="0.8"/><text x="257.2" y="520.81" font-size="8.5" fill="#000" stroke="#000" stroke-width="0.1" text-anchor="end">3</text><line x1="258.7" y1="541.4" x2="260.7" y2="541.4" stroke="#555" stroke-width="0.8"/><text x="257.2" y="544.3" font-size="8.5" fill="#000" stroke="#000" stroke-width="0.1" text-anchor="end">0</text><line x1="258.7" y1="564.89" x2="260.7" y2="564.89" stroke="#555" stroke-width="0.8"/><text x="257.2" y="567.79" font-size="8.5" fill="#000" stroke="#000" stroke-width="0.1" text-anchor="end">-3</text><line x1="259.5" y1="529.65" x2="260.7" y2="529.65" stroke="#555" stroke-width="0.7"/><line x1="259.5" y1="553.14" x2="260.7" y2="553.14" stroke="#555" stroke-width="0.7"/><text x="246" y="541.4" font-size="8.5" fill="#000" stroke="#000" stroke-width="0.1" text-anchor="middle" transform="rotate(-90 246 541.4)">DOS</text><line x1="258.7" y1="580.41" x2="260.7" y2="580.41" stroke="#555" stroke-width="0.8"/><text x="257.2" y="583.31" font-size="8.5" fill="#000" stroke="#000" stroke-width="0.1" text-anchor="end">3</text><line x1="258.7" y1="603.9" x2="260.7" y2="603.9" stroke="#555" stroke-width="0.8"/><text x="257.2" y="606.8" font-size="8.5" fill="#000" stroke="#000" stroke-width="0.1" text-anchor="end">0</text><line x1="258.7" y1="627.39" x2="260.7" y2="627.39" stroke="#555" stroke-width="0.8"/><text x="257.2" y="630.29" font-size="8.5" fill="#000" stroke="#000" stroke-width="0.1" text-anchor="end">-3</text><line x1="259.5" y1="592.15" x2="260.7" y2="592.15" stroke="#555" stroke-width="0.7"/><line x1="259.5" y1="615.64" x2="260.7" y2="615.64" stroke="#555" stroke-width="0.7"/><text x="246" y="603.9" font-size="8.5" fill="#000" stroke="#000" stroke-width="0.1" text-anchor="middle" transform="rotate(-90 246 603.9)">DOS</text><line x1="260.7" y1="635" x2="260.7" y2="637.2" stroke="#555" stroke-width="0.8"/><text x="260.7" y="646.5" font-size="8.5" fill="#000" stroke="#000" stroke-width="0.1" text-anchor="middle">-6</text><line x1="278.2" y1="635" x2="278.2" y2="636.3" stroke="#555" stroke-width="0.8"/><line x1="295.7" y1="635" x2="295.7" y2="637.2" stroke="#555" stroke-width="0.8"/><text x="295.7" y="646.5" font-size="8.5" fill="#000" stroke="#000" stroke-width="0.1" text-anchor="middle">-4</text><line x1="313.2" y1="635" x2="313.2" y2="636.3" stroke="#555" stroke-width="0.8"/><line x1="330.7" y1="635" x2="330.7" y2="637.2" stroke="#555" stroke-width="0.8"/><text x="330.7" y="646.5" font-size="8.5" fill="#000" stroke="#000" stroke-width="0.1" text-anchor="middle">-2</text><line x1="348.2" y1="635" x2="348.2" y2="636.3" stroke="#555" stroke-width="0.8"/><line x1="365.7" y1="635" x2="365.7" y2="637.2" stroke="#555" stroke-width="0.8"/><text x="365.7" y="646.5" font-size="8.5" fill="#000" stroke="#000" stroke-width="0.1" text-anchor="middle">0</text><line x1="383.2" y1="635" x2="383.2" y2="636.3" stroke="#555" stroke-width="0.8"/><line x1="400.7" y1="635" x2="400.7" y2="637.2" stroke="#555" stroke-width="0.8"/><text x="400.7" y="646.5" font-size="8.5" fill="#000" stroke="#000" stroke-width="0.1" text-anchor="middle">2</text><line x1="418.2" y1="635" x2="418.2" y2="636.3" stroke="#555" stroke-width="0.8"/><line x1="435.7" y1="635" x2="435.7" y2="637.2" stroke="#555" stroke-width="0.8"/><text x="435.7" y="646.5" font-size="8.5" fill="#000" stroke="#000" stroke-width="0.1" text-anchor="middle">4</text><text x="348.5" y="659.6" font-size="8.5" fill="#000" stroke="#000" stroke-width="0.1" text-anchor="middle">E-E<tspan font-size="5.5" dy="1.5">f</tspan></text><text x="262.7" y="457.5" font-size="8.5" fill="#000" stroke="#000" stroke-width="0.1" text-anchor="start">Ru <tspan font-style="italic">d</tspan></text><text x="262.7" y="506.6" font-size="8.5" fill="#000" stroke="#000" stroke-width="0.1" text-anchor="start">Ru</text><text x="262.7" y="518.5" font-size="8.5" fill="#000" stroke="#000" stroke-width="0.1" text-anchor="start">Ru <tspan font-style="italic">d</tspan></text><text x="262.7" y="569" font-size="8.5" fill="#000" stroke="#000" stroke-width="0.1" text-anchor="start">C-Ru</text><text x="262.7" y="579.9" font-size="8.5" fill="#000" stroke="#000" stroke-width="0.1" text-anchor="start">Ru <tspan font-style="italic">d</tspan></text><text x="262.7" y="634.2" font-size="8.5" fill="#000" stroke="#000" stroke-width="0.1" text-anchor="start">MnBTC-Ru</text><text x="377.6" y="584.3" font-size="8.5" fill="#000" stroke="#000" stroke-width="0.1" text-anchor="start">More electrons</text><line x1="385.4" y1="601.8" x2="396.91" y2="589.24" stroke="#111" stroke-width="0.8"/><path d="M398.6,587.4 L397.6,590.56 L395.54,588.67 Z" fill="#111"/><defs><linearGradient id="fadeL" x1="0" y1="0" x2="1" y2="0"><stop offset="0" stop-color="#fff" stop-opacity="1"/><stop offset="1" stop-color="#fff" stop-opacity="0"/></linearGradient><linearGradient id="fadeR" x1="1" y1="0" x2="0" y2="0"><stop offset="0" stop-color="#fff" stop-opacity="1"/><stop offset="1" stop-color="#fff" stop-opacity="0"/></linearGradient><linearGradient id="fadeT" x1="0" y1="0" x2="0" y2="1"><stop offset="0" stop-color="#fff" stop-opacity="1"/><stop offset="1" stop-color="#fff" stop-opacity="0"/></linearGradient><linearGradient id="fadeB" x1="0" y1="1" x2="0" y2="0"><stop offset="0" stop-color="#fff" stop-opacity="1"/><stop offset="1" stop-color="#fff" stop-opacity="0"/></linearGradient><radialGradient id="ballG" cx="0.35" cy="0.35" r="0.7"><stop offset="0" stop-color="#e4e3d2"/><stop offset="0.5" stop-color="#a9a88f"/><stop offset="1" stop-color="#6f6e58"/></radialGradient><radialGradient id="ballO" cx="0.35" cy="0.35" r="0.7"><stop offset="0" stop-color="#f3e6fa"/><stop offset="0.5" stop-color="#b88fd4"/><stop offset="1" stop-color="#8660a6"/></radialGradient><radialGradient id="ballH" cx="0.35" cy="0.35" r="0.7"><stop offset="0" stop-color="#ffffff"/><stop offset="0.6" stop-color="#dcdcdc"/><stop offset="1" stop-color="#9a9a9a"/></radialGradient><radialGradient id="ballMn" cx="0.35" cy="0.35" r="0.7"><stop offset="0" stop-color="#bfe4ff"/><stop offset="0.45" stop-color="#2f86e0"/><stop offset="1" stop-color="#1453a0"/></radialGradient><radialGradient id="ballRu" cx="0.4" cy="0.4" r="0.7"><stop offset="0" stop-color="#fbe2c8"/><stop offset="0.5" stop-color="#e5a66a"/><stop offset="1" stop-color="#b97a40"/></radialGradient></defs><clipPath id="clipLat"><rect x="493" y="441" width="183" height="80"/></clipPath><g clip-path="url(#clipLat)"><line x1="489.6" y1="444.4" x2="495.55" y2="454.6" stroke="#adab94" stroke-width="1.5"/><line x1="513.4" y1="444.4" x2="525.3" y2="444.4" stroke="#adab94" stroke-width="1.5"/><line x1="513.4" y1="444.4" x2="507.45" y2="454.6" stroke="#adab94" stroke-width="1.5"/><line x1="525.3" y1="444.4" x2="531.25" y2="454.6" stroke="#adab94" stroke-width="1.5"/><line x1="549.1" y1="444.4" x2="561" y2="444.4" stroke="#adab94" stroke-width="1.5"/><line x1="549.1" y1="444.4" x2="543.15" y2="454.6" stroke="#adab94" stroke-width="1.5"/><line x1="561" y1="444.4" x2="566.95" y2="454.6" stroke="#adab94" stroke-width="1.5"/><line x1="584.8" y1="444.4" x2="596.7" y2="444.4" stroke="#adab94" stroke-width="1.5"/><line x1="584.8" y1="444.4" x2="578.85" y2="454.6" stroke="#adab94" stroke-width="1.5"/><line x1="596.7" y1="444.4" x2="602.65" y2="454.6" stroke="#adab94" stroke-width="1.5"/><line x1="620.5" y1="444.4" x2="632.4" y2="444.4" stroke="#adab94" stroke-width="1.5"/><line x1="620.5" y1="444.4" x2="614.55" y2="454.6" stroke="#adab94" stroke-width="1.5"/><line x1="632.4" y1="444.4" x2="638.35" y2="454.6" stroke="#adab94" stroke-width="1.5"/><line x1="656.2" y1="444.4" x2="668.1" y2="444.4" stroke="#adab94" stroke-width="1.5"/><line x1="656.2" y1="444.4" x2="650.25" y2="454.6" stroke="#adab94" stroke-width="1.5"/><line x1="668.1" y1="444.4" x2="674.05" y2="454.6" stroke="#adab94" stroke-width="1.5"/><line x1="495.55" y1="454.6" x2="507.45" y2="454.6" stroke="#adab94" stroke-width="1.5"/><line x1="495.55" y1="454.6" x2="489.6" y2="464.8" stroke="#adab94" stroke-width="1.5"/><line x1="507.45" y1="454.6" x2="513.4" y2="464.8" stroke="#adab94" stroke-width="1.5"/><line x1="531.25" y1="454.6" x2="543.15" y2="454.6" stroke="#adab94" stroke-width="1.5"/><line x1="531.25" y1="454.6" x2="525.3" y2="464.8" stroke="#adab94" stroke-width="1.5"/><line x1="543.15" y1="454.6" x2="549.1" y2="464.8" stroke="#adab94" stroke-width="1.5"/><line x1="566.95" y1="454.6" x2="578.85" y2="454.6" stroke="#adab94" stroke-width="1.5"/><line x1="566.95" y1="454.6" x2="561" y2="464.8" stroke="#adab94" stroke-width="1.5"/><line x1="578.85" y1="454.6" x2="584.8" y2="464.8" stroke="#adab94" stroke-width="1.5"/><line x1="602.65" y1="454.6" x2="614.55" y2="454.6" stroke="#adab94" stroke-width="1.5"/><line x1="602.65" y1="454.6" x2="596.7" y2="464.8" stroke="#adab94" stroke-width="1.5"/><line x1="614.55" y1="454.6" x2="620.5" y2="464.8" stroke="#adab94" stroke-width="1.5"/><line x1="638.35" y1="454.6" x2="650.25" y2="454.6" stroke="#adab94" stroke-width="1.5"/><line x1="638.35" y1="454.6" x2="632.4" y2="464.8" stroke="#adab94" stroke-width="1.5"/><line x1="650.25" y1="454.6" x2="656.2" y2="464.8" stroke="#adab94" stroke-width="1.5"/><line x1="674.05" y1="454.6" x2="685.95" y2="454.6" stroke="#adab94" stroke-width="1.5"/><line x1="674.05" y1="454.6" x2="668.1" y2="464.8" stroke="#adab94" stroke-width="1.5"/><line x1="685.95" y1="454.6" x2="691.9" y2="464.8" stroke="#adab94" stroke-width="1.5"/><line x1="489.6" y1="464.8" x2="495.55" y2="475" stroke="#adab94" stroke-width="1.5"/><line x1="513.4" y1="464.8" x2="525.3" y2="464.8" stroke="#adab94" stroke-width="1.5"/><line x1="513.4" y1="464.8" x2="507.45" y2="475" stroke="#adab94" stroke-width="1.5"/><line x1="525.3" y1="464.8" x2="531.25" y2="475" stroke="#adab94" stroke-width="1.5"/><line x1="549.1" y1="464.8" x2="561" y2="464.8" stroke="#adab94" stroke-width="1.5"/><line x1="549.1" y1="464.8" x2="543.15" y2="475" stroke="#adab94" stroke-width="1.5"/><line x1="561" y1="464.8" x2="566.95" y2="475" stroke="#adab94" stroke-width="1.5"/><line x1="584.8" y1="464.8" x2="596.7" y2="464.8" stroke="#adab94" stroke-width="1.5"/><line x1="584.8" y1="464.8" x2="578.85" y2="475" stroke="#adab94" stroke-width="1.5"/><line x1="596.7" y1="464.8" x2="602.65" y2="475" stroke="#adab94" stroke-width="1.5"/><line x1="620.5" y1="464.8" x2="632.4" y2="464.8" stroke="#adab94" stroke-width="1.5"/><line x1="620.5" y1="464.8" x2="614.55" y2="475" stroke="#adab94" stroke-width="1.5"/><line x1="632.4" y1="464.8" x2="638.35" y2="475" stroke="#adab94" stroke-width="1.5"/><line x1="656.2" y1="464.8" x2="668.1" y2="464.8" stroke="#adab94" stroke-width="1.5"/><line x1="656.2" y1="464.8" x2="650.25" y2="475" stroke="#adab94" stroke-width="1.5"/><line x1="668.1" y1="464.8" x2="674.05" y2="475" stroke="#adab94" stroke-width="1.5"/><line x1="495.55" y1="475" x2="507.45" y2="475" stroke="#adab94" stroke-width="1.5"/><line x1="495.55" y1="475" x2="489.6" y2="485.2" stroke="#adab94" stroke-width="1.5"/><line x1="507.45" y1="475" x2="513.4" y2="485.2" stroke="#adab94" stroke-width="1.5"/><line x1="531.25" y1="475" x2="543.15" y2="475" stroke="#adab94" stroke-width="1.5"/><line x1="531.25" y1="475" x2="525.3" y2="485.2" stroke="#adab94" stroke-width="1.5"/><line x1="543.15" y1="475" x2="549.1" y2="485.2" stroke="#adab94" stroke-width="1.5"/><line x1="566.95" y1="475" x2="578.85" y2="475" stroke="#adab94" stroke-width="1.5"/><line x1="566.95" y1="475" x2="561" y2="485.2" stroke="#adab94" stroke-width="1.5"/><line x1="578.85" y1="475" x2="584.8" y2="485.2" stroke="#adab94" stroke-width="1.5"/><line x1="602.65" y1="475" x2="614.55" y2="475" stroke="#adab94" stroke-width="1.5"/><line x1="602.65" y1="475" x2="596.7" y2="485.2" stroke="#adab94" stroke-width="1.5"/><line x1="614.55" y1="475" x2="620.5" y2="485.2" stroke="#adab94" stroke-width="1.5"/><line x1="638.35" y1="475" x2="650.25" y2="475" stroke="#adab94" stroke-width="1.5"/><line x1="638.35" y1="475" x2="632.4" y2="485.2" stroke="#adab94" stroke-width="1.5"/><line x1="650.25" y1="475" x2="656.2" y2="485.2" stroke="#adab94" stroke-width="1.5"/><line x1="674.05" y1="475" x2="685.95" y2="475" stroke="#adab94" stroke-width="1.5"/><line x1="674.05" y1="475" x2="668.1" y2="485.2" stroke="#adab94" stroke-width="1.5"/><line x1="685.95" y1="475" x2="691.9" y2="485.2" stroke="#adab94" stroke-width="1.5"/><line x1="489.6" y1="485.2" x2="495.55" y2="495.4" stroke="#adab94" stroke-width="1.5"/><line x1="513.4" y1="485.2" x2="525.3" y2="485.2" stroke="#adab94" stroke-width="1.5"/><line x1="513.4" y1="485.2" x2="507.45" y2="495.4" stroke="#adab94" stroke-width="1.5"/><line x1="525.3" y1="485.2" x2="531.25" y2="495.4" stroke="#adab94" stroke-width="1.5"/><line x1="549.1" y1="485.2" x2="561" y2="485.2" stroke="#adab94" stroke-width="1.5"/><line x1="549.1" y1="485.2" x2="543.15" y2="495.4" stroke="#adab94" stroke-width="1.5"/><line x1="561" y1="485.2" x2="566.95" y2="495.4" stroke="#adab94" stroke-width="1.5"/><line x1="584.8" y1="485.2" x2="596.7" y2="485.2" stroke="#adab94" stroke-width="1.5"/><line x1="584.8" y1="485.2" x2="578.85" y2="495.4" stroke="#adab94" stroke-width="1.5"/><line x1="596.7" y1="485.2" x2="602.65" y2="495.4" stroke="#adab94" stroke-width="1.5"/><line x1="620.5" y1="485.2" x2="632.4" y2="485.2" stroke="#adab94" stroke-width="1.5"/><line x1="620.5" y1="485.2" x2="614.55" y2="495.4" stroke="#adab94" stroke-width="1.5"/><line x1="632.4" y1="485.2" x2="638.35" y2="495.4" stroke="#adab94" stroke-width="1.5"/><line x1="656.2" y1="485.2" x2="668.1" y2="485.2" stroke="#adab94" stroke-width="1.5"/><line x1="656.2" y1="485.2" x2="650.25" y2="495.4" stroke="#adab94" stroke-width="1.5"/><line x1="668.1" y1="485.2" x2="674.05" y2="495.4" stroke="#adab94" stroke-width="1.5"/><line x1="495.55" y1="495.4" x2="507.45" y2="495.4" stroke="#adab94" stroke-width="1.5"/><line x1="495.55" y1="495.4" x2="489.6" y2="505.6" stroke="#adab94" stroke-width="1.5"/><line x1="507.45" y1="495.4" x2="513.4" y2="505.6" stroke="#adab94" stroke-width="1.5"/><line x1="531.25" y1="495.4" x2="543.15" y2="495.4" stroke="#adab94" stroke-width="1.5"/><line x1="531.25" y1="495.4" x2="525.3" y2="505.6" stroke="#adab94" stroke-width="1.5"/><line x1="543.15" y1="495.4" x2="549.1" y2="505.6" stroke="#adab94" stroke-width="1.5"/><line x1="566.95" y1="495.4" x2="578.85" y2="495.4" stroke="#adab94" stroke-width="1.5"/><line x1="566.95" y1="495.4" x2="561" y2="505.6" stroke="#adab94" stroke-width="1.5"/><line x1="578.85" y1="495.4" x2="584.8" y2="505.6" stroke="#adab94" stroke-width="1.5"/><line x1="602.65" y1="495.4" x2="614.55" y2="495.4" stroke="#adab94" stroke-width="1.5"/><line x1="602.65" y1="495.4" x2="596.7" y2="505.6" stroke="#adab94" stroke-width="1.5"/><line x1="614.55" y1="495.4" x2="620.5" y2="505.6" stroke="#adab94" stroke-width="1.5"/><line x1="638.35" y1="495.4" x2="650.25" y2="495.4" stroke="#adab94" stroke-width="1.5"/><line x1="638.35" y1="495.4" x2="632.4" y2="505.6" stroke="#adab94" stroke-width="1.5"/><line x1="650.25" y1="495.4" x2="656.2" y2="505.6" stroke="#adab94" stroke-width="1.5"/><line x1="674.05" y1="495.4" x2="685.95" y2="495.4" stroke="#adab94" stroke-width="1.5"/><line x1="674.05" y1="495.4" x2="668.1" y2="505.6" stroke="#adab94" stroke-width="1.5"/><line x1="685.95" y1="495.4" x2="691.9" y2="505.6" stroke="#adab94" stroke-width="1.5"/><line x1="489.6" y1="505.6" x2="495.55" y2="515.8" stroke="#adab94" stroke-width="1.5"/><line x1="513.4" y1="505.6" x2="525.3" y2="505.6" stroke="#adab94" stroke-width="1.5"/><line x1="513.4" y1="505.6" x2="507.45" y2="515.8" stroke="#adab94" stroke-width="1.5"/><line x1="525.3" y1="505.6" x2="531.25" y2="515.8" stroke="#adab94" stroke-width="1.5"/><line x1="549.1" y1="505.6" x2="561" y2="505.6" stroke="#adab94" stroke-width="1.5"/><line x1="549.1" y1="505.6" x2="543.15" y2="515.8" stroke="#adab94" stroke-width="1.5"/><line x1="561" y1="505.6" x2="566.95" y2="515.8" stroke="#adab94" stroke-width="1.5"/><line x1="584.8" y1="505.6" x2="596.7" y2="505.6" stroke="#adab94" stroke-width="1.5"/><line x1="584.8" y1="505.6" x2="578.85" y2="515.8" stroke="#adab94" stroke-width="1.5"/><line x1="596.7" y1="505.6" x2="602.65" y2="515.8" stroke="#adab94" stroke-width="1.5"/><line x1="620.5" y1="505.6" x2="632.4" y2="505.6" stroke="#adab94" stroke-width="1.5"/><line x1="620.5" y1="505.6" x2="614.55" y2="515.8" stroke="#adab94" stroke-width="1.5"/><line x1="632.4" y1="505.6" x2="638.35" y2="515.8" stroke="#adab94" stroke-width="1.5"/><line x1="656.2" y1="505.6" x2="668.1" y2="505.6" stroke="#adab94" stroke-width="1.5"/><line x1="656.2" y1="505.6" x2="650.25" y2="515.8" stroke="#adab94" stroke-width="1.5"/><line x1="668.1" y1="505.6" x2="674.05" y2="515.8" stroke="#adab94" stroke-width="1.5"/><line x1="495.55" y1="515.8" x2="507.45" y2="515.8" stroke="#adab94" stroke-width="1.5"/><line x1="531.25" y1="515.8" x2="543.15" y2="515.8" stroke="#adab94" stroke-width="1.5"/><line x1="566.95" y1="515.8" x2="578.85" y2="515.8" stroke="#adab94" stroke-width="1.5"/><line x1="602.65" y1="515.8" x2="614.55" y2="515.8" stroke="#adab94" stroke-width="1.5"/><line x1="638.35" y1="515.8" x2="650.25" y2="515.8" stroke="#adab94" stroke-width="1.5"/><line x1="674.05" y1="515.8" x2="685.95" y2="515.8" stroke="#adab94" stroke-width="1.5"/><line x1="489.6" y1="444.4" x2="495.55" y2="434.2" stroke="#adab94" stroke-width="1.5"/><line x1="513.4" y1="444.4" x2="507.45" y2="434.2" stroke="#adab94" stroke-width="1.5"/><line x1="525.3" y1="444.4" x2="531.25" y2="434.2" stroke="#adab94" stroke-width="1.5"/><line x1="549.1" y1="444.4" x2="543.15" y2="434.2" stroke="#adab94" stroke-width="1.5"/><line x1="561" y1="444.4" x2="566.95" y2="434.2" stroke="#adab94" stroke-width="1.5"/><line x1="584.8" y1="444.4" x2="578.85" y2="434.2" stroke="#adab94" stroke-width="1.5"/><line x1="596.7" y1="444.4" x2="602.65" y2="434.2" stroke="#adab94" stroke-width="1.5"/><line x1="620.5" y1="444.4" x2="614.55" y2="434.2" stroke="#adab94" stroke-width="1.5"/><line x1="632.4" y1="444.4" x2="638.35" y2="434.2" stroke="#adab94" stroke-width="1.5"/><line x1="656.2" y1="444.4" x2="650.25" y2="434.2" stroke="#adab94" stroke-width="1.5"/><line x1="668.1" y1="444.4" x2="674.05" y2="434.2" stroke="#adab94" stroke-width="1.5"/><circle cx="489.6" cy="444.4" r="2.2" fill="#d6d5c4" stroke="#84836c" stroke-width="0.95"/><circle cx="513.4" cy="444.4" r="2.2" fill="#d6d5c4" stroke="#84836c" stroke-width="0.95"/><circle cx="525.3" cy="444.4" r="2.2" fill="#d6d5c4" stroke="#84836c" stroke-width="0.95"/><circle cx="549.1" cy="444.4" r="2.2" fill="#d6d5c4" stroke="#84836c" stroke-width="0.95"/><circle cx="561" cy="444.4" r="2.2" fill="#d6d5c4" stroke="#84836c" stroke-width="0.95"/><circle cx="584.8" cy="444.4" r="2.2" fill="#d6d5c4" stroke="#84836c" stroke-width="0.95"/><circle cx="596.7" cy="444.4" r="2.2" fill="#d6d5c4" stroke="#84836c" stroke-width="0.95"/><circle cx="620.5" cy="444.4" r="2.2" fill="#d6d5c4" stroke="#84836c" stroke-width="0.95"/><circle cx="632.4" cy="444.4" r="2.2" fill="#d6d5c4" stroke="#84836c" stroke-width="0.95"/><circle cx="656.2" cy="444.4" r="2.2" fill="#d6d5c4" stroke="#84836c" stroke-width="0.95"/><circle cx="668.1" cy="444.4" r="2.2" fill="#d6d5c4" stroke="#84836c" stroke-width="0.95"/><circle cx="495.55" cy="454.6" r="2.2" fill="#d6d5c4" stroke="#84836c" stroke-width="0.95"/><circle cx="507.45" cy="454.6" r="2.2" fill="#d6d5c4" stroke="#84836c" stroke-width="0.95"/><circle cx="531.25" cy="454.6" r="2.2" fill="#d6d5c4" stroke="#84836c" stroke-width="0.95"/><circle cx="543.15" cy="454.6" r="2.2" fill="#d6d5c4" stroke="#84836c" stroke-width="0.95"/><circle cx="566.95" cy="454.6" r="2.2" fill="#d6d5c4" stroke="#84836c" stroke-width="0.95"/><circle cx="578.85" cy="454.6" r="2.2" fill="#d6d5c4" stroke="#84836c" stroke-width="0.95"/><circle cx="602.65" cy="454.6" r="2.2" fill="#d6d5c4" stroke="#84836c" stroke-width="0.95"/><circle cx="614.55" cy="454.6" r="2.2" fill="#d6d5c4" stroke="#84836c" stroke-width="0.95"/><circle cx="638.35" cy="454.6" r="2.2" fill="#d6d5c4" stroke="#84836c" stroke-width="0.95"/><circle cx="650.25" cy="454.6" r="2.2" fill="#d6d5c4" stroke="#84836c" stroke-width="0.95"/><circle cx="674.05" cy="454.6" r="2.2" fill="#d6d5c4" stroke="#84836c" stroke-width="0.95"/><circle cx="685.95" cy="454.6" r="2.2" fill="#d6d5c4" stroke="#84836c" stroke-width="0.95"/><circle cx="489.6" cy="464.8" r="2.2" fill="#d6d5c4" stroke="#84836c" stroke-width="0.95"/><circle cx="513.4" cy="464.8" r="2.2" fill="#d6d5c4" stroke="#84836c" stroke-width="0.95"/><circle cx="525.3" cy="464.8" r="2.2" fill="#d6d5c4" stroke="#84836c" stroke-width="0.95"/><circle cx="549.1" cy="464.8" r="2.2" fill="#d6d5c4" stroke="#84836c" stroke-width="0.95"/><circle cx="561" cy="464.8" r="2.2" fill="#d6d5c4" stroke="#84836c" stroke-width="0.95"/><circle cx="584.8" cy="464.8" r="2.2" fill="#d6d5c4" stroke="#84836c" stroke-width="0.95"/><circle cx="596.7" cy="464.8" r="2.2" fill="#d6d5c4" stroke="#84836c" stroke-width="0.95"/><circle cx="620.5" cy="464.8" r="2.2" fill="#d6d5c4" stroke="#84836c" stroke-width="0.95"/><circle cx="632.4" cy="464.8" r="2.2" fill="#d6d5c4" stroke="#84836c" stroke-width="0.95"/><circle cx="656.2" cy="464.8" r="2.2" fill="#d6d5c4" stroke="#84836c" stroke-width="0.95"/><circle cx="668.1" cy="464.8" r="2.2" fill="#d6d5c4" stroke="#84836c" stroke-width="0.95"/><circle cx="495.55" cy="475" r="2.2" fill="#d6d5c4" stroke="#84836c" stroke-width="0.95"/><circle cx="507.45" cy="475" r="2.2" fill="#d6d5c4" stroke="#84836c" stroke-width="0.95"/><circle cx="531.25" cy="475" r="2.2" fill="#d6d5c4" stroke="#84836c" stroke-width="0.95"/><circle cx="543.15" cy="475" r="2.2" fill="#d6d5c4" stroke="#84836c" stroke-width="0.95"/><circle cx="566.95" cy="475" r="2.2" fill="#d6d5c4" stroke="#84836c" stroke-width="0.95"/><circle cx="578.85" cy="475" r="2.2" fill="#d6d5c4" stroke="#84836c" stroke-width="0.95"/><circle cx="602.65" cy="475" r="2.2" fill="#d6d5c4" stroke="#84836c" stroke-width="0.95"/><circle cx="614.55" cy="475" r="2.2" fill="#d6d5c4" stroke="#84836c" stroke-width="0.95"/><circle cx="638.35" cy="475" r="2.2" fill="#d6d5c4" stroke="#84836c" stroke-width="0.95"/><circle cx="650.25" cy="475" r="2.2" fill="#d6d5c4" stroke="#84836c" stroke-width="0.95"/><circle cx="674.05" cy="475" r="2.2" fill="#d6d5c4" stroke="#84836c" stroke-width="0.95"/><circle cx="685.95" cy="475" r="2.2" fill="#d6d5c4" stroke="#84836c" stroke-width="0.95"/><circle cx="489.6" cy="485.2" r="2.2" fill="#d6d5c4" stroke="#84836c" stroke-width="0.95"/><circle cx="513.4" cy="485.2" r="2.2" fill="#d6d5c4" stroke="#84836c" stroke-width="0.95"/><circle cx="525.3" cy="485.2" r="2.2" fill="#d6d5c4" stroke="#84836c" stroke-width="0.95"/><circle cx="549.1" cy="485.2" r="2.2" fill="#d6d5c4" stroke="#84836c" stroke-width="0.95"/><circle cx="561" cy="485.2" r="2.2" fill="#d6d5c4" stroke="#84836c" stroke-width="0.95"/><circle cx="584.8" cy="485.2" r="2.2" fill="#d6d5c4" stroke="#84836c" stroke-width="0.95"/><circle cx="596.7" cy="485.2" r="2.2" fill="#d6d5c4" stroke="#84836c" stroke-width="0.95"/><circle cx="620.5" cy="485.2" r="2.2" fill="#d6d5c4" stroke="#84836c" stroke-width="0.95"/><circle cx="632.4" cy="485.2" r="2.2" fill="#d6d5c4" stroke="#84836c" stroke-width="0.95"/><circle cx="656.2" cy="485.2" r="2.2" fill="#d6d5c4" stroke="#84836c" stroke-width="0.95"/><circle cx="668.1" cy="485.2" r="2.2" fill="#d6d5c4" stroke="#84836c" stroke-width="0.95"/><circle cx="495.55" cy="495.4" r="2.2" fill="#d6d5c4" stroke="#84836c" stroke-width="0.95"/><circle cx="507.45" cy="495.4" r="2.2" fill="#d6d5c4" stroke="#84836c" stroke-width="0.95"/><circle cx="531.25" cy="495.4" r="2.2" fill="#d6d5c4" stroke="#84836c" stroke-width="0.95"/><circle cx="543.15" cy="495.4" r="2.2" fill="#d6d5c4" stroke="#84836c" stroke-width="0.95"/><circle cx="566.95" cy="495.4" r="2.2" fill="#d6d5c4" stroke="#84836c" stroke-width="0.95"/><circle cx="578.85" cy="495.4" r="2.2" fill="#d6d5c4" stroke="#84836c" stroke-width="0.95"/><circle cx="602.65" cy="495.4" r="2.2" fill="#d6d5c4" stroke="#84836c" stroke-width="0.95"/><circle cx="614.55" cy="495.4" r="2.2" fill="#d6d5c4" stroke="#84836c" stroke-width="0.95"/><circle cx="638.35" cy="495.4" r="2.2" fill="#d6d5c4" stroke="#84836c" stroke-width="0.95"/><circle cx="650.25" cy="495.4" r="2.2" fill="#d6d5c4" stroke="#84836c" stroke-width="0.95"/><circle cx="674.05" cy="495.4" r="2.2" fill="#d6d5c4" stroke="#84836c" stroke-width="0.95"/><circle cx="685.95" cy="495.4" r="2.2" fill="#d6d5c4" stroke="#84836c" stroke-width="0.95"/><circle cx="489.6" cy="505.6" r="2.2" fill="#d6d5c4" stroke="#84836c" stroke-width="0.95"/><circle cx="513.4" cy="505.6" r="2.2" fill="#d6d5c4" stroke="#84836c" stroke-width="0.95"/><circle cx="525.3" cy="505.6" r="2.2" fill="#d6d5c4" stroke="#84836c" stroke-width="0.95"/><circle cx="549.1" cy="505.6" r="2.2" fill="#d6d5c4" stroke="#84836c" stroke-width="0.95"/><circle cx="561" cy="505.6" r="2.2" fill="#d6d5c4" stroke="#84836c" stroke-width="0.95"/><circle cx="584.8" cy="505.6" r="2.2" fill="#d6d5c4" stroke="#84836c" stroke-width="0.95"/><circle cx="596.7" cy="505.6" r="2.2" fill="#d6d5c4" stroke="#84836c" stroke-width="0.95"/><circle cx="620.5" cy="505.6" r="2.2" fill="#d6d5c4" stroke="#84836c" stroke-width="0.95"/><circle cx="632.4" cy="505.6" r="2.2" fill="#d6d5c4" stroke="#84836c" stroke-width="0.95"/><circle cx="656.2" cy="505.6" r="2.2" fill="#d6d5c4" stroke="#84836c" stroke-width="0.95"/><circle cx="668.1" cy="505.6" r="2.2" fill="#d6d5c4" stroke="#84836c" stroke-width="0.95"/><circle cx="495.55" cy="515.8" r="2.2" fill="#d6d5c4" stroke="#84836c" stroke-width="0.95"/><circle cx="507.45" cy="515.8" r="2.2" fill="#d6d5c4" stroke="#84836c" stroke-width="0.95"/><circle cx="531.25" cy="515.8" r="2.2" fill="#d6d5c4" stroke="#84836c" stroke-width="0.95"/><circle cx="543.15" cy="515.8" r="2.2" fill="#d6d5c4" stroke="#84836c" stroke-width="0.95"/><circle cx="566.95" cy="515.8" r="2.2" fill="#d6d5c4" stroke="#84836c" stroke-width="0.95"/><circle cx="578.85" cy="515.8" r="2.2" fill="#d6d5c4" stroke="#84836c" stroke-width="0.95"/><circle cx="602.65" cy="515.8" r="2.2" fill="#d6d5c4" stroke="#84836c" stroke-width="0.95"/><circle cx="614.55" cy="515.8" r="2.2" fill="#d6d5c4" stroke="#84836c" stroke-width="0.95"/><circle cx="638.35" cy="515.8" r="2.2" fill="#d6d5c4" stroke="#84836c" stroke-width="0.95"/><circle cx="650.25" cy="515.8" r="2.2" fill="#d6d5c4" stroke="#84836c" stroke-width="0.95"/><circle cx="674.05" cy="515.8" r="2.2" fill="#d6d5c4" stroke="#84836c" stroke-width="0.95"/><circle cx="685.95" cy="515.8" r="2.2" fill="#d6d5c4" stroke="#84836c" stroke-width="0.95"/></g><rect x="490" y="436" width="14" height="90" fill="url(#fadeL)" stroke="none" stroke-width="1"/><rect x="658" y="436" width="18" height="90" fill="url(#fadeR)" stroke="none" stroke-width="1"/><rect x="470" y="441" width="215" height="10" fill="url(#fadeT)" stroke="none" stroke-width="1"/><rect x="470" y="513" width="215" height="8" fill="url(#fadeB)" stroke="none" stroke-width="1"/><rect x="470" y="436" width="215" height="5" fill="#fff" stroke="none" stroke-width="1"/><circle cx="476.5" cy="436.8" r="1.7" fill="#000" stroke="none" stroke-width="1"/><text x="481" y="440.4" font-size="8.2" fill="#000" stroke="#000" stroke-width="0.1" text-anchor="start">Low electron density of Ru</text><g><path d="M576,452 L601,452 Q604,453 604,458 L604,512 Q603,517 599,517 L578,517 Q575,516 575,512 Z" fill="#43d6e4"/><path d="M561,465 Q570,460 579,464 L582,470 L582,504 Q572,510 561,507 Q557,498 558,487 Q557,474 561,465 Z" fill="#43d6e4"/><ellipse cx="553.8" cy="486" rx="7.2" ry="7.8" fill="#43d6e4" opacity="1"/><ellipse cx="562" cy="471" rx="5" ry="5" fill="#43d6e4" opacity="1"/><ellipse cx="562" cy="502" rx="5" ry="5" fill="#43d6e4" opacity="1"/><ellipse cx="554.6" cy="486.2" rx="6.6" ry="2.6" fill="#e6d53a" opacity="1"/><ellipse cx="549.5" cy="486" rx="1.6" ry="3.6" fill="#e6d53a" opacity="1"/><ellipse cx="556" cy="481" rx="4" ry="1.5" fill="#e6d53a" opacity="0.8"/><ellipse cx="556" cy="491.5" rx="4" ry="1.5" fill="#e6d53a" opacity="0.8"/><ellipse cx="569.5" cy="472.5" rx="10" ry="7.5" fill="#e6d53a" opacity="1"/><ellipse cx="569.5" cy="476" rx="7.0" ry="5.2" fill="#43d6e4" opacity="1"/><ellipse cx="569.5" cy="501" rx="10" ry="7.5" fill="#e6d53a" opacity="1"/><ellipse cx="569.5" cy="497.5" rx="7.0" ry="5.2" fill="#43d6e4" opacity="1"/><ellipse cx="561" cy="471" rx="3.5" ry="4.5" fill="#e6d53a" opacity="1" transform="rotate(-30 561 471)"/><ellipse cx="561" cy="502" rx="3.5" ry="4.5" fill="#e6d53a" opacity="1" transform="rotate(30 561 502)"/><circle cx="570" cy="487" r="7.5" fill="#5fdfe9" stroke="none" stroke-width="1"/><circle cx="569.5" cy="487" r="4.8" fill="#e6d53a" stroke="none" stroke-width="1"/><circle cx="568.7" cy="486" r="2.2" fill="#f2e45a" stroke="none" stroke-width="1"/><ellipse cx="576.5" cy="487" rx="2" ry="4.5" fill="#e6d53a" opacity="1"/><ellipse cx="590.5" cy="462.5" rx="10.5" ry="10" fill="#e6d53a" opacity="1"/><ellipse cx="588.5" cy="465.5" rx="6.5" ry="5.5" fill="#43d6e4" opacity="1"/><ellipse cx="592" cy="466.5" rx="3.5" ry="3" fill="#5fdfe9" opacity="1"/><ellipse cx="590.5" cy="508" rx="10.5" ry="9.5" fill="#e6d53a" opacity="1"/><ellipse cx="588.5" cy="505" rx="6.5" ry="5.5" fill="#43d6e4" opacity="1"/><ellipse cx="591" cy="504" rx="3.5" ry="3" fill="#5fdfe9" opacity="1"/><ellipse cx="586.5" cy="487" rx="6.5" ry="9.5" fill="#e6d53a" opacity="1"/><ellipse cx="590" cy="487" rx="4.5" ry="7.2" fill="#43d6e4" opacity="1"/><circle cx="594.9" cy="487" r="4.5" fill="#3cc6d4" stroke="none" stroke-width="1"/><circle cx="594" cy="486" r="2" fill="#7fe6ee" stroke="none" stroke-width="1"/><ellipse cx="600.8" cy="487.5" rx="2.4" ry="3.8" fill="#e6d53a" opacity="1"/><ellipse cx="583" cy="476.5" rx="3" ry="2" fill="#e6d53a" opacity="1"/><ellipse cx="583" cy="498" rx="3" ry="2" fill="#e6d53a" opacity="1"/><ellipse cx="598" cy="454.5" rx="5" ry="3" fill="#e6d53a" opacity="1"/><ellipse cx="582" cy="515" rx="4" ry="2" fill="#e6d53a" opacity="1"/><ellipse cx="591" cy="477" rx="6" ry="2.2" fill="#e6d53a" opacity="1"/><ellipse cx="591" cy="497" rx="6" ry="2.2" fill="#e6d53a" opacity="1"/><ellipse cx="601" cy="470" rx="2.5" ry="5" fill="#e6d53a" opacity="1"/><ellipse cx="601" cy="503" rx="2.5" ry="5" fill="#e6d53a" opacity="1"/><ellipse cx="576.5" cy="462" rx="1.8" ry="4" fill="#e6d53a" opacity="1"/><ellipse cx="560" cy="487" rx="1.5" ry="4" fill="#e6d53a" opacity="1"/></g><line x1="583.3" y1="471" x2="583.3" y2="456.9" stroke="#000" stroke-width="0.9"/><path d="M583.3,454.2 L584.8,457.4 L581.8,457.4 Z" fill="#000"/><text x="563" y="451.4" font-size="8.2" fill="#000" stroke="#000" stroke-width="0.1" text-anchor="start">Ru cluster</text><text x="603.3" y="489.7" font-size="8.2" fill="#e8941c" stroke="#e8941c" stroke-width="0.1" text-anchor="start">Ru</text><text x="618.8" y="501.2" font-size="8.2" fill="#9a9a8a" stroke="#9a9a8a" stroke-width="0.1" text-anchor="start">C</text><text x="539.9" y="534" font-size="8.2" fill="#000" stroke="#000" stroke-width="0.1" text-anchor="start">C-Ru, Ru = -0.822 |e|</text><line x1="655.8" y1="505.6" x2="655.8" y2="518.5" stroke="#000" stroke-width="0.8"/><path d="M655.8,521 L654.4,518 L657.2,518 Z" fill="#000"/><text x="639.7" y="531.3" font-size="8.2" fill="#000" stroke="#000" stroke-width="0.1" text-anchor="start">C carrier</text><circle cx="476.5" cy="546.5" r="1.7" fill="#000" stroke="none" stroke-width="1"/><text x="481" y="549.9" font-size="8.2" fill="#000" stroke="#000" stroke-width="0.1" text-anchor="start">High electron density of Ru</text><ellipse cx="530.6" cy="603" rx="56.8" ry="49.8" fill="none" stroke="#333" stroke-width="0.8" stroke-dasharray="1.6,1.6"/><g><line x1="516.1" y1="585.3" x2="531.5" y2="585.3" stroke="#aaa98f" stroke-width="2.4"/><line x1="516.1" y1="585.3" x2="531.5" y2="585.3" stroke="#ecebdf" stroke-width="0.8"/><line x1="531.5" y1="585.3" x2="539.2" y2="599" stroke="#aaa98f" stroke-width="2.4"/><line x1="531.5" y1="585.3" x2="539.2" y2="599" stroke="#ecebdf" stroke-width="0.8"/><line x1="539.2" y1="599" x2="531.5" y2="612.4" stroke="#aaa98f" stroke-width="2.4"/><line x1="539.2" y1="599" x2="531.5" y2="612.4" stroke="#ecebdf" stroke-width="0.8"/><line x1="531.5" y1="612.4" x2="516.1" y2="612.4" stroke="#aaa98f" stroke-width="2.4"/><line x1="531.5" y1="612.4" x2="516.1" y2="612.4" stroke="#ecebdf" stroke-width="0.8"/><line x1="516.1" y1="612.4" x2="508.2" y2="599" stroke="#aaa98f" stroke-width="2.4"/><line x1="516.1" y1="612.4" x2="508.2" y2="599" stroke="#ecebdf" stroke-width="0.8"/><line x1="508.2" y1="599" x2="516.1" y2="585.3" stroke="#aaa98f" stroke-width="2.4"/><line x1="508.2" y1="599" x2="516.1" y2="585.3" stroke="#ecebdf" stroke-width="0.8"/><line x1="516.1" y1="585.3" x2="507.3" y2="570.4" stroke="#aaa98f" stroke-width="2.4"/><line x1="516.1" y1="585.3" x2="507.3" y2="570.4" stroke="#ecebdf" stroke-width="0.8"/><line x1="539.2" y1="599" x2="556" y2="599" stroke="#aaa98f" stroke-width="2.4"/><line x1="539.2" y1="599" x2="556" y2="599" stroke="#ecebdf" stroke-width="0.8"/><line x1="516.1" y1="612.4" x2="507" y2="626.5" stroke="#aaa98f" stroke-width="2.4"/><line x1="516.1" y1="612.4" x2="507" y2="626.5" stroke="#ecebdf" stroke-width="0.8"/><line x1="507.3" y1="570.4" x2="514.3" y2="558.1" stroke="#bf9fd6" stroke-width="2.3"/><line x1="507.3" y1="570.4" x2="514.3" y2="558.1" stroke="#f4eef8" stroke-width="0.7"/><line x1="507.3" y1="570.4" x2="492.4" y2="571.6" stroke="#bf9fd6" stroke-width="2.3"/><line x1="507.3" y1="570.4" x2="492.4" y2="571.6" stroke="#f4eef8" stroke-width="0.7"/><line x1="556" y1="599" x2="563.4" y2="586.7" stroke="#bf9fd6" stroke-width="2.3"/><line x1="556" y1="599" x2="563.4" y2="586.7" stroke="#f4eef8" stroke-width="0.7"/><line x1="556" y1="599" x2="563.4" y2="611.6" stroke="#bf9fd6" stroke-width="2.3"/><line x1="556" y1="599" x2="563.4" y2="611.6" stroke="#f4eef8" stroke-width="0.7"/><line x1="507" y1="626.5" x2="493.3" y2="627" stroke="#bf9fd6" stroke-width="2.3"/><line x1="507" y1="626.5" x2="493.3" y2="627" stroke="#f4eef8" stroke-width="0.7"/><line x1="507" y1="626.5" x2="515.7" y2="638.7" stroke="#bf9fd6" stroke-width="2.3"/><line x1="507" y1="626.5" x2="515.7" y2="638.7" stroke="#f4eef8" stroke-width="0.7"/><line x1="488.9" y1="561.6" x2="492.4" y2="571.6" stroke="#d0d0c8" stroke-width="1.6"/><line x1="538" y1="574.8" x2="531.5" y2="585.3" stroke="#d0d0c8" stroke-width="1.6"/><line x1="495" y1="599" x2="508.2" y2="599" stroke="#d0d0c8" stroke-width="1.6"/><line x1="538" y1="623" x2="531.5" y2="612.4" stroke="#d0d0c8" stroke-width="1.6"/><line x1="509" y1="647.5" x2="515.7" y2="638.7" stroke="#d0d0c8" stroke-width="1.6"/><line x1="563.4" y1="586.7" x2="583.1" y2="599.4" stroke="#c9b0dc" stroke-width="2.0"/><line x1="573.25" y1="593.05" x2="583.1" y2="599.4" stroke="#3a8ee0" stroke-width="2.0"/><line x1="563.4" y1="611.6" x2="583.1" y2="599.4" stroke="#c9b0dc" stroke-width="2.0"/><line x1="573.25" y1="605.5" x2="583.1" y2="599.4" stroke="#3a8ee0" stroke-width="2.0"/><circle cx="516.1" cy="585.3" r="2.9" fill="url(#ballG)" stroke="#77765f" stroke-width="0.4"/><circle cx="531.5" cy="585.3" r="2.9" fill="url(#ballG)" stroke="#77765f" stroke-width="0.4"/><circle cx="539.2" cy="599" r="2.9" fill="url(#ballG)" stroke="#77765f" stroke-width="0.4"/><circle cx="531.5" cy="612.4" r="2.9" fill="url(#ballG)" stroke="#77765f" stroke-width="0.4"/><circle cx="516.1" cy="612.4" r="2.9" fill="url(#ballG)" stroke="#77765f" stroke-width="0.4"/><circle cx="508.2" cy="599" r="2.9" fill="url(#ballG)" stroke="#77765f" stroke-width="0.4"/><circle cx="507.3" cy="570.4" r="2.9" fill="url(#ballG)" stroke="#77765f" stroke-width="0.4"/><circle cx="556" cy="599" r="2.9" fill="url(#ballG)" stroke="#77765f" stroke-width="0.4"/><circle cx="507" cy="626.5" r="2.9" fill="url(#ballG)" stroke="#77765f" stroke-width="0.4"/><circle cx="514.3" cy="558.1" r="2.6" fill="url(#ballO)" stroke="#8a68a8" stroke-width="0.4"/><circle cx="492.4" cy="571.6" r="2.6" fill="url(#ballO)" stroke="#8a68a8" stroke-width="0.4"/><circle cx="563.4" cy="586.7" r="2.6" fill="url(#ballO)" stroke="#8a68a8" stroke-width="0.4"/><circle cx="563.4" cy="611.6" r="2.6" fill="url(#ballO)" stroke="#8a68a8" stroke-width="0.4"/><circle cx="493.3" cy="627" r="2.6" fill="url(#ballO)" stroke="#8a68a8" stroke-width="0.4"/><circle cx="515.7" cy="638.7" r="2.6" fill="url(#ballO)" stroke="#8a68a8" stroke-width="0.4"/><circle cx="488.9" cy="561.6" r="1.8" fill="url(#ballH)" stroke="#999" stroke-width="0.4"/><circle cx="538" cy="574.8" r="1.8" fill="url(#ballH)" stroke="#999" stroke-width="0.4"/><circle cx="495" cy="599" r="1.8" fill="url(#ballH)" stroke="#999" stroke-width="0.4"/><circle cx="538" cy="623" r="1.8" fill="url(#ballH)" stroke="#999" stroke-width="0.4"/><circle cx="509" cy="647.5" r="1.8" fill="url(#ballH)" stroke="#999" stroke-width="0.4"/></g><g><path d="M598,571 C603,574 606,584 606.5,596 C607,608 605,618 598,624 C593,622 591,618 594,612 C597,604 597.5,596 596.5,588 C595.5,581 593,575 598,571 Z" fill="#e6d53a"/><path d="M598.5,575 C601,584 602,596 601.5,606 C601,614 599,619 598,622" fill="none" stroke="#cdbd2a" stroke-width="0.9"/><ellipse cx="592.5" cy="612" rx="6" ry="8.5" fill="#e6d53a"/><ellipse cx="591" cy="588" rx="4" ry="5" fill="#e6d53a"/><path d="M580.5,593 C583,588 589,587 594,590 C595.5,597 595.5,603 594,609 C589,612 583,611 580.5,606 Z" fill="#43d6e4"/><circle cx="583.1" cy="599.4" r="3.9" fill="url(#ballMn)" stroke="none" stroke-width="1"/><line x1="589.5" y1="591" x2="589.5" y2="608" stroke="#1a5a6a" stroke-width="0.8" stroke-dasharray="0.9,1.1"/><circle cx="615.48" cy="580.67" r="2.16" fill="#43d6e4" stroke="none" stroke-width="1"/><circle cx="603.69" cy="574.68" r="2.9" fill="#43d6e4" stroke="none" stroke-width="1"/><circle cx="613.54" cy="576.87" r="2.41" fill="#43d6e4" stroke="none" stroke-width="1"/><circle cx="610.32" cy="570.38" r="2.81" fill="#e6d53a" stroke="none" stroke-width="1"/><circle cx="611.16" cy="583.16" r="1.84" fill="#43d6e4" stroke="none" stroke-width="1"/><circle cx="616.68" cy="575.58" r="2.33" fill="#43d6e4" stroke="none" stroke-width="1"/><circle cx="611.29" cy="580.55" r="2.11" fill="#e6d53a" stroke="none" stroke-width="1"/><circle cx="603.95" cy="576.99" r="2.12" fill="#e6d53a" stroke="none" stroke-width="1"/><circle cx="611.24" cy="580.74" r="1.83" fill="#e6d53a" stroke="none" stroke-width="1"/><circle cx="613.58" cy="568.67" r="2.06" fill="#43d6e4" stroke="none" stroke-width="1"/><circle cx="618.31" cy="574.11" r="2.27" fill="#e6d53a" stroke="none" stroke-width="1"/><circle cx="608.65" cy="567.03" r="2.39" fill="#43d6e4" stroke="none" stroke-width="1"/><circle cx="613.56" cy="568.02" r="2.62" fill="#e6d53a" stroke="none" stroke-width="1"/><circle cx="616.1" cy="568.95" r="2.62" fill="#e6d53a" stroke="none" stroke-width="1"/><circle cx="615.18" cy="575.64" r="2.38" fill="#43d6e4" stroke="none" stroke-width="1"/><circle cx="613.16" cy="580.52" r="2.74" fill="#43d6e4" stroke="none" stroke-width="1"/><circle cx="605.58" cy="578.94" r="2.89" fill="#e6d53a" stroke="none" stroke-width="1"/><circle cx="604.01" cy="573.71" r="1.84" fill="#e6d53a" stroke="none" stroke-width="1"/><circle cx="610" cy="574.5" r="5.4" fill="url(#ballRu)" stroke="none" stroke-width="1"/><ellipse cx="613.48" cy="575.47" rx="1.79" ry="1.31" fill="#43d6e4" opacity="0.9"/><ellipse cx="611.44" cy="577.14" rx="1.97" ry="1.43" fill="#43d6e4" opacity="0.9"/><ellipse cx="611.4" cy="572.81" rx="2.15" ry="1.46" fill="#43d6e4" opacity="0.9"/><ellipse cx="607.77" cy="575.09" rx="2.16" ry="1" fill="#43d6e4" opacity="0.9"/><ellipse cx="610.83" cy="570.63" rx="1.94" ry="1.65" fill="#43d6e4" opacity="0.9"/><ellipse cx="606.84" cy="574.13" rx="1.26" ry="1.7" fill="#e6d53a" opacity="0.9"/><ellipse cx="608.1" cy="573.61" rx="1.68" ry="1.29" fill="#43d6e4" opacity="0.9"/><ellipse cx="608.23" cy="577.06" rx="1.81" ry="1.37" fill="#43d6e4" opacity="0.9"/><ellipse cx="612.16" cy="574.88" rx="1.78" ry="1.69" fill="#e6d53a" opacity="0.9"/><circle cx="615.2" cy="596.3" r="8" fill="#43d6e4" stroke="none" stroke-width="1"/><circle cx="615.2" cy="596.3" r="5.2" fill="#8fe6ef" stroke="none" stroke-width="1"/><circle cx="616" cy="596.8" r="4.6" fill="#e6d53a" stroke="none" stroke-width="1"/><circle cx="614.8" cy="595.5" r="2" fill="#f2e45a" stroke="none" stroke-width="1"/><path d="M607,586 C610,582 618,582 620,588 L617,590 C614,587 610,587 608,590 Z" fill="#43d6e4"/><circle cx="641.71" cy="588.11" r="1.92" fill="#e6d53a" stroke="none" stroke-width="1"/><circle cx="637.25" cy="583.87" r="2.23" fill="#43d6e4" stroke="none" stroke-width="1"/><circle cx="627.73" cy="586.13" r="2.02" fill="#e6d53a" stroke="none" stroke-width="1"/><circle cx="627.82" cy="593.05" r="3.19" fill="#43d6e4" stroke="none" stroke-width="1"/><circle cx="639.74" cy="588.38" r="2.18" fill="#e6d53a" stroke="none" stroke-width="1"/><circle cx="637.45" cy="591.45" r="2.25" fill="#e6d53a" stroke="none" stroke-width="1"/><circle cx="627.12" cy="596.3" r="2.58" fill="#e6d53a" stroke="none" stroke-width="1"/><circle cx="633.67" cy="594.73" r="1.99" fill="#e6d53a" stroke="none" stroke-width="1"/><circle cx="624.32" cy="589.92" r="2.05" fill="#43d6e4" stroke="none" stroke-width="1"/><circle cx="639.58" cy="585.53" r="3.07" fill="#43d6e4" stroke="none" stroke-width="1"/><circle cx="633.94" cy="582.55" r="3.17" fill="#e6d53a" stroke="none" stroke-width="1"/><circle cx="638.07" cy="589.34" r="2.8" fill="#43d6e4" stroke="none" stroke-width="1"/><circle cx="626.79" cy="592.11" r="3.09" fill="#e6d53a" stroke="none" stroke-width="1"/><circle cx="625.12" cy="590.46" r="3.04" fill="#e6d53a" stroke="none" stroke-width="1"/><circle cx="633.3" cy="590.5" r="5.4" fill="url(#ballRu)" stroke="none" stroke-width="1"/><ellipse cx="635.63" cy="588.8" rx="2.12" ry="1.58" fill="#43d6e4" opacity="0.9"/><ellipse cx="631.14" cy="590.68" rx="1.9" ry="1.13" fill="#e6d53a" opacity="0.9"/><ellipse cx="635.23" cy="589.24" rx="1.51" ry="1.77" fill="#43d6e4" opacity="0.9"/><ellipse cx="632.48" cy="587.6" rx="1.85" ry="1.47" fill="#43d6e4" opacity="0.9"/><ellipse cx="632.5" cy="592.47" rx="2.13" ry="1.5" fill="#43d6e4" opacity="0.9"/><ellipse cx="636.83" cy="592.31" rx="2.11" ry="1.15" fill="#43d6e4" opacity="0.9"/><ellipse cx="633.25" cy="588.82" rx="1.47" ry="1.18" fill="#43d6e4" opacity="0.9"/><circle cx="631.58" cy="619.96" r="2.65" fill="#e6d53a" stroke="none" stroke-width="1"/><circle cx="627.45" cy="608.72" r="2.97" fill="#e6d53a" stroke="none" stroke-width="1"/><circle cx="630.65" cy="618.26" r="2.46" fill="#43d6e4" stroke="none" stroke-width="1"/><circle cx="634.78" cy="606.05" r="2.01" fill="#43d6e4" stroke="none" stroke-width="1"/><circle cx="624.73" cy="605.2" r="2.84" fill="#e6d53a" stroke="none" stroke-width="1"/><circle cx="628.62" cy="607.87" r="2.63" fill="#43d6e4" stroke="none" stroke-width="1"/><circle cx="629.47" cy="616.9" r="2.46" fill="#43d6e4" stroke="none" stroke-width="1"/><circle cx="629.15" cy="602.95" r="3.09" fill="#43d6e4" stroke="none" stroke-width="1"/><circle cx="623.81" cy="617.88" r="3.11" fill="#e6d53a" stroke="none" stroke-width="1"/><circle cx="634.77" cy="608.7" r="2.1" fill="#e6d53a" stroke="none" stroke-width="1"/><circle cx="637.92" cy="610.78" r="2.22" fill="#43d6e4" stroke="none" stroke-width="1"/><circle cx="624.2" cy="611.99" r="2.62" fill="#e6d53a" stroke="none" stroke-width="1"/><circle cx="622.65" cy="607.42" r="3.1" fill="#43d6e4" stroke="none" stroke-width="1"/><circle cx="637.29" cy="604.33" r="2.03" fill="#43d6e4" stroke="none" stroke-width="1"/><circle cx="637.41" cy="604.62" r="2.6" fill="#43d6e4" stroke="none" stroke-width="1"/><circle cx="629.68" cy="606.61" r="2.6" fill="#43d6e4" stroke="none" stroke-width="1"/><circle cx="629.91" cy="617.2" r="3.19" fill="#43d6e4" stroke="none" stroke-width="1"/><circle cx="638.73" cy="617.1" r="2.01" fill="#e6d53a" stroke="none" stroke-width="1"/><circle cx="628.57" cy="620.89" r="1.86" fill="#43d6e4" stroke="none" stroke-width="1"/><circle cx="627.3" cy="609.06" r="2.26" fill="#43d6e4" stroke="none" stroke-width="1"/><circle cx="631" cy="612.3" r="6.12" fill="url(#ballRu)" stroke="none" stroke-width="1"/><ellipse cx="634.69" cy="608.87" rx="2.2" ry="1.25" fill="#43d6e4" opacity="0.9"/><ellipse cx="634.31" cy="614.04" rx="1.4" ry="1.33" fill="#e6d53a" opacity="0.9"/><ellipse cx="629.29" cy="610.87" rx="2.07" ry="1.25" fill="#e6d53a" opacity="0.9"/><ellipse cx="635.59" cy="611.08" rx="1.66" ry="1.42" fill="#e6d53a" opacity="0.9"/><ellipse cx="628.7" cy="609.37" rx="1.82" ry="1.75" fill="#43d6e4" opacity="0.9"/><ellipse cx="627.84" cy="612.16" rx="1.44" ry="1.24" fill="#43d6e4" opacity="0.9"/><ellipse cx="634.44" cy="611.82" rx="1.21" ry="1.33" fill="#43d6e4" opacity="0.9"/><ellipse cx="629.45" cy="611.45" rx="1.83" ry="1.05" fill="#43d6e4" opacity="0.9"/><ellipse cx="628.71" cy="609.94" rx="1.55" ry="1.57" fill="#43d6e4" opacity="0.9"/><ellipse cx="630.87" cy="610.53" rx="1.88" ry="1.77" fill="#e6d53a" opacity="0.9"/><circle cx="606.26" cy="626.22" r="2.02" fill="#e6d53a" stroke="none" stroke-width="1"/><circle cx="612.1" cy="623.8" r="2.92" fill="#43d6e4" stroke="none" stroke-width="1"/><circle cx="606.36" cy="615.13" r="2.19" fill="#e6d53a" stroke="none" stroke-width="1"/><circle cx="608.26" cy="625.65" r="3.1" fill="#e6d53a" stroke="none" stroke-width="1"/><circle cx="610.14" cy="612.97" r="2.07" fill="#43d6e4" stroke="none" stroke-width="1"/><circle cx="602.81" cy="628.57" r="3" fill="#43d6e4" stroke="none" stroke-width="1"/><circle cx="609.56" cy="617.47" r="2.74" fill="#43d6e4" stroke="none" stroke-width="1"/><circle cx="600.15" cy="620.79" r="1.93" fill="#e6d53a" stroke="none" stroke-width="1"/><circle cx="614.47" cy="617.22" r="2.22" fill="#e6d53a" stroke="none" stroke-width="1"/><circle cx="612.39" cy="616.75" r="2.99" fill="#43d6e4" stroke="none" stroke-width="1"/><circle cx="598.85" cy="620.63" r="2.4" fill="#e6d53a" stroke="none" stroke-width="1"/><circle cx="609.16" cy="626.4" r="1.86" fill="#43d6e4" stroke="none" stroke-width="1"/><circle cx="613.59" cy="623.33" r="2.55" fill="#e6d53a" stroke="none" stroke-width="1"/><circle cx="599.34" cy="622.18" r="2.07" fill="#43d6e4" stroke="none" stroke-width="1"/><circle cx="600.85" cy="624.02" r="2.19" fill="#43d6e4" stroke="none" stroke-width="1"/><circle cx="600.37" cy="627.93" r="2.58" fill="#e6d53a" stroke="none" stroke-width="1"/><circle cx="610.12" cy="618.04" r="2.12" fill="#e6d53a" stroke="none" stroke-width="1"/><circle cx="606.57" cy="612.96" r="2.26" fill="#e6d53a" stroke="none" stroke-width="1"/><circle cx="608.97" cy="627.48" r="2.78" fill="#e6d53a" stroke="none" stroke-width="1"/><circle cx="613.7" cy="614.95" r="3.14" fill="#43d6e4" stroke="none" stroke-width="1"/><circle cx="605.8" cy="621" r="6.12" fill="url(#ballRu)" stroke="none" stroke-width="1"/><ellipse cx="608.47" cy="621.31" rx="1.98" ry="1.33" fill="#43d6e4" opacity="0.9"/><ellipse cx="609.37" cy="619.67" rx="1.49" ry="1.15" fill="#43d6e4" opacity="0.9"/><ellipse cx="603.77" cy="621.74" rx="2.16" ry="1.27" fill="#e6d53a" opacity="0.9"/><ellipse cx="607.65" cy="621.11" rx="1.98" ry="1.29" fill="#e6d53a" opacity="0.9"/><ellipse cx="605.29" cy="622.97" rx="1.62" ry="1.17" fill="#43d6e4" opacity="0.9"/><ellipse cx="607.56" cy="621.69" rx="1.88" ry="1.12" fill="#e6d53a" opacity="0.9"/><ellipse cx="609.06" cy="621.86" rx="2.2" ry="1.1" fill="#e6d53a" opacity="0.9"/><ellipse cx="601.54" cy="620.21" rx="2.19" ry="1.38" fill="#e6d53a" opacity="0.9"/><ellipse cx="605.96" cy="624.09" rx="1.62" ry="1.2" fill="#e6d53a" opacity="0.9"/><ellipse cx="609.27" cy="618.1" rx="1.23" ry="1.2" fill="#e6d53a" opacity="0.9"/><circle cx="648.18" cy="601.56" r="3.12" fill="#43d6e4" stroke="none" stroke-width="1"/><circle cx="654.51" cy="597.5" r="2.45" fill="#e6d53a" stroke="none" stroke-width="1"/><circle cx="663.85" cy="605.18" r="1.96" fill="#43d6e4" stroke="none" stroke-width="1"/><circle cx="648.58" cy="609.7" r="2.6" fill="#e6d53a" stroke="none" stroke-width="1"/><circle cx="661.74" cy="608.94" r="3.08" fill="#e6d53a" stroke="none" stroke-width="1"/><circle cx="655.81" cy="602.22" r="1.99" fill="#43d6e4" stroke="none" stroke-width="1"/><circle cx="650.76" cy="604.36" r="3.02" fill="#e6d53a" stroke="none" stroke-width="1"/><circle cx="656.85" cy="614.74" r="3.02" fill="#43d6e4" stroke="none" stroke-width="1"/><circle cx="652.47" cy="619.22" r="2.75" fill="#e6d53a" stroke="none" stroke-width="1"/><circle cx="658.29" cy="618.99" r="3.15" fill="#43d6e4" stroke="none" stroke-width="1"/><circle cx="660.75" cy="604.02" r="2.03" fill="#e6d53a" stroke="none" stroke-width="1"/><circle cx="658.63" cy="612.86" r="2.64" fill="#e6d53a" stroke="none" stroke-width="1"/><circle cx="664.61" cy="608.6" r="2.23" fill="#e6d53a" stroke="none" stroke-width="1"/><circle cx="658.62" cy="600.95" r="2.47" fill="#e6d53a" stroke="none" stroke-width="1"/><circle cx="653.63" cy="603.05" r="1.83" fill="#43d6e4" stroke="none" stroke-width="1"/><circle cx="655.19" cy="597.96" r="2.9" fill="#e6d53a" stroke="none" stroke-width="1"/><circle cx="649.33" cy="614.96" r="1.87" fill="#e6d53a" stroke="none" stroke-width="1"/><circle cx="659.88" cy="618.49" r="2.86" fill="#e6d53a" stroke="none" stroke-width="1"/><circle cx="665.18" cy="603.68" r="2.3" fill="#e6d53a" stroke="none" stroke-width="1"/><circle cx="645.31" cy="606.85" r="2.85" fill="#e6d53a" stroke="none" stroke-width="1"/><circle cx="658.28" cy="598.33" r="3.12" fill="#e6d53a" stroke="none" stroke-width="1"/><circle cx="661.36" cy="612.37" r="3.09" fill="#43d6e4" stroke="none" stroke-width="1"/><circle cx="655.2" cy="608.4" r="6.84" fill="url(#ballRu)" stroke="none" stroke-width="1"/><ellipse cx="652.3" cy="612.97" rx="1.51" ry="1.25" fill="#43d6e4" opacity="0.9"/><ellipse cx="656.17" cy="610.37" rx="1.89" ry="1.8" fill="#e6d53a" opacity="0.9"/><ellipse cx="656.3" cy="610.17" rx="1.73" ry="1.32" fill="#43d6e4" opacity="0.9"/><ellipse cx="655.53" cy="612.54" rx="1.66" ry="1.34" fill="#43d6e4" opacity="0.9"/><ellipse cx="660.25" cy="610.25" rx="1.69" ry="1.67" fill="#e6d53a" opacity="0.9"/><ellipse cx="658.39" cy="611.82" rx="1.83" ry="1.63" fill="#43d6e4" opacity="0.9"/><ellipse cx="657.98" cy="610.61" rx="2.04" ry="1.24" fill="#e6d53a" opacity="0.9"/><ellipse cx="649.75" cy="610.05" rx="2.18" ry="1.36" fill="#43d6e4" opacity="0.9"/><ellipse cx="650.54" cy="608.75" rx="1.49" ry="1.32" fill="#e6d53a" opacity="0.9"/><ellipse cx="657.22" cy="611.05" rx="2.16" ry="1.5" fill="#43d6e4" opacity="0.9"/><ellipse cx="652.01" cy="608.41" rx="1.47" ry="1.63" fill="#e6d53a" opacity="0.9"/></g><path d="M596.2,632.3 L596.2,639.1 L661.4,639.1 L661.4,632.3" fill="none" stroke="#777" stroke-width="0.8" stroke-linejoin="round"/><text x="613.2" y="648.7" font-size="8.2" fill="#000" stroke="#000" stroke-width="0.1" text-anchor="start">Ru cluster</text><text x="636.8" y="582.2" font-size="8.2" fill="#e8941c" stroke="#e8941c" stroke-width="0.1" text-anchor="start">Ru</text><text x="528.3" y="573.9" font-size="8.2" fill="#aaa" stroke="#aaa" stroke-width="0.1" text-anchor="start">H</text><text x="546.7" y="595.8" font-size="8.2" fill="#8f8f76" stroke="#8f8f76" stroke-width="0.1" text-anchor="start">C</text><text x="555.5" y="585.3" font-size="8.2" fill="#b58ad6" stroke="#b58ad6" stroke-width="0.1" text-anchor="start">O</text><text x="571.2" y="587" font-size="8.2" fill="#3a8ee0" stroke="#3a8ee0" stroke-width="0.1" text-anchor="start">Mn</text><text x="521" y="634.4" font-size="8.2" fill="#000" stroke="#000" stroke-width="0.1" text-anchor="start">Mn-BTC ligand</text><text x="529.6" y="664.5" font-size="8.2" fill="#000" stroke="#000" stroke-width="0.1" text-anchor="start">MnBTC-Ru, Ru = 0.407 |e|</text>
<text x="8" y="10.2" font-size="13.5" fill="#000" stroke="#000" stroke-width="0.1" text-anchor="start">a</text><text x="239" y="10.2" font-size="13.5" fill="#000" stroke="#000" stroke-width="0.1" text-anchor="start">b</text><text x="468.5" y="10.2" font-size="13.5" fill="#000" stroke="#000" stroke-width="0.1" text-anchor="start">c</text><text x="7.5" y="191.2" font-size="13.5" fill="#000" stroke="#000" stroke-width="0.1" text-anchor="start">d</text><text x="239" y="191.2" font-size="13.5" fill="#000" stroke="#000" stroke-width="0.1" text-anchor="start">e</text><text x="375.5" y="191.2" font-size="13.5" fill="#000" stroke="#000" stroke-width="0.1" text-anchor="start">f</text><text x="7.5" y="442" font-size="13.5" fill="#000" stroke="#000" stroke-width="0.1" text-anchor="start">g</text><text x="238" y="442" font-size="13.5" fill="#000" stroke="#000" stroke-width="0.1" text-anchor="start">h</text><text x="456" y="442" font-size="13.5" fill="#000" stroke="#000" stroke-width="0.1" text-anchor="start">i</text>
</svg>
</body></html>
